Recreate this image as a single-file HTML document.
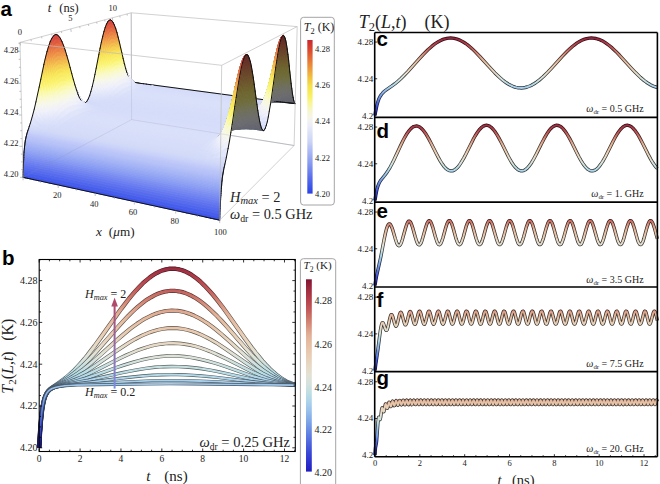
<!DOCTYPE html>
<html><head><meta charset="utf-8"><style>
html,body{margin:0;padding:0;background:#fff;width:660px;height:484px;overflow:hidden}
svg{display:block}
.srf path{fill:currentColor;stroke:currentColor;stroke-width:.9;stroke-linejoin:round}
.srf path.bl{fill:none;stroke:#111;stroke-width:1.0;stroke-linecap:round}
</style></head><body>
<svg width="660" height="484" viewBox="0 0 660 484" font-family="Liberation Serif">
<rect width="660" height="484" fill="#fff"/>
<path d="M131.2,12.8L131.6,119.6M131.6,119.6L294.1,145.5M23.1,177.3L131.6,119.6" stroke="#b8b8b8" stroke-width="0.8" fill="none"/>
<g class="srf">
<path color="#62646f" d="M130.3 80.9 130.6 81.0 131.8 82.0 131.4 81.9Z"/>
<path color="#62646f" d="M130.6 81.0 130.9 81.1 132.1 82.0 131.8 82.0Z"/>
<path color="#62646f" d="M130.9 81.1 131.3 81.3 132.4 82.1 132.1 82.0Z"/>
<path color="#61646f" d="M131.3 81.3 131.6 81.4 132.8 82.1 132.4 82.1Z"/>
<path color="#61646f" d="M131.6 81.4 132.0 81.6 133.2 82.2 132.8 82.1Z"/>
<path color="#61646f" d="M132.0 81.6 132.4 81.7 133.6 82.3 133.2 82.2Z"/>
<path color="#61646f" d="M132.4 81.7 132.9 81.9 134.0 82.4 133.6 82.3Z"/>
<path color="#61646f" d="M132.9 81.9 133.4 82.0 134.5 82.4 134.0 82.4Z"/>
<path color="#61646f" d="M133.4 82.0 133.9 82.2 135.1 82.5 134.5 82.4Z"/>
<path color="#61646f" d="M133.9 82.2 134.5 82.3 135.6 82.6 135.1 82.5Z"/>
<path color="#d6ddf9" d="M134.5 82.3 135.1 82.5 136.3 82.7 135.6 82.6Z"/>
<path color="#64666f" d="M129.1 78.9 129.4 79.1 130.6 81.0 130.3 80.9Z"/>
<path color="#63666f" d="M129.4 79.1 129.8 79.4 130.9 81.1 130.6 81.0Z"/>
<path color="#63666f" d="M129.8 79.4 130.1 79.7 131.3 81.3 130.9 81.1Z"/>
<path color="#d6ddf9" d="M135.1 82.5 135.9 82.7 137.0 82.8 136.3 82.7Z"/>
<path color="#63656f" d="M130.1 79.7 130.5 79.9 131.6 81.4 131.3 81.3Z"/>
<path color="#63656f" d="M130.5 79.9 130.9 80.2 132.0 81.6 131.6 81.4Z"/>
<path color="#d6ddf9" d="M135.9 82.7 136.7 82.9 137.9 82.9 137.0 82.8Z"/>
<path color="#63656f" d="M130.9 80.2 131.3 80.5 132.4 81.7 132.0 81.6Z"/>
<path color="#63656f" d="M131.3 80.5 131.7 80.8 132.9 81.9 132.4 81.7Z"/>
<path color="#d6ddf9" d="M136.7 82.9 137.7 83.1 138.8 83.1 137.9 82.9Z"/>
<path color="#62656f" d="M131.7 80.8 132.2 81.1 133.4 82.0 132.9 81.9Z"/>
<path color="#62656f" d="M132.2 81.1 132.8 81.3 133.9 82.2 133.4 82.0Z"/>
<path color="#62656f" d="M132.8 81.3 133.3 81.6 134.5 82.3 133.9 82.2Z"/>
<path color="#d5ddf9" d="M137.7 83.1 138.9 83.4 140.0 83.3 138.8 83.1Z"/>
<path color="#62656f" d="M133.3 81.6 134.0 81.9 135.1 82.5 134.5 82.3Z"/>
<path color="#62646f" d="M134.0 81.9 134.7 82.3 135.9 82.7 135.1 82.5Z"/>
<path color="#d5ddf9" d="M138.9 83.4 140.3 83.7 141.4 83.5 140.0 83.3Z"/>
<path color="#67686f" d="M127.9 76.1 128.3 76.5 129.4 79.1 129.1 78.9Z"/>
<path color="#66686f" d="M128.3 76.5 128.6 76.9 129.8 79.4 129.4 79.1Z"/>
<path color="#66686f" d="M128.6 76.9 128.9 77.4 130.1 79.7 129.8 79.4Z"/>
<path color="#62646f" d="M134.7 82.3 135.6 82.6 136.7 82.9 135.9 82.7Z"/>
<path color="#66676f" d="M128.9 77.4 129.3 77.8 130.5 79.9 130.1 79.7Z"/>
<path color="#65676f" d="M129.3 77.8 129.7 78.3 130.9 80.2 130.5 79.9Z"/>
<path color="#65676f" d="M129.7 78.3 130.1 78.7 131.3 80.5 130.9 80.2Z"/>
<path color="#d7def9" d="M135.6 82.6 136.5 82.9 137.7 83.1 136.7 82.9Z"/>
<path color="#65676f" d="M130.1 78.7 130.6 79.1 131.7 80.8 131.3 80.5Z"/>
<path color="#d5ddf9" d="M140.3 83.7 142.2 84.0 143.4 83.7 141.4 83.5Z"/>
<path color="#64666f" d="M130.6 79.1 131.1 79.6 132.2 81.1 131.7 80.8Z"/>
<path color="#64666f" d="M131.1 79.6 131.6 80.1 132.8 81.3 132.2 81.1Z"/>
<path color="#d7def9" d="M136.5 82.9 137.7 83.3 138.9 83.4 137.7 83.1Z"/>
<path color="#64666f" d="M131.6 80.1 132.2 80.5 133.3 81.6 132.8 81.3Z"/>
<path color="#63666f" d="M132.2 80.5 132.8 81.0 134.0 81.9 133.3 81.6Z"/>
<path color="#d6ddf9" d="M137.7 83.3 139.2 83.7 140.3 83.7 138.9 83.4Z"/>
<path color="#63656f" d="M132.8 81.0 133.6 81.5 134.7 82.3 134.0 81.9Z"/>
<path color="#d5dcf9" d="M142.2 84.0 145.1 84.5 146.3 84.1 143.4 83.7Z"/>
<path color="#63656f" d="M133.6 81.5 134.4 82.0 135.6 82.6 134.7 82.3Z"/>
<path color="#6b6b6f" d="M126.8 72.5 127.1 73.2 128.3 76.5 127.9 76.1Z"/>
<path color="#6a6b6f" d="M127.1 73.2 127.4 73.8 128.6 76.9 128.3 76.5Z"/>
<path color="#d6ddf9" d="M139.2 83.7 141.1 84.2 142.2 84.0 140.3 83.7Z"/>
<path color="#62656f" d="M134.4 82.0 135.4 82.5 136.5 82.9 135.6 82.6Z"/>
<path color="#6a6a6f" d="M127.4 73.8 127.7 74.4 128.9 77.4 128.6 76.9Z"/>
<path color="#696a6f" d="M127.7 74.4 128.1 75.1 129.3 77.8 128.9 77.4Z"/>
<path color="#69696f" d="M128.1 75.1 128.5 75.7 129.7 78.3 129.3 77.8Z"/>
<path color="#68696f" d="M128.5 75.7 128.9 76.4 130.1 78.7 129.7 78.3Z"/>
<path color="#67696f" d="M128.9 76.4 129.4 77.0 130.6 79.1 130.1 78.7Z"/>
<path color="#d9dff9" d="M135.4 82.5 136.6 83.1 137.7 83.3 136.5 82.9Z"/>
<path color="#67686f" d="M129.4 77.0 129.9 77.7 131.1 79.6 130.6 79.1Z"/>
<path color="#66686f" d="M129.9 77.7 130.4 78.4 131.6 80.1 131.1 79.6Z"/>
<path color="#66676f" d="M130.4 78.4 131.0 79.0 132.2 80.5 131.6 80.1Z"/>
<path color="#d8dff9" d="M136.6 83.1 138.0 83.6 139.2 83.7 137.7 83.3Z"/>
<path color="#65676f" d="M131.0 79.0 131.7 79.7 132.8 81.0 132.2 80.5Z"/>
<path color="#d6ddf9" d="M141.1 84.2 144.0 84.8 145.1 84.5 142.2 84.0Z"/>
<path color="#d5dcf9" d="M144.9 84.6 148.6 85.2 150.0 84.6 146.3 84.1Z"/>
<path color="#65676f" d="M131.7 79.7 132.4 80.4 133.6 81.5 132.8 81.0Z"/>
<path color="#64666f" d="M132.4 80.4 133.3 81.1 134.4 82.0 133.6 81.5Z"/>
<path color="#d7def9" d="M138.0 83.6 140.0 84.3 141.1 84.2 139.2 83.7Z"/>
<path color="#64666f" d="M133.3 81.1 134.2 81.9 135.4 82.5 134.4 82.0Z"/>
<path color="#dbe1f9" d="M134.2 81.9 135.4 82.6 136.6 83.1 135.4 82.5Z"/>
<path color="#6d6d6c" d="M125.6 68.3 125.9 69.2 127.1 73.2 126.8 72.5Z"/>
<path color="#6d6d6c" d="M125.9 69.2 126.2 70.1 127.4 73.8 127.1 73.2Z"/>
<path color="#6c6d6d" d="M126.2 70.1 126.6 70.9 127.7 74.4 127.4 73.8Z"/>
<path color="#6c6c6d" d="M126.6 70.9 126.9 71.8 128.1 75.1 127.7 74.4Z"/>
<path color="#6c6c6e" d="M126.9 71.8 127.3 72.7 128.5 75.7 128.1 75.1Z"/>
<path color="#6b6b6f" d="M127.3 72.7 127.7 73.6 128.9 76.4 128.5 75.7Z"/>
<path color="#6b6b6f" d="M127.7 73.6 128.2 74.5 129.4 77.0 128.9 76.4Z"/>
<path color="#6a6b6f" d="M128.2 74.5 128.7 75.4 129.9 77.7 129.4 77.0Z"/>
<path color="#d6ddf9" d="M140.0 84.3 142.9 85.1 144.0 84.8 141.1 84.2Z"/>
<path color="#dae0f9" d="M135.4 82.6 136.9 83.4 138.0 83.6 136.6 83.1Z"/>
<path color="#696a6f" d="M128.7 75.4 129.2 76.3 130.4 78.4 129.9 77.7Z"/>
<path color="#d5dcf9" d="M148.6 85.2 152.4 85.7 153.8 85.1 150.0 84.6Z"/>
<path color="#68696f" d="M129.2 76.3 129.8 77.2 131.0 79.0 130.4 78.4Z"/>
<path color="#67696f" d="M129.8 77.2 130.5 78.2 131.7 79.7 131.0 79.0Z"/>
<path color="#d5ddf9" d="M143.4 85.0 147.2 85.7 148.6 85.2 144.9 84.6Z"/>
<path color="#67686f" d="M130.5 78.2 131.2 79.1 132.4 80.4 131.7 79.7Z"/>
<path color="#d9dff9" d="M136.9 83.4 138.8 84.3 140.0 84.3 138.0 83.6Z"/>
<path color="#66686f" d="M131.2 79.1 132.1 80.1 133.3 81.1 132.4 80.4Z"/>
<path color="#e0e5fa" d="M132.1 80.1 133.1 81.0 134.2 81.9 133.3 81.1Z"/>
<path color="#dee3fa" d="M133.1 81.0 134.2 82.0 135.4 82.6 134.2 81.9Z"/>
<path color="#d7def9" d="M138.8 84.3 141.7 85.3 142.9 85.1 140.0 84.3Z"/>
<path color="#dce2f9" d="M134.2 82.0 135.7 83.1 136.9 83.4 135.4 82.6Z"/>
<path color="#d5dcf9" d="M147.2 85.7 151.0 86.3 152.4 85.7 148.6 85.2Z"/>
<path color="#6e6e6b" d="M125.7 68.1 126.1 69.3 127.3 72.7 126.9 71.8Z"/>
<path color="#6d6d6c" d="M126.1 69.3 126.6 70.5 127.7 73.6 127.3 72.7Z"/>
<path color="#6e6e69" d="M125.3 67.0 125.7 68.1 126.9 71.8 126.6 70.9Z"/>
<path color="#6d6d6c" d="M126.6 70.5 127.0 71.6 128.2 74.5 127.7 73.6Z"/>
<path color="#6e6e67" d="M125.0 65.8 125.3 67.0 126.6 70.9 126.2 70.1Z"/>
<path color="#6e6e64" d="M124.7 64.7 125.0 65.8 126.2 70.1 125.9 69.2Z"/>
<path color="#6c6c6d" d="M127.0 71.6 127.5 72.8 128.7 75.4 128.2 74.5Z"/>
<path color="#6e6e62" d="M124.3 63.5 124.7 64.7 125.9 69.2 125.6 68.3Z"/>
<path color="#6b6c6e" d="M127.5 72.8 128.1 74.0 129.2 76.3 128.7 75.4Z"/>
<path color="#6b6b6f" d="M128.1 74.0 128.6 75.2 129.8 77.2 129.2 76.3Z"/>
<path color="#6a6b6f" d="M128.6 75.2 129.3 76.4 130.5 78.2 129.8 77.2Z"/>
<path color="#dae1f9" d="M135.7 83.1 137.7 84.2 138.8 84.3 136.9 83.4Z"/>
<path color="#eaedfa" d="M129.3 76.4 130.1 77.6 131.2 79.1 130.5 78.2Z"/>
<path color="#d6ddf9" d="M142.0 85.2 145.8 86.1 147.2 85.7 143.4 85.0Z"/>
<path color="#e8eafa" d="M130.1 77.6 130.9 78.8 132.1 80.1 131.2 79.1Z"/>
<path color="#e5e8fa" d="M130.9 78.8 131.9 80.0 133.1 81.0 132.1 80.1Z"/>
<path color="#e2e6fa" d="M131.9 80.0 133.1 81.3 134.2 82.0 133.1 81.0Z"/>
<path color="#d9dff9" d="M137.7 84.2 140.6 85.4 141.7 85.3 138.8 84.3Z"/>
<path color="#dfe4fa" d="M133.1 81.3 134.5 82.6 135.7 83.1 134.2 82.0Z"/>
<path class="bl" d="M131.4 81.9 131.8 82.0"/>
<path color="#d5ddf9" d="M145.8 86.1 149.6 86.9 151.0 86.3 147.2 85.7Z"/>
<path class="bl" d="M131.8 82.0 132.1 82.0"/>
<path color="#dce2fa" d="M134.5 82.6 136.5 84.0 137.7 84.2 135.7 83.1Z"/>
<path class="bl" d="M132.1 82.0 132.4 82.1"/>
<path color="#f7f7ed" d="M125.8 68.5 126.3 70.0 127.5 72.8 127.0 71.6Z"/>
<path color="#f5f6f1" d="M126.3 70.0 126.9 71.5 128.1 74.0 127.5 72.8Z"/>
<path color="#f7f7e6" d="M125.3 67.1 125.8 68.5 127.0 71.6 126.6 70.5Z"/>
<path color="#f4f4f3" d="M126.9 71.5 127.5 72.9 128.6 75.2 128.1 74.0Z"/>
<path color="#f8f8df" d="M124.9 65.6 125.3 67.1 126.6 70.5 126.1 69.3Z"/>
<path color="#f2f2f6" d="M127.5 72.9 128.1 74.4 129.3 76.4 128.6 75.2Z"/>
<path color="#f8f8d8" d="M124.5 64.2 124.9 65.6 126.1 69.3 125.7 68.1Z"/>
<path class="bl" d="M132.4 82.1 132.8 82.1"/>
<path color="#f0f1f9" d="M128.1 74.4 128.9 75.9 130.1 77.6 129.3 76.4Z"/>
<path color="#f9f9d0" d="M124.1 62.7 124.5 64.2 125.7 68.1 125.3 67.0Z"/>
<path color="#d7def9" d="M140.6 85.4 144.4 86.6 145.8 86.1 142.0 85.2Z"/>
<path color="#f9f9c6" d="M123.8 61.3 124.1 62.7 125.3 67.0 125.0 65.8Z"/>
<path color="#edeffb" d="M128.9 75.9 129.7 77.4 130.9 78.8 130.1 77.6Z"/>
<path color="#faf9bb" d="M123.4 59.8 123.8 61.3 125.0 65.8 124.7 64.7Z"/>
<path class="bl" d="M132.8 82.1 133.2 82.2"/>
<path color="#6f6f52" d="M123.1 58.4 123.4 59.8 124.7 64.7 124.3 63.5Z"/>
<path color="#eaecfa" d="M129.7 77.4 130.7 79.0 131.9 80.0 130.9 78.8Z"/>
<path class="bl" d="M133.2 82.2 133.6 82.3M130.3 80.9 131.4 81.9M133.6 82.3 134.0 82.4"/>
<path color="#e6e9fa" d="M130.7 79.0 131.9 80.5 133.1 81.3 131.9 80.0Z"/>
<path color="#dae0f9" d="M136.5 84.0 139.4 85.5 140.6 85.4 137.7 84.2Z"/>
<path class="bl" d="M134.0 82.4 134.5 82.4"/>
<path color="#e2e7fa" d="M131.9 80.5 133.4 82.1 134.5 82.6 133.1 81.3Z"/>
<path class="bl" d="M134.5 82.4 135.1 82.5M135.1 82.5 135.6 82.6"/>
<path color="#dfe4fa" d="M133.4 82.1 135.3 83.8 136.5 84.0 134.5 82.6Z"/>
<path class="bl" d="M135.6 82.6 136.3 82.7"/>
<path color="#d6ddf9" d="M144.4 86.6 148.2 87.4 149.6 86.9 145.8 86.1Z"/>
<path class="bl" d="M136.3 82.7 137.0 82.8"/>
<path color="#f6f6f0" d="M126.2 70.6 126.9 72.4 128.1 74.4 127.5 72.9Z"/>
<path color="#f7f7eb" d="M125.6 68.8 126.2 70.6 127.5 72.9 126.9 71.5Z"/>
<path color="#f3f4f4" d="M126.9 72.4 127.7 74.2 128.9 75.9 128.1 74.4Z"/>
<path color="#f8f8e2" d="M125.1 67.0 125.6 68.8 126.9 71.5 126.3 70.0Z"/>
<path color="#f8f8d9" d="M124.6 65.3 125.1 67.0 126.3 70.0 125.8 68.5Z"/>
<path color="#f1f2f7" d="M127.7 74.2 128.5 76.0 129.7 77.4 128.9 75.9Z"/>
<path color="#d8dff9" d="M139.1 85.5 142.9 86.9 144.4 86.6 140.6 85.4Z"/>
<path color="#f9f9d0" d="M124.1 63.5 124.6 65.3 125.8 68.5 125.3 67.1Z"/>
<path class="bl" d="M137.0 82.8 137.9 82.9"/>
<path color="#eff0fa" d="M128.5 76.0 129.5 77.8 130.7 79.0 129.7 77.4Z"/>
<path color="#f9f9c3" d="M123.7 61.8 124.1 63.5 125.3 67.1 124.9 65.6Z"/>
<path color="#dbe1f9" d="M135.3 83.8 138.3 85.6 139.4 85.5 136.5 84.0Z"/>
<path color="#faf9b5" d="M123.3 60.0 123.7 61.8 124.9 65.6 124.5 64.2Z"/>
<path class="bl" d="M129.1 78.9 130.3 80.9"/>
<path color="#eaecfa" d="M129.5 77.8 130.7 79.7 131.9 80.5 130.7 79.0Z"/>
<path color="#faf9a7" d="M122.9 58.3 123.3 60.0 124.5 64.2 124.1 62.7Z"/>
<path color="#fbf898" d="M122.6 56.5 122.9 58.3 124.1 62.7 123.8 61.3Z"/>
<path class="bl" d="M137.9 82.9 138.8 83.1"/>
<path color="#fbf689" d="M122.2 54.8 122.6 56.5 123.8 61.3 123.4 59.8Z"/>
<path color="#e6e9fa" d="M130.7 79.7 132.2 81.6 133.4 82.1 131.9 80.5Z"/>
<path color="#fbf47b" d="M121.9 53.0 122.2 54.8 123.4 59.8 123.1 58.4Z"/>
<path class="bl" d="M138.8 83.1 140.0 83.3"/>
<path color="#e1e6fa" d="M132.2 81.6 134.2 83.5 135.3 83.8 133.4 82.1Z"/>
<path color="#d6def9" d="M142.9 86.9 146.7 87.9 148.2 87.4 144.4 86.6Z"/>
<path class="bl" d="M140.0 83.3 141.4 83.5"/>
<path color="#dde3fa" d="M134.2 83.5 137.1 85.6 138.3 85.6 135.3 83.8Z"/>
<path color="#f7f7ef" d="M125.7 70.3 126.5 72.4 127.7 74.2 126.9 72.4Z"/>
<path color="#f4f4f3" d="M126.5 72.4 127.3 74.5 128.5 76.0 127.7 74.2Z"/>
<path color="#f8f8e4" d="M125.0 68.2 125.7 70.3 126.9 72.4 126.2 70.6Z"/>
<path color="#f1f2f7" d="M127.3 74.5 128.3 76.6 129.5 77.8 128.5 76.0Z"/>
<path color="#f8f8da" d="M124.4 66.1 125.0 68.2 126.2 70.6 125.6 68.8Z"/>
<path color="#d9e0f9" d="M137.7 85.6 141.5 87.3 142.9 86.9 139.1 85.5Z"/>
<path color="#f9f9cf" d="M123.9 64.0 124.4 66.1 125.6 68.8 125.1 67.0Z"/>
<path color="#eff0fa" d="M128.3 76.6 129.5 78.8 130.7 79.7 129.5 77.8Z"/>
<path color="#f9f9bf" d="M123.4 62.0 123.9 64.0 125.1 67.0 124.6 65.3Z"/>
<path class="bl" d="M141.4 83.5 143.4 83.7"/>
<path color="#faf9ae" d="M122.9 59.9 123.4 62.0 124.6 65.3 124.1 63.5Z"/>
<path color="#e9ecfa" d="M129.5 78.8 131.0 81.0 132.2 81.6 130.7 79.7Z"/>
<path class="bl" d="M127.9 76.1 129.1 78.9"/>
<path color="#fbf89d" d="M122.5 57.8 122.9 59.9 124.1 63.5 123.7 61.8Z"/>
<path color="#fbf68b" d="M122.1 55.8 122.5 57.8 123.7 61.8 123.3 60.0Z"/>
<path color="#fbf47a" d="M121.7 53.7 122.1 55.8 123.3 60.0 122.9 58.3Z"/>
<path color="#e4e8fa" d="M131.0 81.0 133.0 83.3 134.2 83.5 132.2 81.6Z"/>
<path color="#faf16e" d="M121.3 51.7 121.7 53.7 122.9 58.3 122.6 56.5Z"/>
<path color="#faee68" d="M121.0 49.6 121.3 51.7 122.6 56.5 122.2 54.8Z"/>
<path color="#f9ea62" d="M120.6 47.6 121.0 49.6 122.2 54.8 121.9 53.0Z"/>
<path class="bl" d="M143.4 83.7 146.3 84.1"/>
<path color="#dee4fa" d="M133.0 83.3 135.9 85.7 137.1 85.6 134.2 83.5Z"/>
<path color="#d7def9" d="M141.5 87.3 145.3 88.4 146.7 87.9 142.9 86.9Z"/>
<path color="#f7f7ee" d="M125.2 70.6 126.1 73.1 127.3 74.5 126.5 72.4Z"/>
<path color="#f4f4f3" d="M126.1 73.1 127.1 75.5 128.3 76.6 127.3 74.5Z"/>
<path color="#f8f8e1" d="M124.5 68.2 125.2 70.6 126.5 72.4 125.7 70.3Z"/>
<path color="#f1f2f7" d="M127.1 75.5 128.3 78.0 129.5 78.8 128.3 76.6Z"/>
<path color="#f8f8d5" d="M123.8 65.9 124.5 68.2 125.7 70.3 125.0 68.2Z"/>
<path color="#dae0f9" d="M136.2 85.7 140.0 87.6 141.5 87.3 137.7 85.6Z"/>
<path color="#f9f9c5" d="M123.2 63.5 123.8 65.9 125.0 68.2 124.4 66.1Z"/>
<path color="#edeefb" d="M128.3 78.0 129.8 80.5 131.0 81.0 129.5 78.8Z"/>
<path color="#faf9b2" d="M122.7 61.1 123.2 63.5 124.4 66.1 123.9 64.0Z"/>
<path color="#fbf99e" d="M122.1 58.7 122.7 61.1 123.9 64.0 123.4 62.0Z"/>
<path color="#e7eafa" d="M129.8 80.5 131.8 83.0 133.0 83.3 131.0 81.0Z"/>
<path color="#fbf68a" d="M121.7 56.4 122.1 58.7 123.4 62.0 122.9 59.9Z"/>
<path class="bl" d="M126.8 72.5 127.9 76.1"/>
<path color="#fbf475" d="M121.2 54.0 121.7 56.4 122.9 59.9 122.5 57.8Z"/>
<path class="bl" d="M146.3 84.1 150.0 84.6"/>
<path color="#faf06c" d="M120.8 51.6 121.2 54.0 122.5 57.8 122.1 55.8Z"/>
<path color="#f9ec64" d="M120.4 49.3 120.8 51.6 122.1 55.8 121.7 53.7Z"/>
<path color="#e0e5fa" d="M131.8 83.0 134.7 85.7 135.9 85.7 133.0 83.3Z"/>
<path color="#f8e75d" d="M120.1 46.9 120.4 49.3 121.7 53.7 121.3 51.7Z"/>
<path color="#f7e058" d="M119.7 44.6 120.1 46.9 121.3 51.7 121.0 49.6Z"/>
<path color="#d8def9" d="M140.0 87.6 143.9 88.9 145.3 88.4 141.5 87.3Z"/>
<path color="#f6d655" d="M119.4 42.2 119.7 44.6 121.0 49.6 120.6 47.6Z"/>
<path color="#f7f7ef" d="M124.9 71.7 125.9 74.4 127.1 75.5 126.1 73.1Z"/>
<path color="#f3f3f4" d="M125.9 74.4 127.1 77.2 128.3 78.0 127.1 75.5Z"/>
<path color="#f8f8e2" d="M124.0 69.0 124.9 71.7 126.1 73.1 125.2 70.6Z"/>
<path color="#f8f8d4" d="M123.3 66.3 124.0 69.0 125.2 70.6 124.5 68.2Z"/>
<path color="#eff0f9" d="M127.1 77.2 128.6 80.0 129.8 80.5 128.3 78.0Z"/>
<path color="#f9f9c1" d="M122.6 63.6 123.3 66.3 124.5 68.2 123.8 65.9Z"/>
<path color="#dbe1f9" d="M134.7 85.7 138.5 88.0 140.0 87.6 136.2 85.7Z"/>
<path color="#faf9ab" d="M122.0 61.0 122.6 63.6 123.8 65.9 123.2 63.5Z"/>
<path color="#e9ecfa" d="M128.6 80.0 130.6 82.8 131.8 83.0 129.8 80.5Z"/>
<path color="#fbf794" d="M121.4 58.3 122.0 61.0 123.2 63.5 122.7 61.1Z"/>
<path class="bl" d="M150.0 84.6 153.8 85.1"/>
<path color="#fbf57d" d="M120.9 55.7 121.4 58.3 122.7 61.1 122.1 58.7Z"/>
<path color="#faf16d" d="M120.4 53.0 120.9 55.7 122.1 58.7 121.7 56.4Z"/>
<path color="#e2e6fa" d="M130.6 82.8 133.6 85.8 134.7 85.7 131.8 83.0Z"/>
<path color="#f9ec65" d="M120.0 50.3 120.4 53.0 121.7 56.4 121.2 54.0Z"/>
<path class="bl" d="M125.6 68.3 126.8 72.5"/>
<path color="#f8e85e" d="M119.6 47.7 120.0 50.3 121.2 54.0 120.8 51.6Z"/>
<path color="#f7df58" d="M119.2 45.0 119.6 47.7 120.8 51.6 120.4 49.3Z"/>
<path color="#d8dff9" d="M138.5 88.0 142.4 89.5 143.9 88.9 140.0 87.6Z"/>
<path color="#f6d354" d="M118.8 42.4 119.2 45.0 120.4 49.3 120.1 46.9Z"/>
<path color="#f5f5f1" d="M124.7 73.5 125.9 76.5 127.1 77.2 125.9 74.4Z"/>
<path color="#f7f7e7" d="M123.7 70.5 124.7 73.5 125.9 74.4 124.9 71.7Z"/>
<path color="#f1f2f7" d="M125.9 76.5 127.4 79.6 128.6 80.0 127.1 77.2Z"/>
<path color="#f8f8d7" d="M122.8 67.5 123.7 70.5 124.9 71.7 124.0 69.0Z"/>
<path color="#f5c750" d="M118.5 39.8 118.8 42.4 120.1 46.9 119.7 44.6Z"/>
<path color="#f9f9c4" d="M122.0 64.6 122.8 67.5 124.0 69.0 123.3 66.3Z"/>
<path color="#ecedfa" d="M127.4 79.6 129.4 82.7 130.6 82.8 128.6 80.0Z"/>
<path color="#faf9ab" d="M121.4 61.6 122.0 64.6 123.3 66.3 122.6 63.6Z"/>
<path color="#f3ba4e" d="M118.1 37.1 118.5 39.8 119.7 44.6 119.4 42.2Z"/>
<path color="#dce2fa" d="M133.2 85.9 137.1 88.4 138.5 88.0 134.7 85.7Z"/>
<path color="#fbf792" d="M120.7 58.7 121.4 61.6 122.6 63.6 122.0 61.0Z"/>
<path color="#fbf479" d="M120.2 55.8 120.7 58.7 122.0 61.0 121.4 58.3Z"/>
<path color="#e4e8fa" d="M129.4 82.7 132.4 85.9 133.6 85.8 130.6 82.8Z"/>
<path color="#faf06b" d="M119.7 52.9 120.2 55.8 121.4 58.3 120.9 55.7Z"/>
<path color="#f9ea62" d="M119.2 49.9 119.7 52.9 120.9 55.7 120.4 53.0Z"/>
<path color="#f8e55a" d="M118.7 47.0 119.2 49.9 120.4 53.0 120.0 50.3Z"/>
<path color="#f6d855" d="M118.3 44.1 118.7 47.0 120.0 50.3 119.6 47.7Z"/>
<path color="#f7f7ef" d="M123.5 72.7 124.7 76.0 125.9 76.5 124.7 73.5Z"/>
<path color="#f2f3f5" d="M124.7 76.0 126.2 79.3 127.4 79.6 125.9 76.5Z"/>
<path color="#f8f8de" d="M122.4 69.5 123.5 72.7 124.7 73.5 123.7 70.5Z"/>
<path class="bl" d="M124.3 63.5 125.6 68.3"/>
<path color="#d9dff9" d="M137.1 88.4 140.9 90.0 142.4 89.5 138.5 88.0Z"/>
<path color="#f9f9cd" d="M121.6 66.3 122.4 69.5 123.7 70.5 122.8 67.5Z"/>
<path color="#f5cb51" d="M117.9 41.2 118.3 44.1 119.6 47.7 119.2 45.0Z"/>
<path color="#eeeffb" d="M126.2 79.3 128.2 82.6 129.4 82.7 127.4 79.6Z"/>
<path color="#faf9b2" d="M120.8 63.1 121.6 66.3 122.8 67.5 122.0 64.6Z"/>
<path color="#f3bb4e" d="M117.5 38.3 117.9 41.2 119.2 45.0 118.8 42.4Z"/>
<path color="#fbf897" d="M120.1 59.9 120.8 63.1 122.0 64.6 121.4 61.6Z"/>
<path color="#f2ac4c" d="M117.2 35.3 117.5 38.3 118.8 42.4 118.5 39.8Z"/>
<path color="#e5e9fa" d="M128.2 82.6 131.2 86.1 132.4 85.9 129.4 82.7Z"/>
<path color="#fbf47b" d="M119.5 56.8 120.1 59.9 121.4 61.6 120.7 58.7Z"/>
<path color="#dde3fa" d="M131.7 86.0 135.6 88.8 137.1 88.4 133.2 85.9Z"/>
<path color="#ef9d4a" d="M116.9 32.4 117.2 35.3 118.5 39.8 118.1 37.1Z"/>
<path color="#faf06b" d="M118.9 53.6 119.5 56.8 120.7 58.7 120.2 55.8Z"/>
<path color="#f9ea61" d="M118.4 50.4 118.9 53.6 120.2 55.8 119.7 52.9Z"/>
<path color="#f8e259" d="M117.9 47.3 118.4 50.4 119.7 52.9 119.2 49.9Z"/>
<path color="#f7f7e9" d="M122.2 72.2 123.4 75.6 124.7 76.0 123.5 72.7Z"/>
<path color="#f4f4f3" d="M123.4 75.6 125.0 79.1 126.2 79.3 124.7 76.0Z"/>
<path color="#f6d454" d="M117.5 44.1 117.9 47.3 119.2 49.9 118.7 47.0Z"/>
<path color="#f8f8d7" d="M121.2 68.7 122.2 72.2 123.5 72.7 122.4 69.5Z"/>
<path color="#eff0fa" d="M125.0 79.1 127.0 82.7 128.2 82.6 126.2 79.3Z"/>
<path color="#f9f9c0" d="M120.3 65.3 121.2 68.7 122.4 69.5 121.6 66.3Z"/>
<path color="#f5c650" d="M117.1 40.9 117.5 44.1 118.7 47.0 118.3 44.1Z"/>
<path color="#d9e0f9" d="M135.6 88.8 139.4 90.5 140.9 90.0 137.1 88.4Z"/>
<path color="#fbf9a3" d="M119.5 61.9 120.3 65.3 121.6 66.3 120.8 63.1Z"/>
<path color="#f3b54e" d="M116.7 37.8 117.1 40.9 118.3 44.1 117.9 41.2Z"/>
<path color="#e6eafa" d="M127.0 82.7 129.9 86.4 131.2 86.1 128.2 82.6Z"/>
<path color="#fbf685" d="M118.9 58.6 119.5 61.9 120.8 63.1 120.1 59.9Z"/>
<path color="#f1a44b" d="M116.3 34.6 116.7 37.8 117.9 41.2 117.5 38.3Z"/>
<path class="bl" d="M123.1 58.4 124.3 63.5"/>
<path color="#faf16e" d="M118.2 55.2 118.9 58.6 120.1 59.9 119.5 56.8Z"/>
<path color="#dee4fa" d="M130.2 86.3 134.1 89.3 135.6 88.8 131.7 86.0Z"/>
<path color="#ee9349" d="M115.9 31.5 116.3 34.6 117.5 38.3 117.2 35.3Z"/>
<path color="#f9eb64" d="M117.7 51.8 118.2 55.2 119.5 56.8 118.9 53.6Z"/>
<path color="#ea8346" d="M115.6 28.3 115.9 31.5 117.2 35.3 116.9 32.4Z"/>
<path color="#f8e55a" d="M117.1 48.4 117.7 51.8 118.9 53.6 118.4 50.4Z"/>
<path color="#f5f5f2" d="M122.2 75.4 123.7 79.1 125.0 79.1 123.4 75.6Z"/>
<path color="#f8f8e4" d="M121.0 71.8 122.2 75.4 123.4 75.6 122.2 72.2Z"/>
<path color="#f6d655" d="M116.7 45.1 117.1 48.4 118.4 50.4 117.9 47.3Z"/>
<path color="#f0f1f9" d="M123.7 79.1 125.7 82.8 127.0 82.7 125.0 79.1Z"/>
<path color="#f9f9d1" d="M120.0 68.2 121.0 71.8 122.2 72.2 121.2 68.7Z"/>
<path color="#faf9b5" d="M119.1 64.7 120.0 68.2 121.2 68.7 120.3 65.3Z"/>
<path color="#f5c650" d="M116.2 41.7 116.7 45.1 117.9 47.3 117.5 44.1Z"/>
<path color="#fbf896" d="M118.3 61.1 119.1 64.7 120.3 65.3 119.5 61.9Z"/>
<path color="#e7eafa" d="M125.7 82.8 128.7 86.7 129.9 86.4 127.0 82.7Z"/>
<path color="#f3b44d" d="M115.8 38.3 116.2 41.7 117.5 44.1 117.1 40.9Z"/>
<path color="#dae0f9" d="M134.1 89.3 138.0 91.1 139.4 90.5 135.6 88.8Z"/>
<path color="#fbf477" d="M117.6 57.6 118.3 61.1 119.5 61.9 118.9 58.6Z"/>
<path color="#f0a24b" d="M115.4 35.0 115.8 38.3 117.1 40.9 116.7 37.8Z"/>
<path color="#faee68" d="M117.0 54.0 117.6 57.6 118.9 58.6 118.2 55.2Z"/>
<path color="#ed9048" d="M115.0 31.6 115.4 35.0 116.7 37.8 116.3 34.6Z"/>
<path color="#dfe4fa" d="M128.7 86.7 132.5 89.8 134.1 89.3 130.2 86.3Z"/>
<path color="#f8e85e" d="M116.4 50.5 117.0 54.0 118.2 55.2 117.7 51.8Z"/>
<path color="#e97e45" d="M114.6 28.3 115.0 31.6 116.3 34.6 115.9 31.5Z"/>
<path color="#f5f6f1" d="M121.0 75.5 122.5 79.2 123.7 79.1 122.2 75.4Z"/>
<path color="#f8f8e1" d="M119.7 71.8 121.0 75.5 122.2 75.4 121.0 71.8Z"/>
<path color="#f7db56" d="M115.9 47.0 116.4 50.5 117.7 51.8 117.1 48.4Z"/>
<path color="#f0f1f8" d="M122.5 79.2 124.5 83.1 125.7 82.8 123.7 79.1Z"/>
<path class="bl" d="M121.9 53.0 123.1 58.4"/>
<path color="#f9f9cc" d="M118.7 68.1 119.7 71.8 121.0 71.8 120.0 68.2Z"/>
<path color="#e56d43" d="M114.3 24.9 114.6 28.3 115.9 31.5 115.6 28.3Z"/>
<path color="#f5cb51" d="M115.4 43.5 115.9 47.0 117.1 48.4 116.7 45.1Z"/>
<path color="#faf9ad" d="M117.8 64.4 118.7 68.1 120.0 68.2 119.1 64.7Z"/>
<path color="#e8ebfa" d="M124.5 83.1 127.5 87.0 128.7 86.7 125.7 82.8Z"/>
<path color="#fbf78d" d="M117.0 60.7 117.8 64.4 119.1 64.7 118.3 61.1Z"/>
<path color="#f3b84e" d="M114.9 39.9 115.4 43.5 116.7 45.1 116.2 41.7Z"/>
<path color="#d5dcf9" d="M152.4 85.7 267.1 101.0 268.2 100.3 153.8 85.1Z"/>
<path color="#faf26f" d="M116.3 57.0 117.0 60.7 118.3 61.1 117.6 57.6Z"/>
<path color="#f1a64b" d="M114.5 36.4 114.9 39.9 116.2 41.7 115.8 38.3Z"/>
<path color="#dae0f9" d="M132.5 89.8 136.4 91.7 138.0 91.1 134.1 89.3Z"/>
<path color="#f9ec64" d="M115.7 53.4 116.3 57.0 117.6 57.6 117.0 54.0Z"/>
<path color="#ee9349" d="M114.1 32.9 114.5 36.4 115.8 38.3 115.4 35.0Z"/>
<path color="#f8e459" d="M115.1 49.8 115.7 53.4 117.0 54.0 116.4 50.5Z"/>
<path color="#f6f6f0" d="M119.7 75.7 121.2 79.6 122.5 79.2 121.0 75.5Z"/>
<path color="#ea8046" d="M113.7 29.4 114.1 32.9 115.4 35.0 115.0 31.6Z"/>
<path color="#f8f8de" d="M118.5 72.0 119.7 75.7 121.0 75.5 119.7 71.8Z"/>
<path color="#f1f1f7" d="M121.2 79.6 123.3 83.5 124.5 83.1 122.5 79.2Z"/>
<path color="#dfe5fa" d="M127.1 87.2 131.0 90.4 132.5 89.8 128.7 86.7Z"/>
<path color="#f9f9c8" d="M117.4 68.2 118.5 72.0 119.7 71.8 118.7 68.1Z"/>
<path color="#f6d454" d="M114.6 46.1 115.1 49.8 116.4 50.5 115.9 47.0Z"/>
<path color="#e56d43" d="M113.4 25.8 113.7 29.4 115.0 31.6 114.6 28.3Z"/>
<path color="#faf9a8" d="M116.6 64.5 117.4 68.2 118.7 68.1 117.8 64.4Z"/>
<path color="#e9ebfa" d="M123.3 83.5 126.3 87.5 127.5 87.0 124.5 83.1Z"/>
<path color="#f4c24f" d="M114.1 42.5 114.6 46.1 115.9 47.0 115.4 43.5Z"/>
<path color="#df5b40" d="M113.0 22.3 113.4 25.8 114.6 28.3 114.3 24.9Z"/>
<path color="#fbf687" d="M115.8 60.7 116.6 64.5 117.8 64.4 117.0 60.7Z"/>
<path color="#f2af4d" d="M113.7 38.8 114.1 42.5 115.4 43.5 114.9 39.9Z"/>
<path color="#faf16d" d="M115.1 57.0 115.8 60.7 117.0 60.7 116.3 57.0Z"/>
<path class="bl" d="M120.6 47.6 121.9 53.0"/>
<path color="#d5dcf9" d="M151.0 86.3 266.1 101.7 267.1 101.0 152.4 85.7Z"/>
<path color="#ef9b4a" d="M113.2 35.2 113.7 38.8 114.9 39.9 114.5 36.4Z"/>
<path color="#f9ea62" d="M114.4 53.3 115.1 57.0 116.3 57.0 115.7 53.4Z"/>
<path color="#dae1f9" d="M131.0 90.4 134.9 92.4 136.4 91.7 132.5 89.8Z"/>
<path color="#f6f6f0" d="M118.4 76.3 120.0 80.1 121.2 79.6 119.7 75.7Z"/>
<path color="#ec8747" d="M112.8 31.5 113.2 35.2 114.5 36.4 114.1 32.9Z"/>
<path color="#f7e058" d="M113.9 49.6 114.4 53.3 115.7 53.4 115.1 49.8Z"/>
<path color="#f8f8de" d="M117.2 72.5 118.4 76.3 119.7 75.7 118.5 72.0Z"/>
<path color="#f1f2f7" d="M120.0 80.1 122.0 84.0 123.3 83.5 121.2 79.6Z"/>
<path color="#f9f9c7" d="M116.2 68.7 117.2 72.5 118.5 72.0 117.4 68.2Z"/>
<path color="#e77444" d="M112.4 27.9 112.8 31.5 114.1 32.9 113.7 29.4Z"/>
<path color="#f6cf52" d="M113.3 45.9 113.9 49.6 115.1 49.8 114.6 46.1Z"/>
<path color="#faf9a6" d="M115.3 64.9 116.2 68.7 117.4 68.2 116.6 64.5Z"/>
<path color="#e9ebfa" d="M122.0 84.0 125.0 88.1 126.3 87.5 123.3 83.5Z"/>
<path color="#e0e5fa" d="M125.6 87.8 129.5 91.1 131.0 90.4 127.1 87.2Z"/>
<path color="#e16141" d="M112.1 24.3 112.4 27.9 113.7 29.4 113.4 25.8Z"/>
<path color="#fbf685" d="M114.5 61.2 115.3 64.9 116.6 64.5 115.8 60.7Z"/>
<path color="#f4bd4f" d="M112.8 42.2 113.3 45.9 114.6 46.1 114.1 42.5Z"/>
<path color="#db4f3e" d="M111.7 20.6 112.1 24.3 113.4 25.8 113.0 22.3Z"/>
<path color="#faf06c" d="M113.8 57.4 114.5 61.2 115.8 60.7 115.1 57.0Z"/>
<path color="#f1a94c" d="M112.4 38.5 112.8 42.2 114.1 42.5 113.7 38.8Z"/>
<path color="#f9ea61" d="M113.2 53.7 113.8 57.4 115.1 57.0 114.4 53.3Z"/>
<path color="#ee9549" d="M112.0 34.7 112.4 38.5 113.7 38.8 113.2 35.2Z"/>
<path color="#f6f6f0" d="M117.2 77.0 118.7 80.8 120.0 80.1 118.4 76.3Z"/>
<path color="#f8f8de" d="M115.9 73.2 117.2 77.0 118.4 76.3 117.2 72.5Z"/>
<path color="#f1f1f7" d="M118.7 80.8 120.8 84.7 122.0 84.0 120.0 80.1Z"/>
<path color="#f7df58" d="M112.6 50.0 113.2 53.7 114.4 53.3 113.9 49.6Z"/>
<path color="#ea8146" d="M111.5 31.0 112.0 34.7 113.2 35.2 112.8 31.5Z"/>
<path color="#f9f9c8" d="M114.9 69.5 115.9 73.2 117.2 72.5 116.2 68.7Z"/>
<path color="#d5ddf9" d="M149.6 86.9 265.0 102.3 266.1 101.7 151.0 86.3Z"/>
<path color="#dae1f9" d="M129.5 91.1 133.4 93.1 134.9 92.4 131.0 90.4Z"/>
<path color="#faf9a8" d="M114.0 65.8 114.9 69.5 116.2 68.7 115.3 64.9Z"/>
<path color="#f6ce52" d="M112.1 46.3 112.6 50.0 113.9 49.6 113.3 45.9Z"/>
<path class="bl" d="M119.4 42.2 120.6 47.6"/>
<path color="#e9ebfa" d="M120.8 84.7 123.8 88.7 125.0 88.1 122.0 84.0Z"/>
<path color="#e56d43" d="M111.2 27.3 111.5 31.0 112.8 31.5 112.4 27.9Z"/>
<path color="#fbf687" d="M113.2 62.1 114.0 65.8 115.3 64.9 114.5 61.2Z"/>
<path color="#f3bb4e" d="M111.6 42.6 112.1 46.3 113.3 45.9 112.8 42.2Z"/>
<path color="#df593f" d="M110.8 23.6 111.2 27.3 112.4 27.9 112.1 24.3Z"/>
<path color="#e0e5fa" d="M124.0 88.6 127.9 91.8 129.5 91.1 125.6 87.8Z"/>
<path color="#faf16d" d="M112.5 58.4 113.2 62.1 114.5 61.2 113.8 57.4Z"/>
<path color="#f1a64b" d="M111.1 38.8 111.6 42.6 112.8 42.2 112.4 38.5Z"/>
<path color="#d7493f" d="M110.5 19.9 110.8 23.6 112.1 24.3 111.7 20.6Z"/>
<path color="#f9ea62" d="M111.9 54.7 112.5 58.4 113.8 57.4 113.2 53.7Z"/>
<path color="#f5f6f1" d="M115.9 78.0 117.5 81.7 118.7 80.8 117.2 77.0Z"/>
<path color="#ed9249" d="M110.7 35.1 111.1 38.8 112.4 38.5 112.0 34.7Z"/>
<path color="#f8f8e0" d="M114.7 74.3 115.9 78.0 117.2 77.0 115.9 73.2Z"/>
<path color="#f0f1f8" d="M117.5 81.7 119.5 85.5 120.8 84.7 118.7 80.8Z"/>
<path color="#f7e058" d="M111.3 51.0 111.9 54.7 113.2 53.7 112.6 50.0Z"/>
<path color="#f9f9cc" d="M113.6 70.7 114.7 74.3 115.9 73.2 114.9 69.5Z"/>
<path color="#e97e45" d="M110.3 31.4 110.7 35.1 112.0 34.7 111.5 31.0Z"/>
<path color="#faf9ad" d="M112.7 67.1 113.6 70.7 114.9 69.5 114.0 65.8Z"/>
<path color="#f6cf52" d="M110.8 47.3 111.3 51.0 112.6 50.0 112.1 46.3Z"/>
<path color="#e8ebfa" d="M119.5 85.5 122.5 89.4 123.8 88.7 120.8 84.7Z"/>
<path color="#fbf68c" d="M112.0 63.4 112.7 67.1 114.0 65.8 113.2 62.1Z"/>
<path color="#e56a42" d="M109.9 27.7 110.3 31.4 111.5 31.0 111.2 27.3Z"/>
<path color="#dae1f9" d="M127.9 91.8 131.9 93.8 133.4 93.1 129.5 91.1Z"/>
<path color="#f4bc4f" d="M110.3 43.7 110.8 47.3 112.1 46.3 111.6 42.6Z"/>
<path color="#d6ddf9" d="M148.2 87.4 264.0 102.9 265.0 102.3 149.6 86.9Z"/>
<path color="#faf26f" d="M111.3 59.8 112.0 63.4 113.2 62.1 112.5 58.4Z"/>
<path color="#de573f" d="M109.5 24.0 109.9 27.7 111.2 27.3 110.8 23.6Z"/>
<path color="#f1a84c" d="M109.8 40.0 110.3 43.7 111.6 42.6 111.1 38.8Z"/>
<path color="#f9eb64" d="M110.6 56.2 111.3 59.8 112.5 58.4 111.9 54.7Z"/>
<path color="#d64740" d="M109.2 20.2 109.5 24.0 110.8 23.6 110.5 19.9Z"/>
<path color="#dfe5fa" d="M122.4 89.5 126.4 92.7 127.9 91.8 124.0 88.6Z"/>
<path color="#f5f5f2" d="M114.6 79.2 116.2 82.8 117.5 81.7 115.9 78.0Z"/>
<path class="bl" d="M118.1 37.1 119.4 42.2"/>
<path color="#f8f8e4" d="M113.4 75.7 114.6 79.2 115.9 78.0 114.7 74.3Z"/>
<path color="#ee9449" d="M109.4 36.3 109.8 40.0 111.1 38.8 110.7 35.1Z"/>
<path color="#f8e459" d="M110.0 52.6 110.6 56.2 111.9 54.7 111.3 51.0Z"/>
<path color="#f0f1f9" d="M116.2 82.8 118.2 86.4 119.5 85.5 117.5 81.7Z"/>
<path color="#f9f9d1" d="M112.4 72.2 113.4 75.7 114.7 74.3 113.6 70.7Z"/>
<path color="#faf9b4" d="M111.5 68.7 112.4 72.2 113.6 70.7 112.7 67.1Z"/>
<path color="#ea8046" d="M109.0 32.6 109.4 36.3 110.7 35.1 110.3 31.4Z"/>
<path color="#f6d354" d="M109.5 49.0 110.0 52.6 111.3 51.0 110.8 47.3Z"/>
<path color="#fbf896" d="M110.7 65.2 111.5 68.7 112.7 67.1 112.0 63.4Z"/>
<path color="#e8eafa" d="M118.2 86.4 121.3 90.2 122.5 89.4 119.5 85.5Z"/>
<path color="#e56c43" d="M108.6 28.9 109.0 32.6 110.3 31.4 109.9 27.7Z"/>
<path color="#f4c24f" d="M109.0 45.5 109.5 49.0 110.8 47.3 110.3 43.7Z"/>
<path color="#fbf476" d="M110.0 61.7 110.7 65.2 112.0 63.4 111.3 59.8Z"/>
<path color="#df593f" d="M108.2 25.3 108.6 28.9 109.9 27.7 109.5 24.0Z"/>
<path color="#f2ae4d" d="M108.5 41.9 109.0 45.5 110.3 43.7 109.8 40.0Z"/>
<path color="#faee68" d="M109.3 58.3 110.0 61.7 111.3 59.8 110.6 56.2Z"/>
<path color="#dae1f9" d="M126.4 92.7 130.3 94.6 131.9 93.8 127.9 91.8Z"/>
<path color="#f7f7e9" d="M112.1 77.3 113.4 80.6 114.6 79.2 113.4 75.7Z"/>
<path color="#d7483f" d="M107.9 21.6 108.2 25.3 109.5 24.0 109.2 20.2Z"/>
<path color="#f4f4f3" d="M113.4 80.6 114.9 84.0 116.2 82.8 114.6 79.2Z"/>
<path color="#f8e75d" d="M108.7 54.8 109.3 58.3 110.6 56.2 110.0 52.6Z"/>
<path color="#ef9b4a" d="M108.1 38.3 108.5 41.9 109.8 40.0 109.4 36.3Z"/>
<path color="#d6ddf9" d="M146.7 87.9 262.9 103.5 264.0 102.9 148.2 87.4Z"/>
<path color="#f8f8d7" d="M111.1 74.0 112.1 77.3 113.4 75.7 112.4 72.2Z"/>
<path color="#eff0fa" d="M114.9 84.0 117.0 87.5 118.2 86.4 116.2 82.8Z"/>
<path color="#f9f9bf" d="M110.2 70.7 111.1 74.0 112.4 72.2 111.5 68.7Z"/>
<path color="#f7da56" d="M108.2 51.4 108.7 54.8 110.0 52.6 109.5 49.0Z"/>
<path color="#eb8747" d="M107.7 34.7 108.1 38.3 109.4 36.3 109.0 32.6Z"/>
<path color="#dfe4fa" d="M120.9 90.5 124.8 93.6 126.4 92.7 122.4 89.5Z"/>
<path color="#fbf9a2" d="M109.4 67.4 110.2 70.7 111.5 68.7 110.7 65.2Z"/>
<path color="#e7eafa" d="M117.0 87.5 120.0 91.1 121.3 90.2 118.2 86.4Z"/>
<path color="#f5cb51" d="M107.7 47.9 108.2 51.4 109.5 49.0 109.0 45.5Z"/>
<path color="#fbf684" d="M108.7 64.1 109.4 67.4 110.7 65.2 110.0 61.7Z"/>
<path color="#e77444" d="M107.3 31.1 107.7 34.7 109.0 32.6 108.6 28.9Z"/>
<path class="bl" d="M116.9 32.4 118.1 37.1"/>
<path color="#faf16d" d="M108.0 60.8 108.7 64.1 110.0 61.7 109.3 58.3Z"/>
<path color="#f3b84e" d="M107.2 44.5 107.7 47.9 109.0 45.5 108.5 41.9Z"/>
<path color="#e16041" d="M106.9 27.5 107.3 31.1 108.6 28.9 108.2 25.3Z"/>
<path color="#f9eb63" d="M107.5 57.5 108.0 60.8 109.3 58.3 108.7 54.8Z"/>
<path color="#f1a54b" d="M106.8 41.0 107.2 44.5 108.5 41.9 108.1 38.3Z"/>
<path color="#f7f7ef" d="M110.8 79.1 112.1 82.2 113.4 80.6 112.1 77.3Z"/>
<path color="#db4e3e" d="M106.6 23.9 106.9 27.5 108.2 25.3 107.9 21.6Z"/>
<path color="#f3f3f5" d="M112.1 82.2 113.6 85.4 114.9 84.0 113.4 80.6Z"/>
<path color="#f8f8de" d="M109.8 76.0 110.8 79.1 112.1 77.3 111.1 74.0Z"/>
<path color="#f9f9cc" d="M108.9 72.9 109.8 76.0 111.1 74.0 110.2 70.7Z"/>
<path color="#f8e459" d="M106.9 54.3 107.5 57.5 108.7 54.8 108.2 51.4Z"/>
<path color="#eeeffb" d="M113.6 85.4 115.7 88.7 117.0 87.5 114.9 84.0Z"/>
<path color="#ed9249" d="M106.4 37.6 106.8 41.0 108.1 38.3 107.7 34.7Z"/>
<path color="#faf9b1" d="M108.1 69.9 108.9 72.9 110.2 70.7 109.4 67.4Z"/>
<path color="#dae0f9" d="M124.8 93.6 128.8 95.5 130.3 94.6 126.4 92.7Z"/>
<path color="#f6d554" d="M106.4 51.0 106.9 54.3 108.2 51.4 107.7 47.9Z"/>
<path color="#fbf896" d="M107.4 66.8 108.1 69.9 109.4 67.4 108.7 64.1Z"/>
<path color="#ea7f46" d="M106.0 34.2 106.4 37.6 107.7 34.7 107.3 31.1Z"/>
<path color="#e5e9fa" d="M115.7 88.7 118.7 92.1 120.0 91.1 117.0 87.5Z"/>
<path color="#fbf47a" d="M106.7 63.7 107.4 66.8 108.7 64.1 108.0 60.8Z"/>
<path color="#f5c550" d="M106.0 47.8 106.4 51.0 107.7 47.9 107.2 44.5Z"/>
<path color="#d7def9" d="M145.3 88.4 261.8 104.1 262.9 103.5 146.7 87.9Z"/>
<path color="#e56c43" d="M105.6 30.7 106.0 34.2 107.3 31.1 106.9 27.5Z"/>
<path color="#dee4fa" d="M119.3 91.7 123.2 94.5 124.8 93.6 120.9 90.5Z"/>
<path color="#faef6b" d="M106.2 60.7 106.7 63.7 108.0 60.8 107.5 57.5Z"/>
<path color="#f3b34d" d="M105.5 44.5 106.0 47.8 107.2 44.5 106.8 41.0Z"/>
<path color="#df5a3f" d="M105.3 27.3 105.6 30.7 106.9 27.5 106.6 23.9Z"/>
<path color="#f5f5f1" d="M109.5 81.1 110.8 84.0 112.1 82.2 110.8 79.1Z"/>
<path color="#f7f7e6" d="M108.5 78.3 109.5 81.1 110.8 79.1 109.8 76.0Z"/>
<path color="#f9ea61" d="M105.6 57.7 106.2 60.7 107.5 57.5 106.9 54.3Z"/>
<path color="#f1f2f7" d="M110.8 84.0 112.3 86.9 113.6 85.4 112.1 82.2Z"/>
<path color="#f8f8d7" d="M107.6 75.5 108.5 78.3 109.8 76.0 108.9 72.9Z"/>
<path color="#f0a14b" d="M105.1 41.2 105.5 44.5 106.8 41.0 106.4 37.6Z"/>
<path color="#f9f9c3" d="M106.8 72.6 107.6 75.5 108.9 72.9 108.1 69.9Z"/>
<path color="#f7e259" d="M105.1 54.6 105.6 57.7 106.9 54.3 106.4 51.0Z"/>
<path color="#ecedfa" d="M112.3 86.9 114.4 89.9 115.7 88.7 113.6 85.4Z"/>
<path color="#faf9aa" d="M106.1 69.8 106.8 72.6 108.1 69.9 107.4 66.8Z"/>
<path color="#ed8f48" d="M104.7 38.0 105.1 41.2 106.4 37.6 106.0 34.2Z"/>
<path class="bl" d="M115.6 28.3 116.9 32.4"/>
<path color="#f6d354" d="M104.7 51.6 105.1 54.6 106.4 51.0 106.0 47.8Z"/>
<path color="#fbf791" d="M105.5 67.0 106.1 69.8 107.4 66.8 106.7 63.7Z"/>
<path color="#e97d45" d="M104.4 34.7 104.7 38.0 106.0 34.2 105.6 30.7Z"/>
<path color="#fbf477" d="M104.9 64.3 105.5 67.0 106.7 63.7 106.2 60.7Z"/>
<path color="#f5c550" d="M104.2 48.6 104.7 51.6 106.0 47.8 105.5 44.5Z"/>
<path color="#e4e8fa" d="M114.4 89.9 117.4 93.1 118.7 92.1 115.7 88.7Z"/>
<path color="#dae0f9" d="M123.2 94.5 127.2 96.3 128.8 95.5 124.8 93.6Z"/>
<path color="#e56b42" d="M104.0 31.5 104.4 34.7 105.6 30.7 105.3 27.3Z"/>
<path color="#faef6a" d="M104.3 61.5 104.9 64.3 106.2 60.7 105.6 57.7Z"/>
<path color="#f3b44d" d="M103.8 45.5 104.2 48.6 105.5 44.5 105.1 41.2Z"/>
<path color="#f7f7ef" d="M107.2 80.7 108.2 83.3 109.5 81.1 108.5 78.3Z"/>
<path color="#f3f4f4" d="M108.2 83.3 109.5 85.9 110.8 84.0 109.5 81.1Z"/>
<path color="#f8f8e1" d="M106.3 78.2 107.2 80.7 108.5 78.3 107.6 75.5Z"/>
<path color="#f9ea61" d="M103.8 58.7 104.3 61.5 105.6 57.7 105.1 54.6Z"/>
<path color="#f8f8d3" d="M105.5 75.7 106.3 78.2 107.6 75.5 106.8 72.6Z"/>
<path color="#f0f0f9" d="M109.5 85.9 111.0 88.5 112.3 86.9 110.8 84.0Z"/>
<path color="#f0a34b" d="M103.4 42.5 103.8 45.5 105.1 41.2 104.7 38.0Z"/>
<path color="#f9f9c0" d="M104.8 73.1 105.5 75.7 106.8 72.6 106.1 69.8Z"/>
<path color="#dde3fa" d="M117.6 92.9 121.6 95.5 123.2 94.5 119.3 91.7Z"/>
<path color="#f8e459" d="M103.4 55.9 103.8 58.7 105.1 54.6 104.7 51.6Z"/>
<path color="#d7def9" d="M143.9 88.9 260.7 104.6 261.8 104.1 145.3 88.4Z"/>
<path color="#faf9aa" d="M104.2 70.6 104.8 73.1 106.1 69.8 105.5 67.0Z"/>
<path color="#e9ecfa" d="M111.0 88.5 113.1 91.3 114.4 89.9 112.3 86.9Z"/>
<path color="#ed9249" d="M103.1 39.5 103.4 42.5 104.7 38.0 104.4 34.7Z"/>
<path color="#f6d755" d="M102.9 53.2 103.4 55.9 104.7 51.6 104.2 48.6Z"/>
<path color="#fbf793" d="M103.6 68.1 104.2 70.6 105.5 67.0 104.9 64.3Z"/>
<path color="#fbf47c" d="M103.0 65.6 103.6 68.1 104.9 64.3 104.3 61.5Z"/>
<path color="#ea8146" d="M102.7 36.5 103.1 39.5 104.4 34.7 104.0 31.5Z"/>
<path class="bl" d="M153.8 85.1 268.2 100.3"/>
<path color="#f5ca51" d="M102.5 50.4 102.9 53.2 104.2 48.6 103.8 45.5Z"/>
<path color="#faf16d" d="M102.5 63.1 103.0 65.6 104.3 61.5 103.8 58.7Z"/>
<path color="#e2e7fa" d="M113.1 91.3 116.1 94.1 117.4 93.1 114.4 89.9Z"/>
<path color="#f3ba4e" d="M102.1 47.6 102.5 50.4 103.8 45.5 103.4 42.5Z"/>
<path color="#f7f7ed" d="M105.0 81.1 105.9 83.3 107.2 80.7 106.3 78.2Z"/>
<path color="#f4f4f3" d="M105.9 83.3 106.9 85.6 108.2 83.3 107.2 80.7Z"/>
<path color="#f8f8e0" d="M104.2 78.8 105.0 81.1 106.3 78.2 105.5 75.7Z"/>
<path color="#f9ec65" d="M102.1 60.6 102.5 63.1 103.8 58.7 103.4 55.9Z"/>
<path color="#f1f2f7" d="M106.9 85.6 108.2 87.9 109.5 85.9 108.2 83.3Z"/>
<path color="#f8f8d4" d="M103.5 76.6 104.2 78.8 105.5 75.7 104.8 73.1Z"/>
<path color="#f2ab4c" d="M101.8 44.9 102.1 47.6 103.4 42.5 103.1 39.5Z"/>
<path color="#f9f9c4" d="M102.8 74.4 103.5 76.6 104.8 73.1 104.2 70.6Z"/>
<path color="#edeefb" d="M108.2 87.9 109.7 90.2 111.0 88.5 109.5 85.9Z"/>
<path color="#f8e75d" d="M101.6 58.2 102.1 60.6 103.4 55.9 102.9 53.2Z"/>
<path class="bl" d="M114.3 24.9 115.6 28.3"/>
<path color="#faf9b0" d="M102.3 72.2 102.8 74.4 104.2 70.6 103.6 68.1Z"/>
<path color="#ef9b4a" d="M101.4 42.1 101.8 44.9 103.1 39.5 102.7 36.5Z"/>
<path color="#f7de57" d="M101.2 55.7 101.6 58.2 102.9 53.2 102.5 50.4Z"/>
<path color="#fbf89c" d="M101.7 70.0 102.3 72.2 103.6 68.1 103.0 65.6Z"/>
<path color="#d9e0f9" d="M121.6 95.5 125.6 97.2 127.2 96.3 123.2 94.5Z"/>
<path color="#e7eafa" d="M109.7 90.2 111.8 92.6 113.1 91.3 111.0 88.5Z"/>
<path color="#fbf688" d="M101.2 67.8 101.7 70.0 103.0 65.6 102.5 63.1Z"/>
<path color="#f6d253" d="M100.9 53.2 101.2 55.7 102.5 50.4 102.1 47.6Z"/>
<path color="#fbf373" d="M100.8 65.6 101.2 67.8 102.5 63.1 102.1 60.6Z"/>
<path color="#dce2f9" d="M116.0 94.2 120.0 96.6 121.6 95.5 117.6 92.9Z"/>
<path color="#f5c650" d="M100.5 50.7 100.9 53.2 102.1 47.6 101.8 44.9Z"/>
<path color="#faef6b" d="M100.3 63.4 100.8 65.6 102.1 60.6 101.6 58.2Z"/>
<path color="#f7f7ee" d="M102.9 82.1 103.7 84.0 105.0 81.1 104.2 78.8Z"/>
<path color="#f4f5f2" d="M103.7 84.0 104.6 85.9 105.9 83.3 105.0 81.1Z"/>
<path color="#f8f8e3" d="M102.2 80.2 102.9 82.1 104.2 78.8 103.5 76.6Z"/>
<path color="#f2f2f6" d="M104.6 85.9 105.6 87.9 106.9 85.6 105.9 83.3Z"/>
<path color="#f8f8d9" d="M101.5 78.3 102.2 80.2 103.5 76.6 102.8 74.4Z"/>
<path color="#f3b84e" d="M100.1 48.2 100.5 50.7 101.8 44.9 101.4 42.1Z"/>
<path color="#f9eb64" d="M99.9 61.2 100.3 63.4 101.6 58.2 101.2 55.7Z"/>
<path color="#f9f9ce" d="M101.0 76.4 101.5 78.3 102.8 74.4 102.3 72.2Z"/>
<path color="#eff0fa" d="M105.6 87.9 106.9 89.9 108.2 87.9 106.9 85.6Z"/>
<path color="#e0e5fa" d="M111.8 92.6 114.8 95.2 116.1 94.1 113.1 91.3Z"/>
<path color="#d8def9" d="M142.4 89.5 259.6 105.2 260.7 104.6 143.9 88.9Z"/>
<path color="#f9f9bd" d="M100.4 74.5 101.0 76.4 102.3 72.2 101.7 70.0Z"/>
<path color="#f8e75d" d="M99.6 59.1 99.9 61.2 101.2 55.7 100.9 53.2Z"/>
<path color="#faf9ac" d="M99.9 72.6 100.4 74.5 101.7 70.0 101.2 67.8Z"/>
<path color="#eaecfa" d="M106.9 89.9 108.4 91.9 109.7 90.2 108.2 87.9Z"/>
<path color="#fbf89a" d="M99.5 70.7 99.9 72.6 101.2 67.8 100.8 65.6Z"/>
<path color="#f7df58" d="M99.2 56.9 99.6 59.1 100.9 53.2 100.5 50.7Z"/>
<path color="#fbf689" d="M99.0 68.9 99.5 70.7 100.8 65.6 100.3 63.4Z"/>
<path color="#f6d554" d="M98.8 54.7 99.2 56.9 100.5 50.7 100.1 48.2Z"/>
<path color="#fbf477" d="M98.6 67.0 99.0 68.9 100.3 63.4 99.9 61.2Z"/>
<path color="#e4e8fa" d="M108.4 91.9 110.5 94.0 111.8 92.6 109.7 90.2Z"/>
<path color="#faf16d" d="M98.3 65.1 98.6 67.0 99.9 61.2 99.6 59.1Z"/>
<path color="#f6f6f0" d="M100.8 83.7 101.6 85.3 102.9 82.1 102.2 80.2Z"/>
<path color="#f7f7ea" d="M100.2 82.1 100.8 83.7 102.2 80.2 101.5 78.3Z"/>
<path color="#f3f4f4" d="M101.6 85.3 102.3 86.9 103.7 84.0 102.9 82.1Z"/>
<path color="#f8f8e1" d="M99.6 80.6 100.2 82.1 101.5 78.3 101.0 76.4Z"/>
<path color="#f1f2f7" d="M102.3 86.9 103.2 88.6 104.6 85.9 103.7 84.0Z"/>
<path color="#f8f8d8" d="M99.1 79.0 99.6 80.6 101.0 76.4 100.4 74.5Z"/>
<path color="#f9ed67" d="M97.9 63.2 98.3 65.1 99.6 59.1 99.2 56.9Z"/>
<path color="#f9f9cf" d="M98.6 77.4 99.1 79.0 100.4 74.5 99.9 72.6Z"/>
<path color="#eff0fa" d="M103.2 88.6 104.3 90.2 105.6 87.9 104.6 85.9Z"/>
<path class="bl" d="M113.0 22.3 114.3 24.9"/>
<path color="#f9f9c1" d="M98.2 75.8 98.6 77.4 99.9 72.6 99.5 70.7Z"/>
<path color="#f9e961" d="M97.5 61.4 97.9 63.2 99.2 56.9 98.8 54.7Z"/>
<path color="#d9dff9" d="M120.0 96.6 124.0 98.1 125.6 97.2 121.6 95.5Z"/>
<path color="#faf9b3" d="M97.7 74.3 98.2 75.8 99.5 70.7 99.0 68.9Z"/>
<path color="#ebedfa" d="M104.3 90.2 105.5 91.9 106.9 89.9 105.6 87.9Z"/>
<path color="#faf9a4" d="M97.3 72.7 97.7 74.3 99.0 68.9 98.6 67.0Z"/>
<path color="#fbf895" d="M96.9 71.2 97.3 72.7 98.6 67.0 98.3 65.1Z"/>
<path color="#dfe4fa" d="M110.5 94.0 113.5 96.3 114.8 95.2 111.8 92.6Z"/>
<path color="#fbf687" d="M96.6 69.6 96.9 71.2 98.3 65.1 97.9 63.2Z"/>
<path color="#e6e9fa" d="M105.5 91.9 107.1 93.6 108.4 91.9 106.9 89.9Z"/>
<path color="#dbe1f9" d="M114.4 95.6 118.4 97.7 120.0 96.6 116.0 94.2Z"/>
<path color="#fbf478" d="M96.2 68.1 96.6 69.6 97.9 63.2 97.5 61.4Z"/>
<path color="#f6f6f0" d="M98.3 84.6 98.9 85.9 100.2 82.1 99.6 80.6Z"/>
<path color="#f7f7ec" d="M97.8 83.4 98.3 84.6 99.6 80.6 99.1 79.0Z"/>
<path color="#f4f4f3" d="M98.9 85.9 99.5 87.2 100.8 83.7 100.2 82.1Z"/>
<path color="#f7f7e5" d="M97.3 82.1 97.8 83.4 99.1 79.0 98.6 77.4Z"/>
<path color="#f8f8de" d="M96.8 80.8 97.3 82.1 98.6 77.4 98.2 75.8Z"/>
<path color="#f2f2f6" d="M99.5 87.2 100.2 88.5 101.6 85.3 100.8 83.7Z"/>
<path color="#f8f8d6" d="M96.4 79.6 96.8 80.8 98.2 75.8 97.7 74.3Z"/>
<path color="#f0f1f9" d="M100.2 88.5 101.0 89.8 102.3 86.9 101.6 85.3Z"/>
<path color="#f9f9cf" d="M96.0 78.3 96.4 79.6 97.7 74.3 97.3 72.7Z"/>
<path color="#f9f9c4" d="M95.6 77.1 96.0 78.3 97.3 72.7 96.9 71.2Z"/>
<path color="#eeeffb" d="M101.0 89.8 101.9 91.2 103.2 88.6 102.3 86.9Z"/>
<path color="#e1e6fa" d="M107.1 93.6 109.1 95.5 110.5 94.0 108.4 91.9Z"/>
<path color="#faf9b8" d="M95.3 75.8 95.6 77.1 96.9 71.2 96.6 69.6Z"/>
<path color="#faf9ac" d="M94.9 74.6 95.3 75.8 96.6 69.6 96.2 68.1Z"/>
<path color="#d8dff9" d="M140.9 90.0 258.5 105.8 259.6 105.2 142.4 89.5Z"/>
<path color="#eaecfa" d="M101.9 91.2 102.9 92.5 104.3 90.2 103.2 88.6Z"/>
<path color="#e6e9fa" d="M102.9 92.5 104.2 93.9 105.5 91.9 104.3 90.2Z"/>
<path color="#f7f7ee" d="M95.1 84.6 95.5 85.6 96.8 80.8 96.4 79.6Z"/>
<path color="#f6f6f1" d="M95.5 85.6 96.0 86.6 97.3 82.1 96.8 80.8Z"/>
<path color="#f7f7e9" d="M94.7 83.6 95.1 84.6 96.4 79.6 96.0 78.3Z"/>
<path color="#f4f4f3" d="M96.0 86.6 96.5 87.5 97.8 83.4 97.3 82.1Z"/>
<path color="#f8f8e3" d="M94.3 82.7 94.7 83.6 96.0 78.3 95.6 77.1Z"/>
<path color="#f3f3f5" d="M96.5 87.5 97.0 88.5 98.3 84.6 97.8 83.4Z"/>
<path color="#f8f8dd" d="M94.0 81.7 94.3 82.7 95.6 77.1 95.3 75.8Z"/>
<path color="#f1f2f7" d="M97.0 88.5 97.6 89.5 98.9 85.9 98.3 84.6Z"/>
<path color="#f8f8d7" d="M93.6 80.7 94.0 81.7 95.3 75.8 94.9 74.6Z"/>
<path color="#f0f0f9" d="M97.6 89.5 98.2 90.6 99.5 87.2 98.9 85.9Z"/>
<path color="#eeeffb" d="M98.2 90.6 98.9 91.6 100.2 88.5 99.5 87.2Z"/>
<path color="#e2e7fa" d="M104.2 93.9 105.8 95.3 107.1 93.6 105.5 91.9Z"/>
<path color="#dde3fa" d="M109.1 95.5 112.2 97.4 113.5 96.3 110.5 94.0Z"/>
<path color="#ebedfa" d="M98.9 91.6 99.7 92.6 101.0 89.8 100.2 88.5Z"/>
<path class="bl" d="M111.7 20.6 113.0 22.3"/>
<path color="#d8dff9" d="M118.4 97.7 122.4 99.1 124.0 98.1 120.0 96.6Z"/>
<path color="#e8ebfa" d="M99.7 92.6 100.6 93.7 101.9 91.2 101.0 89.8Z"/>
<path color="#f6f6f0" d="M92.3 86.4 92.6 87.1 94.0 81.7 93.6 80.7Z"/>
<path color="#f5f5f2" d="M92.6 87.1 93.0 87.8 94.3 82.7 94.0 81.7Z"/>
<path color="#f3f4f4" d="M93.0 87.8 93.4 88.5 94.7 83.6 94.3 82.7Z"/>
<path color="#f2f3f5" d="M93.4 88.5 93.7 89.2 95.1 84.6 94.7 83.6Z"/>
<path color="#f1f2f7" d="M93.7 89.2 94.2 90.0 95.5 85.6 95.1 84.6Z"/>
<path color="#f0f1f8" d="M94.2 90.0 94.6 90.7 96.0 86.6 95.5 85.6Z"/>
<path color="#e5e9fa" d="M100.6 93.7 101.6 94.7 102.9 92.5 101.9 91.2Z"/>
<path color="#eff0fa" d="M94.6 90.7 95.1 91.4 96.5 87.5 96.0 86.6Z"/>
<path color="#dfe4fa" d="M105.8 95.3 107.8 96.8 109.1 95.5 107.1 93.6Z"/>
<path color="#dae0f9" d="M112.8 97.0 116.7 98.8 118.4 97.7 114.4 95.6Z"/>
<path color="#d5dcf9" d="M267.1 101.0 271.6 101.6 272.6 100.9 268.2 100.3Z"/>
<path color="#edeffb" d="M95.1 91.4 95.6 92.1 97.0 88.5 96.5 87.5Z"/>
<path color="#ebedfa" d="M95.6 92.1 96.2 92.9 97.6 89.5 97.0 88.5Z"/>
<path color="#e2e6fa" d="M101.6 94.7 102.9 95.8 104.2 93.9 102.9 92.5Z"/>
<path color="#e9ecfa" d="M96.2 92.9 96.8 93.6 98.2 90.6 97.6 89.5Z"/>
<path color="#eff0fa" d="M90.9 91.4 91.3 91.9 92.6 87.1 92.3 86.4Z"/>
<path color="#eeeffb" d="M91.3 91.9 91.6 92.4 93.0 87.8 92.6 87.1Z"/>
<path color="#e7eafa" d="M96.8 93.6 97.5 94.4 98.9 91.6 98.2 90.6Z"/>
<path color="#edeefb" d="M91.6 92.4 92.0 92.9 93.4 88.5 93.0 87.8Z"/>
<path color="#ebedfa" d="M92.0 92.9 92.4 93.4 93.7 89.2 93.4 88.5Z"/>
<path color="#e5e8fa" d="M97.5 94.4 98.3 95.2 99.7 92.6 98.9 91.6Z"/>
<path color="#eaecfa" d="M92.4 93.4 92.8 93.9 94.2 90.0 93.7 89.2Z"/>
<path color="#dfe4fa" d="M102.9 95.8 104.4 97.0 105.8 95.3 104.2 93.9Z"/>
<path color="#e8ebfa" d="M92.8 93.9 93.3 94.4 94.6 90.7 94.2 90.0Z"/>
<path color="#e7eafa" d="M93.3 94.4 93.8 94.9 95.1 91.4 94.6 90.7Z"/>
<path color="#e3e7fa" d="M98.3 95.2 99.2 96.0 100.6 93.7 99.7 92.6Z"/>
<path color="#dbe1f9" d="M107.8 96.8 110.9 98.5 112.2 97.4 109.1 95.5Z"/>
<path color="#d8dff9" d="M139.4 90.5 257.4 106.4 258.5 105.8 140.9 90.0Z"/>
<path color="#e5e9fa" d="M93.8 94.9 94.3 95.4 95.6 92.1 95.1 91.4Z"/>
<path color="#e5e9fa" d="M89.6 95.7 89.9 96.0 91.3 91.9 90.9 91.4Z"/>
<path color="#d5dcf9" d="M271.6 101.6 276.1 102.0 277.1 101.5 272.6 100.9Z"/>
<path color="#e4e8fa" d="M94.3 95.4 94.9 95.9 96.2 92.9 95.6 92.1Z"/>
<path color="#e0e5fa" d="M99.2 96.0 100.3 96.8 101.6 94.7 100.6 93.7Z"/>
<path color="#e4e8fa" d="M89.9 96.0 90.3 96.3 91.6 92.4 91.3 91.9Z"/>
<path color="#e3e7fa" d="M90.3 96.3 90.6 96.6 92.0 92.9 91.6 92.4Z"/>
<path color="#e2e7fa" d="M94.9 95.9 95.5 96.4 96.8 93.6 96.2 92.9Z"/>
<path color="#dce2fa" d="M104.4 97.0 106.5 98.2 107.8 96.8 105.8 95.3Z"/>
<path class="bl" d="M110.5 19.9 111.7 20.6"/>
<path color="#e2e7fa" d="M90.6 96.6 91.0 96.9 92.4 93.4 92.0 92.9Z"/>
<path color="#e1e6fa" d="M95.5 96.4 96.2 97.0 97.5 94.4 96.8 93.6Z"/>
<path color="#dee4fa" d="M100.3 96.8 101.5 97.6 102.9 95.8 101.6 94.7Z"/>
<path color="#e1e6fa" d="M91.0 96.9 91.5 97.2 92.8 93.9 92.4 93.4Z"/>
<path color="#d8def9" d="M116.7 98.8 120.8 100.0 122.4 99.1 118.4 97.7Z"/>
<path color="#e0e5fa" d="M91.5 97.2 91.9 97.5 93.3 94.4 92.8 93.9Z"/>
<path color="#dfe4fa" d="M96.2 97.0 97.0 97.5 98.3 95.2 97.5 94.4Z"/>
<path color="#dfe5fa" d="M91.9 97.5 92.4 97.8 93.8 94.9 93.3 94.4Z"/>
<path color="#d9dff9" d="M111.1 98.3 115.1 99.9 116.7 98.8 112.8 97.0Z"/>
<path color="#d5ddf9" d="M276.3 101.9 279.7 102.2 280.5 101.9 277.1 101.5Z"/>
<path color="#dde2fa" d="M88.2 99.0 88.5 99.2 89.9 96.0 89.6 95.7Z"/>
<path color="#dee4fa" d="M92.4 97.8 92.9 98.1 94.3 95.4 93.8 94.9Z"/>
<path color="#dce2fa" d="M101.5 97.6 103.1 98.5 104.4 97.0 102.9 95.8Z"/>
<path color="#dee3fa" d="M97.0 97.5 97.9 98.1 99.2 96.0 98.3 95.2Z"/>
<path color="#dce2fa" d="M88.5 99.2 88.9 99.3 90.3 96.3 89.9 96.0Z"/>
<path color="#dee3fa" d="M92.9 98.1 93.5 98.5 94.9 95.9 94.3 95.4Z"/>
<path color="#d5ddf9" d="M266.1 101.7 270.6 102.1 271.6 101.6 267.1 101.0Z"/>
<path color="#dce2f9" d="M88.9 99.3 89.3 99.5 90.6 96.6 90.3 96.3Z"/>
<path color="#dae0f9" d="M106.5 98.2 109.6 99.6 110.9 98.5 107.8 96.8Z"/>
<path color="#dce2fa" d="M97.9 98.1 98.9 98.7 100.3 96.8 99.2 96.0Z"/>
<path color="#dbe1f9" d="M89.3 99.5 89.7 99.7 91.0 96.9 90.6 96.6Z"/>
<path color="#dde3fa" d="M93.5 98.5 94.1 98.8 95.5 96.4 94.9 95.9Z"/>
<path color="#dbe1f9" d="M89.7 99.7 90.1 99.8 91.5 97.2 91.0 96.9Z"/>
<path color="#d5ddf9" d="M279.7 102.2 282.1 102.4 282.9 102.2 280.5 101.9Z"/>
<path color="#dce2f9" d="M94.1 98.8 94.8 99.2 96.2 97.0 95.5 96.4Z"/>
<path color="#dae1f9" d="M103.1 98.5 105.1 99.5 106.5 98.2 104.4 97.0Z"/>
<path color="#dbe1f9" d="M90.1 99.8 90.5 100.0 91.9 97.5 91.5 97.2Z"/>
<path color="#dbe1f9" d="M98.9 98.7 100.2 99.3 101.5 97.6 100.3 96.8Z"/>
<path color="#dae0f9" d="M90.5 100.0 91.0 100.2 92.4 97.8 91.9 97.5Z"/>
<path color="#dbe1f9" d="M94.8 99.2 95.6 99.5 97.0 97.5 96.2 97.0Z"/>
<path color="#d9dff9" d="M138.0 91.1 256.3 107.1 257.4 106.4 139.4 90.5Z"/>
<path color="#d8def9" d="M86.8 101.4 87.2 101.5 88.5 99.2 88.2 99.0Z"/>
<path class="bl" d="M109.2 20.2 110.5 19.9"/>
<path color="#d6ddf9" d="M282.1 102.4 283.9 102.4 284.6 102.4 282.9 102.2Z"/>
<path color="#dae0f9" d="M91.0 100.2 91.5 100.4 92.9 98.1 92.4 97.8Z"/>
<path color="#d7def9" d="M87.2 101.5 87.5 101.6 88.9 99.3 88.5 99.2Z"/>
<path color="#dae1f9" d="M95.6 99.5 96.5 99.9 97.9 98.1 97.0 97.5Z"/>
<path color="#d9e0f9" d="M91.5 100.4 92.1 100.6 93.5 98.5 92.9 98.1Z"/>
<path color="#d7def9" d="M87.5 101.6 87.9 101.6 89.3 99.5 88.9 99.3Z"/>
<path color="#dae0f9" d="M100.2 99.3 101.7 100.0 103.1 98.5 101.5 97.6Z"/>
<path color="#d6ddf9" d="M270.6 102.1 275.0 102.3 276.1 102.0 271.6 101.6Z"/>
<path color="#d7def9" d="M115.1 99.9 119.1 101.0 120.8 100.0 116.7 98.8Z"/>
<path color="#61646f" d="M283.9 102.4 285.3 102.5 286.0 102.6 284.6 102.4Z"/>
<path color="#d7def9" d="M87.9 101.6 88.3 101.7 89.7 99.7 89.3 99.5Z"/>
<path color="#d9e0f9" d="M92.1 100.6 92.7 100.8 94.1 98.8 93.5 98.5Z"/>
<path color="#dae0f9" d="M96.5 99.9 97.5 100.3 98.9 98.7 97.9 98.1Z"/>
<path color="#d6ddf9" d="M275.5 102.2 278.9 102.3 279.7 102.2 276.3 101.9Z"/>
<path color="#d8dff9" d="M109.4 99.7 113.4 101.0 115.1 99.9 111.1 98.3Z"/>
<path color="#d7def9" d="M88.3 101.7 88.7 101.8 90.1 99.8 89.7 99.7Z"/>
<path color="#d9dff9" d="M105.1 99.5 108.2 100.6 109.6 99.6 106.5 98.2Z"/>
<path color="#61646f" d="M285.3 102.5 286.5 102.5 287.2 102.7 286.0 102.6Z"/>
<path color="#d9dff9" d="M92.7 100.8 93.4 101.0 94.8 99.2 94.1 98.8Z"/>
<path color="#d7def9" d="M88.7 101.8 89.1 101.9 90.5 100.0 90.1 99.8Z"/>
<path color="#61646f" d="M286.5 102.5 287.5 102.4 288.3 102.8 287.2 102.7Z"/>
<path color="#d9dff9" d="M101.7 100.0 103.8 100.7 105.1 99.5 103.1 98.5Z"/>
<path color="#d7def9" d="M89.1 101.9 89.6 102.0 91.0 100.2 90.5 100.0Z"/>
<path color="#d9dff9" d="M97.5 100.3 98.8 100.8 100.2 99.3 98.9 98.7Z"/>
<path color="#d8dff9" d="M93.4 101.0 94.2 101.2 95.6 99.5 94.8 99.2Z"/>
<path color="#d5dcf9" d="M85.4 102.8 85.7 102.8 87.2 101.5 86.8 101.4Z"/>
<path color="#61646f" d="M287.5 102.4 288.4 102.4 289.2 102.9 288.3 102.8Z"/>
<path color="#d7def9" d="M89.6 102.0 90.1 102.1 91.5 100.4 91.0 100.2Z"/>
<path color="#d6ddf9" d="M265.0 102.3 269.5 102.6 270.6 102.1 266.1 101.7Z"/>
<path color="#61646f" d="M278.9 102.3 281.3 102.2 282.1 102.4 279.7 102.2Z"/>
<path color="#d5dcf9" d="M85.7 102.8 86.1 102.9 87.5 101.6 87.2 101.5Z"/>
<path color="#61646f" d="M288.4 102.4 289.2 102.4 289.9 103.0 289.2 102.9Z"/>
<path color="#d8dff9" d="M94.2 101.2 95.1 101.5 96.5 99.9 95.6 99.5Z"/>
<path class="bl" d="M107.9 21.6 109.2 20.2"/>
<path color="#d6ddf9" d="M90.1 102.1 90.7 102.2 92.1 100.6 91.5 100.4Z"/>
<path color="#d5dcf9" d="M86.1 102.9 86.5 102.9 87.9 101.6 87.5 101.6Z"/>
<path color="#61646f" d="M289.2 102.4 289.9 102.4 290.7 103.1 289.9 103.0Z"/>
<path color="#d8dff9" d="M98.8 100.8 100.3 101.3 101.7 100.0 100.2 99.3Z"/>
<path color="#d5dcf9" d="M86.5 102.9 86.9 102.9 88.3 101.7 87.9 101.6Z"/>
<path color="#d6ddf9" d="M90.7 102.2 91.3 102.3 92.7 100.8 92.1 100.6Z"/>
<path color="#61646f" d="M289.9 102.4 290.6 102.4 291.3 103.2 290.7 103.1Z"/>
<path color="#d7def9" d="M95.1 101.5 96.2 101.7 97.5 100.3 96.5 99.9Z"/>
<path color="#62646f" d="M281.3 102.2 283.1 102.1 283.9 102.4 282.1 102.4Z"/>
<path color="#d5dcf9" d="M86.9 102.9 87.3 103.0 88.7 101.8 88.3 101.7Z"/>
<path color="#61646f" d="M290.6 102.4 291.2 102.4 291.9 103.2 291.3 103.2Z"/>
<path color="#d9e0f9" d="M136.4 91.7 255.1 107.8 256.3 107.1 138.0 91.1Z"/>
<path color="#62646f" d="M291.2 102.4 291.8 102.4 292.5 103.3 291.9 103.2Z"/>
<path color="#d7def9" d="M103.8 100.7 106.9 101.6 108.2 100.6 105.1 99.5Z"/>
<path color="#d6ddf9" d="M91.3 102.3 92.0 102.4 93.4 101.0 92.7 100.8Z"/>
<path color="#d5dcf9" d="M87.3 103.0 87.7 103.0 89.1 101.9 88.7 101.8Z"/>
<path color="#62646f" d="M291.8 102.4 292.3 102.4 293.0 103.4 292.5 103.3Z"/>
<path color="#d6ddf9" d="M113.4 101.0 117.5 101.9 119.1 101.0 115.1 99.9Z"/>
<path color="#62646f" d="M292.3 102.4 292.8 102.4 293.5 103.4 293.0 103.4Z"/>
<path color="#62646f" d="M283.1 102.1 284.5 101.9 285.3 102.5 283.9 102.4Z"/>
<path color="#d5dcf9" d="M87.7 103.0 88.2 103.1 89.6 102.0 89.1 101.9Z"/>
<path color="#d7def9" d="M96.2 101.7 97.4 102.0 98.8 100.8 97.5 100.3Z"/>
<path color="#d7def9" d="M100.3 101.3 102.4 101.8 103.8 100.7 101.7 100.0Z"/>
<path color="#62646f" d="M292.8 102.4 293.2 102.4 293.9 103.5 293.5 103.4Z"/>
<path color="#d6ddf9" d="M92.0 102.4 92.8 102.6 94.2 101.2 93.4 101.0Z"/>
<path color="#d7def9" d="M274.6 102.4 278.2 102.2 278.9 102.3 275.5 102.2Z"/>
<path color="#d7def9" d="M107.7 101.0 111.8 102.0 113.4 101.0 109.4 99.7Z"/>
<path color="#62646f" d="M293.2 102.4 293.6 102.4 294.4 103.5 293.9 103.5Z"/>
<path color="#d7def9" d="M269.5 102.6 274.0 102.5 275.0 102.3 270.6 102.1Z"/>
<path color="#d5dcf9" d="M88.2 103.1 88.7 103.1 90.1 102.1 89.6 102.0Z"/>
<path color="#62646f" d="M293.6 102.4 294.1 102.5 294.8 103.6 294.4 103.5Z"/>
<path color="#d4dcf8" d="M84.0 103.1 84.3 103.2 85.7 102.8 85.4 102.8Z"/>
<path color="#62656f" d="M284.5 101.9 285.7 101.7 286.5 102.5 285.3 102.5Z"/>
<path color="#62646f" d="M294.1 102.5 294.4 102.5 295.2 103.6 294.8 103.6Z"/>
<path color="#d6ddf9" d="M92.8 102.6 93.7 102.7 95.1 101.5 94.2 101.2Z"/>
<path color="#d4dcf8" d="M84.3 103.2 84.7 103.2 86.1 102.9 85.7 102.8Z"/>
<path class="bl" d="M106.6 23.9 107.9 21.6"/>
<path color="#d5dcf9" d="M88.7 103.1 89.3 103.2 90.7 102.2 90.1 102.1Z"/>
<path color="#62656f" d="M285.7 101.7 286.8 101.5 287.5 102.4 286.5 102.5Z"/>
<path color="#d6def9" d="M97.4 102.0 99.0 102.4 100.3 101.3 98.8 100.8Z"/>
<path color="#d4dcf8" d="M84.7 103.2 85.0 103.3 86.5 102.9 86.1 102.9Z"/>
<path color="#d5dcf9" d="M89.3 103.2 89.9 103.3 91.3 102.3 90.7 102.2Z"/>
<path color="#d4dcf8" d="M85.0 103.3 85.4 103.3 86.9 102.9 86.5 102.9Z"/>
<path color="#62656f" d="M286.8 101.5 287.7 101.2 288.4 102.4 287.5 102.4Z"/>
<path color="#d6ddf9" d="M93.7 102.7 94.8 102.9 96.2 101.7 95.1 101.5Z"/>
<path color="#62656f" d="M278.2 102.2 280.5 101.8 281.3 102.2 278.9 102.3Z"/>
<path color="#d4dcf8" d="M85.4 103.3 85.8 103.4 87.3 103.0 86.9 102.9Z"/>
<path color="#d5dcf9" d="M89.9 103.3 90.6 103.4 92.0 102.4 91.3 102.3Z"/>
<path color="#63656f" d="M287.7 101.2 288.5 101.1 289.2 102.4 288.4 102.4Z"/>
<path color="#d6def9" d="M102.4 101.8 105.5 102.5 106.9 101.6 103.8 100.7Z"/>
<path color="#d6ddf9" d="M264.0 102.9 268.5 103.0 269.5 102.6 265.0 102.3Z"/>
<path color="#d4dcf8" d="M85.8 103.4 86.3 103.5 87.7 103.0 87.3 103.0Z"/>
<path color="#63656f" d="M288.5 101.1 289.2 100.9 289.9 102.4 289.2 102.4Z"/>
<path color="#d6ddf9" d="M94.8 102.9 96.0 103.1 97.4 102.0 96.2 101.7Z"/>
<path color="#d6ddf9" d="M99.0 102.4 101.0 102.8 102.4 101.8 100.3 101.3Z"/>
<path color="#d5dcf9" d="M90.6 103.4 91.4 103.5 92.8 102.6 92.0 102.4Z"/>
<path color="#d4dcf8" d="M86.3 103.5 86.8 103.5 88.2 103.1 87.7 103.0Z"/>
<path color="#63656f" d="M280.5 101.8 282.3 101.3 283.1 102.1 281.3 102.2Z"/>
<path color="#63656f" d="M289.2 100.9 289.9 100.7 290.6 102.4 289.9 102.4Z"/>
<path color="#63666f" d="M289.9 100.7 290.5 100.6 291.2 102.4 290.6 102.4Z"/>
<path color="#d4dcf8" d="M86.8 103.5 87.3 103.6 88.7 103.1 88.2 103.1Z"/>
<path color="#d9e0f9" d="M134.9 92.4 254.0 108.6 255.1 107.8 136.4 91.7Z"/>
<path class="bl" d="M105.3 27.3 106.6 23.9"/>
<path color="#d6ddf9" d="M111.8 102.0 115.8 102.8 117.5 101.9 113.4 101.0Z"/>
<path color="#63666f" d="M290.5 100.6 291.0 100.5 291.8 102.4 291.2 102.4Z"/>
<path color="#d5dcf9" d="M91.4 103.5 92.3 103.6 93.7 102.7 92.8 102.6Z"/>
<path color="#62656f" d="M273.8 102.5 277.4 101.9 278.2 102.2 274.6 102.4Z"/>
<path color="#d6ddf9" d="M106.0 102.2 110.1 103.0 111.8 102.0 107.7 101.0Z"/>
<path color="#63656f" d="M282.3 101.3 283.8 100.9 284.5 101.9 283.1 102.1Z"/>
<path color="#61646f" d="M82.5 102.4 82.9 102.5 84.3 103.2 84.0 103.1Z"/>
<path color="#d4dcf8" d="M87.3 103.6 87.9 103.7 89.3 103.2 88.7 103.1Z"/>
<path color="#63666f" d="M291.0 100.5 291.6 100.4 292.3 102.4 291.8 102.4Z"/>
<path color="#d5ddf9" d="M96.0 103.1 97.6 103.3 99.0 102.4 97.4 102.0Z"/>
<path color="#63666f" d="M291.6 100.4 292.1 100.4 292.8 102.4 292.3 102.4Z"/>
<path color="#61646f" d="M82.9 102.5 83.2 102.6 84.7 103.2 84.3 103.2Z"/>
<path color="#64666f" d="M292.1 100.4 292.5 100.4 293.2 102.4 292.8 102.4Z"/>
<path color="#d5dcf8" d="M87.9 103.7 88.5 103.8 89.9 103.3 89.3 103.2Z"/>
<path color="#61646f" d="M83.2 102.6 83.6 102.8 85.0 103.3 84.7 103.2Z"/>
<path color="#d5dcf9" d="M92.3 103.6 93.4 103.7 94.8 102.9 93.7 102.7Z"/>
<path color="#64666f" d="M292.5 100.4 292.9 100.4 293.6 102.4 293.2 102.4Z"/>
<path color="#63666f" d="M283.8 100.9 285.0 100.4 285.7 101.7 284.5 101.9Z"/>
<path color="#d8dff9" d="M268.5 103.0 273.0 102.5 274.0 102.5 269.5 102.6Z"/>
<path color="#64666f" d="M292.9 100.4 293.4 100.4 294.1 102.5 293.6 102.4Z"/>
<path color="#61646f" d="M83.6 102.8 84.0 102.9 85.4 103.3 85.0 103.3Z"/>
<path color="#64666f" d="M293.4 100.4 293.7 100.4 294.4 102.5 294.1 102.5Z"/>
<path color="#d5dcf8" d="M88.5 103.8 89.2 103.9 90.6 103.4 89.9 103.3Z"/>
<path color="#d6ddf9" d="M101.0 102.8 104.2 103.4 105.5 102.5 102.4 101.8Z"/>
<path color="#61646f" d="M84.0 102.9 84.4 103.0 85.8 103.4 85.4 103.3Z"/>
<path color="#64666f" d="M285.0 100.4 286.0 99.9 286.8 101.5 285.7 101.7Z"/>
<path color="#63656f" d="M277.4 101.9 279.7 101.2 280.5 101.8 278.2 102.2Z"/>
<path class="bl" d="M104.0 31.5 105.3 27.3"/>
<path color="#d5dcf9" d="M93.4 103.7 94.6 103.9 96.0 103.1 94.8 102.9Z"/>
<path color="#61646f" d="M84.4 103.0 84.8 103.1 86.3 103.5 85.8 103.4Z"/>
<path color="#d5ddf9" d="M97.6 103.3 99.7 103.7 101.0 102.8 99.0 102.4Z"/>
<path color="#d5dcf8" d="M89.2 103.9 90.0 104.0 91.4 103.5 90.6 103.4Z"/>
<path color="#64666f" d="M286.0 99.9 286.9 99.5 287.7 101.2 286.8 101.5Z"/>
<path color="#d6ddf9" d="M84.8 103.1 85.3 103.3 86.8 103.5 86.3 103.5Z"/>
<path color="#65676f" d="M286.9 99.5 287.8 99.0 288.5 101.1 287.7 101.2Z"/>
<path color="#d6ddf9" d="M85.3 103.3 85.9 103.4 87.3 103.6 86.8 103.5Z"/>
<path color="#d5dcf8" d="M90.0 104.0 90.9 104.1 92.3 103.6 91.4 103.5Z"/>
<path color="#d7def9" d="M262.9 103.5 267.4 103.3 268.5 103.0 264.0 102.9Z"/>
<path color="#64666f" d="M279.7 101.2 281.5 100.3 282.3 101.3 280.5 101.8Z"/>
<path color="#d5dcf9" d="M94.6 103.9 96.2 104.1 97.6 103.3 96.0 103.1Z"/>
<path color="#65676f" d="M287.8 99.0 288.5 98.7 289.2 100.9 288.5 101.1Z"/>
<path color="#d6ddf9" d="M85.9 103.4 86.4 103.6 87.9 103.7 87.3 103.6Z"/>
<path color="#d5ddf9" d="M110.1 103.0 114.1 103.8 115.8 102.8 111.8 102.0Z"/>
<path color="#66676f" d="M288.5 98.7 289.2 98.3 289.9 100.7 289.2 100.9Z"/>
<path color="#d9e0f9" d="M133.4 93.1 252.8 109.4 254.0 108.6 134.9 92.4Z"/>
<path color="#d5dcf8" d="M90.9 104.1 92.0 104.3 93.4 103.7 92.3 103.6Z"/>
<path color="#d5ddf9" d="M104.3 103.3 108.4 104.0 110.1 103.0 106.0 102.2Z"/>
<path class="bl" d="M102.7 36.5 104.0 31.5"/>
<path color="#63656f" d="M273.0 102.5 276.6 101.5 277.4 101.9 273.8 102.5Z"/>
<path color="#63656f" d="M81.0 100.6 81.4 100.9 82.9 102.5 82.5 102.4Z"/>
<path color="#d5ddf9" d="M86.4 103.6 87.1 103.7 88.5 103.8 87.9 103.7Z"/>
<path color="#63656f" d="M81.4 100.9 81.7 101.1 83.2 102.6 82.9 102.5Z"/>
<path color="#66686f" d="M289.2 98.3 289.8 98.0 290.5 100.6 289.9 100.7Z"/>
<path color="#64676f" d="M281.5 100.3 283.0 99.5 283.8 100.9 282.3 101.3Z"/>
<path color="#d5dcf9" d="M99.7 103.7 102.8 104.2 104.2 103.4 101.0 102.8Z"/>
<path color="#63656f" d="M81.7 101.1 82.1 101.4 83.6 102.8 83.2 102.6Z"/>
<path color="#66686f" d="M289.8 98.0 290.4 97.8 291.0 100.5 290.5 100.6Z"/>
<path color="#d5ddf9" d="M87.1 103.7 87.8 103.9 89.2 103.9 88.5 103.8Z"/>
<path color="#62656f" d="M82.1 101.4 82.5 101.6 84.0 102.9 83.6 102.8Z"/>
<path color="#66686f" d="M290.4 97.8 290.9 97.6 291.6 100.4 291.0 100.5Z"/>
<path color="#d5dcf8" d="M92.0 104.3 93.2 104.5 94.6 103.9 93.4 103.7Z"/>
<path color="#d5dcf9" d="M96.2 104.1 98.3 104.4 99.7 103.7 97.6 103.3Z"/>
<path color="#62656f" d="M82.5 101.6 82.9 101.9 84.4 103.0 84.0 102.9Z"/>
<path color="#67686f" d="M290.9 97.6 291.4 97.5 292.1 100.4 291.6 100.4Z"/>
<path color="#65676f" d="M283.0 99.5 284.2 98.7 285.0 100.4 283.8 100.9Z"/>
<path color="#d5ddf9" d="M87.8 103.9 88.6 104.1 90.0 104.0 89.2 103.9Z"/>
<path color="#67686f" d="M291.4 97.5 291.8 97.4 292.5 100.4 292.1 100.4Z"/>
<path color="#62656f" d="M82.9 101.9 83.4 102.1 84.8 103.1 84.4 103.0Z"/>
<path class="bl" d="M101.4 42.1 102.7 36.5"/>
<path color="#62656f" d="M267.4 103.3 272.0 102.4 273.0 102.5 268.5 103.0Z"/>
<path color="#67686f" d="M291.8 97.4 292.3 97.3 292.9 100.4 292.5 100.4Z"/>
<path color="#64666f" d="M276.6 101.5 279.0 100.3 279.7 101.2 277.4 101.9Z"/>
<path color="#67686f" d="M292.3 97.3 292.7 97.3 293.4 100.4 292.9 100.4Z"/>
<path color="#62656f" d="M83.4 102.1 83.9 102.4 85.3 103.3 84.8 103.1Z"/>
<path color="#66686f" d="M284.2 98.7 285.3 97.9 286.0 99.9 285.0 100.4Z"/>
<path color="#d5ddf9" d="M88.6 104.1 89.5 104.3 90.9 104.1 90.0 104.0Z"/>
<path color="#67686f" d="M292.7 97.3 293.1 97.4 293.7 100.4 293.4 100.4Z"/>
<path color="#d5dcf8" d="M93.2 104.5 94.8 104.7 96.2 104.1 94.6 103.9Z"/>
<path color="#62656f" d="M83.9 102.4 84.4 102.7 85.9 103.4 85.3 103.3Z"/>
<path color="#67686f" d="M285.3 97.9 286.2 97.1 286.9 99.5 286.0 99.9Z"/>
<path color="#62646f" d="M84.4 102.7 85.0 102.9 86.4 103.6 85.9 103.4Z"/>
<path color="#d5ddf9" d="M89.5 104.3 90.5 104.5 92.0 104.3 90.9 104.1Z"/>
<path class="bl" d="M100.1 48.2 101.4 42.1"/>
<path color="#65676f" d="M279.0 100.3 280.8 99.1 281.5 100.3 279.7 101.2Z"/>
<path color="#62646f" d="M85.0 102.9 85.6 103.2 87.1 103.7 86.4 103.6Z"/>
<path color="#d5dcf9" d="M98.3 104.4 101.4 104.9 102.8 104.2 99.7 103.7Z"/>
<path color="#d5dcf9" d="M108.4 104.0 112.4 104.7 114.1 103.8 110.1 103.0Z"/>
<path color="#68696f" d="M286.2 97.1 287.0 96.4 287.8 99.0 286.9 99.5Z"/>
<path color="#d8dff9" d="M261.8 104.1 266.3 103.7 267.4 103.3 262.9 103.5Z"/>
<path color="#d5dcf9" d="M102.6 104.3 106.7 104.9 108.4 104.0 104.3 103.3Z"/>
<path color="#64666f" d="M272.2 102.5 275.8 101.0 276.6 101.5 273.0 102.5Z"/>
<path color="#d9e0f9" d="M131.9 93.8 251.6 110.3 252.8 109.4 133.4 93.1Z"/>
<path color="#d7def9" d="M85.6 103.2 86.3 103.5 87.8 103.9 87.1 103.7Z"/>
<path color="#d5dcf8" d="M94.8 104.7 96.9 105.0 98.3 104.4 96.2 104.1Z"/>
<path color="#d5dcf9" d="M90.5 104.5 91.8 104.8 93.2 104.5 92.0 104.3Z"/>
<path color="#65676f" d="M79.5 97.9 79.9 98.3 81.4 100.9 81.0 100.6Z"/>
<path color="#68696f" d="M287.0 96.4 287.8 95.8 288.5 98.7 287.8 99.0Z"/>
<path color="#65676f" d="M79.9 98.3 80.2 98.7 81.7 101.1 81.4 100.9Z"/>
<path class="bl" d="M98.8 54.7 100.1 48.2"/>
<path color="#65676f" d="M80.2 98.7 80.6 99.2 82.1 101.4 81.7 101.1Z"/>
<path color="#67686f" d="M280.8 99.1 282.3 97.8 283.0 99.5 281.5 100.3Z"/>
<path color="#696a6f" d="M287.8 95.8 288.5 95.2 289.2 98.3 288.5 98.7Z"/>
<path color="#d7def9" d="M86.3 103.5 87.1 103.8 88.6 104.1 87.8 103.9Z"/>
<path color="#65676f" d="M80.6 99.2 81.0 99.6 82.5 101.6 82.1 101.4Z"/>
<path color="#64666f" d="M81.0 99.6 81.4 100.0 82.9 101.9 82.5 101.6Z"/>
<path color="#696a6f" d="M288.5 95.2 289.1 94.7 289.8 98.0 289.2 98.3Z"/>
<path color="#d7def9" d="M87.1 103.8 88.0 104.1 89.5 104.3 88.6 104.1Z"/>
<path color="#d5dcf9" d="M91.8 104.8 93.4 105.1 94.8 104.7 93.2 104.5Z"/>
<path color="#64666f" d="M81.4 100.0 81.9 100.4 83.4 102.1 82.9 101.9Z"/>
<path class="bl" d="M97.5 61.4 98.8 54.7"/>
<path color="#6a6a6f" d="M289.1 94.7 289.7 94.3 290.4 97.8 289.8 98.0Z"/>
<path color="#68696f" d="M282.3 97.8 283.5 96.6 284.2 98.7 283.0 99.5Z"/>
<path color="#64666f" d="M81.9 100.4 82.4 100.9 83.9 102.4 83.4 102.1Z"/>
<path color="#65676f" d="M275.8 101.0 278.2 99.3 279.0 100.3 276.6 101.5Z"/>
<path color="#6a6b6f" d="M289.7 94.3 290.2 94.0 290.9 97.6 290.4 97.8Z"/>
<path color="#63666f" d="M82.4 100.9 82.9 101.3 84.4 102.7 83.9 102.4Z"/>
<path color="#6b6b6f" d="M290.2 94.0 290.7 93.7 291.4 97.5 290.9 97.6Z"/>
<path color="#d7def9" d="M88.0 104.1 89.1 104.5 90.5 104.5 89.5 104.3Z"/>
<path color="#63656f" d="M266.3 103.7 270.9 102.3 272.0 102.4 267.4 103.3Z"/>
<path class="bl" d="M96.2 68.1 97.5 61.4"/>
<path color="#d5dcf8" d="M96.9 105.0 100.0 105.5 101.4 104.9 98.3 104.4Z"/>
<path color="#63666f" d="M82.9 101.3 83.5 101.7 85.0 102.9 84.4 102.7Z"/>
<path color="#6b6b6f" d="M290.7 93.7 291.2 93.6 291.8 97.4 291.4 97.5Z"/>
<path color="#696a6f" d="M283.5 96.6 284.6 95.4 285.3 97.9 284.2 98.7Z"/>
<path color="#6b6b6f" d="M291.2 93.6 291.6 93.5 292.3 97.3 291.8 97.4Z"/>
<path color="#63656f" d="M83.5 101.7 84.2 102.2 85.6 103.2 85.0 102.9Z"/>
<path color="#6b6b6f" d="M291.6 93.5 292.0 93.4 292.7 97.3 292.3 97.3Z"/>
<path color="#d5dcf9" d="M93.4 105.1 95.5 105.5 96.9 105.0 94.8 104.7Z"/>
<path color="#6b6b6f" d="M292.0 93.4 292.4 93.5 293.1 97.4 292.7 97.3Z"/>
<path color="#d5dcf9" d="M106.7 104.9 110.7 105.5 112.4 104.7 108.4 104.0Z"/>
<path color="#d6ddf9" d="M89.1 104.5 90.4 104.9 91.8 104.8 90.5 104.5Z"/>
<path class="bl" d="M94.9 74.6 96.2 68.1"/>
<path color="#d5dcf9" d="M100.9 105.1 104.9 105.7 106.7 104.9 102.6 104.3Z"/>
<path color="#67686f" d="M278.2 99.3 280.0 97.6 280.8 99.1 279.0 100.3Z"/>
<path color="#6a6b6f" d="M284.6 95.4 285.5 94.3 286.2 97.1 285.3 97.9Z"/>
<path color="#63656f" d="M84.2 102.2 84.9 102.7 86.3 103.5 85.6 103.2Z"/>
<path color="#64676f" d="M271.4 102.4 275.0 100.4 275.8 101.0 272.2 102.5Z"/>
<path class="bl" d="M268.2 100.3 272.6 100.9"/>
<path color="#d9dff9" d="M260.7 104.6 265.3 104.0 266.3 103.7 261.8 104.1Z"/>
<path color="#d9e0f9" d="M130.3 94.6 250.4 111.2 251.6 110.3 131.9 93.8Z"/>
<path color="#63656f" d="M84.9 102.7 85.7 103.2 87.1 103.8 86.3 103.5Z"/>
<path class="bl" d="M93.6 80.7 94.9 74.6"/>
<path color="#6b6b6f" d="M285.5 94.3 286.3 93.3 287.0 96.4 286.2 97.1Z"/>
<path color="#696a6f" d="M78.0 94.3 78.4 94.9 79.9 98.3 79.5 97.9Z"/>
<path color="#d6ddf9" d="M90.4 104.9 91.9 105.3 93.4 105.1 91.8 104.8Z"/>
<path color="#696a6f" d="M78.4 94.9 78.7 95.6 80.2 98.7 79.9 98.3Z"/>
<path color="#d9e0f9" d="M85.7 103.2 86.6 103.6 88.0 104.1 87.1 103.8Z"/>
<path color="#68696f" d="M78.7 95.6 79.1 96.2 80.6 99.2 80.2 98.7Z"/>
<path color="#696a6f" d="M280.0 97.6 281.5 95.9 282.3 97.8 280.8 99.1Z"/>
<path color="#6b6c6e" d="M286.3 93.3 287.1 92.3 287.8 95.8 287.0 96.4Z"/>
<path color="#68696f" d="M79.1 96.2 79.5 96.8 81.0 99.6 80.6 99.2Z"/>
<path class="bl" d="M92.3 86.4 93.6 80.7"/>
<path color="#67696f" d="M79.5 96.8 79.9 97.5 81.4 100.0 81.0 99.6Z"/>
<path color="#d5dcf9" d="M95.5 105.5 98.6 106.0 100.0 105.5 96.9 105.0Z"/>
<path color="#67686f" d="M79.9 97.5 80.4 98.1 81.9 100.4 81.4 100.0Z"/>
<path color="#d9dff9" d="M86.6 103.6 87.6 104.2 89.1 104.5 88.0 104.1Z"/>
<path color="#6c6c6e" d="M287.1 92.3 287.8 91.5 288.5 95.2 287.8 95.8Z"/>
<path class="bl" d="M272.6 100.9 277.1 101.5"/>
<path color="#66686f" d="M80.4 98.1 80.9 98.8 82.4 100.9 81.9 100.4Z"/>
<path color="#67686f" d="M275.0 100.4 277.4 98.2 278.2 99.3 275.8 101.0Z"/>
<path color="#66676f" d="M80.9 98.8 81.4 99.4 82.9 101.3 82.4 100.9Z"/>
<path color="#6b6b6f" d="M281.5 95.9 282.8 94.2 283.5 96.6 282.3 97.8Z"/>
<path color="#6c6c6d" d="M287.8 91.5 288.4 90.8 289.1 94.7 288.5 95.2Z"/>
<path color="#d6ddf9" d="M91.9 105.3 94.0 105.8 95.5 105.5 93.4 105.1Z"/>
<path class="bl" d="M90.9 91.4 92.3 86.4"/>
<path color="#65676f" d="M81.4 99.4 82.0 100.1 83.5 101.7 82.9 101.3Z"/>
<path color="#d8dff9" d="M87.6 104.2 88.9 104.7 90.4 104.9 89.1 104.5Z"/>
<path color="#6d6d6d" d="M288.4 90.8 289.0 90.2 289.7 94.3 289.1 94.7Z"/>
<path color="#65676f" d="M82.0 100.1 82.7 100.8 84.2 102.2 83.5 101.7Z"/>
<path color="#64666f" d="M265.3 104.0 269.9 102.1 270.9 102.3 266.3 103.7Z"/>
<path color="#d5dcf9" d="M104.9 105.7 109.0 106.3 110.7 105.5 106.7 104.9Z"/>
<path color="#6d6d6c" d="M289.0 90.2 289.5 89.7 290.2 94.0 289.7 94.3Z"/>
<path color="#64666f" d="M82.7 100.8 83.4 101.4 84.9 102.7 84.2 102.2Z"/>
<path color="#d5dcf9" d="M99.1 105.8 103.2 106.5 104.9 105.7 100.9 105.1Z"/>
<path color="#6b6c6e" d="M282.8 94.2 283.8 92.6 284.6 95.4 283.5 96.6Z"/>
<path color="#65676f" d="M270.5 102.2 274.1 99.7 275.0 100.4 271.4 102.4Z"/>
<path color="#6d6d6c" d="M289.5 89.7 290.0 89.3 290.7 93.7 290.2 94.0Z"/>
<path class="bl" d="M277.1 101.5 280.5 101.9"/>
<path color="#696a6f" d="M277.4 98.2 279.2 95.9 280.0 97.6 278.2 99.3Z"/>
<path color="#64666f" d="M83.4 101.4 84.2 102.1 85.7 103.2 84.9 102.7Z"/>
<path class="bl" d="M89.6 95.7 90.9 91.4"/>
<path color="#d7def9" d="M88.9 104.7 90.5 105.3 91.9 105.3 90.4 104.9Z"/>
<path color="#6d6d6c" d="M290.0 89.3 290.5 89.0 291.2 93.6 290.7 93.7Z"/>
<path color="#d9e0f9" d="M128.8 95.5 249.2 112.2 250.4 111.2 130.3 94.6Z"/>
<path color="#6d6d6b" d="M290.5 89.0 290.9 88.9 291.6 93.5 291.2 93.6Z"/>
<path color="#6c6c6d" d="M283.8 92.6 284.8 91.1 285.5 94.3 284.6 95.4Z"/>
<path color="#d9e0f9" d="M259.6 105.2 264.2 104.3 265.3 104.0 260.7 104.6Z"/>
<path color="#dce2f9" d="M84.2 102.1 85.1 102.9 86.6 103.6 85.7 103.2Z"/>
<path color="#6d6d6b" d="M290.9 88.9 291.4 88.8 292.0 93.4 291.6 93.5Z"/>
<path color="#d5ddf9" d="M94.0 105.8 97.2 106.5 98.6 106.0 95.5 105.5Z"/>
<path color="#6d6d6b" d="M291.4 88.8 291.8 88.8 292.4 93.5 292.0 93.4Z"/>
<path class="bl" d="M280.5 101.9 282.9 102.2"/>
<path color="#dbe1f9" d="M85.1 102.9 86.2 103.6 87.6 104.2 86.6 103.6Z"/>
<path color="#6d6d6c" d="M284.8 91.1 285.6 89.7 286.3 93.3 285.5 94.3Z"/>
<path color="#6c6c6d" d="M76.5 89.9 76.8 90.8 78.4 94.9 78.0 94.3Z"/>
<path color="#6b6b6f" d="M279.2 95.9 280.8 93.7 281.5 95.9 280.0 97.6Z"/>
<path color="#6c6c6d" d="M76.8 90.8 77.2 91.7 78.7 95.6 78.4 94.9Z"/>
<path color="#d7def9" d="M90.5 105.3 92.6 106.0 94.0 105.8 91.9 105.3Z"/>
<path color="#6c6c6e" d="M77.2 91.7 77.6 92.6 79.1 96.2 78.7 95.6Z"/>
<path class="bl" d="M88.2 99.0 89.6 95.7"/>
<path color="#6b6b6f" d="M77.6 92.6 78.0 93.5 79.5 96.8 79.1 96.2Z"/>
<path color="#6b6b6f" d="M78.0 93.5 78.4 94.4 79.9 97.5 79.5 96.8Z"/>
<path color="#6a6b6f" d="M78.4 94.4 78.9 95.3 80.4 98.1 79.9 97.5Z"/>
<path color="#68696f" d="M274.1 99.7 276.6 97.0 277.4 98.2 275.0 100.4Z"/>
<path color="#696a6f" d="M78.9 95.3 79.4 96.2 80.9 98.8 80.4 98.1Z"/>
<path class="bl" d="M282.9 102.2 284.6 102.4"/>
<path color="#dae0f9" d="M86.2 103.6 87.4 104.4 88.9 104.7 87.6 104.2Z"/>
<path color="#6e6e6b" d="M285.6 89.7 286.4 88.4 287.1 92.3 286.3 93.3Z"/>
<path color="#696a6f" d="M79.4 96.2 79.9 97.1 81.4 99.4 80.9 98.8Z"/>
<path color="#68696f" d="M79.9 97.1 80.5 98.0 82.0 100.1 81.4 99.4Z"/>
<path class="bl" d="M284.6 102.4 286.0 102.6"/>
<path color="#67696f" d="M80.5 98.0 81.2 98.9 82.7 100.8 82.0 100.1Z"/>
<path color="#6c6c6d" d="M280.8 93.7 282.0 91.6 282.8 94.2 281.5 95.9Z"/>
<path color="#6e6e6a" d="M286.4 88.4 287.1 87.3 287.8 91.5 287.1 92.3Z"/>
<path color="#d5dcf9" d="M103.2 106.5 107.3 107.1 109.0 106.3 104.9 105.7Z"/>
<path color="#e4e8fa" d="M81.2 98.9 81.9 99.9 83.4 101.4 82.7 100.8Z"/>
<path color="#d5dcf9" d="M97.3 106.4 101.4 107.2 103.2 106.5 99.1 105.8Z"/>
<path color="#d9e0f9" d="M87.4 104.4 89.0 105.2 90.5 105.3 88.9 104.7Z"/>
<path color="#67686f" d="M269.7 102.1 273.3 99.0 274.1 99.7 270.5 102.2Z"/>
<path class="bl" d="M286.0 102.6 287.2 102.7"/>
<path color="#64666f" d="M264.2 104.3 268.8 102.0 269.9 102.1 265.3 104.0Z"/>
<path color="#6e6e68" d="M287.1 87.3 287.7 86.3 288.4 90.8 287.8 91.5Z"/>
<path color="#e2e7fa" d="M81.9 99.9 82.7 100.8 84.2 102.1 83.4 101.4Z"/>
<path class="bl" d="M86.8 101.4 88.2 99.0"/>
<path color="#d6ddf9" d="M92.6 106.0 95.8 106.9 97.2 106.5 94.0 105.8Z"/>
<path class="bl" d="M287.2 102.7 288.3 102.8"/>
<path color="#6b6b6f" d="M276.6 97.0 278.5 94.2 279.2 95.9 277.4 98.2Z"/>
<path color="#e0e5fa" d="M82.7 100.8 83.6 101.8 85.1 102.9 84.2 102.1Z"/>
<path color="#6e6e66" d="M287.7 86.3 288.3 85.5 289.0 90.2 288.4 90.8Z"/>
<path color="#6d6d6c" d="M282.0 91.6 283.1 89.5 283.8 92.6 282.8 94.2Z"/>
<path color="#d9dff9" d="M127.2 96.3 248.0 113.2 249.2 112.2 128.8 95.5Z"/>
<path class="bl" d="M288.3 102.8 289.2 102.9"/>
<path color="#6e6e64" d="M288.3 85.5 288.9 84.8 289.5 89.7 289.0 90.2Z"/>
<path class="bl" d="M289.2 102.9 289.9 103.0"/>
<path color="#d8dff9" d="M89.0 105.2 91.2 106.1 92.6 106.0 90.5 105.3Z"/>
<path color="#dee4fa" d="M83.6 101.8 84.7 102.8 86.2 103.6 85.1 102.9Z"/>
<path color="#dae0f9" d="M258.5 105.8 263.1 104.7 264.2 104.3 259.6 105.2Z"/>
<path color="#6e6e63" d="M288.9 84.8 289.4 84.3 290.0 89.3 289.5 89.7Z"/>
<path class="bl" d="M289.9 103.0 290.7 103.1"/>
<path color="#6e6e6a" d="M283.1 89.5 284.1 87.6 284.8 91.1 283.8 92.6Z"/>
<path class="bl" d="M290.7 103.1 291.3 103.2"/>
<path color="#6e6e62" d="M289.4 84.3 289.9 83.9 290.5 89.0 290.0 89.3Z"/>
<path color="#dde3fa" d="M84.7 102.8 86.0 103.8 87.4 104.4 86.2 103.6Z"/>
<path class="bl" d="M291.3 103.2 291.9 103.2"/>
<path color="#6e6e62" d="M289.9 83.9 290.3 83.7 290.9 88.9 290.5 89.0Z"/>
<path color="#6c6c6d" d="M278.5 94.2 280.0 91.5 280.8 93.7 279.2 95.9Z"/>
<path class="bl" d="M291.9 103.2 292.5 103.3"/>
<path color="#6e6e61" d="M290.3 83.7 290.7 83.6 291.4 88.8 290.9 88.9Z"/>
<path color="#6a6a6f" d="M273.3 99.0 275.8 95.8 276.6 97.0 274.1 99.7Z"/>
<path class="bl" d="M85.4 102.8 86.8 101.4M292.5 103.3 293.0 103.4"/>
<path color="#6e6e61" d="M290.7 83.6 291.1 83.6 291.8 88.8 291.4 88.8Z"/>
<path color="#6e6e6a" d="M75.6 87.2 76.0 88.4 77.6 92.6 77.2 91.7Z"/>
<path color="#6d6d6b" d="M76.0 88.4 76.4 89.6 78.0 93.5 77.6 92.6Z"/>
<path color="#6e6e68" d="M75.3 86.1 75.6 87.2 77.2 91.7 76.8 90.8Z"/>
<path color="#6d6d6c" d="M76.4 89.6 76.9 90.8 78.4 94.4 78.0 93.5Z"/>
<path color="#6e6e66" d="M74.9 84.9 75.3 86.1 76.8 90.8 76.5 89.9Z"/>
<path color="#6c6d6d" d="M76.9 90.8 77.3 92.0 78.9 95.3 78.4 94.4Z"/>
<path color="#6e6e66" d="M284.1 87.6 284.9 85.8 285.6 89.7 284.8 91.1Z"/>
<path class="bl" d="M293.0 103.4 293.5 103.4"/>
<path color="#f2f2f6" d="M77.3 92.0 77.9 93.2 79.4 96.2 78.9 95.3Z"/>
<path color="#f1f1f8" d="M77.9 93.2 78.4 94.4 79.9 97.1 79.4 96.2Z"/>
<path class="bl" d="M293.5 103.4 293.9 103.5"/>
<path color="#dbe1f9" d="M86.0 103.8 87.6 104.9 89.0 105.2 87.4 104.4Z"/>
<path color="#eff0fa" d="M78.4 94.4 79.0 95.6 80.5 98.0 79.9 97.1Z"/>
<path class="bl" d="M293.9 103.5 294.4 103.5"/>
<path color="#d5dcf9" d="M101.4 107.2 105.5 107.9 107.3 107.1 103.2 106.5Z"/>
<path color="#edeffb" d="M79.0 95.6 79.7 96.8 81.2 98.9 80.5 98.0Z"/>
<path class="bl" d="M294.4 103.5 294.8 103.6"/>
<path color="#d7def9" d="M91.2 106.1 94.3 107.2 95.8 106.9 92.6 106.0Z"/>
<path color="#d6ddf9" d="M95.5 106.9 99.6 107.8 101.4 107.2 97.3 106.4Z"/>
<path class="bl" d="M294.8 103.6 295.2 103.6"/>
<path color="#ebedfa" d="M79.7 96.8 80.4 98.0 81.9 99.9 81.2 98.9Z"/>
<path color="#68696f" d="M268.9 102.0 272.5 98.4 273.3 99.0 269.7 102.1Z"/>
<path color="#6e6e63" d="M284.9 85.8 285.7 84.2 286.4 88.4 285.6 89.7Z"/>
<path color="#6e6e6b" d="M280.0 91.5 281.3 88.8 282.0 91.6 280.8 93.7Z"/>
<path color="#e8ebfa" d="M80.4 98.0 81.2 99.3 82.7 100.8 81.9 99.9Z"/>
<path color="#e6e9fa" d="M81.2 99.3 82.1 100.6 83.6 101.8 82.7 100.8Z"/>
<path color="#dae0f9" d="M87.6 104.9 89.7 106.1 91.2 106.1 89.0 105.2Z"/>
<path color="#65676f" d="M263.1 104.7 267.8 101.9 268.8 102.0 264.2 104.3Z"/>
<path color="#6e6e60" d="M285.7 84.2 286.4 82.7 287.1 87.3 286.4 88.4Z"/>
<path color="#d8dff9" d="M125.6 97.2 246.8 114.3 248.0 113.2 127.2 96.3Z"/>
<path color="#6c6c6d" d="M275.8 95.8 277.7 92.5 278.5 94.2 276.6 97.0Z"/>
<path color="#e3e7fa" d="M82.1 100.6 83.2 101.8 84.7 102.8 83.6 101.8Z"/>
<path color="#6f6f5d" d="M286.4 82.7 287.1 81.5 287.7 86.3 287.1 87.3Z"/>
<path color="#6e6e66" d="M281.3 88.8 282.4 86.3 283.1 89.5 282.0 91.6Z"/>
<path class="bl" d="M84.0 103.1 85.4 102.8"/>
<path color="#e0e5fa" d="M83.2 101.8 84.5 103.2 86.0 103.8 84.7 102.8Z"/>
<path color="#dbe1f9" d="M257.4 106.4 262.0 105.1 263.1 104.7 258.5 105.8Z"/>
<path class="bl" d="M294.4 102.5 295.2 103.6"/>
<path color="#6f6f59" d="M287.1 81.5 287.7 80.4 288.3 85.5 287.7 86.3Z"/>
<path color="#dee3fa" d="M84.5 103.2 86.1 104.5 87.6 104.9 86.0 103.8Z"/>
<path color="#6b6b6f" d="M272.5 98.4 275.0 94.6 275.8 95.8 273.3 99.0Z"/>
<path color="#6f6f57" d="M287.7 80.4 288.2 79.5 288.9 84.8 288.3 85.5Z"/>
<path color="#d8dff9" d="M89.7 106.1 92.9 107.4 94.3 107.2 91.2 106.1Z"/>
<path color="#6e6e62" d="M282.4 86.3 283.4 83.9 284.1 87.6 283.1 89.5Z"/>
<path color="#6e6e6b" d="M277.7 92.5 279.2 89.2 280.0 91.5 278.5 94.2Z"/>
<path color="#6f6f54" d="M288.2 79.5 288.7 78.9 289.4 84.3 288.9 84.8Z"/>
<path color="#d5ddf9" d="M99.6 107.8 103.8 108.6 105.5 107.9 101.4 107.2Z"/>
<path color="#f7f7ee" d="M75.8 88.3 76.3 89.9 77.9 93.2 77.3 92.0Z"/>
<path color="#f5f6f1" d="M76.3 89.9 76.9 91.4 78.4 94.4 77.9 93.2Z"/>
<path color="#f7f7e7" d="M75.3 86.8 75.8 88.3 77.3 92.0 76.9 90.8Z"/>
<path color="#696a6f" d="M268.0 101.9 271.7 97.8 272.5 98.4 268.9 102.0Z"/>
<path color="#f4f4f3" d="M76.9 91.4 77.5 92.9 79.0 95.6 78.4 94.4Z"/>
<path color="#d6ddf9" d="M93.7 107.3 97.9 108.4 99.6 107.8 95.5 106.9Z"/>
<path color="#f8f8e1" d="M74.9 85.3 75.3 86.8 76.9 90.8 76.4 89.6Z"/>
<path color="#f2f3f6" d="M77.5 92.9 78.1 94.4 79.7 96.8 79.0 95.6Z"/>
<path color="#6f6f52" d="M288.7 78.9 289.2 78.4 289.9 83.9 289.4 84.3Z"/>
<path color="#f8f8da" d="M74.5 83.8 74.9 85.3 76.4 89.6 76.0 88.4Z"/>
<path color="#f8f8d4" d="M74.1 82.3 74.5 83.8 76.0 88.4 75.6 87.2Z"/>
<path color="#f0f1f8" d="M78.1 94.4 78.9 96.0 80.4 98.0 79.7 96.8Z"/>
<path color="#f9f9cc" d="M73.7 80.8 74.1 82.3 75.6 87.2 75.3 86.1Z"/>
<path color="#dce2f9" d="M86.1 104.5 88.2 106.0 89.7 106.1 87.6 104.9Z"/>
<path color="#6f6f51" d="M289.2 78.4 289.7 78.1 290.3 83.7 289.9 83.9Z"/>
<path color="#efeffb" d="M78.9 96.0 79.7 97.6 81.2 99.3 80.4 98.0Z"/>
<path color="#f9f9c2" d="M73.3 79.3 73.7 80.8 75.3 86.1 74.9 84.9Z"/>
<path color="#6f6f5d" d="M283.4 83.9 284.2 81.7 284.9 85.8 284.1 87.6Z"/>
<path color="#6f6f50" d="M289.7 78.1 290.1 77.9 290.7 83.6 290.3 83.7Z"/>
<path color="#ebedfa" d="M79.7 97.6 80.6 99.1 82.1 100.6 81.2 99.3Z"/>
<path color="#6f6f50" d="M290.1 77.9 290.5 77.9 291.1 83.6 290.7 83.6Z"/>
<path color="#6e6e65" d="M279.2 89.2 280.5 86.1 281.3 88.8 280.0 91.5Z"/>
<path color="#e8ebfa" d="M80.6 99.1 81.7 100.7 83.2 101.8 82.1 100.6Z"/>
<path color="#d8dff9" d="M124.0 98.1 245.6 115.4 246.8 114.3 125.6 97.2Z"/>
<path class="bl" d="M82.5 102.4 84.0 103.1"/>
<path color="#6f6f57" d="M284.2 81.7 285.0 79.7 285.7 84.2 284.9 85.8Z"/>
<path color="#6d6d6c" d="M275.0 94.6 276.9 90.8 277.7 92.5 275.8 95.8Z"/>
<path color="#66676f" d="M262.0 105.1 266.7 101.9 267.8 101.9 263.1 104.7Z"/>
<path color="#e4e8fa" d="M81.7 100.7 83.0 102.4 84.5 103.2 83.2 101.8Z"/>
<path color="#d9e0f9" d="M88.2 106.0 91.4 107.6 92.9 107.4 89.7 106.1Z"/>
<path color="#6f6f51" d="M285.0 79.7 285.8 77.9 286.4 82.7 285.7 84.2Z"/>
<path color="#e1e6fa" d="M83.0 102.4 84.6 104.1 86.1 104.5 84.5 103.2Z"/>
<path color="#dbe1f9" d="M256.3 107.1 260.9 105.6 262.0 105.1 257.4 106.4Z"/>
<path class="bl" d="M293.7 100.4 294.4 102.5"/>
<path color="#6e6e5f" d="M280.5 86.1 281.7 83.0 282.4 86.3 281.3 88.8Z"/>
<path color="#6c6c6d" d="M271.7 97.8 274.2 93.5 275.0 94.6 272.5 98.4Z"/>
<path color="#6f6f4c" d="M285.8 77.9 286.4 76.4 287.1 81.5 286.4 82.7Z"/>
<path color="#d6ddf9" d="M97.9 108.4 102.0 109.3 103.8 108.6 99.6 107.8Z"/>
<path color="#6e6e66" d="M276.9 90.8 278.5 87.0 279.2 89.2 277.7 92.5Z"/>
<path color="#6a6a6f" d="M267.2 101.9 270.8 97.3 271.7 97.8 268.0 101.9Z"/>
<path color="#dee3fa" d="M84.6 104.1 86.8 105.8 88.2 106.0 86.1 104.5Z"/>
<path color="#d7def9" d="M91.9 107.6 96.0 109.0 97.9 108.4 93.7 107.3Z"/>
<path color="#6f6e47" d="M286.4 76.4 287.0 75.1 287.7 80.4 287.1 81.5Z"/>
<path color="#6f6f57" d="M281.7 83.0 282.6 80.2 283.4 83.9 282.4 86.3Z"/>
<path color="#f6f6f0" d="M75.9 90.0 76.6 91.9 78.1 94.4 77.5 92.9Z"/>
<path color="#f7f7e9" d="M75.3 88.2 75.9 90.0 77.5 92.9 76.9 91.4Z"/>
<path color="#f4f4f3" d="M76.6 91.9 77.3 93.8 78.9 96.0 78.1 94.4Z"/>
<path color="#f8f8e1" d="M74.7 86.3 75.3 88.2 76.9 91.4 76.3 89.9Z"/>
<path color="#f2f3f6" d="M77.3 93.8 78.2 95.7 79.7 97.6 78.9 96.0Z"/>
<path color="#f8f8d9" d="M74.2 84.5 74.7 86.3 76.3 89.9 75.8 88.3Z"/>
<path color="#f0f1f9" d="M78.2 95.7 79.1 97.6 80.6 99.1 79.7 97.6Z"/>
<path color="#f9f9d0" d="M73.7 82.6 74.2 84.5 75.8 88.3 75.3 86.8Z"/>
<path color="#6f6e44" d="M287.0 75.1 287.6 74.0 288.2 79.5 287.7 80.4Z"/>
<path color="#f9f9c4" d="M73.3 80.8 73.7 82.6 75.3 86.8 74.9 85.3Z"/>
<path color="#edeefb" d="M79.1 97.6 80.2 99.5 81.7 100.7 80.6 99.1Z"/>
<path color="#faf9b7" d="M72.9 79.0 73.3 80.8 74.9 85.3 74.5 83.8Z"/>
<path class="bl" d="M81.0 100.6 82.5 102.4"/>
<path color="#d7def9" d="M122.4 99.1 244.4 116.6 245.6 115.4 124.0 98.1Z"/>
<path color="#faf9aa" d="M72.5 77.1 72.9 79.0 74.5 83.8 74.1 82.3Z"/>
<path color="#6f6d41" d="M287.6 74.0 288.1 73.2 288.7 78.9 288.2 79.5Z"/>
<path color="#e9ebfa" d="M80.2 99.5 81.5 101.5 83.0 102.4 81.7 100.7Z"/>
<path color="#fbf89c" d="M72.1 75.3 72.5 77.1 74.1 82.3 73.7 80.8Z"/>
<path color="#6f6f4f" d="M282.6 80.2 283.5 77.6 284.2 81.7 283.4 83.9Z"/>
<path color="#fbf78f" d="M71.7 73.5 72.1 75.3 73.7 80.8 73.3 79.3Z"/>
<path color="#dbe1f9" d="M86.8 105.8 89.9 107.8 91.4 107.6 88.2 106.0Z"/>
<path color="#6f6f5f" d="M278.5 87.0 279.8 83.3 280.5 86.1 279.2 89.2Z"/>
<path color="#6f6d3e" d="M288.1 73.2 288.6 72.6 289.2 78.4 288.7 78.9Z"/>
<path color="#6e6e6a" d="M274.2 93.5 276.1 89.2 276.9 90.8 275.0 94.6Z"/>
<path color="#e4e8fa" d="M81.5 101.5 83.1 103.5 84.6 104.1 83.0 102.4Z"/>
<path color="#66686f" d="M260.9 105.6 265.6 102.1 266.7 101.9 262.0 105.1Z"/>
<path color="#6f6d3d" d="M288.6 72.6 289.0 72.2 289.7 78.1 289.2 78.4Z"/>
<path color="#6f6d3c" d="M289.0 72.2 289.4 72.0 290.1 77.9 289.7 78.1Z"/>
<path color="#6f6d3b" d="M289.4 72.0 289.8 72.0 290.5 77.9 290.1 77.9Z"/>
<path color="#6f6e47" d="M283.5 77.6 284.3 75.2 285.0 79.7 284.2 81.7Z"/>
<path color="#dce2f9" d="M255.1 107.8 259.8 106.2 260.9 105.6 256.3 107.1Z"/>
<path color="#6d6d6c" d="M270.8 97.3 273.4 92.6 274.2 93.5 271.7 97.8Z"/>
<path color="#e0e5fa" d="M83.1 103.5 85.3 105.6 86.8 105.8 84.6 104.1Z"/>
<path color="#d6ddf9" d="M96.0 109.0 100.2 110.0 102.0 109.3 97.9 108.4Z"/>
<path class="bl" d="M293.1 97.4 293.7 100.4"/>
<path color="#6f6f55" d="M279.8 83.3 280.9 79.8 281.7 83.0 280.5 86.1Z"/>
<path color="#6a6b6f" d="M266.3 102.0 270.0 97.0 270.8 97.3 267.2 101.9Z"/>
<path color="#6f6d40" d="M284.3 75.2 285.1 73.1 285.8 77.9 285.0 79.7Z"/>
<path color="#d8dff9" d="M90.1 107.8 94.2 109.5 96.0 109.0 91.9 107.6Z"/>
<path color="#6e6e61" d="M276.1 89.2 277.7 84.9 278.5 87.0 276.9 90.8Z"/>
<path color="#f6f6f1" d="M75.8 91.5 76.6 93.8 78.2 95.7 77.3 93.8Z"/>
<path color="#f7f7ea" d="M75.0 89.3 75.8 91.5 77.3 93.8 76.6 91.9Z"/>
<path color="#f3f3f4" d="M76.6 93.8 77.6 96.0 79.1 97.6 78.2 95.7Z"/>
<path color="#f8f8e0" d="M74.4 87.1 75.0 89.3 76.6 91.9 75.9 90.0Z"/>
<path color="#f8f8d6" d="M73.7 84.9 74.4 87.1 75.9 90.0 75.3 88.2Z"/>
<path color="#f0f1f8" d="M77.6 96.0 78.7 98.3 80.2 99.5 79.1 97.6Z"/>
<path color="#6f6c3a" d="M285.1 73.1 285.7 71.2 286.4 76.4 285.8 77.9Z"/>
<path color="#f9f9cb" d="M73.2 82.7 73.7 84.9 75.3 88.2 74.7 86.3Z"/>
<path color="#dce2fa" d="M85.3 105.6 88.5 107.9 89.9 107.8 86.8 105.8Z"/>
<path color="#edeefb" d="M78.7 98.3 80.0 100.6 81.5 101.5 80.2 99.5Z"/>
<path color="#faf9bb" d="M72.6 80.5 73.2 82.7 74.7 86.3 74.2 84.5Z"/>
<path color="#d7def9" d="M120.8 100.0 243.1 117.8 244.4 116.6 122.4 99.1Z"/>
<path color="#6f6e4a" d="M280.9 79.8 281.9 76.6 282.6 80.2 281.7 83.0Z"/>
<path class="bl" d="M79.5 97.9 81.0 100.6"/>
<path color="#faf9ab" d="M72.2 78.3 72.6 80.5 74.2 84.5 73.7 82.6Z"/>
<path color="#fbf89b" d="M71.7 76.1 72.2 78.3 73.7 82.6 73.3 80.8Z"/>
<path color="#6f6b38" d="M285.7 71.2 286.3 69.7 287.0 75.1 286.4 76.4Z"/>
<path color="#e8ebfa" d="M80.0 100.6 81.6 103.0 83.1 103.5 81.5 101.5Z"/>
<path color="#fbf68b" d="M71.3 73.9 71.7 76.1 73.3 80.8 72.9 79.0Z"/>
<path color="#6e6e66" d="M273.4 92.6 275.3 87.7 276.1 89.2 274.2 93.5Z"/>
<path color="#fbf47a" d="M70.9 71.8 71.3 73.9 72.9 79.0 72.5 77.1Z"/>
<path color="#6f6f56" d="M277.7 84.9 279.0 80.7 279.8 83.3 278.5 87.0Z"/>
<path color="#6f6a36" d="M286.3 69.7 286.9 68.4 287.6 74.0 287.0 75.1Z"/>
<path color="#faf26e" d="M70.5 69.6 70.9 71.8 72.5 77.1 72.1 75.3Z"/>
<path color="#67686f" d="M259.8 106.2 264.5 102.4 265.6 102.1 260.9 105.6Z"/>
<path color="#e3e7fa" d="M81.6 103.0 83.8 105.4 85.3 105.6 83.1 103.5Z"/>
<path color="#6f6d40" d="M281.9 76.6 282.8 73.5 283.5 77.6 282.6 80.2Z"/>
<path color="#faee69" d="M70.1 67.4 70.5 69.6 72.1 75.3 71.7 73.5Z"/>
<path color="#6f6a35" d="M286.9 68.4 287.4 67.4 288.1 73.2 287.6 74.0Z"/>
<path color="#6d6d6c" d="M270.0 97.0 272.5 91.8 273.4 92.6 270.8 97.3Z"/>
<path color="#6b6b6f" d="M265.4 102.1 269.1 96.8 270.0 97.0 266.3 102.0Z"/>
<path color="#dce2f9" d="M254.0 108.6 258.6 106.9 259.8 106.2 255.1 107.8Z"/>
<path color="#d7def9" d="M94.2 109.5 98.4 110.7 100.2 110.0 96.0 109.0Z"/>
<path color="#6f6934" d="M287.4 67.4 287.9 66.7 288.6 72.6 288.1 73.2Z"/>
<path color="#6f6934" d="M287.9 66.7 288.4 66.2 289.0 72.2 288.6 72.6Z"/>
<path color="#d9e0f9" d="M88.2 107.9 92.4 110.0 94.2 109.5 90.1 107.8Z"/>
<path color="#6f6c39" d="M282.8 73.5 283.6 70.8 284.3 75.2 283.5 77.6Z"/>
<path color="#6e6833" d="M288.4 66.2 288.8 66.0 289.4 72.0 289.0 72.2Z"/>
<path color="#6f6e49" d="M279.0 80.7 280.2 76.8 280.9 79.8 279.8 83.3Z"/>
<path color="#dee3fa" d="M83.8 105.4 87.0 108.1 88.5 107.9 85.3 105.6Z"/>
<path color="#6e6833" d="M288.8 66.0 289.2 65.9 289.8 72.0 289.4 72.0Z"/>
<path color="#f6f6f0" d="M75.1 91.9 76.0 94.5 77.6 96.0 76.6 93.8Z"/>
<path color="#f7f7e6" d="M74.2 89.3 75.1 91.9 76.6 93.8 75.8 91.5Z"/>
<path color="#f3f3f4" d="M76.0 94.5 77.1 97.1 78.7 98.3 77.6 96.0Z"/>
<path color="#6f6f5c" d="M275.3 87.7 276.9 83.0 277.7 84.9 276.1 89.2Z"/>
<path color="#f8f8db" d="M73.5 86.7 74.2 89.3 75.8 91.5 75.0 89.3Z"/>
<path class="bl" d="M292.4 93.5 293.1 97.4"/>
<path color="#f0f1f8" d="M77.1 97.1 78.4 99.7 80.0 100.6 78.7 98.3Z"/>
<path color="#f9f9cf" d="M72.8 84.2 73.5 86.7 75.0 89.3 74.4 87.1Z"/>
<path color="#f9f9bd" d="M72.2 81.6 72.8 84.2 74.4 87.1 73.7 84.9Z"/>
<path color="#d7def9" d="M119.1 101.0 241.9 118.9 243.1 117.8 120.8 100.0Z"/>
<path color="#6f6a36" d="M283.6 70.8 284.4 68.3 285.1 73.1 284.3 75.2Z"/>
<path color="#ecedfa" d="M78.4 99.7 80.1 102.4 81.6 103.0 80.0 100.6Z"/>
<path color="#faf9aa" d="M71.6 79.1 72.2 81.6 73.7 84.9 73.2 82.7Z"/>
<path color="#fbf897" d="M71.1 76.6 71.6 79.1 73.2 82.7 72.6 80.5Z"/>
<path class="bl" d="M78.0 94.3 79.5 97.9"/>
<path color="#fbf584" d="M70.6 74.0 71.1 76.6 72.6 80.5 72.2 78.3Z"/>
<path color="#e6e9fa" d="M80.1 102.4 82.3 105.2 83.8 105.4 81.6 103.0Z"/>
<path color="#6f6d3d" d="M280.2 76.8 281.2 73.1 281.9 76.6 280.9 79.8Z"/>
<path color="#6e6e63" d="M272.5 91.8 274.5 86.5 275.3 87.7 273.4 92.6Z"/>
<path color="#6f6934" d="M284.4 68.3 285.1 66.2 285.7 71.2 285.1 73.1Z"/>
<path color="#fbf371" d="M70.1 71.5 70.6 74.0 72.2 78.3 71.7 76.1Z"/>
<path color="#faef6a" d="M69.6 69.0 70.1 71.5 71.7 76.1 71.3 73.9Z"/>
<path color="#6f6f4d" d="M276.9 83.0 278.2 78.4 279.0 80.7 277.7 84.9Z"/>
<path color="#6e6e6b" d="M269.1 96.8 271.7 91.2 272.5 91.8 270.0 97.0Z"/>
<path color="#6b6b6e" d="M264.5 102.4 268.3 96.8 269.1 96.8 265.4 102.1Z"/>
<path color="#67686f" d="M258.6 106.9 263.4 103.0 264.5 102.4 259.8 106.2Z"/>
<path color="#6e6732" d="M285.1 66.2 285.7 64.4 286.3 69.7 285.7 71.2Z"/>
<path color="#f9eb64" d="M69.2 66.5 69.6 69.0 71.3 73.9 70.9 71.8Z"/>
<path color="#d7def9" d="M92.4 110.0 96.6 111.4 98.4 110.7 94.2 109.5Z"/>
<path color="#f8e75d" d="M68.8 63.9 69.2 66.5 70.9 71.8 70.5 69.6Z"/>
<path color="#e0e5fa" d="M82.3 105.2 85.5 108.2 87.0 108.1 83.8 105.4Z"/>
<path color="#dce2fa" d="M252.8 109.4 257.5 107.7 258.6 106.9 254.0 108.6Z"/>
<path color="#6f6b37" d="M281.2 73.1 282.1 69.7 282.8 73.5 281.9 76.6Z"/>
<path color="#6e6530" d="M285.7 64.4 286.2 62.9 286.9 68.4 286.3 69.7Z"/>
<path color="#dae1f9" d="M86.4 108.1 90.5 110.5 92.4 110.0 88.2 107.9Z"/>
<path color="#f7e058" d="M68.5 61.4 68.8 63.9 70.5 69.6 70.1 67.4Z"/>
<path color="#f6f6f0" d="M74.5 93.0 75.6 95.9 77.1 97.1 76.0 94.5Z"/>
<path color="#f7f7e6" d="M73.5 90.1 74.5 93.0 76.0 94.5 75.1 91.9Z"/>
<path color="#f2f3f5" d="M75.6 95.9 76.9 98.9 78.4 99.7 77.1 97.1Z"/>
<path color="#f8f8d9" d="M72.6 87.2 73.5 90.1 75.1 91.9 74.2 89.3Z"/>
<path color="#6e6330" d="M286.2 62.9 286.8 61.8 287.4 67.4 286.9 68.4Z"/>
<path color="#f9f9ca" d="M71.9 84.3 72.6 87.2 74.2 89.3 73.5 86.7Z"/>
<path color="#eff0fa" d="M76.9 98.9 78.6 101.9 80.1 102.4 78.4 99.7Z"/>
<path color="#6f6f55" d="M274.5 86.5 276.1 81.4 276.9 83.0 275.3 87.7Z"/>
<path color="#6f6d3f" d="M278.2 78.4 279.4 74.0 280.2 76.8 279.0 80.7Z"/>
<path color="#faf9b5" d="M71.2 81.4 71.9 84.3 73.5 86.7 72.8 84.2Z"/>
<path color="#6e612f" d="M286.8 61.8 287.3 60.9 287.9 66.7 287.4 67.4Z"/>
<path color="#6f6934" d="M282.1 69.7 282.9 66.6 283.6 70.8 282.8 73.5Z"/>
<path color="#d6ddf9" d="M117.5 101.9 240.6 120.1 241.9 118.9 119.1 101.0Z"/>
<path color="#fbf99f" d="M70.6 78.5 71.2 81.4 72.8 84.2 72.2 81.6Z"/>
<path color="#e8ebfa" d="M78.6 101.9 80.7 105.1 82.3 105.2 80.1 102.4Z"/>
<path color="#6e602f" d="M287.3 60.9 287.7 60.4 288.4 66.2 287.9 66.7Z"/>
<path color="#fbf689" d="M70.0 75.6 70.6 78.5 72.2 81.6 71.6 79.1Z"/>
<path color="#6d602f" d="M287.7 60.4 288.2 60.1 288.8 66.0 288.4 66.2Z"/>
<path class="bl" d="M291.8 88.8 292.4 93.5"/>
<path color="#6d5f2e" d="M288.2 60.1 288.6 60.0 289.2 65.9 288.8 66.0Z"/>
<path color="#6e6e60" d="M271.7 91.2 273.7 85.6 274.5 86.5 272.5 91.8Z"/>
<path color="#fbf373" d="M69.5 72.8 70.0 75.6 71.6 79.1 71.1 76.6Z"/>
<path color="#6e6631" d="M282.9 66.6 283.7 63.8 284.4 68.3 283.6 70.8Z"/>
<path color="#6b6c6e" d="M263.7 102.8 267.4 97.0 268.3 96.8 264.5 102.4Z"/>
<path color="#faef6a" d="M68.9 69.9 69.5 72.8 71.1 76.6 70.6 74.0Z"/>
<path class="bl" d="M76.5 89.9 78.0 94.3"/>
<path color="#6e6e69" d="M268.3 96.8 270.9 90.9 271.7 91.2 269.1 96.8Z"/>
<path color="#6f6b37" d="M279.4 74.0 280.4 69.9 281.2 73.1 280.2 76.8Z"/>
<path color="#e1e6fa" d="M80.7 105.1 84.0 108.4 85.5 108.2 82.3 105.2Z"/>
<path color="#f9eb63" d="M68.5 67.0 68.9 69.9 70.6 74.0 70.1 71.5Z"/>
<path color="#d8dff9" d="M90.5 110.5 94.7 112.0 96.6 111.4 92.4 110.0Z"/>
<path color="#6f6e45" d="M276.1 81.4 277.4 76.4 278.2 78.4 276.9 83.0Z"/>
<path color="#67686f" d="M257.5 107.7 262.3 103.7 263.4 103.0 258.6 106.9Z"/>
<path color="#6e622f" d="M283.7 63.8 284.4 61.4 285.1 66.2 284.4 68.3Z"/>
<path color="#f8e65b" d="M68.0 64.2 68.5 67.0 70.1 71.5 69.6 69.0Z"/>
<path color="#dbe1f9" d="M84.5 108.3 88.7 111.0 90.5 110.5 86.4 108.1Z"/>
<path color="#dce2fa" d="M251.6 110.3 256.3 108.6 257.5 107.7 252.8 109.4Z"/>
<path color="#f4f5f2" d="M74.0 94.9 75.4 98.2 76.9 98.9 75.6 95.9Z"/>
<path color="#f7f7ea" d="M72.9 91.6 74.0 94.9 75.6 95.9 74.5 93.0Z"/>
<path color="#f7dc57" d="M67.6 61.3 68.0 64.2 69.6 69.0 69.2 66.5Z"/>
<path color="#f8f8db" d="M71.9 88.4 72.9 91.6 74.5 93.0 73.5 90.1Z"/>
<path color="#f0f1f8" d="M75.4 98.2 77.0 101.5 78.6 101.9 76.9 98.9Z"/>
<path color="#f9f9cb" d="M71.1 85.2 71.9 88.4 73.5 90.1 72.6 87.2Z"/>
<path color="#6d5f2e" d="M284.4 61.4 285.0 59.3 285.7 64.4 285.1 66.2Z"/>
<path color="#f6d153" d="M67.2 58.5 67.6 61.3 69.2 66.5 68.8 63.9Z"/>
<path color="#6e6833" d="M280.4 69.9 281.4 66.1 282.1 69.7 281.2 73.1Z"/>
<path color="#faf9b3" d="M70.3 82.0 71.1 85.2 72.6 87.2 71.9 84.3Z"/>
<path color="#ebedfa" d="M77.0 101.5 79.2 105.0 80.7 105.1 78.6 101.9Z"/>
<path color="#6f6f4f" d="M273.7 85.6 275.3 80.1 276.1 81.4 274.5 86.5Z"/>
<path color="#f5c550" d="M66.8 55.6 67.2 58.5 68.8 63.9 68.5 61.4Z"/>
<path color="#d6ddf9" d="M115.8 102.8 239.3 121.2 240.6 120.1 117.5 101.9Z"/>
<path color="#fbf89b" d="M69.6 78.8 70.3 82.0 71.9 84.3 71.2 81.4Z"/>
<path color="#6d5b2d" d="M285.0 59.3 285.6 57.7 286.2 62.9 285.7 64.4Z"/>
<path color="#6f6b38" d="M277.4 76.4 278.6 71.7 279.4 74.0 278.2 78.4Z"/>
<path color="#fbf583" d="M69.0 75.6 69.6 78.8 71.2 81.4 70.6 78.5Z"/>
<path color="#6d592d" d="M285.6 57.7 286.1 56.4 286.8 61.8 286.2 62.9Z"/>
<path color="#6f6f5d" d="M270.9 90.9 272.8 85.0 273.7 85.6 271.7 91.2Z"/>
<path color="#6e6430" d="M281.4 66.1 282.2 62.7 282.9 66.6 282.1 69.7Z"/>
<path color="#faf26f" d="M68.4 72.4 69.0 75.6 70.6 78.5 70.0 75.6Z"/>
<path color="#6c6c6e" d="M262.8 103.3 266.5 97.4 267.4 97.0 263.7 102.8Z"/>
<path color="#e3e7fa" d="M79.2 105.0 82.5 108.6 84.0 108.4 80.7 105.1Z"/>
<path color="#6e6e68" d="M267.4 97.0 270.0 90.9 270.9 90.9 268.3 96.8Z"/>
<path color="#6c562d" d="M286.1 56.4 286.6 55.4 287.3 60.9 286.8 61.8Z"/>
<path color="#f9ed66" d="M67.8 69.2 68.4 72.4 70.0 75.6 69.5 72.8Z"/>
<path color="#6c552c" d="M286.6 55.4 287.1 54.8 287.7 60.4 287.3 60.9Z"/>
<path color="#f8e85e" d="M67.3 66.1 67.8 69.2 69.5 72.8 68.9 69.9Z"/>
<path color="#d8dff9" d="M88.7 111.0 92.9 112.7 94.7 112.0 90.5 110.5Z"/>
<path color="#6c542c" d="M287.1 54.8 287.5 54.4 288.2 60.1 287.7 60.4Z"/>
<path color="#6d5e2e" d="M282.2 62.7 282.9 59.6 283.7 63.8 282.9 66.6Z"/>
<path color="#6e6833" d="M278.6 71.7 279.7 67.2 280.4 69.9 279.4 74.0Z"/>
<path color="#6f6d3e" d="M275.3 80.1 276.6 74.8 277.4 76.4 276.1 81.4Z"/>
<path color="#f6f6f0" d="M72.5 94.0 73.8 97.6 75.4 98.2 74.0 94.9Z"/>
<path color="#6c542c" d="M287.5 54.4 287.9 54.4 288.6 60.0 288.2 60.1Z"/>
<path color="#f7df58" d="M66.8 62.9 67.3 66.1 68.9 69.9 68.5 67.0Z"/>
<path color="#f8f8e1" d="M71.3 90.5 72.5 94.0 74.0 94.9 72.9 91.6Z"/>
<path class="bl" d="M291.1 83.6 291.8 88.8"/>
<path color="#f2f3f6" d="M73.8 97.6 75.5 101.2 77.0 101.5 75.4 98.2Z"/>
<path class="bl" d="M74.9 84.9 76.5 89.9"/>
<path color="#67686f" d="M256.3 108.6 261.1 104.6 262.3 103.7 257.5 107.7Z"/>
<path color="#dce2fa" d="M82.6 108.5 86.8 111.5 88.7 111.0 84.5 108.3Z"/>
<path color="#f9f9d1" d="M70.3 87.0 71.3 90.5 72.9 91.6 71.9 88.4Z"/>
<path color="#edeefb" d="M75.5 101.2 77.7 104.9 79.2 105.0 77.0 101.5Z"/>
<path color="#f6d253" d="M66.4 59.7 66.8 62.9 68.5 67.0 68.0 64.2Z"/>
<path color="#dce2f9" d="M250.4 111.2 255.2 109.6 256.3 108.6 251.6 110.3Z"/>
<path color="#faf9b9" d="M69.5 83.5 70.3 87.0 71.9 88.4 71.1 85.2Z"/>
<path color="#6d592d" d="M282.9 59.6 283.6 57.0 284.4 61.4 283.7 63.8Z"/>
<path color="#fbf99e" d="M68.7 80.0 69.5 83.5 71.1 85.2 70.3 82.0Z"/>
<path color="#f5c550" d="M66.0 56.6 66.4 59.7 68.0 64.2 67.6 61.3Z"/>
<path color="#6f6e4a" d="M272.8 85.0 274.4 79.3 275.3 80.1 273.7 85.6Z"/>
<path color="#d5ddf9" d="M114.1 103.8 238.0 122.3 239.3 121.2 115.8 102.8Z"/>
<path color="#fbf583" d="M68.0 76.5 68.7 80.0 70.3 82.0 69.6 78.8Z"/>
<path color="#6e6430" d="M279.7 67.2 280.6 63.1 281.4 66.1 280.4 69.9Z"/>
<path color="#f3b64e" d="M65.6 53.4 66.0 56.6 67.6 61.3 67.2 58.5Z"/>
<path color="#e5e8fa" d="M77.7 104.9 80.9 108.8 82.5 108.6 79.2 105.0Z"/>
<path color="#6c6c6e" d="M261.9 104.0 265.6 98.0 266.5 97.4 262.8 103.3Z"/>
<path color="#6c552c" d="M283.6 57.0 284.3 54.7 285.0 59.3 284.4 61.4Z"/>
<path color="#faf16e" d="M67.4 73.1 68.0 76.5 69.6 78.8 69.0 75.6Z"/>
<path color="#6f6a36" d="M276.6 74.8 277.8 69.7 278.6 71.7 277.4 76.4Z"/>
<path color="#6f6f5a" d="M270.0 90.9 272.0 84.8 272.8 85.0 270.9 90.9Z"/>
<path color="#f1a74c" d="M65.2 50.2 65.6 53.4 67.2 58.5 66.8 55.6Z"/>
<path color="#6e6e67" d="M266.5 97.4 269.1 91.2 270.0 90.9 267.4 97.0Z"/>
<path color="#f9ec65" d="M66.8 69.6 67.4 73.1 69.0 75.6 68.4 72.4Z"/>
<path color="#6c512c" d="M284.3 54.7 284.9 52.9 285.6 57.7 285.0 59.3Z"/>
<path color="#f8e65c" d="M66.2 66.1 66.8 69.6 68.4 72.4 67.8 69.2Z"/>
<path color="#6d5d2e" d="M280.6 63.1 281.4 59.3 282.2 62.7 281.4 66.1Z"/>
<path color="#d9dff9" d="M86.8 111.5 91.0 113.4 92.9 112.7 88.7 111.0Z"/>
<path color="#f7f7eb" d="M70.9 93.4 72.2 97.2 73.8 97.6 72.5 94.0Z"/>
<path color="#f3f4f4" d="M72.2 97.2 73.9 101.1 75.5 101.2 73.8 97.6Z"/>
<path color="#f8f8da" d="M69.7 89.6 70.9 93.4 72.5 94.0 71.3 90.5Z"/>
<path color="#6b4e2b" d="M284.9 52.9 285.4 51.4 286.1 56.4 285.6 57.7Z"/>
<path color="#f7da56" d="M65.7 62.7 66.2 66.1 67.8 69.2 67.3 66.1Z"/>
<path color="#eff0fa" d="M73.9 101.1 76.1 105.0 77.7 104.9 75.5 101.2Z"/>
<path color="#f9f9c5" d="M68.8 85.8 69.7 89.6 71.3 90.5 70.3 87.0Z"/>
<path color="#6f6c39" d="M274.4 79.3 275.8 73.7 276.6 74.8 275.3 80.1Z"/>
<path color="#6b4b2b" d="M285.4 51.4 285.9 50.4 286.6 55.4 286.1 56.4Z"/>
<path color="#dde3fa" d="M80.7 108.9 84.9 112.1 86.8 111.5 82.6 108.5Z"/>
<path color="#6e6631" d="M277.8 69.7 278.9 65.0 279.7 67.2 278.6 71.7Z"/>
<path color="#e5e8fa" d="M255.2 109.6 260.0 105.8 261.1 104.6 256.3 108.6Z"/>
<path color="#faf9a8" d="M67.9 82.1 68.8 85.8 70.3 87.0 69.5 83.5Z"/>
<path color="#f5cc51" d="M65.2 59.2 65.7 62.7 67.3 66.1 66.8 62.9Z"/>
<path color="#6b4a2b" d="M285.9 50.4 286.4 49.7 287.1 54.8 286.6 55.4Z"/>
<path color="#6c572d" d="M281.4 59.3 282.2 56.0 282.9 59.6 282.2 62.7Z"/>
<path color="#dce2f9" d="M249.2 112.2 254.0 110.7 255.2 109.6 250.4 111.2Z"/>
<path color="#fbf68c" d="M67.1 78.4 67.9 82.1 69.5 83.5 68.7 80.0Z"/>
<path color="#e6e9fa" d="M76.1 105.0 79.4 109.1 80.9 108.8 77.7 104.9Z"/>
<path color="#f4bd4f" d="M64.8 55.8 65.2 59.2 66.8 62.9 66.4 59.7Z"/>
<path color="#6a492b" d="M286.4 49.7 286.8 49.3 287.5 54.4 287.1 54.8Z"/>
<path color="#6f6e47" d="M272.0 84.8 273.6 78.9 274.4 79.3 272.8 85.0Z"/>
<path class="bl" d="M73.3 79.3 74.9 84.9"/>
<path color="#6a482b" d="M286.8 49.3 287.2 49.2 287.9 54.4 287.5 54.4Z"/>
<path color="#6c6c6e" d="M260.9 104.8 264.7 98.9 265.6 98.0 261.9 104.0Z"/>
<path color="#fbf370" d="M66.4 74.7 67.1 78.4 68.7 80.0 68.0 76.5Z"/>
<path color="#d5dcf9" d="M112.4 104.7 236.7 123.4 238.0 122.3 114.1 103.8Z"/>
<path color="#f2ad4c" d="M64.3 52.3 64.8 55.8 66.4 59.7 66.0 56.6Z"/>
<path class="bl" d="M290.5 77.9 291.1 83.6"/>
<path color="#6f6f59" d="M269.1 91.2 271.1 85.0 272.0 84.8 270.0 90.9Z"/>
<path color="#6c512c" d="M282.2 56.0 282.9 53.1 283.6 57.0 282.9 59.6Z"/>
<path color="#6e6e67" d="M265.6 98.0 268.2 91.8 269.1 91.2 266.5 97.4Z"/>
<path color="#f9ed66" d="M65.8 70.9 66.4 74.7 68.0 76.5 67.4 73.1Z"/>
<path color="#6d5e2e" d="M278.9 65.0 279.8 60.6 280.6 63.1 279.7 67.2Z"/>
<path color="#ef9c4a" d="M63.9 48.9 64.3 52.3 66.0 56.6 65.6 53.4Z"/>
<path color="#6e6833" d="M275.8 73.7 277.0 68.4 277.8 69.7 276.6 74.8Z"/>
<path color="#f8e75c" d="M65.2 67.2 65.8 70.9 67.4 73.1 66.8 69.6Z"/>
<path color="#f4f5f2" d="M70.7 97.0 72.3 101.1 73.9 101.1 72.2 97.2Z"/>
<path color="#f7f7e6" d="M69.3 93.0 70.7 97.0 72.2 97.2 70.9 93.4Z"/>
<path color="#ec8c48" d="M63.5 45.4 63.9 48.9 65.6 53.4 65.2 50.2Z"/>
<path color="#6b4c2b" d="M282.9 53.1 283.6 50.7 284.3 54.7 283.6 57.0Z"/>
<path color="#f8f8d3" d="M68.2 89.0 69.3 93.0 70.9 93.4 69.7 89.6Z"/>
<path color="#f0f0f9" d="M72.3 101.1 74.6 105.2 76.1 105.0 73.9 101.1Z"/>
<path color="#d9e0f9" d="M84.9 112.1 89.1 114.2 91.0 113.4 86.8 111.5Z"/>
<path color="#f7da56" d="M64.6 63.5 65.2 67.2 66.8 69.6 66.2 66.1Z"/>
<path color="#faf9b9" d="M67.2 85.0 68.2 89.0 69.7 89.6 68.8 85.8Z"/>
<path color="#6c572d" d="M279.8 60.6 280.7 56.6 281.4 59.3 280.6 63.1Z"/>
<path color="#6a472a" d="M283.6 50.7 284.1 48.6 284.9 52.9 284.3 54.7Z"/>
<path color="#f5cb51" d="M64.1 59.8 64.6 63.5 66.2 66.1 65.7 62.7Z"/>
<path color="#fbf89b" d="M66.3 81.1 67.2 85.0 68.8 85.8 67.9 82.1Z"/>
<path color="#6f6b38" d="M273.6 78.9 275.0 73.1 275.8 73.7 274.4 79.3Z"/>
<path color="#dee4fa" d="M78.7 109.3 83.0 112.7 84.9 112.1 80.7 108.9Z"/>
<path color="#e7eafa" d="M74.6 105.2 77.9 109.5 79.4 109.1 76.1 105.0Z"/>
<path color="#e4e8fa" d="M254.0 110.7 258.8 107.1 260.0 105.8 255.2 109.6Z"/>
<path color="#fbf57c" d="M65.5 77.2 66.3 81.1 67.9 82.1 67.1 78.4Z"/>
<path color="#6e622f" d="M277.0 68.4 278.1 63.4 278.9 65.0 277.8 69.7Z"/>
<path color="#f3ba4e" d="M63.6 56.1 64.1 59.8 65.7 62.7 65.2 59.2Z"/>
<path color="#6a442a" d="M284.1 48.6 284.7 47.1 285.4 51.4 284.9 52.9Z"/>
<path color="#6b6c6e" d="M260.0 105.7 263.8 100.0 264.7 98.9 260.9 104.8Z"/>
<path color="#6f6e45" d="M271.1 85.0 272.7 78.9 273.6 78.9 272.0 84.8Z"/>
<path color="#dbe1f9" d="M248.0 113.2 252.8 111.9 254.0 110.7 249.2 112.2Z"/>
<path color="#faef6a" d="M64.8 73.3 65.5 77.2 67.1 78.4 66.4 74.7Z"/>
<path color="#f1a94c" d="M63.1 52.4 63.6 56.1 65.2 59.2 64.8 55.8Z"/>
<path color="#69412a" d="M284.7 47.1 285.2 45.9 285.9 50.4 285.4 51.4Z"/>
<path color="#6c4f2c" d="M280.7 56.6 281.4 53.0 282.2 56.0 281.4 59.3Z"/>
<path color="#6e6e67" d="M264.7 98.9 267.3 92.8 268.2 91.8 265.6 98.0Z"/>
<path color="#6f6f58" d="M268.2 91.8 270.2 85.6 271.1 85.0 269.1 91.2Z"/>
<path color="#d5dcf9" d="M110.7 105.5 235.4 124.4 236.7 123.4 112.4 104.7Z"/>
<path color="#693f29" d="M285.2 45.9 285.7 45.2 286.4 49.7 285.9 50.4Z"/>
<path color="#f9e960" d="M64.1 69.3 64.8 73.3 66.4 74.7 65.8 70.9Z"/>
<path color="#ee9749" d="M62.7 48.7 63.1 52.4 64.8 55.8 64.3 52.3Z"/>
<path color="#f5f5f1" d="M69.1 97.0 70.8 101.2 72.3 101.1 70.7 97.0Z"/>
<path color="#f8f8e2" d="M67.7 92.9 69.1 97.0 70.7 97.0 69.3 93.0Z"/>
<path color="#683e29" d="M285.7 45.2 286.1 44.7 286.8 49.3 286.4 49.7Z"/>
<path color="#f0f1f8" d="M70.8 101.2 73.0 105.5 74.6 105.2 72.3 101.1Z"/>
<path color="#683e29" d="M286.1 44.7 286.5 44.6 287.2 49.2 286.8 49.3Z"/>
<path color="#f9f9cf" d="M66.6 88.7 67.7 92.9 69.3 93.0 68.2 89.0Z"/>
<path color="#6e6732" d="M275.0 73.1 276.2 67.6 277.0 68.4 275.8 73.7Z"/>
<path color="#f7de57" d="M63.5 65.4 64.1 69.3 65.8 70.9 65.2 67.2Z"/>
<path color="#6d5a2d" d="M278.1 63.4 279.0 58.7 279.8 60.6 278.9 65.0Z"/>
<path class="bl" d="M71.7 73.5 73.3 79.3"/>
<path color="#eb8647" d="M62.2 45.0 62.7 48.7 64.3 52.3 63.9 48.9Z"/>
<path color="#6b492b" d="M281.4 53.0 282.2 49.9 282.9 53.1 282.2 56.0Z"/>
<path color="#faf9b0" d="M65.6 84.6 66.6 88.7 68.2 89.0 67.2 85.0Z"/>
<path color="#dae0f9" d="M83.0 112.7 87.2 114.9 89.1 114.2 84.9 112.1Z"/>
<path color="#f6cf52" d="M63.0 61.5 63.5 65.4 65.2 67.2 64.6 63.5Z"/>
<path color="#e77444" d="M61.8 41.3 62.2 45.0 63.9 48.9 63.5 45.4Z"/>
<path color="#e8ebfa" d="M73.0 105.5 76.3 110.0 77.9 109.5 74.6 105.2Z"/>
<path color="#fbf790" d="M64.7 80.5 65.6 84.6 67.2 85.0 66.3 81.1Z"/>
<path class="bl" d="M289.8 72.0 290.5 77.9"/>
<path color="#6f6b37" d="M272.7 78.9 274.1 73.1 275.0 73.1 273.6 78.9Z"/>
<path color="#6a442a" d="M282.2 49.9 282.8 47.3 283.6 50.7 282.9 53.1Z"/>
<path color="#f4bd4f" d="M62.4 57.6 63.0 61.5 64.6 63.5 64.1 59.8Z"/>
<path color="#dfe4fa" d="M76.8 109.9 81.0 113.5 83.0 112.7 78.7 109.3Z"/>
<path color="#6b6b6e" d="M259.1 106.8 262.9 101.3 263.8 100.0 260.0 105.7Z"/>
<path color="#fbf371" d="M63.9 76.5 64.7 80.5 66.3 81.1 65.5 77.2Z"/>
<path color="#6c512c" d="M279.0 58.7 279.9 54.5 280.7 56.6 279.8 60.6Z"/>
<path color="#6f6e44" d="M270.2 85.6 271.9 79.5 272.7 78.9 271.1 85.0Z"/>
<path color="#f2ab4c" d="M61.9 53.7 62.4 57.6 64.1 59.8 63.6 56.1Z"/>
<path color="#e3e7fa" d="M252.8 111.9 257.6 108.7 258.8 107.1 254.0 110.7Z"/>
<path color="#6d5f2e" d="M276.2 67.6 277.2 62.4 278.1 63.4 277.0 68.4Z"/>
<path color="#693f29" d="M282.8 47.3 283.4 45.2 284.1 48.6 283.6 50.7Z"/>
<path color="#f9ec66" d="M63.2 72.4 63.9 76.5 65.5 77.2 64.8 73.3Z"/>
<path color="#6e6e68" d="M263.8 100.0 266.4 94.0 267.3 92.8 264.7 98.9Z"/>
<path color="#6f6f58" d="M267.3 92.8 269.3 86.6 270.2 85.6 268.2 91.8Z"/>
<path color="#dbe1f9" d="M246.8 114.3 251.6 113.2 252.8 111.9 248.0 113.2Z"/>
<path color="#f6f6f0" d="M67.5 97.3 69.2 101.6 70.8 101.2 69.1 97.0Z"/>
<path color="#f8f8df" d="M66.1 93.0 67.5 97.3 69.1 97.0 67.7 92.9Z"/>
<path color="#ee9849" d="M61.5 49.8 61.9 53.7 63.6 56.1 63.1 52.4Z"/>
<path color="#f8e65b" d="M62.5 68.3 63.2 72.4 64.8 73.3 64.1 69.3Z"/>
<path color="#f1f1f8" d="M69.2 101.6 71.4 106.0 73.0 105.5 70.8 101.2Z"/>
<path color="#683c29" d="M283.4 45.2 283.9 43.5 284.7 47.1 284.1 48.6Z"/>
<path color="#d5dcf9" d="M109.0 106.3 234.1 125.4 235.4 124.4 110.7 105.5Z"/>
<path color="#f9f9ca" d="M65.0 88.8 66.1 93.0 67.7 92.9 66.6 88.7Z"/>
<path color="#6b4a2b" d="M279.9 54.5 280.7 50.8 281.4 53.0 280.7 56.6Z"/>
<path color="#eb8647" d="M61.0 45.9 61.5 49.8 63.1 52.4 62.7 48.7Z"/>
<path color="#673928" d="M283.9 43.5 284.5 42.3 285.2 45.9 284.7 47.1Z"/>
<path color="#f6d655" d="M61.9 64.3 62.5 68.3 64.1 69.3 63.5 65.4Z"/>
<path color="#faf9a9" d="M64.0 84.6 65.0 88.8 66.6 88.7 65.6 84.6Z"/>
<path color="#6e6631" d="M274.1 73.1 275.3 67.4 276.2 67.6 275.0 73.1Z"/>
<path color="#e9ebfa" d="M71.4 106.0 74.7 110.6 76.3 110.0 73.0 105.5Z"/>
<path color="#673728" d="M284.5 42.3 284.9 41.4 285.7 45.2 285.2 45.9Z"/>
<path color="#6c562d" d="M277.2 62.4 278.2 57.6 279.0 58.7 278.1 63.4Z"/>
<path color="#e77344" d="M60.6 42.0 61.0 45.9 62.7 48.7 62.2 45.0Z"/>
<path color="#fbf689" d="M63.1 80.4 64.0 84.6 65.6 84.6 64.7 80.5Z"/>
<path color="#f5c550" d="M61.3 60.2 61.9 64.3 63.5 65.4 63.0 61.5Z"/>
<path color="#dae0f9" d="M81.0 113.5 85.3 115.7 87.2 114.9 83.0 112.7Z"/>
<path color="#663628" d="M284.9 41.4 285.4 41.0 286.1 44.7 285.7 45.2Z"/>
<path color="#6a432a" d="M280.7 50.8 281.4 47.5 282.2 49.9 281.4 53.0Z"/>
<path color="#eff0fa" d="M258.1 107.9 261.9 102.8 262.9 101.3 259.1 106.8Z"/>
<path color="#663527" d="M285.4 41.0 285.8 40.9 286.5 44.6 286.1 44.7Z"/>
<path color="#6f6a37" d="M271.9 79.5 273.2 73.6 274.1 73.1 272.7 78.9Z"/>
<path color="#faf16e" d="M62.3 76.3 63.1 80.4 64.7 80.5 63.9 76.5Z"/>
<path color="#e16141" d="M60.2 38.1 60.6 42.0 62.2 45.0 61.8 41.3Z"/>
<path color="#f2b24d" d="M60.8 56.1 61.3 60.2 63.0 61.5 62.4 57.6Z"/>
<path class="bl" d="M70.1 67.4 71.7 73.5"/>
<path color="#e0e5fa" d="M74.8 110.5 79.1 114.3 81.0 113.5 76.8 109.9Z"/>
<path color="#6e6e69" d="M262.9 101.3 265.5 95.6 266.4 94.0 263.8 100.0Z"/>
<path color="#6f6e45" d="M269.3 86.6 271.0 80.6 271.9 79.5 270.2 85.6Z"/>
<path color="#f9eb63" d="M61.6 72.1 62.3 76.3 63.9 76.5 63.2 72.4Z"/>
<path color="#6f6f5a" d="M266.4 94.0 268.4 88.0 269.3 86.6 267.3 92.8Z"/>
<path color="#f6f6f0" d="M65.9 97.9 67.6 102.2 69.2 101.6 67.5 97.3Z"/>
<path color="#683d29" d="M281.4 47.5 282.0 44.8 282.8 47.3 282.2 49.9Z"/>
<path color="#f09f4a" d="M60.3 52.1 60.8 56.1 62.4 57.6 61.9 53.7Z"/>
<path color="#f8f8de" d="M64.5 93.6 65.9 97.9 67.5 97.3 66.1 93.0Z"/>
<path color="#6b4d2b" d="M278.2 57.6 279.1 53.3 279.9 54.5 279.0 58.7Z"/>
<path color="#f1f2f7" d="M67.6 102.2 69.8 106.6 71.4 106.0 69.2 101.6Z"/>
<path color="#6d5d2e" d="M275.3 67.4 276.4 62.2 277.2 62.4 276.2 67.6Z"/>
<path color="#e1e6fa" d="M251.6 113.2 256.4 110.4 257.6 108.7 252.8 111.9Z"/>
<path color="#f9f9c7" d="M63.4 89.3 64.5 93.6 66.1 93.0 65.0 88.8Z"/>
<path color="#f7e158" d="M60.9 67.9 61.6 72.1 63.2 72.4 62.5 68.3Z"/>
<path color="#ec8b48" d="M59.8 48.0 60.3 52.1 61.9 53.7 61.5 49.8Z"/>
<path color="#673928" d="M282.0 44.8 282.6 42.5 283.4 45.2 282.8 47.3Z"/>
<path color="#faf9a7" d="M62.4 85.1 63.4 89.3 65.0 88.8 64.0 84.6Z"/>
<path color="#dae0f9" d="M245.6 115.4 250.4 114.6 251.6 113.2 246.8 114.3Z"/>
<path class="bl" d="M289.2 65.9 289.8 72.0"/>
<path color="#e9ebfa" d="M69.8 106.6 73.2 111.2 74.7 110.6 71.4 106.0Z"/>
<path color="#f6d153" d="M60.3 63.8 60.9 67.9 62.5 68.3 61.9 64.3Z"/>
<path color="#d5dcf9" d="M107.3 107.1 232.8 126.4 234.1 125.4 109.0 106.3Z"/>
<path color="#e87844" d="M59.4 44.0 59.8 48.0 61.5 49.8 61.0 45.9Z"/>
<path color="#fbf685" d="M61.5 80.8 62.4 85.1 64.0 84.6 63.1 80.4Z"/>
<path color="#6e6631" d="M273.2 73.6 274.5 68.0 275.3 67.4 274.1 73.1Z"/>
<path color="#6a452a" d="M279.1 53.3 279.8 49.4 280.7 50.8 279.9 54.5Z"/>
<path color="#663527" d="M282.6 42.5 283.2 40.8 283.9 43.5 283.4 45.2Z"/>
<path color="#f4be4f" d="M59.7 59.6 60.3 63.8 61.9 64.3 61.3 60.2Z"/>
<path color="#eeeffb" d="M257.2 109.2 261.0 104.5 261.9 102.8 258.1 107.9Z"/>
<path color="#faf16d" d="M60.7 76.6 61.5 80.8 63.1 80.4 62.3 76.3Z"/>
<path color="#e36541" d="M58.9 39.9 59.4 44.0 61.0 45.9 60.6 42.0Z"/>
<path color="#6c542c" d="M276.4 62.2 277.4 57.3 278.2 57.6 277.2 62.4Z"/>
<path color="#653227" d="M283.2 40.8 283.7 39.5 284.5 42.3 283.9 43.5Z"/>
<path color="#6f6b37" d="M271.0 80.6 272.3 74.7 273.2 73.6 271.9 79.5Z"/>
<path color="#dae1f9" d="M79.1 114.3 83.4 116.6 85.3 115.7 81.0 113.5Z"/>
<path color="#6e6e6b" d="M261.9 102.8 264.5 97.4 265.5 95.6 262.9 101.3Z"/>
<path color="#f2aa4c" d="M59.2 55.5 59.7 59.6 61.3 60.2 60.8 56.1Z"/>
<path color="#643027" d="M283.7 39.5 284.2 38.6 284.9 41.4 284.5 42.3Z"/>
<path color="#f6f6f0" d="M64.3 98.7 66.0 103.0 67.6 102.2 65.9 97.9Z"/>
<path color="#6f6e47" d="M268.4 88.0 270.0 82.2 271.0 80.6 269.3 86.6Z"/>
<path color="#f9ea61" d="M59.9 72.4 60.7 76.6 62.3 76.3 61.6 72.1Z"/>
<path color="#dd523e" d="M58.5 35.9 58.9 39.9 60.6 42.0 60.2 38.1Z"/>
<path color="#6f6f5d" d="M265.5 95.6 267.5 89.8 268.4 88.0 266.4 94.0Z"/>
<path color="#f8f8de" d="M62.9 94.4 64.3 98.7 65.9 97.9 64.5 93.6Z"/>
<path color="#683f29" d="M279.8 49.4 280.6 46.1 281.4 47.5 280.7 50.8Z"/>
<path color="#f1f2f7" d="M66.0 103.0 68.2 107.4 69.8 106.6 67.6 102.2Z"/>
<path color="#642f26" d="M284.2 38.6 284.6 38.1 285.4 41.0 284.9 41.4Z"/>
<path color="#e0e5fa" d="M72.8 111.4 77.1 115.2 79.1 114.3 74.8 110.5Z"/>
<path color="#f9f9c7" d="M61.7 90.2 62.9 94.4 64.5 93.6 63.4 89.3Z"/>
<path color="#ee9649" d="M58.7 51.3 59.2 55.5 60.8 56.1 60.3 52.1Z"/>
<path color="#642e26" d="M284.6 38.1 285.0 38.0 285.8 40.9 285.4 41.0Z"/>
<path color="#f7df58" d="M59.3 68.2 59.9 72.4 61.6 72.1 60.9 67.9Z"/>
<path color="#6d5d2e" d="M274.5 68.0 275.5 62.7 276.4 62.2 275.3 67.4Z"/>
<path color="#faf9a7" d="M60.7 85.9 61.7 90.2 63.4 89.3 62.4 85.1Z"/>
<path color="#e9ebfa" d="M68.2 107.4 71.6 112.0 73.2 111.2 69.8 106.6Z"/>
<path color="#6b4b2b" d="M277.4 57.3 278.2 52.9 279.1 53.3 278.2 57.6Z"/>
<path color="#673928" d="M280.6 46.1 281.2 43.2 282.0 44.8 281.4 47.5Z"/>
<path color="#ea8346" d="M58.2 47.2 58.7 51.3 60.3 52.1 59.8 48.0Z"/>
<path color="#e0e5fa" d="M250.4 114.6 255.2 112.2 256.4 110.4 251.6 113.2Z"/>
<path color="#f6ce52" d="M58.7 64.0 59.3 68.2 60.9 67.9 60.3 63.8Z"/>
<path color="#fbf686" d="M59.8 81.7 60.7 85.9 62.4 85.1 61.5 80.8Z"/>
<path class="bl" d="M68.5 61.4 70.1 67.4"/>
<path color="#6e6631" d="M272.3 74.7 273.6 69.2 274.5 68.0 273.2 73.6Z"/>
<path color="#e66f43" d="M57.7 43.0 58.2 47.2 59.8 48.0 59.4 44.0Z"/>
<path color="#d9e0f9" d="M244.4 116.6 249.1 116.0 250.4 114.6 245.6 115.4Z"/>
<path color="#eceefa" d="M256.2 110.6 260.0 106.3 261.0 104.5 257.2 109.2Z"/>
<path color="#faf16d" d="M59.0 77.6 59.8 81.7 61.5 80.8 60.7 76.6Z"/>
<path color="#663427" d="M281.2 43.2 281.8 40.9 282.6 42.5 282.0 44.8Z"/>
<path color="#f3bb4e" d="M58.1 59.8 58.7 64.0 60.3 63.8 59.7 59.6Z"/>
<path color="#d5dcf9" d="M105.5 107.9 231.4 127.3 232.8 126.4 107.3 107.1Z"/>
<path color="#69432a" d="M278.2 52.9 279.0 48.9 279.8 49.4 279.1 53.3Z"/>
<path color="#6f6b38" d="M270.0 82.2 271.4 76.5 272.3 74.7 271.0 80.6Z"/>
<path color="#6d6d6b" d="M261.0 104.5 263.6 99.5 264.5 97.4 261.9 102.8Z"/>
<path color="#f6f6f0" d="M62.7 99.8 64.4 104.0 66.0 103.0 64.3 98.7Z"/>
<path color="#e05c40" d="M57.3 38.9 57.7 43.0 59.4 44.0 58.9 39.9Z"/>
<path color="#f8f8e0" d="M61.3 95.6 62.7 99.8 64.3 98.7 62.9 94.4Z"/>
<path color="#f9ea61" d="M58.3 73.4 59.0 77.6 60.7 76.6 59.9 72.4Z"/>
<path color="#6c532c" d="M275.5 62.7 276.5 57.8 277.4 57.3 276.4 62.2Z"/>
<path color="#f1a74c" d="M57.5 55.6 58.1 59.8 59.7 59.6 59.2 55.5Z"/>
<path color="#6f6e4a" d="M267.5 89.8 269.1 84.2 270.0 82.2 268.4 88.0Z"/>
<path color="#6e6e60" d="M264.5 97.4 266.5 92.0 267.5 89.8 265.5 95.6Z"/>
<path color="#f1f1f8" d="M64.4 104.0 66.6 108.4 68.2 107.4 66.0 103.0Z"/>
<path color="#643027" d="M281.8 40.9 282.4 39.0 283.2 40.8 282.6 42.5Z"/>
<path color="#f9f9ca" d="M60.1 91.4 61.3 95.6 62.9 94.4 61.7 90.2Z"/>
<path color="#dae1f9" d="M77.1 115.2 81.4 117.5 83.4 116.6 79.1 114.3Z"/>
<path color="#d84b3f" d="M56.9 34.7 57.3 38.9 58.9 39.9 58.5 35.9Z"/>
<path color="#f7df58" d="M57.6 69.2 58.3 73.4 59.9 72.4 59.3 68.2Z"/>
<path color="#632d26" d="M282.4 39.0 282.9 37.7 283.7 39.5 283.2 40.8Z"/>
<path color="#faf9aa" d="M59.1 87.3 60.1 91.4 61.7 90.2 60.7 85.9Z"/>
<path class="bl" d="M288.6 60.0 289.2 65.9"/>
<path color="#ee9349" d="M57.0 51.5 57.5 55.6 59.2 55.5 58.7 51.3Z"/>
<path color="#e8ebfa" d="M66.6 108.4 70.0 112.9 71.6 112.0 68.2 107.4Z"/>
<path color="#683c29" d="M279.0 48.9 279.7 45.5 280.6 46.1 279.8 49.4Z"/>
<path color="#e0e5fa" d="M70.8 112.4 75.1 116.1 77.1 115.2 72.8 111.4Z"/>
<path color="#622c27" d="M282.9 37.7 283.4 36.8 284.2 38.6 283.7 39.5Z"/>
<path color="#6d5d2e" d="M273.6 69.2 274.6 64.0 275.5 62.7 274.5 68.0Z"/>
<path color="#fbf68a" d="M58.2 83.2 59.1 87.3 60.7 85.9 59.8 81.7Z"/>
<path color="#f6ce52" d="M57.0 65.0 57.6 69.2 59.3 68.2 58.7 64.0Z"/>
<path color="#ea7f46" d="M56.5 47.3 57.0 51.5 58.7 51.3 58.2 47.2Z"/>
<path color="#622b27" d="M283.4 36.8 283.8 36.3 284.6 38.1 284.2 38.6Z"/>
<path color="#6b4a2b" d="M276.5 57.8 277.4 53.4 278.2 52.9 277.4 57.3Z"/>
<path color="#612a27" d="M283.8 36.3 284.2 36.2 285.0 38.0 284.6 38.1Z"/>
<path color="#faf26e" d="M57.4 79.0 58.2 83.2 59.8 81.7 59.0 77.6Z"/>
<path color="#f3bb4e" d="M56.5 60.9 57.0 65.0 58.7 64.0 58.1 59.8Z"/>
<path color="#6e6731" d="M271.4 76.5 272.6 71.1 273.6 69.2 272.3 74.7Z"/>
<path color="#663628" d="M279.7 45.5 280.4 42.6 281.2 43.2 280.6 46.1Z"/>
<path color="#eaecfa" d="M255.3 112.1 259.1 108.3 260.0 106.3 256.2 110.6Z"/>
<path color="#e56b42" d="M56.1 43.1 56.5 47.3 58.2 47.2 57.7 43.0Z"/>
<path color="#dee3fa" d="M249.1 116.0 254.0 114.1 255.2 112.2 250.4 114.6Z"/>
<path color="#f5f5f1" d="M61.1 101.1 62.8 105.3 64.4 104.0 62.7 99.8Z"/>
<path color="#f8f8e3" d="M59.7 97.1 61.1 101.1 62.7 99.8 61.3 95.6Z"/>
<path color="#f9eb63" d="M56.7 74.9 57.4 79.0 59.0 77.6 58.3 73.4Z"/>
<path color="#f4f4f3" d="M260.0 106.3 262.6 101.8 263.6 99.5 261.0 104.5Z"/>
<path color="#6f6c39" d="M269.1 84.2 270.5 78.8 271.4 76.5 270.0 82.2Z"/>
<path color="#f0f1f8" d="M62.8 105.3 65.0 109.5 66.6 108.4 64.4 104.0Z"/>
<path color="#6e6e62" d="M263.6 99.5 265.6 94.5 266.5 92.0 264.5 97.4Z"/>
<path color="#f9f9cf" d="M58.5 93.0 59.7 97.1 61.3 95.6 60.1 91.4Z"/>
<path color="#6f6f4f" d="M266.5 92.0 268.2 86.7 269.1 84.2 267.5 89.8Z"/>
<path color="#f1a74c" d="M55.9 56.7 56.5 60.9 58.1 59.8 57.5 55.6Z"/>
<path color="#de573f" d="M55.6 38.9 56.1 43.1 57.7 43.0 57.3 38.9Z"/>
<path color="#653127" d="M280.4 42.6 281.0 40.2 281.8 40.9 281.2 43.2Z"/>
<path color="#d9dff9" d="M243.1 117.8 247.9 117.4 249.1 116.0 244.4 116.6Z"/>
<path color="#6c542c" d="M274.6 64.0 275.6 59.1 276.5 57.8 275.5 62.7Z"/>
<path color="#69422a" d="M277.4 53.4 278.1 49.4 279.0 48.9 278.2 52.9Z"/>
<path color="#faf9b1" d="M57.5 89.0 58.5 93.0 60.1 91.4 59.1 87.3Z"/>
<path color="#f8e259" d="M56.0 70.8 56.7 74.9 58.3 73.4 57.6 69.2Z"/>
<path color="#d5dcf9" d="M103.8 108.6 230.1 128.1 231.4 127.3 105.5 107.9Z"/>
<path color="#ee9349" d="M55.4 52.5 55.9 56.7 57.5 55.6 57.0 51.5Z"/>
<path color="#d64740" d="M55.2 34.7 55.6 38.9 57.3 38.9 56.9 34.7Z"/>
<path class="bl" d="M66.8 55.6 68.5 61.4"/>
<path color="#e8ebfa" d="M65.0 109.5 68.4 113.9 70.0 112.9 66.6 108.4Z"/>
<path color="#fbf792" d="M56.6 85.1 57.5 89.0 59.1 87.3 58.2 83.2Z"/>
<path color="#dae1f9" d="M75.1 116.1 79.4 118.5 81.4 117.5 77.1 115.2Z"/>
<path color="#632d26" d="M281.0 40.2 281.6 38.4 282.4 39.0 281.8 40.9Z"/>
<path color="#f6d253" d="M55.4 66.8 56.0 70.8 57.6 69.2 57.0 65.0Z"/>
<path color="#6d5f2e" d="M272.6 71.1 273.7 66.0 274.6 64.0 273.6 69.2Z"/>
<path color="#ea7f46" d="M54.9 48.3 55.4 52.5 57.0 51.5 56.5 47.3Z"/>
<path color="#fbf372" d="M55.8 81.1 56.6 85.1 58.2 83.2 57.4 79.0Z"/>
<path color="#622b27" d="M281.6 38.4 282.1 37.0 282.9 37.7 282.4 39.0Z"/>
<path color="#683b28" d="M278.1 49.4 278.9 46.0 279.7 45.5 279.0 48.9Z"/>
<path color="#dfe4fa" d="M68.8 113.6 73.1 117.2 75.1 116.1 70.8 112.4Z"/>
<path color="#f4bf4f" d="M54.8 62.7 55.4 66.8 57.0 65.0 56.5 60.9Z"/>
<path color="#6b4b2b" d="M275.6 59.1 276.5 54.7 277.4 53.4 276.5 57.8Z"/>
<path color="#6e6833" d="M270.5 78.8 271.7 73.6 272.6 71.1 271.4 76.5Z"/>
<path color="#612927" d="M282.1 37.0 282.5 36.1 283.4 36.8 282.9 37.7Z"/>
<path color="#f4f4f3" d="M59.4 102.7 61.2 106.7 62.8 105.3 61.1 101.1Z"/>
<path color="#f9ed66" d="M55.1 77.1 55.8 81.1 57.4 79.0 56.7 74.9Z"/>
<path color="#f7f7e7" d="M58.1 98.9 59.4 102.7 61.1 101.1 59.7 97.1Z"/>
<path color="#e7eafa" d="M254.3 113.6 258.1 110.3 259.1 108.3 255.3 112.1Z"/>
<path color="#e56b42" d="M54.5 44.2 54.9 48.3 56.5 47.3 56.1 43.1Z"/>
<path color="#f8f8d5" d="M56.9 95.0 58.1 98.9 59.7 97.1 58.5 93.0Z"/>
<path color="#f2f2f6" d="M259.1 108.3 261.7 104.3 262.6 101.8 260.0 106.3Z"/>
<path color="#eff0f9" d="M61.2 106.7 63.4 110.7 65.0 109.5 62.8 105.3Z"/>
<path color="#6f6d3d" d="M268.2 86.7 269.6 81.6 270.5 78.8 269.1 84.2Z"/>
<path color="#602827" d="M282.5 36.1 283.0 35.6 283.8 36.3 283.4 36.8Z"/>
<path color="#f2ac4c" d="M54.3 58.6 54.8 62.7 56.5 60.9 55.9 56.7Z"/>
<path color="#f8f8e2" d="M262.6 101.8 264.6 97.3 265.6 94.5 263.6 99.5Z"/>
<path color="#6f6f55" d="M265.6 94.5 267.2 89.6 268.2 86.7 266.5 92.0Z"/>
<path color="#602827" d="M283.0 35.6 283.4 35.4 284.2 36.2 283.8 36.3Z"/>
<path color="#faf9bb" d="M55.9 91.2 56.9 95.0 58.5 93.0 57.5 89.0Z"/>
<path color="#663527" d="M278.9 46.0 279.5 43.0 280.4 42.6 279.7 45.5Z"/>
<path color="#f8e65b" d="M54.4 73.1 55.1 77.1 56.7 74.9 56.0 70.8Z"/>
<path color="#de583f" d="M54.0 40.0 54.5 44.2 56.1 43.1 55.6 38.9Z"/>
<path class="bl" d="M287.9 54.4 288.6 60.0"/>
<path color="#dce2f9" d="M247.9 117.4 252.7 116.0 254.0 114.1 249.1 116.0Z"/>
<path color="#fbf99d" d="M55.0 87.4 55.9 91.2 57.5 89.0 56.6 85.1Z"/>
<path color="#ee9849" d="M53.8 54.5 54.3 58.6 55.9 56.7 55.4 52.5Z"/>
<path color="#6c562d" d="M273.7 66.0 274.7 61.3 275.6 59.1 274.6 64.0Z"/>
<path color="#f6d855" d="M53.8 69.2 54.4 73.1 56.0 70.8 55.4 66.8Z"/>
<path color="#e7eafa" d="M63.4 110.7 66.8 114.9 68.4 113.9 65.0 109.5Z"/>
<path color="#69432a" d="M276.5 54.7 277.2 50.8 278.1 49.4 277.4 53.4Z"/>
<path color="#d74740" d="M53.6 35.8 54.0 40.0 55.6 38.9 55.2 34.7Z"/>
<path color="#643027" d="M279.5 43.0 280.1 40.7 281.0 40.2 280.4 42.6Z"/>
<path color="#fbf57f" d="M54.2 83.6 55.0 87.4 56.6 85.1 55.8 81.1Z"/>
<path color="#eb8446" d="M53.3 50.4 53.8 54.5 55.4 52.5 54.9 48.3Z"/>
<path color="#d8dff9" d="M241.9 118.9 246.7 118.8 247.9 117.4 243.1 117.8Z"/>
<path color="#f5c750" d="M53.2 65.2 53.8 69.2 55.4 66.8 54.8 62.7Z"/>
<path color="#6e622f" d="M271.7 73.6 272.8 68.7 273.7 66.0 272.6 71.1Z"/>
<path color="#faf06b" d="M53.5 79.8 54.2 83.6 55.8 81.1 55.1 77.1Z"/>
<path color="#d5ddf9" d="M102.0 109.3 228.7 129.0 230.1 128.1 103.8 108.6Z"/>
<path color="#632c26" d="M280.1 40.7 280.7 38.8 281.6 38.4 281.0 40.2Z"/>
<path color="#dae1f9" d="M73.1 117.2 77.5 119.5 79.4 118.5 75.1 116.1Z"/>
<path color="#f7f7ed" d="M56.4 100.9 57.8 104.6 59.4 102.7 58.1 98.9Z"/>
<path color="#f3f3f4" d="M57.8 104.6 59.5 108.3 61.2 106.7 59.4 102.7Z"/>
<path color="#f8f8db" d="M55.3 97.3 56.4 100.9 58.1 98.9 56.9 95.0Z"/>
<path color="#e67043" d="M52.8 46.3 53.3 50.4 54.9 48.3 54.5 44.2Z"/>
<path color="#6f6a35" d="M269.6 81.6 270.8 76.6 271.7 73.6 270.5 78.8Z"/>
<path color="#f3b44d" d="M52.7 61.3 53.2 65.2 54.8 62.7 54.3 58.6Z"/>
<path color="#683c29" d="M277.2 50.8 278.0 47.4 278.9 46.0 278.1 49.4Z"/>
<path color="#e4e8fa" d="M253.3 115.1 257.1 112.4 258.1 110.3 254.3 113.6Z"/>
<path color="#f9ea61" d="M52.8 76.1 53.5 79.8 55.1 77.1 54.4 73.1Z"/>
<path color="#efeffb" d="M59.5 108.3 61.8 112.1 63.4 110.7 61.2 106.7Z"/>
<path color="#f9f9c8" d="M54.2 93.7 55.3 97.3 56.9 95.0 55.9 91.2Z"/>
<path color="#6f6e44" d="M267.2 89.6 268.6 84.8 269.6 81.6 268.2 86.7Z"/>
<path color="#6b4d2b" d="M274.7 61.3 275.5 57.0 276.5 54.7 275.6 59.1Z"/>
<path color="#dfe4fa" d="M66.8 114.9 71.1 118.3 73.1 117.2 68.8 113.6Z"/>
<path color="#f0f1f9" d="M258.1 110.3 260.7 106.8 261.7 104.3 259.1 108.3Z"/>
<path color="#f9f9c7" d="M264.6 97.3 266.2 92.8 267.2 89.6 265.6 94.5Z"/>
<path color="#612a27" d="M280.7 38.8 281.2 37.4 282.1 37.0 281.6 38.4Z"/>
<path color="#f7f7ec" d="M261.7 104.3 263.6 100.2 264.6 97.3 262.6 101.8Z"/>
<path color="#faf9ac" d="M53.4 90.2 54.2 93.7 55.9 91.2 55.0 87.4Z"/>
<path color="#e05d40" d="M52.4 42.2 52.8 46.3 54.5 44.2 54.0 40.0Z"/>
<path class="bl" d="M65.2 50.2 66.8 55.6"/>
<path color="#f0a14b" d="M52.1 57.3 52.7 61.3 54.3 58.6 53.8 54.5Z"/>
<path color="#602827" d="M281.2 37.4 281.7 36.5 282.5 36.1 282.1 37.0Z"/>
<path color="#f7e058" d="M52.2 72.3 52.8 76.1 54.4 73.1 53.8 69.2Z"/>
<path color="#fbf78f" d="M52.6 86.6 53.4 90.2 55.0 87.4 54.2 83.6Z"/>
<path color="#602727" d="M281.7 36.5 282.1 36.0 283.0 35.6 282.5 36.1Z"/>
<path color="#663628" d="M278.0 47.4 278.6 44.5 279.5 43.0 278.9 46.0Z"/>
<path color="#e6e9fa" d="M61.8 112.1 65.1 116.1 66.8 114.9 63.4 110.7Z"/>
<path color="#6d5a2d" d="M272.8 68.7 273.7 64.2 274.7 61.3 273.7 66.0Z"/>
<path color="#d94c3f" d="M52.0 38.1 52.4 42.2 54.0 40.0 53.6 35.8Z"/>
<path color="#d24041" d="M282.1 36.0 282.5 35.9 283.4 35.4 283.0 35.6Z"/>
<path color="#f6d153" d="M51.6 68.5 52.2 72.3 53.8 69.2 53.2 65.2Z"/>
<path color="#ed8d48" d="M51.7 53.4 52.1 57.3 53.8 54.5 53.3 50.4Z"/>
<path color="#fbf373" d="M51.8 83.1 52.6 86.6 54.2 83.6 53.5 79.8Z"/>
<path color="#6a452a" d="M275.5 57.0 276.3 53.2 277.2 50.8 276.5 54.7Z"/>
<path color="#6e6530" d="M270.8 76.6 271.8 72.0 272.8 68.7 271.7 73.6Z"/>
<path color="#f6f6f0" d="M54.8 103.2 56.2 106.6 57.8 104.6 56.4 100.9Z"/>
<path color="#f8f8e3" d="M53.6 99.9 54.8 103.2 56.4 100.9 55.3 97.3Z"/>
<path color="#f2f2f6" d="M56.2 106.6 57.9 110.0 59.5 108.3 57.8 104.6Z"/>
<path color="#653127" d="M278.6 44.5 279.2 42.2 280.1 40.7 279.5 43.0Z"/>
<path color="#dbe1f9" d="M246.7 118.8 251.5 117.9 252.7 116.0 247.9 117.4Z"/>
<path color="#f4c04f" d="M51.0 64.8 51.6 68.5 53.2 65.2 52.7 61.3Z"/>
<path color="#faee68" d="M51.2 79.5 51.8 83.1 53.5 79.8 52.8 76.1Z"/>
<path color="#e97a45" d="M51.2 49.4 51.7 53.4 53.3 50.4 52.8 46.3Z"/>
<path color="#f8f8d3" d="M52.6 96.6 53.6 99.9 55.3 97.3 54.2 93.7Z"/>
<path color="#6f6b38" d="M268.6 84.8 269.8 80.2 270.8 76.6 269.6 81.6Z"/>
<path color="#fbf9a1" d="M266.2 92.8 267.6 88.4 268.6 84.8 267.2 89.6Z"/>
<path color="#f9f9bd" d="M51.7 93.3 52.6 96.6 54.2 93.7 53.4 90.2Z"/>
<path color="#eceefb" d="M57.9 110.0 60.1 113.6 61.8 112.1 59.5 108.3Z"/>
<path color="#f8f8d6" d="M263.6 100.2 265.3 96.2 266.2 92.8 264.6 97.3Z"/>
<path color="#f8e85e" d="M50.5 76.0 51.2 79.5 52.8 76.1 52.2 72.3Z"/>
<path color="#f5f5f1" d="M260.7 106.8 262.7 103.3 263.6 100.2 261.7 104.3Z"/>
<path color="#f2ae4c" d="M50.5 61.0 51.0 64.8 52.7 61.3 52.1 57.3Z"/>
<path color="#e46742" d="M50.8 45.5 51.2 49.4 52.8 46.3 52.4 42.2Z"/>
<path color="#632d26" d="M279.2 42.2 279.8 40.3 280.7 38.8 280.1 40.7Z"/>
<path color="#edeefb" d="M257.1 112.4 259.7 109.5 260.7 106.8 258.1 110.3Z"/>
<path color="#6c512c" d="M273.7 64.2 274.6 60.1 275.5 57.0 274.7 61.3Z"/>
<path color="#e2e6fa" d="M252.4 116.6 256.1 114.5 257.1 112.4 253.3 115.1Z"/>
<path color="#fbf9a3" d="M50.9 90.0 51.7 93.3 53.4 90.2 52.6 86.6Z"/>
<path color="#683e29" d="M276.3 53.2 277.0 49.8 278.0 47.4 277.2 50.8Z"/>
<path color="#dae0f9" d="M71.1 118.3 75.5 120.5 77.5 119.5 73.1 117.2Z"/>
<path color="#d7def9" d="M240.6 120.1 245.4 120.2 246.7 118.8 241.9 118.9Z"/>
<path class="bl" d="M287.2 49.2 287.9 54.4"/>
<path color="#f7dd57" d="M50.0 72.5 50.5 76.0 52.2 72.3 51.6 68.5Z"/>
<path color="#d6ddf9" d="M100.2 110.0 227.3 129.7 228.7 129.0 102.0 109.3Z"/>
<path color="#fbf688" d="M50.2 86.7 50.9 90.0 52.6 86.6 51.8 83.1Z"/>
<path color="#ef9b4a" d="M50.0 57.3 50.5 61.0 52.1 57.3 51.7 53.4Z"/>
<path color="#622b27" d="M279.8 40.3 280.3 39.0 281.2 37.4 280.7 38.8Z"/>
<path color="#dd553f" d="M50.3 41.5 50.8 45.5 52.4 42.2 52.0 38.1Z"/>
<path color="#dee3fa" d="M64.8 116.3 69.1 119.6 71.1 118.3 66.8 114.9Z"/>
<path color="#6d5e2e" d="M271.8 72.0 272.8 67.8 273.7 64.2 272.8 68.7Z"/>
<path color="#e4e8fa" d="M60.1 113.6 63.5 117.3 65.1 116.1 61.8 112.1Z"/>
<path color="#fbf370" d="M49.5 83.5 50.2 86.7 51.8 83.1 51.2 79.5Z"/>
<path color="#f6ce52" d="M49.4 69.0 50.0 72.5 51.6 68.5 51.0 64.8Z"/>
<path color="#612927" d="M280.3 39.0 280.8 38.1 281.7 36.5 281.2 37.4Z"/>
<path color="#673828" d="M277.0 49.8 277.7 47.0 278.6 44.5 278.0 47.4Z"/>
<path color="#f7f7ec" d="M52.0 102.7 53.1 105.7 54.8 103.2 53.6 99.9Z"/>
<path color="#ec8947" d="M49.6 53.5 50.0 57.3 51.7 53.4 51.2 49.4Z"/>
<path color="#f4f4f3" d="M53.1 105.7 54.5 108.8 56.2 106.6 54.8 103.2Z"/>
<path color="#f8f8de" d="M51.0 99.7 52.0 102.7 53.6 99.9 52.6 96.6Z"/>
<path color="#6e6833" d="M269.8 80.2 270.8 76.0 271.8 72.0 270.8 76.6Z"/>
<path color="#d44341" d="M280.8 38.1 281.2 37.6 282.1 36.0 281.7 36.5Z"/>
<path color="#f0f1f9" d="M54.5 108.8 56.2 111.9 57.9 110.0 56.2 106.6Z"/>
<path color="#6b492b" d="M274.6 60.1 275.4 56.4 276.3 53.2 275.5 57.0Z"/>
<path color="#f9ed67" d="M48.9 80.2 49.5 83.5 51.2 79.5 50.5 76.0Z"/>
<path color="#f9f9cf" d="M50.1 96.7 51.0 99.7 52.6 96.6 51.7 93.3Z"/>
<path color="#f4be4f" d="M48.9 65.4 49.4 69.0 51.0 64.8 50.5 61.0Z"/>
<path color="#d34241" d="M281.2 37.6 281.7 37.4 282.5 35.9 282.1 36.0Z"/>
<path color="#fbf57c" d="M267.6 88.4 268.8 84.3 269.8 80.2 268.6 84.8Z"/>
<path color="#e87744" d="M49.2 49.7 49.6 53.5 51.2 49.4 50.8 45.5Z"/>
<path color="#faf9b8" d="M49.3 93.7 50.1 96.7 51.7 93.3 50.9 90.0Z"/>
<path color="#faf9b8" d="M265.3 96.2 266.6 92.4 267.6 88.4 266.2 92.8Z"/>
<path color="#f8f8e3" d="M262.7 103.3 264.3 99.9 265.3 96.2 263.6 100.2Z"/>
<path color="#eaecfa" d="M56.2 111.9 58.5 115.2 60.1 113.6 57.9 110.0Z"/>
<path class="bl" d="M63.5 45.4 65.2 50.2"/>
<path color="#f8e85e" d="M48.3 77.0 48.9 80.2 50.5 76.0 50.0 72.5Z"/>
<path color="#653427" d="M277.7 47.0 278.3 44.7 279.2 42.2 278.6 44.5Z"/>
<path color="#fbf9a1" d="M48.6 90.8 49.3 93.7 50.9 90.0 50.2 86.7Z"/>
<path color="#f2f3f5" d="M259.7 109.5 261.7 106.5 262.7 103.3 260.7 106.8Z"/>
<path color="#f2ad4c" d="M48.4 61.9 48.9 65.4 50.5 61.0 50.0 57.3Z"/>
<path color="#6c562d" d="M272.8 67.8 273.6 63.9 274.6 60.1 273.7 64.2Z"/>
<path color="#e36541" d="M48.7 46.0 49.2 49.7 50.8 45.5 50.3 41.5Z"/>
<path color="#e9ebfa" d="M256.1 114.5 258.7 112.1 259.7 109.5 257.1 112.4Z"/>
<path color="#f7de57" d="M47.8 73.7 48.3 77.0 50.0 72.5 49.4 69.0Z"/>
<path color="#fbf689" d="M47.9 87.8 48.6 90.8 50.2 86.7 49.5 83.5Z"/>
<path color="#69432a" d="M275.4 56.4 276.1 53.2 277.0 49.8 276.3 53.2Z"/>
<path color="#dfe4fa" d="M251.4 118.1 255.2 116.5 256.1 114.5 252.4 116.6Z"/>
<path color="#643027" d="M278.3 44.7 278.9 42.9 279.8 40.3 279.2 42.2Z"/>
<path color="#d9e0f9" d="M245.4 120.2 250.3 119.8 251.5 117.9 246.7 118.8Z"/>
<path color="#ef9b4a" d="M48.0 58.4 48.4 61.9 50.0 57.3 49.6 53.5Z"/>
<path color="#fbf371" d="M47.3 84.9 47.9 87.8 49.5 83.5 48.9 80.2Z"/>
<path color="#6e6330" d="M270.8 76.0 271.8 72.0 272.8 67.8 271.8 72.0Z"/>
<path color="#f5f5f1" d="M50.3 105.7 51.5 108.4 53.1 105.7 52.0 102.7Z"/>
<path color="#f7f7e9" d="M49.3 103.0 50.3 105.7 52.0 102.7 51.0 99.7Z"/>
<path color="#f6d053" d="M47.3 70.5 47.8 73.7 49.4 69.0 48.9 65.4Z"/>
<path color="#f2f2f6" d="M51.5 108.4 52.9 111.1 54.5 108.8 53.1 105.7Z"/>
<path color="#f8f8dc" d="M48.4 100.4 49.3 103.0 51.0 99.7 50.1 96.7Z"/>
<path color="#e3e7fa" d="M58.5 115.2 61.9 118.6 63.5 117.3 60.1 113.6Z"/>
<path color="#db4f3e" d="M278.9 42.9 279.4 41.6 280.3 39.0 279.8 40.3Z"/>
<path color="#ec8a47" d="M47.5 54.9 48.0 58.4 49.6 53.5 49.2 49.7Z"/>
<path color="#faee69" d="M268.8 84.3 269.8 80.4 270.8 76.0 269.8 80.2Z"/>
<path color="#f9f9cf" d="M47.7 97.7 48.4 100.4 50.1 96.7 49.3 93.7Z"/>
<path color="#faee69" d="M46.7 81.9 47.3 84.9 48.9 80.2 48.3 77.0Z"/>
<path color="#dae0f9" d="M69.1 119.6 73.4 121.6 75.5 120.5 71.1 118.3Z"/>
<path color="#eeeffb" d="M52.9 111.1 54.6 113.9 56.2 111.9 54.5 108.8Z"/>
<path color="#3f55ea" d="M23.1 177.3 24.3 177.6 24.4 174.9 23.2 174.6Z"/>
<path color="#f4c14f" d="M46.8 67.3 47.3 70.5 48.9 65.4 48.4 61.9Z"/>
<path color="#683d29" d="M276.1 53.2 276.8 50.5 277.7 47.0 277.0 49.8Z"/>
<path color="#fbf897" d="M266.6 92.4 267.8 88.7 268.8 84.3 267.6 88.4Z"/>
<path color="#faf9bb" d="M46.9 95.1 47.7 97.7 49.3 93.7 48.6 90.8Z"/>
<path color="#6c4f2c" d="M273.6 63.9 274.4 60.5 275.4 56.4 274.6 60.1Z"/>
<path color="#d94b3f" d="M279.4 41.6 279.9 40.7 280.8 38.1 280.3 39.0Z"/>
<path color="#dde3fa" d="M62.7 117.9 67.1 120.9 69.1 119.6 64.8 116.3Z"/>
<path color="#f9f9d0" d="M264.3 99.9 265.6 96.5 266.6 92.4 265.3 96.2Z"/>
<path color="#d6ddf9" d="M239.3 121.2 244.1 121.6 245.4 120.2 240.6 120.1Z"/>
<path color="#f9e960" d="M46.2 79.0 46.7 81.9 48.3 77.0 47.8 73.7Z"/>
<path color="#faf9a6" d="M46.3 92.5 46.9 95.1 48.6 90.8 47.9 87.8Z"/>
<path color="#e87945" d="M47.1 51.4 47.5 54.9 49.2 49.7 48.7 46.0Z"/>
<path color="#f7f7ef" d="M261.7 106.5 263.3 103.6 264.3 99.9 262.7 103.3Z"/>
<path color="#d6ddf9" d="M98.4 110.7 225.9 130.5 227.3 129.7 100.2 110.0Z"/>
<path color="#d7493f" d="M279.9 40.7 280.3 40.3 281.2 37.6 280.8 38.1Z"/>
<path color="#f2b14d" d="M46.4 64.0 46.8 67.3 48.4 61.9 48.0 58.4Z"/>
<path color="#e7eafa" d="M54.6 113.9 56.8 116.8 58.5 115.2 56.2 111.9Z"/>
<path color="#fbf791" d="M45.7 89.8 46.3 92.5 47.9 87.8 47.3 84.9Z"/>
<path color="#f8e359" d="M45.7 76.1 46.2 79.0 47.8 73.7 47.3 70.5Z"/>
<path color="#d74740" d="M280.3 40.3 280.7 40.1 281.7 37.4 281.2 37.6Z"/>
<path color="#eff0f9" d="M258.7 112.1 260.7 109.7 261.7 106.5 259.7 109.5Z"/>
<path color="#f5cb51" d="M271.8 72.0 272.6 68.4 273.6 63.9 272.8 67.8Z"/>
<path color="#e56c43" d="M276.8 50.5 277.4 48.3 278.3 44.7 277.7 47.0Z"/>
<path color="#475deb" d="M23.2 174.6 24.4 174.9 24.4 172.3 23.2 172.0Z"/>
<path color="#fbf47b" d="M45.1 87.2 45.7 89.8 47.3 84.9 46.7 81.9Z"/>
<path color="#3f55ea" d="M24.3 177.6 25.7 177.9 25.7 175.1 24.4 174.9Z"/>
<path color="#f0a14b" d="M45.9 60.8 46.4 64.0 48.0 58.4 47.5 54.9Z"/>
<path color="#f5f5f1" d="M47.7 106.5 48.7 108.8 50.3 105.7 49.3 103.0Z"/>
<path color="#f7f7ea" d="M46.8 104.1 47.7 106.5 49.3 103.0 48.4 100.4Z"/>
<path color="#f6d655" d="M45.2 73.1 45.7 76.1 47.3 70.5 46.8 67.3Z"/>
<path color="#f2f3f5" d="M48.7 108.8 49.8 111.2 51.5 108.4 50.3 105.7Z"/>
<path color="#e5e8fa" d="M255.2 116.5 257.7 114.7 258.7 112.1 256.1 114.5Z"/>
<path color="#6b492b" d="M274.4 60.5 275.1 57.5 276.1 53.2 275.4 56.4Z"/>
<path color="#f8f8df" d="M46.0 101.8 46.8 104.1 48.4 100.4 47.7 97.7Z"/>
<path class="bl" d="M286.5 44.6 287.2 49.2"/>
<path color="#f8e85e" d="M269.8 80.4 270.8 76.8 271.8 72.0 270.8 76.0Z"/>
<path color="#faf16d" d="M44.6 84.6 45.1 87.2 46.7 81.9 46.2 79.0Z"/>
<path color="#f8f8d3" d="M45.3 99.6 46.0 101.8 47.7 97.7 46.9 95.1Z"/>
<path color="#eff0f9" d="M49.8 111.2 51.2 113.6 52.9 111.1 51.5 108.4Z"/>
<path color="#e26341" d="M277.4 48.3 277.9 46.6 278.9 42.9 278.3 44.7Z"/>
<path color="#ed9148" d="M45.5 57.5 45.9 60.8 47.5 54.9 47.1 51.4Z"/>
<path color="#dce2fa" d="M250.4 119.6 254.2 118.5 255.2 116.5 251.4 118.1Z"/>
<path color="#f9f9c4" d="M44.6 97.3 45.3 99.6 46.9 95.1 46.3 92.5Z"/>
<path color="#fbf478" d="M267.8 88.7 268.8 85.2 269.8 80.4 268.8 84.3Z"/>
<path color="#f5ca51" d="M44.8 70.2 45.2 73.1 46.8 67.3 46.4 64.0Z"/>
<path color="#f9ec66" d="M44.1 82.0 44.6 84.6 46.2 79.0 45.7 76.1Z"/>
<path color="#4e65ec" d="M23.2 172.0 24.4 172.3 24.5 169.8 23.3 169.6Z"/>
<path color="#e1e5fa" d="M56.8 116.8 60.2 119.9 61.9 118.6 58.5 115.2Z"/>
<path color="#faf9b2" d="M44.0 95.0 44.6 97.3 46.3 92.5 45.7 89.8Z"/>
<path color="#faf9b4" d="M265.6 96.5 266.8 93.3 267.8 88.7 266.6 92.4Z"/>
<path color="#eaecfa" d="M51.2 113.6 52.9 116.0 54.6 113.9 52.9 111.1Z"/>
<path color="#475deb" d="M24.4 174.9 25.7 175.1 25.8 172.5 24.4 172.3Z"/>
<path color="#f3ba4e" d="M272.6 68.4 273.4 65.2 274.4 60.5 273.6 63.9Z"/>
<path color="#f8f8e0" d="M263.3 103.6 264.6 100.8 265.6 96.5 264.3 99.9Z"/>
<path color="#e05b40" d="M277.9 46.6 278.4 45.3 279.4 41.6 278.9 42.9Z"/>
<path color="#fbf9a0" d="M43.5 92.8 44.0 95.0 45.7 89.8 45.1 87.2Z"/>
<path color="#f4bc4f" d="M44.4 67.3 44.8 70.2 46.4 64.0 45.9 60.8Z"/>
<path class="bl" d="M61.8 41.3 63.5 45.4"/>
<path color="#f8e85e" d="M43.6 79.4 44.1 82.0 45.7 76.1 45.2 73.1Z"/>
<path color="#ec8947" d="M275.1 57.5 275.8 54.9 276.8 50.5 276.1 53.2Z"/>
<path color="#3f55ea" d="M25.7 177.9 27.4 178.3 27.4 175.5 25.7 175.1Z"/>
<path color="#fbf78d" d="M43.0 90.5 43.5 92.8 45.1 87.2 44.6 84.6Z"/>
<path color="#f3f4f4" d="M260.7 109.7 262.3 107.3 263.3 103.6 261.7 106.5Z"/>
<path color="#de563f" d="M278.4 45.3 278.9 44.5 279.9 40.7 279.4 41.6Z"/>
<path color="#d8dff9" d="M244.1 121.6 249.0 121.5 250.3 119.8 245.4 120.2Z"/>
<path color="#f7e158" d="M43.2 76.9 43.6 79.4 45.2 73.1 44.8 70.2Z"/>
<path color="#566bed" d="M23.3 169.6 24.5 169.8 24.5 167.5 23.4 167.3Z"/>
<path color="#f2ad4c" d="M43.9 64.4 44.4 67.3 45.9 60.8 45.5 57.5Z"/>
<path color="#e5e8fa" d="M52.9 116.0 55.2 118.6 56.8 116.8 54.6 113.9Z"/>
<path color="#f7f7ee" d="M44.4 106.1 45.1 108.0 46.8 104.1 46.0 101.8Z"/>
<path color="#f4f5f2" d="M45.1 108.0 46.0 110.0 47.7 106.5 46.8 104.1Z"/>
<path color="#f7dc57" d="M270.8 76.8 271.6 73.5 272.6 68.4 271.8 72.0Z"/>
<path color="#f7f7e5" d="M43.6 104.1 44.4 106.1 46.0 101.8 45.3 99.6Z"/>
<path color="#fbf47a" d="M42.5 88.3 43.0 90.5 44.6 84.6 44.1 82.0Z"/>
<path color="#f2f3f6" d="M46.0 110.0 47.0 112.0 48.7 108.8 47.7 106.5Z"/>
<path color="#f8f8db" d="M43.0 102.2 43.6 104.1 45.3 99.6 44.6 97.3Z"/>
<path color="#dd533e" d="M278.9 44.5 279.4 44.0 280.3 40.3 279.9 40.7Z"/>
<path color="#4e65ec" d="M24.4 172.3 25.8 172.5 25.8 170.1 24.5 169.8Z"/>
<path color="#d9e0f9" d="M67.1 120.9 71.4 122.8 73.4 121.6 69.1 119.6Z"/>
<path color="#f0f0f9" d="M47.0 112.0 48.2 114.0 49.8 111.2 48.7 108.8Z"/>
<path color="#ebedfa" d="M257.7 114.7 259.7 112.9 260.7 109.7 258.7 112.1Z"/>
<path color="#f9f9d2" d="M42.4 100.3 43.0 102.2 44.6 97.3 44.0 95.0Z"/>
<path color="#e97d45" d="M275.8 54.9 276.4 52.9 277.4 48.3 276.8 50.5Z"/>
<path color="#f6d655" d="M42.8 74.3 43.2 76.9 44.8 70.2 44.4 67.3Z"/>
<path color="#faf16e" d="M42.0 86.0 42.5 88.3 44.1 82.0 43.6 79.4Z"/>
<path color="#faef69" d="M268.8 85.2 269.8 82.0 270.8 76.8 269.8 80.4Z"/>
<path color="#dce2f9" d="M60.7 119.5 65.0 122.2 67.1 120.9 62.7 117.9Z"/>
<path color="#dc513e" d="M279.4 44.0 279.8 43.9 280.7 40.1 280.3 40.3Z"/>
<path color="#f9f9c4" d="M41.8 98.4 42.4 100.3 44.0 95.0 43.5 92.8Z"/>
<path color="#f2aa4c" d="M273.4 65.2 274.1 62.5 275.1 57.5 274.4 60.5Z"/>
<path color="#ecedfa" d="M48.2 114.0 49.5 116.0 51.2 113.6 49.8 111.2Z"/>
<path color="#475deb" d="M25.7 175.1 27.4 175.5 27.5 172.9 25.8 172.5Z"/>
<path color="#fbf898" d="M266.8 93.3 267.8 90.3 268.8 85.2 267.8 88.7Z"/>
<path color="#faf9b5" d="M41.3 96.5 41.8 98.4 43.5 92.8 43.0 90.5Z"/>
<path color="#5e71ee" d="M23.4 167.3 24.5 167.5 24.6 165.3 23.4 165.1Z"/>
<path color="#f9ed67" d="M41.6 83.8 42.0 86.0 43.6 79.4 43.2 76.9Z"/>
<path color="#f5cb51" d="M42.4 71.7 42.8 74.3 44.4 67.3 43.9 64.4Z"/>
<path color="#faf9a5" d="M40.8 94.6 41.3 96.5 43.0 90.5 42.5 88.3Z"/>
<path color="#e1e6fa" d="M254.2 118.5 256.7 117.2 257.7 114.7 255.2 116.5Z"/>
<path color="#f9f9d0" d="M264.6 100.8 265.8 98.0 266.8 93.3 265.6 96.5Z"/>
<path color="#e77444" d="M276.4 52.9 276.9 51.2 277.9 46.6 277.4 48.3Z"/>
<path color="#566bed" d="M24.5 169.8 25.8 170.1 25.9 167.7 24.5 167.5Z"/>
<path color="#f9ea61" d="M41.2 81.5 41.6 83.8 43.2 76.9 42.8 74.3Z"/>
<path color="#d6ddf9" d="M238.0 122.3 242.9 122.8 244.1 121.6 239.3 121.2Z"/>
<path color="#fbf896" d="M40.4 92.7 40.8 94.6 42.5 88.3 42.0 86.0Z"/>
<path color="#e7eafa" d="M49.5 116.0 51.2 118.1 52.9 116.0 51.2 113.6Z"/>
<path color="#f6ce52" d="M271.6 73.5 272.4 70.6 273.4 65.2 272.6 68.4Z"/>
<path color="#f7f7ef" d="M262.3 107.3 263.6 105.0 264.6 100.8 263.3 103.6Z"/>
<path color="#f5f5f1" d="M42.0 108.7 42.7 110.3 44.4 106.1 43.6 104.1Z"/>
<path color="#f7f7ef" d="M41.3 107.1 42.0 108.7 43.6 104.1 43.0 102.2Z"/>
<path color="#d7def9" d="M96.6 111.4 224.5 131.3 225.9 130.5 98.4 110.7Z"/>
<path color="#f3f3f4" d="M42.7 110.3 43.5 111.9 45.1 108.0 44.4 106.1Z"/>
<path color="#f7f7e7" d="M40.8 105.5 41.3 107.1 43.0 102.2 42.4 100.3Z"/>
<path color="#dfe4fa" d="M55.2 118.6 58.5 121.3 60.2 119.9 56.8 116.8Z"/>
<path color="#fbf686" d="M40.0 90.8 40.4 92.7 42.0 86.0 41.6 83.8Z"/>
<path color="#6577ef" d="M23.4 165.1 24.6 165.3 24.7 163.2 23.5 163.0Z"/>
<path color="#f8f8df" d="M40.2 103.9 40.8 105.5 42.4 100.3 41.8 98.4Z"/>
<path color="#f8e65a" d="M40.8 79.3 41.2 81.5 42.8 74.3 42.4 71.7Z"/>
<path color="#3f55ea" d="M27.4 178.3 30.0 178.8 30.0 176.0 27.4 175.5Z"/>
<path color="#ef9d4a" d="M274.1 62.5 274.8 60.1 275.8 54.9 275.1 57.5Z"/>
<path color="#f1f1f7" d="M43.5 111.9 44.3 113.5 46.0 110.0 45.1 108.0Z"/>
<path color="#dbe1f9" d="M249.4 121.0 253.2 120.4 254.2 118.5 250.4 119.6Z"/>
<path color="#4e65ec" d="M25.8 172.5 27.5 172.9 27.6 170.4 25.8 170.1Z"/>
<path color="#f8f8d7" d="M39.7 102.4 40.2 103.9 41.8 98.4 41.3 96.5Z"/>
<path color="#e56d43" d="M276.9 51.2 277.5 50.0 278.4 45.3 277.9 46.6Z"/>
<path color="#eff0fa" d="M44.3 113.5 45.3 115.1 47.0 112.0 46.0 110.0Z"/>
<path color="#fbf476" d="M39.5 88.9 40.0 90.8 41.6 83.8 41.2 81.5Z"/>
<path color="#f9f9cf" d="M39.2 100.8 39.7 102.4 41.3 96.5 40.8 94.6Z"/>
<path color="#f9e960" d="M269.8 82.0 270.6 79.1 271.6 73.5 270.8 76.8Z"/>
<path color="#f0f1f9" d="M259.7 112.9 261.3 111.0 262.3 107.3 260.7 109.7Z"/>
<path color="#5e71ee" d="M24.5 167.5 25.9 167.7 26.0 165.5 24.6 165.3Z"/>
<path color="#f9f9c3" d="M38.8 99.3 39.2 100.8 40.8 94.6 40.4 92.7Z"/>
<path color="#faf16d" d="M39.2 87.0 39.5 88.9 41.2 81.5 40.8 79.3Z"/>
<path color="#ebedfa" d="M45.3 115.1 46.5 116.8 48.2 114.0 47.0 112.0Z"/>
<path color="#faf9b6" d="M38.3 97.7 38.8 99.3 40.4 92.7 40.0 90.8Z"/>
<path color="#fbf57f" d="M267.8 90.3 268.8 87.5 269.8 82.0 268.8 85.2Z"/>
<path color="#e46842" d="M277.5 50.0 277.9 49.2 278.9 44.5 278.4 45.3Z"/>
<path color="#e2e6fa" d="M51.2 118.1 53.5 120.3 55.2 118.6 52.9 116.0Z"/>
<path color="#6b7ef0" d="M23.5 163.0 24.7 163.2 24.8 161.2 23.6 161.0Z"/>
<path color="#faf9a9" d="M37.9 96.2 38.3 97.7 40.0 90.8 39.5 88.9Z"/>
<path color="#ed9249" d="M274.8 60.1 275.4 58.2 276.4 52.9 275.8 54.9Z"/>
<path color="#f4c14f" d="M272.4 70.6 273.1 68.1 274.1 62.5 273.4 65.2Z"/>
<path color="#faf9ba" d="M265.8 98.0 266.8 95.5 267.8 90.3 266.8 93.3Z"/>
<path color="#566bed" d="M25.8 170.1 27.6 170.4 27.6 168.1 25.9 167.7Z"/>
<path color="#e36541" d="M277.9 49.2 278.4 48.8 279.4 44.0 278.9 44.5Z"/>
<path color="#fbf89c" d="M37.5 94.6 37.9 96.2 39.5 88.9 39.2 87.0Z"/>
<path color="#f5f5f1" d="M38.5 109.4 39.1 110.6 40.8 105.5 40.2 103.9Z"/>
<path color="#f7f7ee" d="M38.0 108.1 38.5 109.4 40.2 103.9 39.7 102.4Z"/>
<path color="#e7eafa" d="M46.5 116.8 47.8 118.5 49.5 116.0 48.2 114.0Z"/>
<path color="#475deb" d="M27.4 175.5 30.0 176.0 30.1 173.4 27.5 172.9Z"/>
<path color="#f4f4f3" d="M39.1 110.6 39.7 111.8 41.3 107.1 40.8 105.5Z"/>
<path color="#f7f7e8" d="M37.6 106.9 38.0 108.1 39.7 102.4 39.2 100.8Z"/>
<path color="#e6e9fa" d="M256.7 117.2 258.7 115.9 259.7 112.9 257.7 114.7Z"/>
<path color="#f2f3f6" d="M39.7 111.8 40.3 113.1 42.0 108.7 41.3 107.1Z"/>
<path color="#f8f8e2" d="M37.1 105.7 37.6 106.9 39.2 100.8 38.8 99.3Z"/>
<path color="#6577ef" d="M24.6 165.3 26.0 165.5 26.1 163.4 24.7 163.2Z"/>
<path color="#f8f8dc" d="M36.7 104.5 37.1 105.7 38.8 99.3 38.3 97.7Z"/>
<path color="#f0f1f8" d="M40.3 113.1 41.0 114.4 42.7 110.3 42.0 108.7Z"/>
<path color="#e26341" d="M278.4 48.8 278.8 48.7 279.8 43.9 279.4 44.0Z"/>
<path color="#7184f0" d="M23.6 161.0 24.8 161.2 24.9 159.4 23.7 159.2Z"/>
<path color="#f8f8e3" d="M263.6 105.0 264.8 102.8 265.8 98.0 264.6 100.8Z"/>
<path color="#f8f8d5" d="M36.3 103.2 36.7 104.5 38.3 97.7 37.9 96.2Z"/>
<path color="#eff0fa" d="M41.0 114.4 41.8 115.6 43.5 111.9 42.7 110.3Z"/>
<path class="bl" d="M285.8 40.9 286.5 44.6"/>
<path color="#f9f9cf" d="M35.9 102.0 36.3 103.2 37.9 96.2 37.5 94.6Z"/>
<path color="#f8e259" d="M270.6 79.1 271.4 76.5 272.4 70.6 271.6 73.5Z"/>
<path color="#ec8947" d="M275.4 58.2 275.9 56.7 276.9 51.2 276.4 52.9Z"/>
<path color="#eceefa" d="M41.8 115.6 42.6 116.9 44.3 113.5 43.5 111.9Z"/>
<path class="bl" d="M60.2 38.1 61.8 41.3"/>
<path color="#e3e7fa" d="M47.8 118.5 49.5 120.3 51.2 118.1 49.5 116.0Z"/>
<path color="#5e71ee" d="M25.9 167.7 27.6 168.1 27.7 165.8 26.0 165.5Z"/>
<path color="#f3f3f5" d="M261.3 111.0 262.6 109.2 263.6 105.0 262.3 107.3Z"/>
<path color="#6b7ef0" d="M24.7 163.2 26.1 163.4 26.1 161.4 24.8 161.2Z"/>
<path color="#778af1" d="M23.7 159.2 24.9 159.4 24.9 157.6 23.8 157.4Z"/>
<path color="#f5f5f2" d="M35.1 110.8 35.5 111.7 37.1 105.7 36.7 104.5Z"/>
<path color="#f6f6f0" d="M34.7 109.9 35.1 110.8 36.7 104.5 36.3 103.2Z"/>
<path color="#f3b54e" d="M273.1 68.1 273.8 66.0 274.8 60.1 274.1 62.5Z"/>
<path color="#f7f7ed" d="M34.3 109.0 34.7 109.9 36.3 103.2 35.9 102.0Z"/>
<path color="#f4f4f3" d="M35.5 111.7 35.9 112.7 37.6 106.9 37.1 105.7Z"/>
<path color="#faf16e" d="M268.8 87.5 269.6 85.0 270.6 79.1 269.8 82.0Z"/>
<path color="#f2f3f5" d="M35.9 112.7 36.4 113.6 38.0 108.1 37.6 106.9Z"/>
<path color="#e9ebfa" d="M42.6 116.9 43.6 118.3 45.3 115.1 44.3 113.5Z"/>
<path color="#d8dff9" d="M65.0 122.2 69.3 124.0 71.4 122.8 67.1 120.9Z"/>
<path color="#f1f2f7" d="M36.4 113.6 36.9 114.5 38.5 109.4 38.0 108.1Z"/>
<path color="#dde3fa" d="M253.2 120.4 255.7 119.6 256.7 117.2 254.2 118.5Z"/>
<path color="#4e65ec" d="M27.5 172.9 30.1 173.4 30.1 170.9 27.6 170.4Z"/>
<path color="#d7def9" d="M242.9 122.8 247.7 123.2 249.0 121.5 244.1 121.6Z"/>
<path color="#dbe1f9" d="M58.6 121.3 62.9 123.7 65.0 122.2 60.7 119.5Z"/>
<path color="#f0f1f9" d="M36.9 114.5 37.4 115.5 39.1 110.6 38.5 109.4Z"/>
<path color="#ea8346" d="M275.9 56.7 276.5 55.6 277.5 50.0 276.9 51.2Z"/>
<path color="#eff0fa" d="M37.4 115.5 38.0 116.4 39.7 111.8 39.1 110.6Z"/>
<path color="#faf9a4" d="M266.8 95.5 267.7 93.1 268.8 87.5 267.8 90.3Z"/>
<path color="#dde3fa" d="M53.5 120.3 56.9 122.7 58.5 121.3 55.2 118.6Z"/>
<path color="#e5e9fa" d="M43.6 118.3 44.8 119.6 46.5 116.8 45.3 115.1Z"/>
<path color="#eceefb" d="M38.0 116.4 38.6 117.4 40.3 113.1 39.7 111.8Z"/>
<path color="#7d90f2" d="M23.8 157.4 24.9 157.6 25.0 155.9 23.8 155.7Z"/>
<path color="#f0f1f8" d="M32.6 115.4 33.0 116.1 34.7 109.9 34.3 109.0Z"/>
<path color="#7284f0" d="M24.8 161.2 26.1 161.4 26.2 159.6 24.9 159.4Z"/>
<path color="#eff0fa" d="M33.0 116.1 33.4 116.7 35.1 110.8 34.7 109.9Z"/>
<path color="#eaecfa" d="M258.7 115.9 260.2 114.5 261.3 111.0 259.7 112.9Z"/>
<path color="#6577ef" d="M26.0 165.5 27.7 165.8 27.8 163.7 26.1 163.4Z"/>
<path color="#f6d755" d="M271.4 76.5 272.1 74.3 273.1 68.1 272.4 70.6Z"/>
<path color="#eaecfa" d="M38.6 117.4 39.3 118.3 41.0 114.4 40.3 113.1Z"/>
<path color="#eeeffb" d="M33.4 116.7 33.8 117.4 35.5 111.7 35.1 110.8Z"/>
<path color="#f8f8d6" d="M264.8 102.8 265.8 100.7 266.8 95.5 265.8 98.0Z"/>
<path color="#e97e45" d="M276.5 55.6 276.9 54.9 277.9 49.2 277.5 50.0Z"/>
<path color="#3f55ea" d="M30.0 178.8 33.4 179.6 33.5 176.8 30.0 176.0Z"/>
<path color="#f2ab4c" d="M273.8 66.0 274.4 64.2 275.4 58.2 274.8 60.1Z"/>
<path color="#eceefb" d="M33.8 117.4 34.2 118.0 35.9 112.7 35.5 111.7Z"/>
<path color="#d9dff9" d="M248.4 122.4 252.2 122.2 253.2 120.4 249.4 121.0Z"/>
<path color="#dfe4fa" d="M49.5 120.3 51.8 122.2 53.5 120.3 51.2 118.1Z"/>
<path color="#ebedfa" d="M34.2 118.0 34.7 118.7 36.4 113.6 35.9 112.7Z"/>
<path color="#e7eafa" d="M39.3 118.3 40.1 119.3 41.8 115.6 41.0 114.4Z"/>
<path color="#8295f2" d="M23.8 155.7 25.0 155.9 25.1 154.3 23.9 154.1Z"/>
<path color="#566ced" d="M27.6 170.4 30.1 170.9 30.2 168.6 27.6 168.1Z"/>
<path color="#e2e7fa" d="M44.8 119.6 46.1 121.0 47.8 118.5 46.5 116.8Z"/>
<path color="#e97b45" d="M276.9 54.9 277.4 54.5 278.4 48.8 277.9 49.2Z"/>
<path color="#e9ebfa" d="M34.7 118.7 35.2 119.4 36.9 114.5 36.4 113.6Z"/>
<path color="#788af1" d="M24.9 159.4 26.2 159.6 26.3 157.8 24.9 157.6Z"/>
<path color="#f9ed66" d="M269.6 85.0 270.3 82.7 271.4 76.5 270.6 79.1Z"/>
<path color="#f5f5f1" d="M262.6 109.2 263.7 107.4 264.8 102.8 263.6 105.0Z"/>
<path color="#e7eafa" d="M35.2 119.4 35.7 120.0 37.4 115.5 36.9 114.5Z"/>
<path color="#e5e9fa" d="M40.1 119.3 40.9 120.3 42.6 116.9 41.8 115.6Z"/>
<path color="#6c7ef0" d="M26.1 163.4 27.8 163.7 27.9 161.7 26.1 161.4Z"/>
<path color="#e87945" d="M277.4 54.5 277.8 54.4 278.8 48.7 278.4 48.8Z"/>
<path color="#879af2" d="M23.9 154.1 25.1 154.3 25.2 152.8 24.0 152.6Z"/>
<path color="#f0a24b" d="M274.4 64.2 274.9 62.9 275.9 56.7 275.4 58.2Z"/>
<path color="#d5ddf9" d="M236.7 123.4 241.6 124.1 242.9 122.8 238.0 122.3Z"/>
<path color="#e5e9fa" d="M35.7 120.0 36.3 120.7 38.0 116.4 37.4 115.5Z"/>
<path color="#fbf790" d="M267.7 93.1 268.5 91.0 269.6 85.0 268.8 87.5Z"/>
<path color="#e2e6fa" d="M30.4 123.1 31.6 124.2 33.9 117.5 32.6 115.4Z"/>
<path color="#e1e6fa" d="M255.7 119.6 257.7 118.7 258.7 115.9 256.7 117.2Z"/>
<path color="#f6ce52" d="M272.1 74.3 272.7 72.3 273.8 66.0 273.1 68.1Z"/>
<path color="#7d90f2" d="M24.9 157.6 26.3 157.8 26.4 156.1 25.0 155.9Z"/>
<path color="#d7def9" d="M94.7 112.0 223.1 132.1 224.5 131.3 96.6 111.4Z"/>
<path color="#e3e7fa" d="M40.9 120.3 41.9 121.3 43.6 118.3 42.6 116.9Z"/>
<path color="#e4e8fa" d="M36.3 120.7 36.9 121.4 38.6 117.4 38.0 116.4Z"/>
<path color="#475eeb" d="M30.0 176.0 33.5 176.8 33.5 174.1 30.1 173.4Z"/>
<path color="#8c9ff3" d="M24.0 152.6 25.2 152.8 25.3 151.3 24.1 151.2Z"/>
<path color="#5e72ee" d="M27.6 168.1 30.2 168.6 30.3 166.3 27.7 165.8Z"/>
<path color="#f9f9c9" d="M265.8 100.7 266.7 98.8 267.7 93.1 266.8 95.5Z"/>
<path color="#eff0fa" d="M260.2 114.5 261.6 113.2 262.6 109.2 261.3 111.0Z"/>
<path color="#dfe4fa" d="M46.1 121.0 47.8 122.4 49.5 120.3 47.8 118.5Z"/>
<path color="#7284f0" d="M26.1 161.4 27.9 161.7 27.9 159.8 26.2 159.6Z"/>
<path color="#ef9c4a" d="M274.9 62.9 275.4 61.9 276.5 55.6 275.9 56.7Z"/>
<path color="#e2e6fa" d="M36.9 121.4 37.6 122.1 39.3 118.3 38.6 117.4Z"/>
<path color="#f9e960" d="M270.3 82.7 271.0 80.7 272.1 74.3 271.4 76.5Z"/>
<path color="#8395f2" d="M25.0 155.9 26.4 156.1 26.5 154.5 25.1 154.3Z"/>
<path color="#91a3f3" d="M24.1 151.2 25.3 151.3 25.5 150.0 24.3 149.8Z"/>
<path color="#dfe4fa" d="M31.6 124.2 33.0 125.3 35.3 119.4 33.9 117.5Z"/>
<path color="#e0e5fa" d="M41.9 121.3 43.1 122.4 44.8 119.6 43.6 118.3Z"/>
<path color="#f7f7eb" d="M263.7 107.4 264.7 105.8 265.8 100.7 264.8 102.8Z"/>
<path color="#f5c650" d="M272.7 72.3 273.3 70.8 274.4 64.2 273.8 66.0Z"/>
<path color="#d8dff9" d="M29.2 126.6 30.4 127.4 31.6 124.2 30.4 123.1Z"/>
<path color="#e0e5fa" d="M37.6 122.1 38.4 122.8 40.1 119.3 39.3 118.3Z"/>
<path color="#ee9849" d="M275.4 61.9 275.9 61.2 276.9 54.9 276.5 55.6Z"/>
<path color="#95a7f3" d="M24.3 149.8 25.5 150.0 25.6 148.7 24.4 148.5Z"/>
<path color="#788af1" d="M26.2 159.6 27.9 159.8 28.0 158.1 26.3 157.8Z"/>
<path color="#6578ef" d="M27.7 165.8 30.3 166.3 30.4 164.2 27.8 163.7Z"/>
<path color="#fbf57d" d="M268.5 91.0 269.3 89.1 270.3 82.7 269.6 85.0Z"/>
<path color="#889af2" d="M25.1 154.3 26.5 154.5 26.6 153.0 25.2 152.8Z"/>
<path color="#dbe1f9" d="M252.2 122.2 254.7 121.8 255.7 119.6 253.2 120.4Z"/>
<path color="#dbe1f9" d="M51.8 122.2 55.2 124.2 56.9 122.7 53.5 120.3Z"/>
<path color="#4f65ec" d="M30.1 173.4 33.5 174.1 33.6 171.6 30.1 170.9Z"/>
<path color="#99aaf4" d="M24.4 148.5 25.6 148.7 25.7 147.4 24.5 147.3Z"/>
<path color="#ee9549" d="M275.9 61.2 276.4 60.8 277.4 54.5 276.9 54.9Z"/>
<path color="#e4e8fa" d="M257.7 118.7 259.2 117.8 260.2 114.5 258.7 115.9Z"/>
<path color="#dee4fa" d="M38.4 122.8 39.2 123.5 40.9 120.3 40.1 119.3Z"/>
<path color="#faf9b8" d="M266.7 98.8 267.5 97.0 268.5 91.0 267.7 93.1Z"/>
<path color="#dee3fa" d="M43.1 122.4 44.4 123.4 46.1 121.0 44.8 119.6Z"/>
<path color="#8c9ff3" d="M25.2 152.8 26.6 153.0 26.7 151.5 25.3 151.3Z"/>
<path color="#f8e55a" d="M271.0 80.7 271.7 79.1 272.7 72.3 272.1 74.3Z"/>
<path color="#f1f1f7" d="M261.6 113.2 262.7 111.9 263.7 107.4 262.6 109.2Z"/>
<path color="#d3dbf8" d="M28.5 128.9 29.7 129.4 30.4 127.4 29.2 126.6Z"/>
<path color="#f4bf4f" d="M273.3 70.8 273.9 69.6 274.9 62.9 274.4 64.2Z"/>
<path color="#9dadf4" d="M24.5 147.3 25.7 147.4 25.8 146.2 24.6 146.1Z"/>
<path color="#ee9449" d="M276.4 60.8 276.8 60.8 277.8 54.4 277.4 54.5Z"/>
<path color="#7e90f2" d="M26.3 157.8 28.0 158.1 28.1 156.4 26.4 156.1Z"/>
<path color="#dce2f9" d="M47.8 122.4 50.1 124.0 51.8 122.2 49.5 120.3Z"/>
<path color="#dce2f9" d="M33.0 125.3 34.7 126.5 37.0 121.5 35.3 119.4Z"/>
<path color="#d9e0f9" d="M56.5 123.1 60.8 125.1 62.9 123.7 58.6 121.3Z"/>
<path color="#6c7ef0" d="M27.8 163.7 30.4 164.2 30.4 162.2 27.9 161.7Z"/>
<path color="#d8def9" d="M62.9 123.7 67.3 125.3 69.3 124.0 65.0 122.2Z"/>
<path color="#a1b0f4" d="M24.6 146.1 25.8 146.2 25.9 145.1 24.8 145.0Z"/>
<path class="bl" d="M58.5 35.9 60.2 38.1"/>
<path color="#d7def9" d="M30.4 127.4 31.8 128.1 33.0 125.3 31.6 124.2Z"/>
<path color="#91a4f3" d="M25.3 151.3 26.7 151.5 26.8 150.1 25.5 150.0Z"/>
<path color="#d0d8f8" d="M27.9 130.5 29.1 131.0 29.7 129.4 28.5 128.9Z"/>
<path color="#f8f8e2" d="M264.7 105.8 265.6 104.3 266.7 98.8 265.8 100.7Z"/>
<path color="#dde3fa" d="M39.2 123.5 40.2 124.3 41.9 121.3 40.9 120.3Z"/>
<path color="#a4b3f5" d="M24.8 145.0 25.9 145.1 26.1 144.0 24.9 143.9Z"/>
<path color="#faf270" d="M269.3 89.1 270.0 87.4 271.0 80.7 270.3 82.7Z"/>
<path color="#8395f2" d="M26.4 156.1 28.1 156.4 28.2 154.7 26.5 154.5Z"/>
<path color="#f3b94e" d="M273.9 69.6 274.4 68.7 275.4 61.9 274.9 62.9Z"/>
<path class="bl" d="M285.0 38.0 285.8 40.9"/>
<path color="#576ced" d="M30.1 170.9 33.6 171.6 33.7 169.3 30.2 168.6Z"/>
<path color="#ccd5f8" d="M27.5 131.9 28.7 132.2 29.1 131.0 27.9 130.5Z"/>
<path color="#a7b6f5" d="M24.9 143.9 26.1 144.0 26.2 142.9 25.0 142.8Z"/>
<path color="#95a7f3" d="M25.5 150.0 26.8 150.1 26.9 148.8 25.6 148.7Z"/>
<path color="#d7def9" d="M247.3 123.6 251.1 123.8 252.2 122.2 248.4 122.4Z"/>
<path color="#f7df58" d="M271.7 79.1 272.3 77.7 273.3 70.8 272.7 72.3Z"/>
<path color="#d6ddf9" d="M241.6 124.1 246.5 124.6 247.7 123.2 242.9 122.8Z"/>
<path color="#abb8f5" d="M25.0 142.8 26.2 142.9 26.4 141.9 25.2 141.8Z"/>
<path color="#c8d1f8" d="M27.1 133.0 28.3 133.3 28.7 132.2 27.5 131.9Z"/>
<path color="#7285f0" d="M27.9 161.7 30.4 162.2 30.5 160.3 27.9 159.8Z"/>
<path color="#faf9a9" d="M267.5 97.0 268.3 95.4 269.3 89.1 268.5 91.0Z"/>
<path color="#aebbf6" d="M25.2 141.8 26.4 141.9 26.5 140.9 25.3 140.8Z"/>
<path color="#dce2f9" d="M44.4 123.4 46.1 124.6 47.8 122.4 46.1 121.0Z"/>
<path color="#e8ebfa" d="M259.2 117.8 260.6 116.9 261.6 113.2 260.2 114.5Z"/>
<path color="#99aaf4" d="M25.6 148.7 26.9 148.8 27.1 147.6 25.7 147.4Z"/>
<path color="#c5cef8" d="M26.8 134.1 28.0 134.4 28.3 133.3 27.1 133.0Z"/>
<path color="#f3b54e" d="M274.4 68.7 274.9 68.1 275.9 61.2 275.4 61.9Z"/>
<path color="#d2daf8" d="M29.7 129.4 31.1 130.0 31.8 128.1 30.4 127.4Z"/>
<path color="#889bf2" d="M26.5 154.5 28.2 154.7 28.3 153.2 26.6 153.0Z"/>
<path color="#dde3fa" d="M254.7 121.8 256.7 121.3 257.7 118.7 255.7 119.6Z"/>
<path color="#b1bdf6" d="M25.3 140.8 26.5 140.9 26.7 140.0 25.5 139.8Z"/>
<path color="#f3f3f4" d="M262.7 111.9 263.7 110.7 264.7 105.8 263.7 107.4Z"/>
<path color="#c2cbf8" d="M26.6 135.1 27.8 135.3 28.0 134.4 26.8 134.1Z"/>
<path color="#dbe1f9" d="M40.2 124.3 41.4 125.1 43.1 122.4 41.9 121.3Z"/>
<path color="#b4bff6" d="M25.5 139.8 26.7 140.0 26.9 139.0 25.7 138.9Z"/>
<path color="#bfc8f8" d="M26.3 136.1 27.5 136.3 27.8 135.3 26.6 135.1Z"/>
<path color="#b6c2f7" d="M25.7 138.9 26.9 139.0 27.1 138.1 25.9 137.9Z"/>
<path color="#bcc6f7" d="M26.1 137.0 27.3 137.2 27.5 136.3 26.3 136.1Z"/>
<path color="#b9c4f7" d="M25.9 137.9 27.1 138.1 27.3 137.2 26.1 137.0Z"/>
<path color="#9dadf4" d="M25.7 147.4 27.1 147.6 27.2 146.4 25.8 146.2Z"/>
<path color="#faf06b" d="M270.0 87.4 270.6 86.0 271.7 79.1 271.0 80.7Z"/>
<path color="#f2b24d" d="M274.9 68.1 275.3 67.8 276.4 60.8 275.9 61.2Z"/>
<path color="#f8f8d9" d="M265.6 104.3 266.5 102.9 267.5 97.0 266.7 98.8Z"/>
<path color="#f7da56" d="M272.3 77.7 272.8 76.7 273.9 69.6 273.3 70.8Z"/>
<path color="#8d9ff3" d="M26.6 153.0 28.3 153.2 28.4 151.8 26.7 151.5Z"/>
<path color="#cfd8f8" d="M29.1 131.0 30.5 131.4 31.1 130.0 29.7 129.4Z"/>
<path color="#d5ddf9" d="M31.8 128.1 33.5 129.0 34.7 126.5 33.0 125.3Z"/>
<path color="#5e72ee" d="M30.2 168.6 33.7 169.3 33.8 167.0 30.3 166.3Z"/>
<path color="#788bf1" d="M27.9 159.8 30.5 160.3 30.6 158.5 28.0 158.1Z"/>
<path color="#a1b0f4" d="M25.8 146.2 27.2 146.4 27.3 145.2 25.9 145.1Z"/>
<path color="#3f55ea" d="M33.4 179.6 38.6 180.7 38.7 177.9 33.5 176.8Z"/>
<path color="#d9e0f9" d="M34.7 126.5 37.3 127.9 39.6 123.8 37.0 121.5Z"/>
<path color="#f2b14d" d="M275.3 67.8 275.7 67.7 276.8 60.8 276.4 60.8Z"/>
<path color="#a4b3f5" d="M25.9 145.1 27.3 145.2 27.5 144.1 26.1 144.0Z"/>
<path color="#cbd4f8" d="M28.7 132.2 30.1 132.6 30.5 131.4 29.1 131.0Z"/>
<path color="#fbf89c" d="M268.3 95.4 268.9 94.1 270.0 87.4 269.3 89.1Z"/>
<path color="#91a4f3" d="M26.7 151.5 28.4 151.8 28.5 150.4 26.8 150.1Z"/>
<path color="#a8b6f5" d="M26.1 144.0 27.5 144.1 27.6 143.1 26.2 142.9Z"/>
<path color="#f6d554" d="M272.8 76.7 273.3 75.9 274.4 68.7 273.9 69.6Z"/>
<path color="#ebedfa" d="M260.6 116.9 261.7 116.0 262.7 111.9 261.6 113.2Z"/>
<path color="#dae0f9" d="M41.4 125.1 42.7 125.9 44.4 123.4 43.1 122.4Z"/>
<path color="#f5f5f2" d="M263.7 110.7 264.6 109.5 265.6 104.3 264.7 105.8Z"/>
<path color="#c8d1f8" d="M28.3 133.3 29.7 133.7 30.1 132.6 28.7 132.2Z"/>
<path color="#f9ed67" d="M270.6 86.0 271.2 84.9 272.3 77.7 271.7 79.1Z"/>
<path color="#d9e0f9" d="M50.1 124.0 53.5 125.7 55.2 124.2 51.8 122.2Z"/>
<path color="#abb8f5" d="M26.2 142.9 27.6 143.1 27.8 142.1 26.4 141.9Z"/>
<path color="#7e90f2" d="M28.0 158.1 30.6 158.5 30.7 156.8 28.1 156.4Z"/>
<path color="#96a7f4" d="M26.8 150.1 28.5 150.4 28.7 149.1 26.9 148.8Z"/>
<path color="#c5cef8" d="M28.0 134.4 29.4 134.7 29.7 133.7 28.3 133.3Z"/>
<path color="#aebbf6" d="M26.4 141.9 27.8 142.1 27.9 141.1 26.5 140.9Z"/>
<path color="#dfe4fa" d="M256.7 121.3 258.2 120.7 259.2 117.8 257.7 118.7Z"/>
<path color="#f9f9d2" d="M266.5 102.9 267.2 101.7 268.3 95.4 267.5 97.0Z"/>
<path color="#b1bdf6" d="M26.5 140.9 27.9 141.1 28.1 140.1 26.7 140.0Z"/>
<path color="#d2daf8" d="M31.1 130.0 32.8 130.6 33.5 129.0 31.8 128.1Z"/>
<path color="#c2cbf8" d="M27.8 135.3 29.1 135.6 29.4 134.7 28.0 134.4Z"/>
<path color="#6578ef" d="M30.3 166.3 33.8 167.0 33.8 164.9 30.4 164.2Z"/>
<path color="#dae0f9" d="M46.1 124.6 48.4 125.8 50.1 124.0 47.8 122.4Z"/>
<path color="#d5dcf9" d="M235.4 124.4 240.3 125.2 241.6 124.1 236.7 123.4Z"/>
<path color="#b4c0f6" d="M26.7 140.0 28.1 140.1 28.3 139.2 26.9 139.0Z"/>
<path color="#bfc8f8" d="M27.5 136.3 28.9 136.5 29.1 135.6 27.8 135.3Z"/>
<path color="#f6d253" d="M273.3 75.9 273.8 75.4 274.9 68.1 274.4 68.7Z"/>
<path color="#b7c2f7" d="M26.9 139.0 28.3 139.2 28.4 138.3 27.1 138.1Z"/>
<path color="#bcc6f7" d="M27.3 137.2 28.7 137.4 28.9 136.5 27.5 136.3Z"/>
<path color="#b9c4f7" d="M27.1 138.1 28.4 138.3 28.7 137.4 27.3 137.2Z"/>
<path color="#d9dff9" d="M251.1 123.8 253.7 123.7 254.7 121.8 252.2 122.2Z"/>
<path color="#d8def9" d="M92.9 112.7 221.7 132.8 223.1 132.1 94.7 112.0Z"/>
<path color="#9aabf4" d="M26.9 148.8 28.7 149.1 28.8 147.8 27.1 147.6Z"/>
<path color="#fbf790" d="M268.9 94.1 269.6 92.9 270.6 86.0 270.0 87.4Z"/>
<path color="#8396f2" d="M28.1 156.4 30.7 156.8 30.8 155.2 28.2 154.7Z"/>
<path color="#475eeb" d="M33.5 176.8 38.7 177.9 38.8 175.2 33.5 174.1Z"/>
<path color="#f9eb64" d="M271.2 84.9 271.8 84.0 272.8 76.7 272.3 77.7Z"/>
<path color="#f6d153" d="M273.8 75.4 274.3 75.2 275.3 67.8 274.9 68.1Z"/>
<path color="#9eaef4" d="M27.1 147.6 28.8 147.8 28.9 146.6 27.2 146.4Z"/>
<path color="#ced7f8" d="M30.5 131.4 32.2 132.0 32.8 130.6 31.1 130.0Z"/>
<path color="#f6f6ef" d="M264.6 109.5 265.4 108.5 266.5 102.9 265.6 104.3Z"/>
<path color="#eeeffb" d="M261.7 116.0 262.7 115.2 263.7 110.7 262.7 111.9Z"/>
<path color="#f6d053" d="M274.3 75.2 274.7 75.1 275.7 67.7 275.3 67.8Z"/>
<path color="#a1b1f4" d="M27.2 146.4 28.9 146.6 29.0 145.5 27.3 145.2Z"/>
<path color="#6c7ff0" d="M30.4 164.2 33.8 164.9 33.9 162.9 30.4 162.2Z"/>
<path color="#889bf2" d="M28.2 154.7 30.8 155.2 30.9 153.6 28.3 153.2Z"/>
<path color="#f9f9c9" d="M267.2 101.7 267.9 100.6 268.9 94.1 268.3 95.4Z"/>
<path color="#d9dff9" d="M42.7 125.9 44.4 126.8 46.1 124.6 44.4 123.4Z"/>
<path color="#cbd3f8" d="M30.1 132.6 31.8 133.1 32.2 132.0 30.5 131.4Z"/>
<path color="#f9ea61" d="M271.8 84.0 272.3 83.3 273.3 75.9 272.8 76.7Z"/>
<path color="#e1e6fa" d="M258.2 120.7 259.5 120.2 260.6 116.9 259.2 117.8Z"/>
<path color="#d4dbf8" d="M33.5 129.0 36.1 130.0 37.3 127.9 34.7 126.5Z"/>
<path color="#a5b3f5" d="M27.3 145.2 29.0 145.5 29.2 144.4 27.5 144.1Z"/>
<path color="#fbf687" d="M269.6 92.9 270.2 92.0 271.2 84.9 270.6 86.0Z"/>
<path color="#a8b6f5" d="M27.5 144.1 29.2 144.4 29.3 143.3 27.6 143.1Z"/>
<path color="#d8dff9" d="M54.3 125.0 58.7 126.7 60.8 125.1 56.5 123.1Z"/>
<path color="#c7d0f8" d="M29.7 133.7 31.4 134.1 31.8 133.1 30.1 132.6Z"/>
<path color="#8da0f3" d="M28.3 153.2 30.9 153.6 31.0 152.2 28.4 151.8Z"/>
<path color="#abb9f5" d="M27.6 143.1 29.3 143.3 29.5 142.3 27.8 142.1Z"/>
<path color="#f9e960" d="M272.3 83.3 272.7 82.9 273.8 75.4 273.3 75.9Z"/>
<path color="#d7def9" d="M60.8 125.1 65.2 126.6 67.3 125.3 62.9 123.7Z"/>
<path color="#c4cdf8" d="M29.4 134.7 31.1 135.0 31.4 134.1 29.7 133.7Z"/>
<path color="#4f65ec" d="M33.5 174.1 38.8 175.2 38.8 172.7 33.6 171.6Z"/>
<path color="#f7f7eb" d="M265.4 108.5 266.2 107.6 267.2 101.7 266.5 102.9Z"/>
<path class="bl" d="M56.9 34.7 58.5 35.9"/>
<path color="#aebbf6" d="M27.8 142.1 29.5 142.3 29.6 141.3 27.9 141.1Z"/>
<path color="#dae0f9" d="M253.7 123.7 255.7 123.5 256.7 121.3 254.7 121.8Z"/>
<path color="#7285f0" d="M30.4 162.2 33.9 162.9 34.0 160.9 30.5 160.3Z"/>
<path color="#f0f0f9" d="M262.7 115.2 263.6 114.4 264.6 109.5 263.7 110.7Z"/>
<path color="#d6ddf9" d="M246.3 124.8 250.1 125.1 251.1 123.8 247.3 123.6Z"/>
<path color="#c2cbf8" d="M29.1 135.6 30.8 135.9 31.1 135.0 29.4 134.7Z"/>
<path color="#f9f9c0" d="M267.9 100.6 268.5 99.7 269.6 92.9 268.9 94.1Z"/>
<path color="#b1bef6" d="M27.9 141.1 29.6 141.3 29.8 140.4 28.1 140.1Z"/>
<path color="#fbf57f" d="M270.2 92.0 270.7 91.3 271.8 84.0 271.2 84.9Z"/>
<path color="#d6ddf9" d="M37.3 127.9 40.8 129.3 43.1 126.1 39.6 123.8Z"/>
<path color="#bfc8f8" d="M28.9 136.5 30.6 136.8 30.8 135.9 29.1 135.6Z"/>
<path color="#b4c0f6" d="M28.1 140.1 29.8 140.4 30.0 139.5 28.3 139.2Z"/>
<path color="#92a4f3" d="M28.4 151.8 31.0 152.2 31.1 150.8 28.5 150.4Z"/>
<path color="#bcc6f7" d="M28.7 137.4 30.4 137.7 30.6 136.8 28.9 136.5Z"/>
<path color="#b7c2f7" d="M28.3 139.2 30.0 139.5 30.2 138.6 28.4 138.3Z"/>
<path color="#f8e85e" d="M272.7 82.9 273.2 82.7 274.3 75.2 273.8 75.4Z"/>
<path color="#bac4f7" d="M28.4 138.3 30.2 138.6 30.4 137.7 28.7 137.4Z"/>
<path color="#e3e7fa" d="M259.5 120.2 260.7 119.7 261.7 116.0 260.6 116.9Z"/>
<path color="#d1d9f8" d="M32.8 130.6 35.4 131.5 36.1 130.0 33.5 129.0Z"/>
<path color="#f8e85e" d="M273.2 82.7 273.6 82.7 274.7 75.1 274.3 75.2Z"/>
<path color="#96a8f4" d="M28.5 150.4 31.1 150.8 31.2 149.5 28.7 149.1Z"/>
<path color="#fbf479" d="M270.7 91.3 271.2 90.8 272.3 83.3 271.8 84.0Z"/>
<path color="#788bf1" d="M30.5 160.3 34.0 160.9 34.1 159.1 30.6 158.5Z"/>
<path color="#faf9b8" d="M268.5 99.7 269.1 99.0 270.2 92.0 269.6 92.9Z"/>
<path color="#f7f7e5" d="M266.2 107.6 266.8 106.8 267.9 100.6 267.2 101.7Z"/>
<path color="#d8def9" d="M48.4 125.8 51.8 127.3 53.5 125.7 50.1 124.0Z"/>
<path color="#f1f2f7" d="M263.6 114.4 264.4 113.7 265.4 108.5 264.6 109.5Z"/>
<path color="#9aabf4" d="M28.7 149.1 31.2 149.5 31.4 148.2 28.8 147.8Z"/>
<path color="#d7def9" d="M44.4 126.8 46.7 127.7 48.4 125.8 46.1 124.6Z"/>
<path color="#576ced" d="M33.6 171.6 38.8 172.7 38.9 170.3 33.7 169.3Z"/>
<path color="#fbf475" d="M271.2 90.8 271.7 90.4 272.7 82.9 272.3 83.3Z"/>
<path color="#cdd6f8" d="M32.2 132.0 34.8 132.7 35.4 131.5 32.8 130.6Z"/>
<path color="#d5dcf9" d="M240.3 125.2 245.2 125.9 246.5 124.6 241.6 124.1Z"/>
<path class="bl" d="M284.2 36.2 285.0 38.0"/>
<path color="#dbe1f9" d="M255.7 123.5 257.2 123.3 258.2 120.7 256.7 121.3Z"/>
<path color="#9eaef4" d="M28.8 147.8 31.4 148.2 31.5 147.0 28.9 146.6Z"/>
<path color="#e6e9fa" d="M260.7 119.7 261.7 119.2 262.7 115.2 261.7 116.0Z"/>
<path color="#faf9b2" d="M269.1 99.0 269.6 98.4 270.7 91.3 270.2 92.0Z"/>
<path color="#7e91f2" d="M30.6 158.5 34.1 159.1 34.2 157.4 30.7 156.8Z"/>
<path color="#fbf372" d="M271.7 90.4 272.1 90.3 273.2 82.7 272.7 82.9Z"/>
<path color="#f8f8e1" d="M266.8 106.8 267.5 106.1 268.5 99.7 267.9 100.6Z"/>
<path color="#a2b1f4" d="M28.9 146.6 31.5 147.0 31.6 145.9 29.0 145.5Z"/>
<path color="#cad3f8" d="M31.8 133.1 34.4 133.7 34.8 132.7 32.2 132.0Z"/>
<path color="#f2f3f6" d="M264.4 113.7 265.1 113.1 266.2 107.6 265.4 108.5Z"/>
<path color="#fbf371" d="M272.1 90.3 272.5 90.3 273.6 82.7 273.2 82.7Z"/>
<path color="#a5b4f5" d="M29.0 145.5 31.6 145.9 31.8 144.8 29.2 144.4Z"/>
<path color="#faf9ad" d="M269.6 98.4 270.1 98.0 271.2 90.8 270.7 91.3Z"/>
<path color="#d7def9" d="M250.1 125.1 252.7 125.3 253.7 123.7 251.1 123.8Z"/>
<path color="#c7d0f8" d="M31.4 134.1 34.0 134.6 34.4 133.7 31.8 133.1Z"/>
<path color="#8396f2" d="M30.7 156.8 34.2 157.4 34.3 155.8 30.8 155.2Z"/>
<path color="#a8b6f5" d="M29.2 144.4 31.8 144.8 31.9 143.7 29.3 143.3Z"/>
<path color="#5e72ee" d="M33.7 169.3 38.9 170.3 39.0 168.1 33.8 167.0Z"/>
<path color="#f8f8dd" d="M267.5 106.1 268.0 105.6 269.1 99.0 268.5 99.7Z"/>
<path color="#e7eafa" d="M261.7 119.2 262.5 118.7 263.6 114.4 262.7 115.2Z"/>
<path color="#dce2f9" d="M257.2 123.3 258.5 123.1 259.5 120.2 258.2 120.7Z"/>
<path color="#c4cdf8" d="M31.1 135.0 33.7 135.5 34.0 134.6 31.4 134.1Z"/>
<path color="#acb9f5" d="M29.3 143.3 31.9 143.7 32.1 142.7 29.5 142.3Z"/>
<path color="#faf9aa" d="M270.1 98.0 270.6 97.8 271.7 90.4 271.2 90.8Z"/>
<path color="#d2daf8" d="M36.1 130.0 39.6 131.1 40.8 129.3 37.3 127.9Z"/>
<path color="#afbbf6" d="M29.5 142.3 32.1 142.7 32.2 141.7 29.6 141.3Z"/>
<path color="#c1cbf8" d="M30.8 135.9 33.4 136.4 33.7 135.5 31.1 135.0Z"/>
<path color="#f3f3f4" d="M265.1 113.1 265.8 112.5 266.8 106.8 266.2 107.6Z"/>
<path color="#b2bef6" d="M29.6 141.3 32.2 141.7 32.4 140.8 29.8 140.4Z"/>
<path color="#bfc8f8" d="M30.6 136.8 33.2 137.3 33.4 136.4 30.8 135.9Z"/>
<path color="#b4c0f6" d="M29.8 140.4 32.4 140.8 32.6 139.9 30.0 139.5Z"/>
<path color="#899bf2" d="M30.8 155.2 34.3 155.8 34.4 154.2 30.9 153.6Z"/>
<path color="#bcc6f7" d="M30.4 137.7 33.0 138.1 33.2 137.3 30.6 136.8Z"/>
<path color="#b7c2f7" d="M30.0 139.5 32.6 139.9 32.8 139.0 30.2 138.6Z"/>
<path color="#bac4f7" d="M30.2 138.6 32.8 139.0 33.0 138.1 30.4 137.7Z"/>
<path color="#faf9a8" d="M270.6 97.8 271.0 97.7 272.1 90.3 271.7 90.4Z"/>
<path color="#f8f8da" d="M268.0 105.6 268.6 105.2 269.6 98.4 269.1 99.0Z"/>
<path color="#faf9a6" d="M271.0 97.7 271.5 97.7 272.5 90.3 272.1 90.3Z"/>
<path color="#e9ecfa" d="M262.5 118.7 263.3 118.3 264.4 113.7 263.6 114.4Z"/>
<path color="#6578ef" d="M33.8 167.0 39.0 168.1 39.1 165.9 33.8 164.9Z"/>
<path color="#f4f4f3" d="M265.8 112.5 266.4 112.1 267.5 106.1 266.8 106.8Z"/>
<path color="#d5dcf9" d="M234.1 125.4 239.0 126.2 240.3 125.2 235.4 124.4Z"/>
<path color="#8da0f3" d="M30.9 153.6 34.4 154.2 34.5 152.8 31.0 152.2Z"/>
<path color="#dde3fa" d="M258.5 123.1 259.7 122.9 260.7 119.7 259.5 120.2Z"/>
<path color="#f8f8d8" d="M268.6 105.2 269.1 104.9 270.1 98.0 269.6 98.4Z"/>
<path color="#d8dff9" d="M91.0 113.4 220.2 133.7 221.7 132.8 92.9 112.7Z"/>
<path color="#d7def9" d="M252.7 125.3 254.6 125.4 255.7 123.5 253.7 123.7Z"/>
<path color="#d6ddf9" d="M52.2 126.9 56.6 128.3 58.7 126.7 54.3 125.0Z"/>
<path color="#f8f8d6" d="M269.1 104.9 269.5 104.7 270.6 97.8 270.1 98.0Z"/>
<path color="#92a4f3" d="M31.0 152.2 34.5 152.8 34.6 151.4 31.1 150.8Z"/>
<path color="#d0d8f8" d="M35.4 131.5 38.8 132.4 39.6 131.1 36.1 130.0Z"/>
<path color="#f5f5f2" d="M266.4 112.1 267.0 111.7 268.0 105.6 267.5 106.1Z"/>
<path color="#ebedfa" d="M263.3 118.3 264.1 117.9 265.1 113.1 264.4 113.7Z"/>
<path color="#d5ddf9" d="M245.3 125.8 249.1 126.3 250.1 125.1 246.3 124.8Z"/>
<path class="bl" d="M55.2 34.7 56.9 34.7"/>
<path color="#d6ddf9" d="M46.7 127.7 50.0 128.9 51.8 127.3 48.4 125.8Z"/>
<path color="#d6ddf9" d="M58.7 126.7 63.1 128.0 65.2 126.6 60.8 125.1Z"/>
<path color="#f8f8d5" d="M269.5 104.7 270.0 104.7 271.0 97.7 270.6 97.8Z"/>
<path color="#dfe4fa" d="M259.7 122.9 260.6 122.7 261.7 119.2 260.7 119.7Z"/>
<path color="#6c7ff0" d="M33.8 164.9 39.1 165.9 39.1 163.9 33.9 162.9Z"/>
<path color="#96a8f4" d="M31.1 150.8 34.6 151.4 34.7 150.0 31.2 149.5Z"/>
<path color="#f5f5f1" d="M267.0 111.7 267.5 111.4 268.6 105.2 268.0 105.6Z"/>
<path color="#f8f8d5" d="M270.0 104.7 270.4 104.7 271.5 97.7 271.0 97.7Z"/>
<path color="#eceefb" d="M264.1 117.9 264.7 117.6 265.8 112.5 265.1 113.1Z"/>
<path color="#d4dcf8" d="M40.8 129.3 46.0 130.9 48.3 128.3 43.1 126.1Z"/>
<path color="#d8dff9" d="M254.6 125.4 256.2 125.5 257.2 123.3 255.7 123.5Z"/>
<path color="#9aabf4" d="M31.2 149.5 34.7 150.0 34.8 148.8 31.4 148.2Z"/>
<path color="#ccd5f8" d="M34.8 132.7 38.3 133.5 38.8 132.4 35.4 131.5Z"/>
<path color="#f6f6f1" d="M267.5 111.4 268.0 111.3 269.1 104.9 268.6 105.2Z"/>
<path color="#e0e5fa" d="M260.6 122.7 261.5 122.4 262.5 118.7 261.7 119.2Z"/>
<path color="#9eaef4" d="M31.4 148.2 34.8 148.8 35.0 147.6 31.5 147.0Z"/>
<path color="#7385f0" d="M33.9 162.9 39.1 163.9 39.2 162.0 34.0 160.9Z"/>
<path color="#edeffb" d="M264.7 117.6 265.4 117.3 266.4 112.1 265.8 112.5Z"/>
<path color="#f6f6f0" d="M268.0 111.3 268.5 111.1 269.5 104.7 269.1 104.9Z"/>
<path color="#c9d2f8" d="M34.4 133.7 37.8 134.5 38.3 133.5 34.8 132.7Z"/>
<path color="#a2b1f5" d="M31.5 147.0 35.0 147.6 35.1 146.4 31.6 145.9Z"/>
<path color="#f6f6f0" d="M268.5 111.1 268.9 111.1 270.0 104.7 269.5 104.7Z"/>
<path color="#a5b4f5" d="M31.6 145.9 35.1 146.4 35.2 145.3 31.8 144.8Z"/>
<path color="#c7d0f8" d="M34.0 134.6 37.5 135.4 37.8 134.5 34.4 133.7Z"/>
<path color="#d9dff9" d="M256.2 125.5 257.5 125.5 258.5 123.1 257.2 123.3Z"/>
<path color="#e1e6fa" d="M261.5 122.4 262.3 122.2 263.3 118.3 262.5 118.7Z"/>
<path color="#eeeffb" d="M265.4 117.3 265.9 117.1 267.0 111.7 266.4 112.1Z"/>
<path color="#f6f6f0" d="M268.9 111.1 269.3 111.1 270.4 104.7 270.0 104.7Z"/>
<path color="#d5ddf9" d="M249.1 126.3 251.7 126.7 252.7 125.3 250.1 125.1Z"/>
<path color="#a9b7f5" d="M31.8 144.8 35.2 145.3 35.4 144.3 31.9 143.7Z"/>
<path color="#798bf1" d="M34.0 160.9 39.2 162.0 39.3 160.1 34.1 159.1Z"/>
<path color="#c4cdf8" d="M33.7 135.5 37.2 136.2 37.5 135.4 34.0 134.6Z"/>
<path color="#acb9f5" d="M31.9 143.7 35.4 144.3 35.5 143.3 32.1 142.7Z"/>
<path color="#eff0fa" d="M265.9 117.1 266.5 117.0 267.5 111.4 267.0 111.7Z"/>
<path color="#3f55ea" d="M38.6 180.7 49.2 183.0 49.3 180.2 38.7 177.9Z"/>
<path class="bl" d="M283.4 35.4 284.2 36.2"/>
<path color="#c1cbf8" d="M33.4 136.4 36.9 137.1 37.2 136.2 33.7 135.5Z"/>
<path color="#afbcf6" d="M32.1 142.7 35.5 143.3 35.7 142.3 32.2 141.7Z"/>
<path color="#e2e6fa" d="M262.3 122.2 263.0 122.1 264.1 117.9 263.3 118.3Z"/>
<path color="#bfc8f8" d="M33.2 137.3 36.6 137.9 36.9 137.1 33.4 136.4Z"/>
<path color="#b2bef6" d="M32.2 141.7 35.7 142.3 35.8 141.4 32.4 140.8Z"/>
<path color="#d5dcf9" d="M239.0 126.2 243.9 127.0 245.2 125.9 240.3 125.2Z"/>
<path color="#bcc6f7" d="M33.0 138.1 36.4 138.7 36.6 137.9 33.2 137.3Z"/>
<path color="#b5c0f6" d="M32.4 140.8 35.8 141.4 36.0 140.5 32.6 139.9Z"/>
<path color="#bac4f7" d="M32.8 139.0 36.2 139.6 36.4 138.7 33.0 138.1Z"/>
<path color="#b7c2f7" d="M32.6 139.9 36.0 140.5 36.2 139.6 32.8 139.0Z"/>
<path color="#d9e0f9" d="M257.5 125.5 258.6 125.5 259.7 122.9 258.5 123.1Z"/>
<path color="#eff0fa" d="M266.5 117.0 267.0 116.9 268.0 111.3 267.5 111.4Z"/>
<path color="#7e91f2" d="M34.1 159.1 39.3 160.1 39.4 158.4 34.2 157.4Z"/>
<path color="#e3e7fa" d="M263.0 122.1 263.7 121.9 264.7 117.6 264.1 117.9Z"/>
<path color="#eff0f9" d="M267.0 116.9 267.4 116.8 268.5 111.1 268.0 111.3Z"/>
<path color="#f0f0f9" d="M267.4 116.8 267.9 116.8 268.9 111.1 268.5 111.1Z"/>
<path color="#dae0f9" d="M258.6 125.5 259.6 125.5 260.6 122.7 259.7 122.9Z"/>
<path color="#d6ddf9" d="M251.7 126.7 253.6 126.9 254.6 125.4 252.7 125.3Z"/>
<path color="#8496f2" d="M34.2 157.4 39.4 158.4 39.5 156.8 34.3 155.8Z"/>
<path color="#e3e7fa" d="M263.7 121.9 264.3 121.8 265.4 117.3 264.7 117.6Z"/>
<path color="#d1d9f8" d="M39.6 131.1 44.8 132.5 46.0 130.9 40.8 129.3Z"/>
<path color="#f0f0f9" d="M267.9 116.8 268.3 116.9 269.3 111.1 268.9 111.1Z"/>
<path class="bl" d="M53.6 35.8 55.2 34.7"/>
<path color="#475eeb" d="M38.7 177.9 49.3 180.2 49.3 177.5 38.8 175.2Z"/>
<path color="#d4dcf8" d="M50.0 128.9 54.4 130.1 56.6 128.3 52.2 126.9Z"/>
<path color="#e4e8fa" d="M264.3 121.8 264.9 121.7 265.9 117.1 265.4 117.3Z"/>
<path color="#dae1f9" d="M259.6 125.5 260.5 125.5 261.5 122.4 260.6 122.7Z"/>
<path color="#899bf2" d="M34.3 155.8 39.5 156.8 39.6 155.2 34.4 154.2Z"/>
<path color="#d5dcf9" d="M244.3 126.7 248.1 127.3 249.1 126.3 245.3 125.8Z"/>
<path color="#e5e8fa" d="M264.9 121.7 265.4 121.7 266.5 117.0 265.9 117.1Z"/>
<path color="#d5dcf9" d="M56.6 128.3 61.0 129.5 63.1 128.0 58.7 126.7Z"/>
<path color="#d6ddf9" d="M253.6 126.9 255.2 127.1 256.2 125.5 254.6 125.4Z"/>
<path color="#d8dff9" d="M89.1 114.2 218.8 134.5 220.2 133.7 91.0 113.4Z"/>
<path color="#dbe1f9" d="M260.5 125.5 261.3 125.4 262.3 122.2 261.5 122.4Z"/>
<path color="#8ea0f3" d="M34.4 154.2 39.6 155.2 39.7 153.7 34.5 152.8Z"/>
<path color="#d5dcf9" d="M232.8 126.4 237.7 127.1 239.0 126.2 234.1 125.4Z"/>
<path color="#e5e9fa" d="M265.4 121.7 265.9 121.7 267.0 116.9 266.5 117.0Z"/>
<path color="#ced7f8" d="M38.8 132.4 44.1 133.6 44.8 132.5 39.6 131.1Z"/>
<path color="#e5e9fa" d="M265.9 121.7 266.4 121.7 267.4 116.8 267.0 116.9Z"/>
<path color="#4f65ec" d="M38.8 175.2 49.3 177.5 49.4 174.9 38.8 172.7Z"/>
<path color="#92a5f3" d="M34.5 152.8 39.7 153.7 39.8 152.3 34.6 151.4Z"/>
<path color="#dbe1f9" d="M261.3 125.4 262.0 125.4 263.0 122.1 262.3 122.2Z"/>
<path color="#e5e9fa" d="M266.4 121.7 266.8 121.7 267.9 116.8 267.4 116.8Z"/>
<path color="#d6ddf9" d="M255.2 127.1 256.5 127.3 257.5 125.5 256.2 125.5Z"/>
<path color="#e5e9fa" d="M266.8 121.7 267.3 121.8 268.3 116.9 267.9 116.8Z"/>
<path color="#97a8f4" d="M34.6 151.4 39.8 152.3 39.9 151.0 34.7 150.0Z"/>
<path color="#dce2f9" d="M262.0 125.4 262.7 125.4 263.7 121.9 263.0 122.1Z"/>
<path color="#cbd4f8" d="M38.3 133.5 43.5 134.6 44.1 133.6 38.8 132.4Z"/>
<path color="#d5dcf9" d="M248.1 127.3 250.7 127.7 251.7 126.7 249.1 126.3Z"/>
<path color="#9babf4" d="M34.7 150.0 39.9 151.0 40.1 149.7 34.8 148.8Z"/>
<path color="#dce2f9" d="M262.7 125.4 263.3 125.4 264.3 121.8 263.7 121.9Z"/>
<path color="#d6ddf9" d="M256.5 127.3 257.6 127.5 258.6 125.5 257.5 125.5Z"/>
<path color="#576ced" d="M38.8 172.7 49.4 174.9 49.5 172.5 38.9 170.3Z"/>
<path color="#9faff4" d="M34.8 148.8 40.1 149.7 40.2 148.5 35.0 147.6Z"/>
<path color="#c9d2f8" d="M37.8 134.5 43.1 135.5 43.5 134.6 38.3 133.5Z"/>
<path color="#dce2fa" d="M263.3 125.4 263.9 125.4 264.9 121.7 264.3 121.8Z"/>
<path color="#a2b1f5" d="M35.0 147.6 40.2 148.5 40.3 147.3 35.1 146.4Z"/>
<path color="#d7def9" d="M257.6 127.5 258.6 127.6 259.6 125.5 258.6 125.5Z"/>
<path color="#dce2fa" d="M263.9 125.4 264.4 125.5 265.4 121.7 264.9 121.7Z"/>
<path class="bl" d="M282.5 35.9 283.4 35.4"/>
<path color="#c6cff8" d="M37.5 135.4 42.7 136.4 43.1 135.5 37.8 134.5Z"/>
<path color="#a6b4f5" d="M35.1 146.4 40.3 147.3 40.5 146.2 35.2 145.3Z"/>
<path class="bl" d="M52.0 38.1 53.6 35.8"/>
<path color="#dde2fa" d="M264.4 125.5 264.9 125.5 265.9 121.7 265.4 121.7Z"/>
<path color="#a9b7f5" d="M35.2 145.3 40.5 146.2 40.6 145.2 35.4 144.3Z"/>
<path color="#c4cdf8" d="M37.2 136.2 42.4 137.2 42.7 136.4 37.5 135.4Z"/>
<path color="#d7def9" d="M258.6 127.6 259.5 127.7 260.5 125.5 259.6 125.5Z"/>
<path color="#d5dcf9" d="M250.7 127.7 252.6 128.0 253.6 126.9 251.7 126.7Z"/>
<path color="#acb9f5" d="M35.4 144.3 40.6 145.2 40.7 144.2 35.5 143.3Z"/>
<path color="#5e72ee" d="M38.9 170.3 49.5 172.5 49.6 170.2 39.0 168.1Z"/>
<path color="#c1caf8" d="M36.9 137.1 42.1 138.0 42.4 137.2 37.2 136.2Z"/>
<path color="#dde3fa" d="M264.9 125.5 265.4 125.5 266.4 121.7 265.9 121.7Z"/>
<path color="#afbcf6" d="M35.5 143.3 40.7 144.2 40.9 143.2 35.7 142.3Z"/>
<path color="#bfc8f8" d="M36.6 137.9 41.9 138.9 42.1 138.0 36.9 137.1Z"/>
<path color="#b2bef6" d="M35.7 142.3 40.9 143.2 41.1 142.3 35.8 141.4Z"/>
<path color="#bcc6f7" d="M36.4 138.7 41.7 139.7 41.9 138.9 36.6 137.9Z"/>
<path color="#d5dcf9" d="M237.7 127.1 242.6 127.8 243.9 127.0 239.0 126.2Z"/>
<path color="#dde3fa" d="M265.4 125.5 265.8 125.6 266.8 121.7 266.4 121.7Z"/>
<path color="#b5c0f7" d="M35.8 141.4 41.1 142.3 41.3 141.4 36.0 140.5Z"/>
<path color="#bac5f7" d="M36.2 139.6 41.4 140.5 41.7 139.7 36.4 138.7Z"/>
<path color="#b7c2f7" d="M36.0 140.5 41.3 141.4 41.4 140.5 36.2 139.6Z"/>
<path color="#d7def9" d="M259.5 127.7 260.3 127.8 261.3 125.4 260.5 125.5Z"/>
<path color="#dde3fa" d="M265.8 125.6 266.2 125.6 267.3 121.8 266.8 121.7Z"/>
<path color="#d5dcf8" d="M243.3 127.4 247.1 128.0 248.1 127.3 244.3 126.7Z"/>
<path color="#d7def9" d="M260.3 127.8 261.0 127.9 262.0 125.4 261.3 125.4Z"/>
<path color="#d5dcf9" d="M252.6 128.0 254.2 128.3 255.2 127.1 253.6 126.9Z"/>
<path color="#6578ef" d="M39.0 168.1 49.6 170.2 49.6 168.1 39.1 165.9Z"/>
<path color="#d4dbf8" d="M54.4 130.1 58.8 131.1 61.0 129.5 56.6 128.3Z"/>
<path color="#d7def9" d="M261.0 127.9 261.7 128.0 262.7 125.4 262.0 125.4Z"/>
<path color="#d7def9" d="M261.7 128.0 262.3 128.0 263.3 125.4 262.7 125.4Z"/>
<path color="#d5dcf9" d="M254.2 128.3 255.5 128.5 256.5 127.3 255.2 127.1Z"/>
<path color="#d2daf8" d="M46.0 130.9 56.5 133.3 58.8 131.1 48.3 128.3Z"/>
<path color="#6c7ff0" d="M39.1 165.9 49.6 168.1 49.7 166.0 39.1 163.9Z"/>
<path color="#d7def9" d="M262.3 128.0 262.9 128.1 263.9 125.4 263.3 125.4Z"/>
<path color="#d9dff9" d="M87.2 114.9 217.3 135.4 218.8 134.5 89.1 114.2Z"/>
<path color="#d8def9" d="M262.9 128.1 263.4 128.2 264.4 125.5 263.9 125.4Z"/>
<path color="#d5dcf9" d="M255.5 128.5 256.6 128.8 257.6 127.5 256.5 127.3Z"/>
<path color="#d5dcf9" d="M231.4 127.3 236.3 127.9 237.7 127.1 232.8 126.4Z"/>
<path class="bl" d="M50.3 41.5 52.0 38.1"/>
<path color="#d8def9" d="M263.4 128.2 263.9 128.2 264.9 125.5 264.4 125.5Z"/>
<path color="#d5dcf8" d="M247.1 128.0 249.7 128.4 250.7 127.7 248.1 127.3Z"/>
<path color="#7385f0" d="M39.1 163.9 49.7 166.0 49.8 164.1 39.2 162.0Z"/>
<path color="#d8def9" d="M263.9 128.2 264.4 128.3 265.4 125.5 264.9 125.5Z"/>
<path color="#d5dcf9" d="M256.6 128.8 257.6 128.9 258.6 127.6 257.6 127.5Z"/>
<path color="#d8def9" d="M264.4 128.3 264.8 128.4 265.8 125.6 265.4 125.5Z"/>
<path color="#d8def9" d="M264.8 128.4 265.2 128.4 266.2 125.6 265.8 125.6Z"/>
<path color="#d5dcf9" d="M257.6 128.9 258.5 129.1 259.5 127.7 258.6 127.6Z"/>
<path class="bl" d="M281.7 37.4 282.5 35.9"/>
<path color="#798bf1" d="M39.2 162.0 49.8 164.1 49.9 162.2 39.3 160.1Z"/>
<path color="#d5dcf8" d="M249.7 128.4 251.6 128.7 252.6 128.0 250.7 127.7Z"/>
<path color="#d5dcf9" d="M258.5 129.1 259.3 129.2 260.3 127.8 259.5 127.7Z"/>
<path color="#d5dcf9" d="M259.3 129.2 260.0 129.4 261.0 127.9 260.3 127.8Z"/>
<path color="#7e91f2" d="M39.3 160.1 49.9 162.2 50.0 160.5 39.4 158.4Z"/>
<path color="#d5dcf9" d="M260.0 129.4 260.7 129.5 261.7 128.0 261.0 127.9Z"/>
<path color="#d0d8f8" d="M44.8 132.5 55.4 134.6 56.5 133.3 46.0 130.9Z"/>
<path class="bl" d="M48.7 46.0 50.3 41.5"/>
<path color="#d5dcf8" d="M251.6 128.7 253.2 129.0 254.2 128.3 252.6 128.0Z"/>
<path color="#d5dcf9" d="M242.2 128.0 246.1 128.5 247.1 128.0 243.3 127.4Z"/>
<path color="#8496f2" d="M39.4 158.4 50.0 160.5 50.1 158.8 39.5 156.8Z"/>
<path color="#d5dcf9" d="M260.7 129.5 261.3 129.6 262.3 128.0 261.7 128.0Z"/>
<path class="bl" d="M23.1 177.3 23.2 174.6M23.1 177.3 24.3 177.6"/>
<path color="#d5dcf9" d="M261.3 129.6 261.9 129.7 262.9 128.1 262.3 128.0Z"/>
<path color="#d5dcf9" d="M236.3 127.9 241.3 128.5 242.6 127.8 237.7 127.1Z"/>
<path color="#899cf3" d="M39.5 156.8 50.1 158.8 50.2 157.2 39.6 155.2Z"/>
<path color="#d5dcf9" d="M261.9 129.7 262.4 129.8 263.4 128.2 262.9 128.1Z"/>
<path color="#d5dcf8" d="M253.2 129.0 254.5 129.2 255.5 128.5 254.2 128.3Z"/>
<path color="#d5dcf9" d="M262.4 129.8 262.9 129.9 263.9 128.2 263.4 128.2Z"/>
<path color="#8ea0f3" d="M39.6 155.2 50.2 157.2 50.3 155.8 39.7 153.7Z"/>
<path color="#d5dcf9" d="M262.9 129.9 263.4 130.0 264.4 128.3 263.9 128.2Z"/>
<path color="#cdd6f8" d="M44.1 133.6 54.6 135.7 55.4 134.6 44.8 132.5Z"/>
<path color="#d4dcf8" d="M254.5 129.2 255.6 129.4 256.6 128.8 255.5 128.5Z"/>
<path color="#d5dcf9" d="M263.4 130.0 263.8 130.0 264.8 128.4 264.4 128.3Z"/>
<path class="bl" d="M23.2 174.6 23.2 172.0"/>
<path color="#92a5f3" d="M39.7 153.7 50.3 155.8 50.4 154.3 39.8 152.3Z"/>
<path color="#d5dcf9" d="M263.8 130.0 264.3 130.1 265.2 128.4 264.8 128.4Z"/>
<path color="#d5dcf9" d="M246.1 128.5 248.7 128.8 249.7 128.4 247.1 128.0Z"/>
<path color="#d9e0f9" d="M85.3 115.7 215.8 136.4 217.3 135.4 87.2 114.9Z"/>
<path class="bl" d="M24.3 177.6 25.7 177.9"/>
<path color="#d4dcf8" d="M255.6 129.4 256.6 129.5 257.6 128.9 256.6 128.8Z"/>
<path class="bl" d="M47.1 51.4 48.7 46.0"/>
<path color="#97a8f4" d="M39.8 152.3 50.4 154.3 50.5 153.0 39.9 151.0Z"/>
<path color="#cbd3f8" d="M43.5 134.6 54.1 136.7 54.6 135.7 44.1 133.6Z"/>
<path class="bl" d="M280.7 40.1 281.7 37.4"/>
<path color="#d4dcf8" d="M256.6 129.5 257.5 129.7 258.5 129.1 257.6 128.9Z"/>
<path color="#d5ddf9" d="M230.1 128.1 235.0 128.6 236.3 127.9 231.4 127.3Z"/>
<path color="#9bacf4" d="M39.9 151.0 50.5 153.0 50.7 151.7 40.1 149.7Z"/>
<path color="#c8d1f8" d="M43.1 135.5 53.6 137.5 54.1 136.7 43.5 134.6Z"/>
<path color="#9faff4" d="M40.1 149.7 50.7 151.7 50.8 150.5 40.2 148.5Z"/>
<path color="#d4dcf8" d="M257.5 129.7 258.3 129.8 259.3 129.2 258.5 129.1Z"/>
<path class="bl" d="M23.2 172.0 23.3 169.6"/>
<path color="#d5ddf9" d="M248.7 128.8 250.6 129.0 251.6 128.7 249.7 128.4Z"/>
<path color="#a2b2f5" d="M40.2 148.5 50.8 150.5 50.9 149.3 40.3 147.3Z"/>
<path color="#d4dcf8" d="M258.3 129.8 259.1 129.9 260.0 129.4 259.3 129.2Z"/>
<path color="#c6cff8" d="M42.7 136.4 53.3 138.4 53.6 137.5 43.1 135.5Z"/>
<path color="#a6b4f5" d="M40.3 147.3 50.9 149.3 51.0 148.2 40.5 146.2Z"/>
<path color="#c4cdf8" d="M42.4 137.2 53.0 139.2 53.3 138.4 42.7 136.4Z"/>
<path class="bl" d="M25.7 177.9 27.4 178.3"/>
<path color="#d4dcf8" d="M259.1 129.9 259.7 130.0 260.7 129.5 260.0 129.4Z"/>
<path color="#a9b7f5" d="M40.5 146.2 51.0 148.2 51.2 147.2 40.6 145.2Z"/>
<path class="bl" d="M45.5 57.5 47.1 51.4"/>
<path color="#acbaf5" d="M40.6 145.2 51.2 147.2 51.3 146.1 40.7 144.2Z"/>
<path color="#c1caf8" d="M42.1 138.0 52.7 140.0 53.0 139.2 42.4 137.2Z"/>
<path color="#d4dcf8" d="M259.7 130.0 260.3 130.1 261.3 129.6 260.7 129.5Z"/>
<path color="#afbcf6" d="M40.7 144.2 51.3 146.1 51.5 145.2 40.9 143.2Z"/>
<path class="bl" d="M23.3 169.6 23.4 167.3"/>
<path color="#bfc8f8" d="M41.9 138.9 52.5 140.8 52.7 140.0 42.1 138.0Z"/>
<path color="#d6ddf9" d="M241.2 128.5 245.0 128.8 246.1 128.5 242.2 128.0Z"/>
<path color="#d5ddf9" d="M250.6 129.0 252.2 129.1 253.2 129.0 251.6 128.7Z"/>
<path color="#b2bef6" d="M40.9 143.2 51.5 145.2 51.7 144.2 41.1 142.3Z"/>
<path color="#bdc7f7" d="M41.7 139.7 52.2 141.6 52.5 140.8 41.9 138.9Z"/>
<path color="#b5c1f7" d="M41.1 142.3 51.7 144.2 51.8 143.3 41.3 141.4Z"/>
<path color="#bac5f7" d="M41.4 140.5 52.0 142.5 52.2 141.6 41.7 139.7Z"/>
<path color="#b8c3f7" d="M41.3 141.4 51.8 143.3 52.0 142.5 41.4 140.5Z"/>
<path color="#d4dcf8" d="M260.3 130.1 260.9 130.2 261.9 129.7 261.3 129.6Z"/>
<path color="#d4dcf8" d="M260.9 130.2 261.4 130.3 262.4 129.8 261.9 129.7Z"/>
<path color="#d4dcf8" d="M261.4 130.3 262.0 130.4 262.9 129.9 262.4 129.8Z"/>
<path color="#d5ddf9" d="M252.2 129.1 253.5 129.2 254.5 129.2 253.2 129.0Z"/>
<path class="bl" d="M23.4 167.3 23.4 165.1M43.9 64.4 45.5 57.5"/>
<path color="#d4dcf8" d="M262.0 130.4 262.4 130.4 263.4 130.0 262.9 129.9Z"/>
<path color="#d4dcf8" d="M262.4 130.4 262.9 130.5 263.8 130.0 263.4 130.0Z"/>
<path class="bl" d="M279.8 43.9 280.7 40.1"/>
<path color="#d4dcf8" d="M262.9 130.5 263.3 130.6 264.3 130.1 263.8 130.0Z"/>
<path color="#d6ddf9" d="M235.0 128.6 240.0 128.9 241.3 128.5 236.3 127.9Z"/>
<path color="#d6ddf9" d="M253.5 129.2 254.7 129.3 255.6 129.4 254.5 129.2Z"/>
<path class="bl" d="M23.4 165.1 23.5 163.0"/>
<path color="#d6ddf9" d="M245.0 128.8 247.6 128.8 248.7 128.8 246.1 128.5Z"/>
<path class="bl" d="M27.4 178.3 30.0 178.8M42.4 71.7 43.9 64.4"/>
<path color="#61646e" d="M254.7 129.3 255.7 129.3 256.6 129.5 255.6 129.4Z"/>
<path color="#d9e0f9" d="M83.4 116.6 214.3 137.4 215.8 136.4 85.3 115.7Z"/>
<path color="#61646f" d="M255.7 129.3 256.6 129.4 257.5 129.7 256.6 129.5Z"/>
<path class="bl" d="M23.5 163.0 23.6 161.0M40.8 79.3 42.4 71.7"/>
<path color="#61646f" d="M256.6 129.4 257.4 129.4 258.3 129.8 257.5 129.7Z"/>
<path color="#61646f" d="M247.6 128.8 249.6 128.8 250.6 129.0 248.7 128.8Z"/>
<path color="#d6ddf9" d="M228.7 129.0 233.7 129.3 235.0 128.6 230.1 128.1Z"/>
<path color="#61646f" d="M257.4 129.4 258.1 129.4 259.1 129.9 258.3 129.8Z"/>
<path class="bl" d="M39.2 87.0 40.8 79.3M23.6 161.0 23.7 159.2"/>
<path color="#61646f" d="M258.1 129.4 258.8 129.5 259.7 130.0 259.1 129.9Z"/>
<path class="bl" d="M37.5 94.6 39.2 87.0"/>
<path color="#d7def9" d="M240.1 128.9 244.0 128.8 245.0 128.8 241.2 128.5Z"/>
<path color="#61646f" d="M258.8 129.5 259.4 129.5 260.3 130.1 259.7 130.0Z"/>
<path class="bl" d="M23.7 159.2 23.8 157.4M278.8 48.7 279.8 43.9"/>
<path color="#62646f" d="M249.6 128.8 251.2 128.7 252.2 129.1 250.6 129.0Z"/>
<path class="bl" d="M35.9 102.0 37.5 94.6"/>
<path color="#61646f" d="M259.4 129.5 260.0 129.6 260.9 130.2 260.3 130.1Z"/>
<path color="#61646f" d="M260.0 129.6 260.5 129.6 261.4 130.3 260.9 130.2Z"/>
<path class="bl" d="M23.8 157.4 23.8 155.7M34.3 109.0 35.9 102.0"/>
<path color="#61646f" d="M260.5 129.6 261.0 129.7 262.0 130.4 261.4 130.3Z"/>
<path color="#62646f" d="M251.2 128.7 252.5 128.6 253.5 129.2 252.2 129.1Z"/>
<path class="bl" d="M30.0 178.8 33.4 179.6"/>
<path color="#61646f" d="M261.0 129.7 261.5 129.7 262.4 130.4 262.0 130.4Z"/>
<path class="bl" d="M23.8 155.7 23.9 154.1"/>
<path color="#61646f" d="M261.5 129.7 261.9 129.8 262.9 130.5 262.4 130.4Z"/>
<path class="bl" d="M32.6 115.4 34.3 109.0"/>
<path color="#61646f" d="M261.9 129.8 262.4 129.9 263.3 130.6 262.9 130.5Z"/>
<path color="#62646f" d="M252.5 128.6 253.7 128.5 254.7 129.3 253.5 129.2Z"/>
<path class="bl" d="M23.9 154.1 24.0 152.6"/>
<path color="#62646f" d="M244.0 128.8 246.6 128.6 247.6 128.8 245.0 128.8Z"/>
<path color="#d7def9" d="M233.7 129.3 238.7 129.2 240.0 128.9 235.0 128.6Z"/>
<path class="bl" d="M24.0 152.6 24.1 151.2M30.4 123.1 32.6 115.4"/>
<path color="#62656f" d="M253.7 128.5 254.7 128.4 255.7 129.3 254.7 129.3Z"/>
<path class="bl" d="M277.8 54.4 278.8 48.7"/>
<path color="#d9e0f9" d="M81.4 117.5 212.8 138.5 214.3 137.4 83.4 116.6Z"/>
<path class="bl" d="M24.1 151.2 24.3 149.8"/>
<path color="#62656f" d="M254.7 128.4 255.6 128.2 256.6 129.4 255.7 129.3Z"/>
<path class="bl" d="M24.3 149.8 24.4 148.5M29.2 126.6 30.4 123.1"/>
<path color="#62656f" d="M246.6 128.6 248.6 128.2 249.6 128.8 247.6 128.8Z"/>
<path color="#62656f" d="M255.6 128.2 256.4 128.1 257.4 129.4 256.6 129.4Z"/>
<path class="bl" d="M24.4 148.5 24.5 147.3M24.5 147.3 24.6 146.1"/>
<path color="#62656f" d="M256.4 128.1 257.1 128.0 258.1 129.4 257.4 129.4Z"/>
<path class="bl" d="M28.5 128.9 29.2 126.6"/>
<path color="#62656f" d="M239.1 129.1 243.0 128.7 244.0 128.8 240.1 128.9Z"/>
<path color="#d6ddf9" d="M227.3 129.7 232.3 129.9 233.7 129.3 228.7 129.0Z"/>
<path class="bl" d="M24.6 146.1 24.8 145.0"/>
<path color="#62656f" d="M257.1 128.0 257.8 128.0 258.8 129.5 258.1 129.4Z"/>
<path class="bl" d="M27.9 130.5 28.5 128.9M24.8 145.0 24.9 143.9"/>
<path color="#63656f" d="M248.6 128.2 250.2 127.9 251.2 128.7 249.6 128.8Z"/>
<path class="bl" d="M24.9 143.9 25.0 142.8M27.5 131.9 27.9 130.5"/>
<path color="#63656f" d="M257.8 128.0 258.4 127.9 259.4 129.5 258.8 129.5Z"/>
<path class="bl" d="M276.8 60.8 277.8 54.4M25.0 142.8 25.2 141.8M27.1 133.0 27.5 131.9M25.2 141.8 25.3 140.8"/>
<path color="#63656f" d="M258.4 127.9 259.0 127.9 260.0 129.6 259.4 129.5Z"/>
<path class="bl" d="M26.8 134.1 27.1 133.0M25.3 140.8 25.5 139.8M26.6 135.1 26.8 134.1M25.5 139.8 25.7 138.9M25.7 138.9 25.9 137.9M26.3 136.1 26.6 135.1M25.9 137.9 26.1 137.0M26.1 137.0 26.3 136.1"/>
<path color="#63656f" d="M259.0 127.9 259.6 127.9 260.5 129.6 260.0 129.6Z"/>
<path color="#63656f" d="M250.2 127.9 251.6 127.5 252.5 128.6 251.2 128.7Z"/>
<path color="#63656f" d="M259.6 127.9 260.1 127.9 261.0 129.7 260.5 129.6Z"/>
<path class="bl" d="M33.4 179.6 38.6 180.7"/>
<path color="#63656f" d="M260.1 127.9 260.5 127.9 261.5 129.7 261.0 129.7Z"/>
<path color="#63656f" d="M243.0 128.7 245.6 128.0 246.6 128.6 244.0 128.8Z"/>
<path color="#63656f" d="M260.5 127.9 261.0 127.9 261.9 129.8 261.5 129.7Z"/>
<path color="#63666f" d="M251.6 127.5 252.7 127.1 253.7 128.5 252.5 128.6Z"/>
<path color="#63656f" d="M261.0 127.9 261.4 128.0 262.4 129.9 261.9 129.8Z"/>
<path class="bl" d="M275.7 67.7 276.8 60.8"/>
<path color="#d9e0f9" d="M79.4 118.5 211.3 139.6 212.8 138.5 81.4 117.5Z"/>
<path color="#64666f" d="M252.7 127.1 253.7 126.7 254.7 128.4 253.7 128.5Z"/>
<path color="#d8dff9" d="M232.3 129.9 237.3 129.3 238.7 129.2 233.7 129.3Z"/>
<path color="#64666f" d="M253.7 126.7 254.6 126.3 255.6 128.2 254.7 128.4Z"/>
<path color="#63666f" d="M245.6 128.0 247.6 127.3 248.6 128.2 246.6 128.6Z"/>
<path color="#63656f" d="M238.0 129.3 241.9 128.4 243.0 128.7 239.1 129.1Z"/>
<path class="bl" d="M274.7 75.1 275.7 67.7"/>
<path color="#64666f" d="M254.6 126.3 255.4 126.0 256.4 128.1 255.6 128.2Z"/>
<path color="#64666f" d="M255.4 126.0 256.2 125.7 257.1 128.0 256.4 128.1Z"/>
<path color="#d7def9" d="M225.9 130.5 230.9 130.4 232.3 129.9 227.3 129.7Z"/>
<path color="#64666f" d="M247.6 127.3 249.2 126.6 250.2 127.9 248.6 128.2Z"/>
<path color="#65676f" d="M256.2 125.7 256.9 125.5 257.8 128.0 257.1 128.0Z"/>
<path class="bl" d="M273.6 82.7 274.7 75.1"/>
<path color="#65676f" d="M256.9 125.5 257.5 125.3 258.4 127.9 257.8 128.0Z"/>
<path color="#65676f" d="M257.5 125.3 258.1 125.1 259.0 127.9 258.4 127.9Z"/>
<path color="#65676f" d="M249.2 126.6 250.6 125.8 251.6 127.5 250.2 127.9Z"/>
<path color="#64666f" d="M241.9 128.4 244.6 127.3 245.6 128.0 243.0 128.7Z"/>
<path color="#65676f" d="M258.1 125.1 258.6 125.0 259.6 127.9 259.0 127.9Z"/>
<path class="bl" d="M272.5 90.3 273.6 82.7"/>
<path color="#65676f" d="M258.6 125.0 259.1 125.0 260.1 127.9 259.6 127.9Z"/>
<path color="#65676f" d="M259.1 125.0 259.6 124.9 260.5 127.9 260.1 127.9Z"/>
<path color="#65676f" d="M250.6 125.8 251.7 125.1 252.7 127.1 251.6 127.5Z"/>
<path color="#65676f" d="M259.6 124.9 260.1 125.0 261.0 127.9 260.5 127.9Z"/>
<path color="#d9e0f9" d="M77.5 119.5 209.7 140.9 211.3 139.6 79.4 118.5Z"/>
<path color="#65676f" d="M260.1 125.0 260.5 125.0 261.4 128.0 261.0 127.9Z"/>
<path class="bl" d="M271.5 97.7 272.5 90.3"/>
<path color="#66686f" d="M251.7 125.1 252.8 124.4 253.7 126.7 252.7 127.1Z"/>
<path color="#dae0f9" d="M230.9 130.4 236.0 129.3 237.3 129.3 232.3 129.9Z"/>
<path color="#65676f" d="M244.6 127.3 246.6 126.1 247.6 127.3 245.6 128.0Z"/>
<path color="#63666f" d="M237.0 129.3 240.9 127.9 241.9 128.4 238.0 129.3Z"/>
<path color="#67686f" d="M252.8 124.4 253.7 123.7 254.6 126.3 253.7 126.7Z"/>
<path class="bl" d="M270.4 104.7 271.5 97.7"/>
<path color="#67686f" d="M253.7 123.7 254.5 123.1 255.4 126.0 254.6 126.3Z"/>
<path color="#d8dff9" d="M224.5 131.3 229.5 130.9 230.9 130.4 225.9 130.5Z"/>
<path color="#66676f" d="M246.6 126.1 248.2 124.9 249.2 126.6 247.6 127.3Z"/>
<path class="bl" d="M38.6 180.7 49.2 183.0"/>
<path color="#68696f" d="M254.5 123.1 255.2 122.6 256.2 125.7 255.4 126.0Z"/>
<path class="bl" d="M269.3 111.1 270.4 104.7"/>
<path color="#68696f" d="M255.2 122.6 255.9 122.1 256.9 125.5 256.2 125.7Z"/>
<path color="#65676f" d="M240.9 127.9 243.6 126.3 244.6 127.3 241.9 128.4Z"/>
<path color="#67686f" d="M248.2 124.9 249.6 123.7 250.6 125.8 249.2 126.6Z"/>
<path color="#68696f" d="M255.9 122.1 256.6 121.8 257.5 125.3 256.9 125.5Z"/>
<path color="#d9dff9" d="M75.5 120.5 208.1 142.2 209.7 140.9 77.5 119.5Z"/>
<path color="#696a6f" d="M256.6 121.8 257.2 121.5 258.1 125.1 257.5 125.3Z"/>
<path class="bl" d="M268.3 116.9 269.3 111.1"/>
<path color="#696a6f" d="M257.2 121.5 257.7 121.2 258.6 125.0 258.1 125.1Z"/>
<path color="#68696f" d="M249.6 123.7 250.8 122.5 251.7 125.1 250.6 125.8Z"/>
<path color="#64666f" d="M235.9 129.3 239.8 127.4 240.9 127.9 237.0 129.3Z"/>
<path color="#696a6f" d="M257.7 121.2 258.2 121.1 259.1 125.0 258.6 125.0Z"/>
<path color="#696a6f" d="M258.2 121.1 258.7 121.0 259.6 124.9 259.1 125.0Z"/>
<path color="#66686f" d="M243.6 126.3 245.6 124.6 246.6 126.1 244.6 127.3Z"/>
<path color="#696a6f" d="M258.7 121.0 259.2 121.0 260.1 125.0 259.6 124.9Z"/>
<path color="#63656f" d="M229.5 130.9 234.6 129.3 236.0 129.3 230.9 130.4Z"/>
<path color="#696a6f" d="M250.8 122.5 251.8 121.5 252.8 124.4 251.7 125.1Z"/>
<path color="#696a6f" d="M259.2 121.0 259.6 121.0 260.5 125.0 260.1 125.0Z"/>
<path class="bl" d="M267.3 121.8 268.3 116.9"/>
<path color="#6a6a6f" d="M251.8 121.5 252.7 120.4 253.7 123.7 252.8 124.4Z"/>
<path color="#d9dff9" d="M223.1 132.1 228.1 131.4 229.5 130.9 224.5 131.3Z"/>
<path color="#68696f" d="M245.6 124.6 247.2 122.9 248.2 124.9 246.6 126.1Z"/>
<path color="#6b6b6f" d="M252.7 120.4 253.6 119.5 254.5 123.1 253.7 123.7Z"/>
<path color="#66686f" d="M239.8 127.4 242.5 125.2 243.6 126.3 240.9 127.9Z"/>
<path class="bl" d="M266.2 125.6 267.3 121.8"/>
<path color="#6b6b6f" d="M253.6 119.5 254.3 118.7 255.2 122.6 254.5 123.1Z"/>
<path color="#d9dff9" d="M73.4 121.6 206.6 143.6 208.1 142.2 75.5 120.5Z"/>
<path color="#696a6f" d="M247.2 122.9 248.6 121.2 249.6 123.7 248.2 124.9Z"/>
<path color="#6b6c6e" d="M254.3 118.7 255.0 118.0 255.9 122.1 255.2 122.6Z"/>
<path color="#65676f" d="M234.8 129.3 238.8 126.7 239.8 127.4 235.9 129.3Z"/>
<path color="#6c6c6e" d="M255.0 118.0 255.6 117.4 256.6 121.8 255.9 122.1Z"/>
<path color="#6b6b6f" d="M248.6 121.2 249.8 119.6 250.8 122.5 249.6 123.7Z"/>
<path color="#68696f" d="M242.5 125.2 244.6 122.9 245.6 124.6 243.6 126.3Z"/>
<path color="#6c6c6d" d="M255.6 117.4 256.2 117.0 257.2 121.5 256.6 121.8Z"/>
<path color="#6c6c6d" d="M256.2 117.0 256.8 116.6 257.7 121.2 257.2 121.5Z"/>
<path class="bl" d="M265.2 128.4 266.2 125.6"/>
<path color="#64666f" d="M228.1 131.4 233.3 129.3 234.6 129.3 229.5 130.9Z"/>
<path color="#6c6c6d" d="M256.8 116.6 257.3 116.4 258.2 121.1 257.7 121.2Z"/>
<path color="#6b6c6e" d="M249.8 119.6 250.8 118.1 251.8 121.5 250.8 122.5Z"/>
<path color="#6c6c6d" d="M257.3 116.4 257.8 116.2 258.7 121.0 258.2 121.1Z"/>
<path color="#6c6d6d" d="M257.8 116.2 258.3 116.1 259.2 121.0 258.7 121.0Z"/>
<path color="#dae0f9" d="M221.7 132.8 226.7 131.9 228.1 131.4 223.1 132.1Z"/>
<path color="#6c6d6d" d="M258.3 116.1 258.7 116.2 259.6 121.0 259.2 121.0Z"/>
<path color="#6a6b6f" d="M244.6 122.9 246.2 120.6 247.2 122.9 245.6 124.6Z"/>
<path color="#6c6c6d" d="M250.8 118.1 251.8 116.7 252.7 120.4 251.8 121.5Z"/>
<path color="#68696f" d="M238.8 126.7 241.5 123.9 242.5 125.2 239.8 127.4Z"/>
<path color="#d8dff9" d="M71.4 122.8 205.0 145.0 206.6 143.6 73.4 121.6Z"/>
<path color="#6d6d6c" d="M251.8 116.7 252.6 115.4 253.6 119.5 252.7 120.4Z"/>
<path color="#66686f" d="M233.7 129.3 237.7 126.1 238.8 126.7 234.8 129.3Z"/>
<path color="#6b6c6e" d="M246.2 120.6 247.6 118.4 248.6 121.2 247.2 122.9Z"/>
<path class="bl" d="M264.3 130.1 265.2 128.4"/>
<path color="#6d6d6c" d="M252.6 115.4 253.4 114.2 254.3 118.7 253.6 119.5Z"/>
<path color="#6a6b6f" d="M241.5 123.9 243.5 121.1 244.6 122.9 242.5 125.2Z"/>
<path color="#6e6e6b" d="M253.4 114.2 254.1 113.3 255.0 118.0 254.3 118.7Z"/>
<path color="#6c6d6d" d="M247.6 118.4 248.8 116.3 249.8 119.6 248.6 121.2Z"/>
<path color="#6e6e6a" d="M254.1 113.3 254.7 112.4 255.6 117.4 255.0 118.0Z"/>
<path color="#64666f" d="M226.7 131.9 231.9 129.2 233.3 129.3 228.1 131.4Z"/>
<path color="#6e6e68" d="M254.7 112.4 255.3 111.8 256.2 117.0 255.6 117.4Z"/>
<path color="#dae1f9" d="M220.2 133.7 225.3 132.5 226.7 131.9 221.7 132.8Z"/>
<path color="#6d6d6b" d="M248.8 116.3 249.9 114.3 250.8 118.1 249.8 119.6Z"/>
<path color="#696a6f" d="M237.7 126.1 240.4 122.7 241.5 123.9 238.8 126.7Z"/>
<path color="#6e6e67" d="M255.3 111.8 255.9 111.3 256.8 116.6 256.2 117.0Z"/>
<path color="#d8def9" d="M69.3 124.0 203.4 146.5 205.0 145.0 71.4 122.8Z"/>
<path color="#6c6c6e" d="M243.5 121.1 245.2 118.2 246.2 120.6 244.6 122.9Z"/>
<path color="#6e6e67" d="M255.9 111.3 256.4 110.9 257.3 116.4 256.8 116.6Z"/>
<path class="bl" d="M263.3 130.6 264.3 130.1"/>
<path color="#6e6e66" d="M256.4 110.9 256.9 110.7 257.8 116.2 257.3 116.4Z"/>
<path color="#67696f" d="M232.6 129.2 236.6 125.5 237.7 126.1 233.7 129.3Z"/>
<path color="#6e6e66" d="M256.9 110.7 257.4 110.6 258.3 116.1 257.8 116.2Z"/>
<path color="#6e6e69" d="M249.9 114.3 250.8 112.5 251.8 116.7 250.8 118.1Z"/>
<path color="#6e6e66" d="M257.4 110.6 257.8 110.6 258.7 116.2 258.3 116.1Z"/>
<path color="#6d6d6c" d="M245.2 118.2 246.6 115.5 247.6 118.4 246.2 120.6Z"/>
<path color="#6e6e66" d="M250.8 112.5 251.7 110.8 252.6 115.4 251.8 116.7Z"/>
<path color="#6c6c6e" d="M240.4 122.7 242.5 119.2 243.5 121.1 241.5 123.9Z"/>
<path color="#6e6e64" d="M251.7 110.8 252.4 109.3 253.4 114.2 252.6 115.4Z"/>
<path color="#65676f" d="M225.3 132.5 230.5 129.3 231.9 129.2 226.7 131.9Z"/>
<path color="#6e6e69" d="M246.6 115.5 247.8 112.8 248.8 116.3 247.6 118.4Z"/>
<path color="#d7def9" d="M67.3 125.3 201.7 148.0 203.4 146.5 69.3 124.0Z"/>
<path color="#6e6e61" d="M252.4 109.3 253.2 108.0 254.1 113.3 253.4 114.2Z"/>
<path color="#6b6b6f" d="M236.6 125.5 239.4 121.4 240.4 122.7 237.7 126.1Z"/>
<path color="#dbe1f9" d="M218.8 134.5 223.9 133.1 225.3 132.5 220.2 133.7Z"/>
<path class="bl" d="M262.4 129.9 263.3 130.6"/>
<path color="#68696f" d="M231.5 129.2 235.6 124.9 236.6 125.5 232.6 129.2Z"/>
<path color="#6e6e5f" d="M253.2 108.0 253.8 106.9 254.7 112.4 254.1 113.3Z"/>
<path color="#6d6d6c" d="M242.5 119.2 244.2 115.7 245.2 118.2 243.5 121.1Z"/>
<path color="#6e6e65" d="M247.8 112.8 248.9 110.3 249.9 114.3 248.8 116.3Z"/>
<path color="#6f6f5d" d="M253.8 106.9 254.4 106.0 255.3 111.8 254.7 112.4Z"/>
<path color="#6f6f5b" d="M254.4 106.0 255.0 105.4 255.9 111.3 255.3 111.8Z"/>
<path color="#6f6f5a" d="M255.0 105.4 255.5 104.9 256.4 110.9 255.9 111.3Z"/>
<path color="#6e6e61" d="M248.9 110.3 249.9 108.0 250.8 112.5 249.9 114.3Z"/>
<path color="#6f6f58" d="M255.5 104.9 256.0 104.6 256.9 110.7 256.4 110.9Z"/>
<path color="#6e6e68" d="M244.2 115.7 245.6 112.4 246.6 115.5 245.2 118.2Z"/>
<path color="#6d6d6c" d="M239.4 121.4 241.5 117.3 242.5 119.2 240.4 122.7Z"/>
<path color="#6f6f58" d="M256.0 104.6 256.5 104.4 257.4 110.6 256.9 110.7Z"/>
<path color="#6f6f57" d="M256.5 104.4 256.9 104.4 257.8 110.6 257.4 110.6Z"/>
<path color="#6f6f5c" d="M249.9 108.0 250.7 105.9 251.7 110.8 250.8 112.5Z"/>
<path color="#d6ddf9" d="M65.2 126.6 200.1 149.7 201.7 148.0 67.3 125.3Z"/>
<path color="#66676f" d="M223.9 133.1 229.1 129.5 230.5 129.3 225.3 132.5Z"/>
<path color="#6c6c6e" d="M235.6 124.9 238.3 120.2 239.4 121.4 236.6 125.5Z"/>
<path color="#696a6f" d="M230.4 129.3 234.5 124.4 235.6 124.9 231.5 129.2Z"/>
<path color="#dce2f9" d="M217.3 135.4 222.4 133.8 223.9 133.1 218.8 134.5Z"/>
<path color="#6e6e62" d="M245.6 112.4 246.8 109.2 247.8 112.8 246.6 115.5Z"/>
<path color="#6f6f57" d="M250.7 105.9 251.5 104.0 252.4 109.3 251.7 110.8Z"/>
<path class="bl" d="M261.4 128.0 262.4 129.9"/>
<path color="#6e6e68" d="M241.5 117.3 243.2 113.3 244.2 115.7 242.5 119.2Z"/>
<path color="#6f6f52" d="M251.5 104.0 252.2 102.4 253.2 108.0 252.4 109.3Z"/>
<path color="#6f6f5c" d="M246.8 109.2 247.9 106.2 248.9 110.3 247.8 112.8Z"/>
<path color="#6f6f4e" d="M252.2 102.4 252.9 101.1 253.8 106.9 253.2 108.0Z"/>
<path color="#6f6e4b" d="M252.9 101.1 253.5 100.0 254.4 106.0 253.8 106.9Z"/>
<path color="#6e6e6b" d="M238.3 120.2 240.4 115.6 241.5 117.3 239.4 121.4Z"/>
<path color="#d6ddf9" d="M63.1 128.0 198.4 151.4 200.1 149.7 65.2 126.6Z"/>
<path color="#6e6e61" d="M243.2 113.3 244.6 109.4 245.6 112.4 244.2 115.7Z"/>
<path color="#6f6f54" d="M247.9 106.2 248.9 103.4 249.9 108.0 248.9 110.3Z"/>
<path color="#6f6e48" d="M253.5 100.0 254.1 99.1 255.0 105.4 254.4 106.0Z"/>
<path color="#6c6c6d" d="M234.5 124.4 237.2 119.2 238.3 120.2 235.6 124.9Z"/>
<path color="#6a6b6f" d="M229.3 129.5 233.4 124.0 234.5 124.4 230.4 129.3Z"/>
<path color="#6f6e46" d="M254.1 99.1 254.6 98.5 255.5 104.9 255.0 105.4Z"/>
<path color="#66686f" d="M222.4 133.8 227.6 129.8 229.1 129.5 223.9 133.1Z"/>
<path color="#6f6e44" d="M254.6 98.5 255.1 98.1 256.0 104.6 255.5 104.9Z"/>
<path color="#dce2f9" d="M215.8 136.4 221.0 134.6 222.4 133.8 217.3 135.4Z"/>
<path color="#6f6e43" d="M255.1 98.1 255.6 97.9 256.5 104.4 256.0 104.6Z"/>
<path color="#6f6f4d" d="M248.9 103.4 249.8 100.9 250.7 105.9 249.9 108.0Z"/>
<path color="#6f6d43" d="M255.6 97.9 256.0 97.8 256.9 104.4 256.5 104.4Z"/>
<path class="bl" d="M260.5 125.0 261.4 128.0"/>
<path color="#6f6f59" d="M244.6 109.4 245.8 105.6 246.8 109.2 245.6 112.4Z"/>
<path color="#6e6e63" d="M240.4 115.6 242.1 110.9 243.2 113.3 241.5 117.3Z"/>
<path color="#6f6e46" d="M249.8 100.9 250.6 98.6 251.5 104.0 250.7 105.9Z"/>
<path color="#d5dcf8" d="M61.0 129.5 196.8 153.2 198.4 151.4 63.1 128.0Z"/>
<path color="#6f6d40" d="M250.6 98.6 251.3 96.7 252.2 102.4 251.5 104.0Z"/>
<path color="#6f6f4f" d="M245.8 105.6 246.9 102.1 247.9 106.2 246.8 109.2Z"/>
<path color="#6e6e67" d="M237.2 119.2 239.4 114.0 240.4 115.6 238.3 120.2Z"/>
<path color="#6b6b6f" d="M228.1 129.7 232.2 123.8 233.4 124.0 229.3 129.5Z"/>
<path color="#6d6d6c" d="M233.4 124.0 236.1 118.3 237.2 119.2 234.5 124.4Z"/>
<path color="#6f6d3b" d="M251.3 96.7 252.0 95.0 252.9 101.1 252.2 102.4Z"/>
<path color="#6f6f5a" d="M242.1 110.9 243.6 106.5 244.6 109.4 243.2 113.3Z"/>
<path color="#3f55ea" d="M49.2 183.0 186.5 212.9 186.6 209.8 49.3 180.2Z"/>
<path color="#67686f" d="M221.0 134.6 226.2 130.4 227.6 129.8 222.4 133.8Z"/>
<path color="#dce2f9" d="M214.3 137.4 219.5 135.6 221.0 134.6 215.8 136.4Z"/>
<path color="#6f6e45" d="M246.9 102.1 247.9 98.8 248.9 103.4 247.9 106.2Z"/>
<path color="#6f6c39" d="M252.0 95.0 252.6 93.7 253.5 100.0 252.9 101.1Z"/>
<path color="#475eeb" d="M49.3 180.2 186.6 209.8 186.7 206.8 49.3 177.5Z"/>
<path color="#6f6b38" d="M252.6 93.7 253.2 92.7 254.1 99.1 253.5 100.0Z"/>
<path color="#6f6b37" d="M253.2 92.7 253.7 91.9 254.6 98.5 254.1 99.1Z"/>
<path color="#6f6f5e" d="M239.4 114.0 241.1 108.8 242.1 110.9 240.4 115.6Z"/>
<path color="#6f6f4e" d="M243.6 106.5 244.8 102.2 245.8 105.6 244.6 109.4Z"/>
<path color="#6f6d3d" d="M247.9 98.8 248.8 95.9 249.8 100.9 248.9 103.4Z"/>
<path color="#d3dbf8" d="M58.8 131.1 195.1 155.2 196.8 153.2 61.0 129.5Z"/>
<path color="#4f65ec" d="M49.3 177.5 186.7 206.8 186.8 204.0 49.4 174.9Z"/>
<path color="#6f6a36" d="M253.7 91.9 254.2 91.4 255.1 98.1 254.6 98.5Z"/>
<path class="bl" d="M259.6 121.0 260.5 125.0"/>
<path color="#6f6a36" d="M254.2 91.4 254.7 91.1 255.6 97.9 255.1 98.1Z"/>
<path color="#6f6a36" d="M254.7 91.1 255.1 91.1 256.0 97.8 255.6 97.9Z"/>
<path color="#6b6b6f" d="M227.0 130.1 231.1 123.9 232.2 123.8 228.1 129.7Z"/>
<path color="#6e6e64" d="M236.1 118.3 238.3 112.6 239.4 114.0 237.2 119.2Z"/>
<path color="#576ced" d="M49.4 174.9 186.8 204.0 186.9 201.3 49.5 172.5Z"/>
<path color="#6f6b38" d="M248.8 95.9 249.6 93.3 250.6 98.6 249.8 100.9Z"/>
<path color="#6e6e6b" d="M232.2 123.8 235.0 117.7 236.1 118.3 233.4 124.0Z"/>
<path color="#6f6d42" d="M244.8 102.2 245.9 98.2 246.9 102.1 245.8 105.6Z"/>
<path color="#5e72ee" d="M49.5 172.5 186.9 201.3 187.0 198.8 49.6 170.2Z"/>
<path color="#6f6f50" d="M241.1 108.8 242.5 103.8 243.6 106.5 242.1 110.9Z"/>
<path color="#6f6a36" d="M249.6 93.3 250.3 91.0 251.3 96.7 250.6 98.6Z"/>
<path color="#dce2fa" d="M212.8 138.5 218.0 136.7 219.5 135.6 214.3 137.4Z"/>
<path color="#67686f" d="M219.5 135.6 224.7 131.2 226.2 130.4 221.0 134.6Z"/>
<path color="#6678ef" d="M49.6 170.2 187.0 198.8 187.1 196.4 49.6 168.1Z"/>
<path color="#6f6934" d="M250.3 91.0 251.0 89.0 252.0 95.0 251.3 96.7Z"/>
<path color="#6f6c39" d="M245.9 98.2 246.9 94.5 247.9 98.8 246.9 102.1Z"/>
<path color="#d2daf8" d="M56.5 133.3 193.2 157.7 195.1 155.2 58.8 131.1Z"/>
<path color="#6c7ff0" d="M49.6 168.1 187.1 196.4 187.2 194.2 49.7 166.0Z"/>
<path color="#6f6f57" d="M238.3 112.6 240.0 106.9 241.1 108.8 239.4 114.0Z"/>
<path color="#6e6832" d="M251.0 89.0 251.6 87.5 252.6 93.7 252.0 95.0Z"/>
<path color="#6b6c6e" d="M225.8 130.6 230.0 124.1 231.1 123.9 227.0 130.1Z"/>
<path color="#6f6d43" d="M242.5 103.8 243.8 99.0 244.8 102.2 243.6 106.5Z"/>
<path color="#7385f0" d="M49.7 166.0 187.2 194.2 187.3 192.0 49.8 164.1Z"/>
<path color="#6e6731" d="M251.6 87.5 252.2 86.2 253.2 92.7 252.6 93.7Z"/>
<path color="#6e6e61" d="M235.0 117.7 237.2 111.5 238.3 112.6 236.1 118.3Z"/>
<path color="#6f6a36" d="M246.9 94.5 247.8 91.1 248.8 95.9 247.9 98.8Z"/>
<path color="#6e6e6a" d="M231.1 123.9 233.9 117.4 235.0 117.7 232.2 123.8Z"/>
<path color="#798bf1" d="M49.8 164.1 187.3 192.0 187.5 190.0 49.9 162.2Z"/>
<path color="#6e6530" d="M252.2 86.2 252.8 85.3 253.7 91.9 253.2 92.7Z"/>
<path class="bl" d="M258.7 116.2 259.6 121.0"/>
<path color="#7e91f2" d="M49.9 162.2 187.5 190.0 187.6 188.1 50.0 160.5Z"/>
<path color="#6e6430" d="M252.8 85.3 253.3 84.7 254.2 91.4 253.7 91.9Z"/>
<path color="#d0d8f8" d="M55.4 134.6 192.3 159.3 193.2 157.7 56.5 133.3Z"/>
<path color="#6e6430" d="M253.3 84.7 253.8 84.4 254.7 91.1 254.2 91.4Z"/>
<path color="#8497f2" d="M50.0 160.5 187.6 188.1 187.7 186.2 50.1 158.8Z"/>
<path color="#6e6833" d="M247.8 91.1 248.6 88.1 249.6 93.3 248.8 95.9Z"/>
<path color="#6e6330" d="M253.8 84.4 254.2 84.4 255.1 91.1 254.7 91.1Z"/>
<path color="#dce2fa" d="M211.3 139.6 216.5 137.9 218.0 136.7 212.8 138.5Z"/>
<path color="#6f6c39" d="M243.8 99.0 244.9 94.5 245.9 98.2 244.8 102.2Z"/>
<path color="#6f6e48" d="M240.0 106.9 241.5 101.5 242.5 103.8 241.1 108.8Z"/>
<path color="#67686f" d="M218.0 136.7 223.3 132.2 224.7 131.2 219.5 135.6Z"/>
<path color="#899cf3" d="M50.1 158.8 187.7 186.2 187.8 184.5 50.2 157.2Z"/>
<path color="#8ea0f3" d="M50.2 157.2 187.8 184.5 187.9 182.8 50.3 155.8Z"/>
<path color="#cdd6f8" d="M54.6 135.7 191.7 160.5 192.3 159.3 55.4 134.6Z"/>
<path color="#6e6530" d="M248.6 88.1 249.4 85.5 250.3 91.0 249.6 93.3Z"/>
<path color="#6b6c6e" d="M224.7 131.2 228.8 124.6 230.0 124.1 225.8 130.6Z"/>
<path color="#92a5f3" d="M50.3 155.8 187.9 182.8 188.0 181.3 50.4 154.3Z"/>
<path color="#6f6f51" d="M237.2 111.5 238.9 105.4 240.0 106.9 238.3 112.6Z"/>
<path color="#97a8f4" d="M50.4 154.3 188.0 181.3 188.1 179.8 50.5 153.0Z"/>
<path color="#cbd3f8" d="M54.1 136.7 191.3 161.6 191.7 160.5 54.6 135.7Z"/>
<path color="#6f6934" d="M244.9 94.5 245.9 90.4 246.9 94.5 245.9 98.2Z"/>
<path color="#9bacf4" d="M50.5 153.0 188.1 179.8 188.3 178.4 50.7 151.7Z"/>
<path color="#6e622f" d="M249.4 85.5 250.1 83.3 251.0 89.0 250.3 91.0Z"/>
<path color="#6e6e68" d="M230.0 124.1 232.8 117.3 233.9 117.4 231.1 123.9Z"/>
<path color="#6f6f5e" d="M233.9 117.4 236.1 110.8 237.2 111.5 235.0 117.7Z"/>
<path color="#c8d1f8" d="M53.6 137.5 190.9 162.6 191.3 161.6 54.1 136.7Z"/>
<path color="#9faff4" d="M50.7 151.7 188.3 178.4 188.4 177.0 50.8 150.5Z"/>
<path color="#6f6c3a" d="M241.5 101.5 242.8 96.2 243.8 99.0 242.5 103.8Z"/>
<path color="#a3b2f5" d="M50.8 150.5 188.4 177.0 188.5 175.7 50.9 149.3Z"/>
<path color="#c6cff8" d="M53.3 138.4 190.6 163.5 190.9 162.6 53.6 137.5Z"/>
<path color="#a6b5f5" d="M50.9 149.3 188.5 175.7 188.6 174.5 51.0 148.2Z"/>
<path color="#c4cdf8" d="M53.0 139.2 190.3 164.4 190.6 163.5 53.3 138.4Z"/>
<path color="#a9b7f5" d="M51.0 148.2 188.6 174.5 188.8 173.3 51.2 147.2Z"/>
<path color="#6d5f2e" d="M250.1 83.3 250.7 81.5 251.6 87.5 251.0 89.0Z"/>
<path color="#c1caf8" d="M52.7 140.0 190.1 165.3 190.3 164.4 53.0 139.2Z"/>
<path color="#acbaf6" d="M51.2 147.2 188.8 173.3 188.9 172.2 51.3 146.1Z"/>
<path color="#afbcf6" d="M51.3 146.1 188.9 172.2 189.1 171.1 51.5 145.2Z"/>
<path color="#bfc8f8" d="M52.5 140.8 189.9 166.3 190.1 165.3 52.7 140.0Z"/>
<path color="#b2bef6" d="M51.5 145.2 189.1 171.1 189.2 170.1 51.7 144.2Z"/>
<path color="#bdc7f7" d="M52.2 141.6 189.7 167.2 189.9 166.3 52.5 140.8Z"/>
<path color="#b5c1f7" d="M51.7 144.2 189.2 170.1 189.4 169.1 51.8 143.3Z"/>
<path color="#bac5f7" d="M52.0 142.5 189.5 168.1 189.7 167.2 52.2 141.6Z"/>
<path color="#b8c3f7" d="M51.8 143.3 189.4 169.1 189.5 168.1 52.0 142.5Z"/>
<path color="#6e6631" d="M245.9 90.4 246.8 86.6 247.8 91.1 246.9 94.5Z"/>
<path color="#6d5d2e" d="M250.7 81.5 251.3 80.0 252.2 86.2 251.6 87.5Z"/>
<path color="#dce2f9" d="M209.7 140.9 214.9 139.2 216.5 137.9 211.3 139.6Z"/>
<path color="#67686f" d="M216.5 137.9 221.8 133.5 223.3 132.2 218.0 136.7Z"/>
<path color="#6f6d40" d="M238.9 105.4 240.4 99.6 241.5 101.5 240.0 106.9Z"/>
<path color="#6d5b2d" d="M251.3 80.0 251.8 79.0 252.8 85.3 252.2 86.2Z"/>
<path class="bl" d="M257.8 110.6 258.7 116.2"/>
<path color="#6c6c6e" d="M223.5 132.0 227.7 125.3 228.8 124.6 224.7 131.2Z"/>
<path color="#6f6935" d="M242.8 96.2 243.9 91.3 244.9 94.5 243.8 99.0Z"/>
<path color="#6d592d" d="M251.8 79.0 252.3 78.3 253.3 84.7 252.8 85.3Z"/>
<path color="#6e612f" d="M246.8 86.6 247.7 83.3 248.6 88.1 247.8 91.1Z"/>
<path color="#6d582d" d="M252.3 78.3 252.8 78.0 253.8 84.4 253.3 84.7Z"/>
<path color="#6f6f4c" d="M236.1 110.8 237.8 104.4 238.9 105.4 237.2 111.5Z"/>
<path color="#6d582d" d="M252.8 78.0 253.3 77.9 254.2 84.4 253.8 84.4Z"/>
<path color="#6e6e67" d="M228.8 124.6 231.7 117.6 232.8 117.3 230.0 124.1Z"/>
<path color="#6f6f5b" d="M232.8 117.3 235.0 110.5 236.1 110.8 233.9 117.4Z"/>
<path color="#6d5d2e" d="M247.7 83.3 248.4 80.3 249.4 85.5 248.6 88.1Z"/>
<path color="#6e6631" d="M243.9 91.3 244.9 86.8 245.9 90.4 244.9 94.5Z"/>
<path color="#6f6a37" d="M240.4 99.6 241.7 93.9 242.8 96.2 241.5 101.5Z"/>
<path color="#6d592d" d="M248.4 80.3 249.1 77.9 250.1 83.3 249.4 85.5Z"/>
<path color="#6c6c6e" d="M222.3 133.0 226.5 126.3 227.7 125.3 223.5 132.0Z"/>
<path color="#dce2f9" d="M208.1 142.2 213.4 140.7 214.9 139.2 209.7 140.9Z"/>
<path color="#e5e8fa" d="M214.9 139.2 220.2 135.0 221.8 133.5 216.5 137.9Z"/>
<path color="#6f6c3a" d="M237.8 104.4 239.3 98.2 240.4 99.6 238.9 105.4Z"/>
<path color="#6c552c" d="M249.1 77.9 249.7 75.9 250.7 81.5 250.1 83.3Z"/>
<path color="#6d602f" d="M244.9 86.8 245.8 82.7 246.8 86.6 245.9 90.4Z"/>
<path color="#6e6e67" d="M227.7 125.3 230.5 118.3 231.7 117.6 228.8 124.6Z"/>
<path color="#6e6731" d="M241.7 93.9 242.8 88.7 243.9 91.3 242.8 96.2Z"/>
<path color="#6c522c" d="M249.7 75.9 250.3 74.3 251.3 80.0 250.7 81.5Z"/>
<path color="#6f6e48" d="M235.0 110.5 236.7 103.8 237.8 104.4 236.1 110.8Z"/>
<path color="#6f6f59" d="M231.7 117.6 233.8 110.7 235.0 110.5 232.8 117.3Z"/>
<path color="#6c4f2c" d="M250.3 74.3 250.9 73.1 251.8 79.0 251.3 80.0Z"/>
<path color="#6d5a2d" d="M245.8 82.7 246.6 79.0 247.7 83.3 246.8 86.6Z"/>
<path class="bl" d="M256.9 104.4 257.8 110.6"/>
<path color="#6b4e2b" d="M250.9 73.1 251.4 72.4 252.3 78.3 251.8 79.0Z"/>
<path color="#6b4d2b" d="M251.4 72.4 251.9 72.0 252.8 78.0 252.3 78.3Z"/>
<path color="#6f6934" d="M239.3 98.2 240.6 92.2 241.7 93.9 240.4 99.6Z"/>
<path color="#6b6c6e" d="M221.1 134.1 225.3 127.6 226.5 126.3 222.3 133.0Z"/>
<path color="#6b4c2b" d="M251.9 72.0 252.3 71.9 253.3 77.9 252.8 78.0Z"/>
<path color="#6e602f" d="M242.8 88.7 243.9 83.8 244.9 86.8 243.9 91.3Z"/>
<path color="#6c542c" d="M246.6 79.0 247.4 75.8 248.4 80.3 247.7 83.3Z"/>
<path color="#dbe1f9" d="M206.6 143.6 211.8 142.2 213.4 140.7 208.1 142.2Z"/>
<path color="#e4e8fa" d="M213.4 140.7 218.7 136.8 220.2 135.0 214.9 139.2Z"/>
<path color="#6f6b38" d="M236.7 103.8 238.2 97.3 239.3 98.2 237.8 104.4Z"/>
<path color="#6e6e67" d="M226.5 126.3 229.3 119.4 230.5 118.3 227.7 125.3Z"/>
<path color="#6c4f2c" d="M247.4 75.8 248.1 73.1 249.1 77.9 248.4 80.3Z"/>
<path color="#6f6e45" d="M233.8 110.7 235.6 103.8 236.7 103.8 235.0 110.5Z"/>
<path color="#6f6f58" d="M230.5 118.3 232.7 111.3 233.8 110.7 231.7 117.6Z"/>
<path color="#6d592d" d="M243.9 83.8 244.8 79.3 245.8 82.7 244.9 86.8Z"/>
<path color="#6e6330" d="M240.6 92.2 241.8 86.6 242.8 88.7 241.7 93.9Z"/>
<path color="#6b4b2b" d="M248.1 73.1 248.8 70.9 249.7 75.9 249.1 77.9Z"/>
<path color="#6b6c6e" d="M219.9 135.4 224.1 129.1 225.3 127.6 221.1 134.1Z"/>
<path color="#6a472a" d="M248.8 70.9 249.3 69.1 250.3 74.3 249.7 75.9Z"/>
<path color="#6c522c" d="M244.8 79.3 245.6 75.4 246.6 79.0 245.8 82.7Z"/>
<path color="#6e6832" d="M238.2 97.3 239.5 91.2 240.6 92.2 239.3 98.2Z"/>
<path color="#6a452a" d="M249.3 69.1 249.9 67.9 250.9 73.1 250.3 74.3Z"/>
<path color="#6e6e67" d="M225.3 127.6 228.1 120.8 229.3 119.4 226.5 126.3Z"/>
<path color="#6d5b2d" d="M241.8 86.6 242.8 81.5 243.9 83.8 242.8 88.7Z"/>
<path color="#6a432a" d="M249.9 67.9 250.4 67.0 251.4 72.4 250.9 73.1Z"/>
<path color="#dae1f9" d="M205.0 145.0 210.3 143.9 211.8 142.2 206.6 143.6Z"/>
<path color="#e2e7fa" d="M211.8 142.2 217.2 138.7 218.7 136.8 213.4 140.7Z"/>
<path color="#6f6b37" d="M235.6 103.8 237.1 97.2 238.2 97.3 236.7 103.8Z"/>
<path color="#69422a" d="M250.4 67.0 250.9 66.6 251.9 72.0 251.4 72.4Z"/>
<path color="#6b4c2b" d="M245.6 75.4 246.4 71.9 247.4 75.8 246.6 79.0Z"/>
<path class="bl" d="M256.0 97.8 256.9 104.4"/>
<path color="#6f6f58" d="M229.3 119.4 231.5 112.4 232.7 111.3 230.5 118.3Z"/>
<path color="#69412a" d="M250.9 66.6 251.4 66.5 252.3 71.9 251.9 72.0Z"/>
<path color="#6f6e44" d="M232.7 111.3 234.5 104.3 235.6 103.8 233.8 110.7Z"/>
<path color="#6b6b6f" d="M218.7 136.8 222.9 130.9 224.1 129.1 219.9 135.4Z"/>
<path color="#6a462a" d="M246.4 71.9 247.1 69.0 248.1 73.1 247.4 75.8Z"/>
<path color="#6e602f" d="M239.5 91.2 240.7 85.3 241.8 86.6 240.6 92.2Z"/>
<path color="#6c532c" d="M242.8 81.5 243.7 76.8 244.8 79.3 243.9 83.8Z"/>
<path class="bl" d="M49.2 183.0 186.5 212.9"/>
<path color="#69422a" d="M247.1 69.0 247.7 66.6 248.8 70.9 248.1 73.1Z"/>
<path color="#6e6e69" d="M224.1 129.1 226.9 122.5 228.1 120.8 225.3 127.6Z"/>
<path color="#6e6731" d="M237.1 97.2 238.4 90.8 239.5 91.2 238.2 97.3Z"/>
<path color="#6b4c2b" d="M243.7 76.8 244.6 72.6 245.6 75.4 244.8 79.3Z"/>
<path color="#683f29" d="M247.7 66.6 248.3 64.8 249.3 69.1 248.8 70.9Z"/>
<path color="#6f6f59" d="M228.1 120.8 230.3 113.9 231.5 112.4 229.3 119.4Z"/>
<path color="#6f6a37" d="M234.5 104.3 236.0 97.6 237.1 97.2 235.6 103.8Z"/>
<path color="#dae0f9" d="M203.4 146.5 208.7 145.7 210.3 143.9 205.0 145.0Z"/>
<path color="#e1e6fa" d="M210.3 143.9 215.6 140.9 217.2 138.7 211.8 142.2Z"/>
<path color="#6f6e44" d="M231.5 112.4 233.3 105.5 234.5 104.3 232.7 111.3Z"/>
<path color="#6d572d" d="M240.7 85.3 241.7 80.0 242.8 81.5 241.8 86.6Z"/>
<path color="#683c29" d="M248.3 64.8 248.9 63.4 249.9 67.9 249.3 69.1Z"/>
<path color="#eff0fa" d="M217.4 138.4 221.6 132.9 222.9 130.9 218.7 136.8Z"/>
<path color="#673a28" d="M248.9 63.4 249.4 62.5 250.4 67.0 249.9 67.9Z"/>
<path color="#6a452a" d="M244.6 72.6 245.3 69.0 246.4 71.9 245.6 75.4Z"/>
<path color="#673928" d="M249.4 62.5 249.9 62.0 250.9 66.6 250.4 67.0Z"/>
<path color="#673828" d="M249.9 62.0 250.4 61.9 251.4 66.5 250.9 66.6Z"/>
<path color="#6d5e2e" d="M238.4 90.8 239.6 84.9 240.7 85.3 239.5 91.2Z"/>
<path color="#6e6e6a" d="M222.9 130.9 225.7 124.6 226.9 122.5 224.1 129.1Z"/>
<path color="#6c4f2b" d="M241.7 80.0 242.6 75.1 243.7 76.8 242.8 81.5Z"/>
<path color="#694029" d="M245.3 69.0 246.0 65.9 247.1 69.0 246.4 71.9Z"/>
<path class="bl" d="M255.1 91.1 256.0 97.8"/>
<path color="#6f6f5c" d="M226.9 122.5 229.1 115.9 230.3 113.9 228.1 120.8Z"/>
<path color="#6e6631" d="M236.0 97.6 237.3 91.2 238.4 90.8 237.1 97.2Z"/>
<path color="#6f6e46" d="M230.3 113.9 232.1 107.2 233.3 105.5 231.5 112.4Z"/>
<path color="#6f6a37" d="M233.3 105.5 234.8 98.8 236.0 97.6 234.5 104.3Z"/>
<path color="#edeefb" d="M216.2 140.0 220.4 135.0 221.6 132.9 217.4 138.4Z"/>
<path color="#683b28" d="M246.0 65.9 246.7 63.4 247.7 66.6 247.1 69.0Z"/>
<path color="#dfe4fa" d="M208.7 145.7 214.0 143.2 215.6 140.9 210.3 143.9Z"/>
<path color="#d9dff9" d="M201.7 148.0 207.0 147.5 208.7 145.7 203.4 146.5Z"/>
<path color="#6a472a" d="M242.6 75.1 243.5 70.7 244.6 72.6 243.7 76.8Z"/>
<path color="#6c552c" d="M239.6 84.9 240.6 79.3 241.7 80.0 240.7 85.3Z"/>
<path color="#673728" d="M246.7 63.4 247.3 61.4 248.3 64.8 247.7 66.6Z"/>
<path color="#6d6d6b" d="M221.6 132.9 224.5 127.1 225.7 124.6 222.9 130.9Z"/>
<path color="#663427" d="M247.3 61.4 247.9 59.9 248.9 63.4 248.3 64.8Z"/>
<path color="#6d5d2e" d="M237.3 91.2 238.4 85.2 239.6 84.9 238.4 90.8Z"/>
<path color="#694029" d="M243.5 70.7 244.3 66.9 245.3 69.0 244.6 72.6Z"/>
<path color="#6f6f5f" d="M225.7 124.6 227.9 118.4 229.1 115.9 226.9 122.5Z"/>
<path color="#653227" d="M247.9 59.9 248.4 59.0 249.4 62.5 248.9 63.4Z"/>
<path color="#6b4c2b" d="M240.6 79.3 241.5 74.3 242.6 75.1 241.7 80.0Z"/>
<path color="#653127" d="M248.4 59.0 248.9 58.4 249.9 62.0 249.4 62.5Z"/>
<path color="#6e6631" d="M234.8 98.8 236.1 92.4 237.3 91.2 236.0 97.6Z"/>
<path color="#6f6e49" d="M229.1 115.9 230.9 109.4 232.1 107.2 230.3 113.9Z"/>
<path color="#eaecfa" d="M214.9 141.8 219.1 137.4 220.4 135.0 216.2 140.0Z"/>
<path color="#6f6b37" d="M232.1 107.2 233.6 100.6 234.8 98.8 233.3 105.5Z"/>
<path color="#643027" d="M248.9 58.4 249.3 58.3 250.4 61.9 249.9 62.0Z"/>
<path color="#673a28" d="M244.3 66.9 245.0 63.7 246.0 65.9 245.3 69.0Z"/>
<path color="#f4f5f2" d="M220.4 135.0 223.3 129.7 224.5 127.1 221.6 132.9Z"/>
<path color="#dde3fa" d="M207.0 147.5 212.4 145.6 214.0 143.2 208.7 145.7Z"/>
<path color="#d8dff9" d="M200.1 149.7 205.4 149.4 207.0 147.5 201.7 148.0Z"/>
<path color="#6c532c" d="M238.4 85.2 239.5 79.7 240.6 79.3 239.6 84.9Z"/>
<path color="#663528" d="M245.0 63.7 245.6 61.1 246.7 63.4 246.0 65.9Z"/>
<path color="#6a442a" d="M241.5 74.3 242.4 69.9 243.5 70.7 242.6 75.1Z"/>
<path color="#6e6e61" d="M224.5 127.1 226.7 121.2 227.9 118.4 225.7 124.6Z"/>
<path class="bl" d="M254.2 84.4 255.1 91.1"/>
<path color="#6d5d2e" d="M236.1 92.4 237.3 86.4 238.4 85.2 237.3 91.2Z"/>
<path color="#653227" d="M245.6 61.1 246.2 59.1 247.3 61.4 246.7 63.4Z"/>
<path color="#6f6f4d" d="M227.9 118.4 229.7 112.2 230.9 109.4 229.1 115.9Z"/>
<path color="#e8eafa" d="M213.7 143.7 217.9 139.8 219.1 137.4 214.9 141.8Z"/>
<path color="#6e6731" d="M233.6 100.6 234.9 94.4 236.1 92.4 234.8 98.8Z"/>
<path color="#6f6c39" d="M230.9 109.4 232.4 103.1 233.6 100.6 232.1 107.2Z"/>
<path color="#683d29" d="M242.4 69.9 243.2 66.0 244.3 66.9 243.5 70.7Z"/>
<path color="#642f26" d="M246.2 59.1 246.8 57.5 247.9 59.9 247.3 61.4Z"/>
<path color="#6b4a2b" d="M239.5 79.7 240.4 74.6 241.5 74.3 240.6 79.3Z"/>
<path color="#632d26" d="M246.8 57.5 247.3 56.5 248.4 59.0 247.9 59.9Z"/>
<path color="#f2f3f5" d="M219.1 137.4 222.0 132.6 223.3 129.7 220.4 135.0Z"/>
<path color="#622c27" d="M247.3 56.5 247.8 56.0 248.9 58.4 248.4 59.0Z"/>
<path color="#663728" d="M243.2 66.0 243.9 62.7 245.0 63.7 244.3 66.9Z"/>
<path color="#622b27" d="M247.8 56.0 248.3 55.9 249.3 58.3 248.9 58.4Z"/>
<path color="#6e6e65" d="M223.3 129.7 225.4 124.4 226.7 121.2 224.5 127.1Z"/>
<path color="#6c532c" d="M237.3 86.4 238.3 80.9 239.5 79.7 238.4 85.2Z"/>
<path color="#dbe1f9" d="M205.4 149.4 210.8 148.1 212.4 145.6 207.0 147.5Z"/>
<path color="#d7def9" d="M198.4 151.4 203.8 151.4 205.4 149.4 200.1 149.7Z"/>
<path color="#69422a" d="M240.4 74.6 241.3 70.1 242.4 69.9 241.5 74.3Z"/>
<path color="#6f6f53" d="M226.7 121.2 228.5 115.4 229.7 112.2 227.9 118.4Z"/>
<path color="#e5e8fa" d="M212.4 145.6 216.6 142.4 217.9 139.8 213.7 143.7Z"/>
<path color="#6d5e2e" d="M234.9 94.4 236.1 88.5 237.3 86.4 236.1 92.4Z"/>
<path color="#653227" d="M243.9 62.7 244.5 60.0 245.6 61.1 245.0 63.7Z"/>
<path color="#6f6d3b" d="M229.7 112.2 231.2 106.2 232.4 103.1 230.9 109.4Z"/>
<path color="#6e6832" d="M232.4 103.1 233.7 97.1 234.9 94.4 233.6 100.6Z"/>
<path color="#f0f1f8" d="M217.9 139.8 220.7 135.7 222.0 132.6 219.1 137.4Z"/>
<path color="#642e26" d="M244.5 60.0 245.2 57.9 246.2 59.1 245.6 61.1Z"/>
<path color="#6b4a2b" d="M238.3 80.9 239.2 75.9 240.4 74.6 239.5 79.7Z"/>
<path color="#683b28" d="M241.3 70.1 242.0 66.2 243.2 66.0 242.4 69.9Z"/>
<path color="#f7f7e9" d="M222.0 132.6 224.2 127.8 225.4 124.4 223.3 129.7Z"/>
<path color="#622c27" d="M245.2 57.9 245.7 56.4 246.8 57.5 246.2 59.1Z"/>
<path color="#6f6f59" d="M225.4 124.4 227.2 119.1 228.5 115.4 226.7 121.2Z"/>
<path color="#6c552c" d="M236.1 88.5 237.1 83.1 238.3 80.9 237.3 86.4Z"/>
<path color="#612a27" d="M245.7 56.4 246.2 55.3 247.3 56.5 246.8 57.5Z"/>
<path class="bl" d="M253.3 77.9 254.2 84.4"/>
<path color="#663527" d="M242.0 66.2 242.8 62.8 243.9 62.7 243.2 66.0Z"/>
<path color="#e2e6fa" d="M211.1 147.6 215.3 145.0 216.6 142.4 212.4 145.6Z"/>
<path color="#6f6d42" d="M228.5 115.4 230.0 109.9 231.2 106.2 229.7 112.2Z"/>
<path color="#612927" d="M246.2 55.3 246.7 54.8 247.8 56.0 247.3 56.5Z"/>
<path color="#6e612f" d="M233.7 97.1 234.9 91.4 236.1 88.5 234.9 94.4Z"/>
<path color="#6f6935" d="M231.2 106.2 232.5 100.5 233.7 97.1 232.4 103.1Z"/>
<path color="#d9e0f9" d="M203.8 151.4 209.2 150.6 210.8 148.1 205.4 149.4Z"/>
<path color="#602827" d="M246.7 54.8 247.2 54.6 248.3 55.9 247.8 56.0Z"/>
<path color="#69422a" d="M239.2 75.9 240.1 71.4 241.3 70.1 240.4 74.6Z"/>
<path color="#d5ddf9" d="M196.8 153.2 202.1 153.5 203.8 151.4 198.4 151.4Z"/>
<path color="#eeeffb" d="M216.6 142.4 219.5 138.9 220.7 135.7 217.9 139.8Z"/>
<path color="#643027" d="M242.8 62.8 243.4 60.1 244.5 60.0 243.9 62.7Z"/>
<path color="#f6f6f0" d="M220.7 135.7 222.9 131.5 224.2 127.8 222.0 132.6Z"/>
<path color="#6b4c2b" d="M237.1 83.1 238.1 78.2 239.2 75.9 238.3 80.9Z"/>
<path color="#f9f9d2" d="M224.2 127.8 226.0 123.1 227.2 119.1 225.4 124.4Z"/>
<path color="#683b28" d="M240.1 71.4 240.9 67.5 242.0 66.2 241.3 70.1Z"/>
<path color="#632c26" d="M243.4 60.1 244.0 58.0 245.2 57.9 244.5 60.0Z"/>
<path color="#6f6e4a" d="M227.2 119.1 228.7 114.0 230.0 109.9 228.5 115.4Z"/>
<path color="#6d582d" d="M234.9 91.4 235.9 86.2 237.1 83.1 236.1 88.5Z"/>
<path color="#6f6b37" d="M230.0 109.9 231.3 104.5 232.5 100.5 231.2 106.2Z"/>
<path color="#dfe4fa" d="M209.8 149.6 214.0 147.7 215.3 145.0 211.1 147.6Z"/>
<path color="#6e6430" d="M232.5 100.5 233.7 95.1 234.9 91.4 233.7 97.1Z"/>
<path color="#612a27" d="M244.0 58.0 244.6 56.4 245.7 56.4 245.2 57.9Z"/>
<path color="#eaecfa" d="M215.3 145.0 218.2 142.2 219.5 138.9 216.6 142.4Z"/>
<path color="#663527" d="M240.9 67.5 241.6 64.2 242.8 62.8 242.0 66.2Z"/>
<path color="#602927" d="M244.6 56.4 245.1 55.4 246.2 55.3 245.7 56.4Z"/>
<path color="#6a442a" d="M238.1 78.2 238.9 73.8 240.1 71.4 239.2 75.9Z"/>
<path color="#f3f3f4" d="M219.5 138.9 221.6 135.3 222.9 131.5 220.7 135.7Z"/>
<path color="#3f55ea" d="M186.5 212.9 199.6 215.7 199.7 212.6 186.6 209.8Z"/>
<path color="#602827" d="M245.1 55.4 245.6 54.8 246.7 54.8 246.2 55.3Z"/>
<path color="#d7def9" d="M202.1 153.5 207.5 153.3 209.2 150.6 203.8 151.4Z"/>
<path color="#f8f8de" d="M222.9 131.5 224.7 127.4 226.0 123.1 224.2 127.8Z"/>
<path color="#602727" d="M245.6 54.8 246.1 54.7 247.2 54.6 246.7 54.8Z"/>
<path color="#d4dcf8" d="M195.1 155.2 200.4 155.7 202.1 153.5 196.8 153.2Z"/>
<path color="#faf9b0" d="M226.0 123.1 227.5 118.5 228.7 114.0 227.2 119.1Z"/>
<path color="#6c4f2c" d="M235.9 86.2 236.9 81.4 238.1 78.2 237.1 83.1Z"/>
<path color="#643027" d="M241.6 64.2 242.3 61.5 243.4 60.1 242.8 62.8Z"/>
<path color="#6f6d3b" d="M228.7 114.0 230.0 109.1 231.3 104.5 230.0 109.9Z"/>
<path color="#6d5c2d" d="M233.7 95.1 234.7 90.1 235.9 86.2 234.9 91.4Z"/>
<path color="#475eeb" d="M186.6 209.8 199.7 212.6 199.8 209.6 186.7 206.8Z"/>
<path color="#6e6832" d="M231.3 104.5 232.4 99.5 233.7 95.1 232.5 100.5Z"/>
<path color="#683d29" d="M238.9 73.8 239.7 69.9 240.9 67.5 240.1 71.4Z"/>
<path class="bl" d="M252.3 71.9 253.3 77.9"/>
<path color="#dce2f9" d="M208.5 151.7 212.7 150.3 214.0 147.7 209.8 149.6Z"/>
<path color="#632d26" d="M242.3 61.5 242.9 59.4 244.0 58.0 243.4 60.1Z"/>
<path color="#e5e9fa" d="M214.0 147.7 216.9 145.5 218.2 142.2 215.3 145.0Z"/>
<path color="#f0f1f8" d="M218.2 142.2 220.4 139.2 221.6 135.3 219.5 138.9Z"/>
<path color="#f7f7ec" d="M221.6 135.3 223.4 131.8 224.7 127.4 222.9 131.5Z"/>
<path color="#622a27" d="M242.9 59.4 243.5 57.8 244.6 56.4 244.0 58.0Z"/>
<path color="#4f65ec" d="M186.7 206.8 199.8 209.6 199.9 206.8 186.8 204.0Z"/>
<path color="#6a482a" d="M236.9 81.4 237.7 77.2 238.9 73.8 238.1 78.2Z"/>
<path color="#673728" d="M239.7 69.9 240.4 66.7 241.6 64.2 240.9 67.5Z"/>
<path color="#f9f9c9" d="M224.7 127.4 226.2 123.3 227.5 118.5 226.0 123.1Z"/>
<path color="#612927" d="M243.5 57.8 244.0 56.8 245.1 55.4 244.6 56.4Z"/>
<path color="#fbf78e" d="M227.5 118.5 228.7 114.1 230.0 109.1 228.7 114.0Z"/>
<path color="#6c542c" d="M234.7 90.1 235.6 85.6 236.9 81.4 235.9 86.2Z"/>
<path color="#6f6a35" d="M230.0 109.1 231.2 104.5 232.4 99.5 231.3 104.5Z"/>
<path color="#6e612f" d="M232.4 99.5 233.5 94.9 234.7 90.1 233.7 95.1Z"/>
<path color="#d34241" d="M244.0 56.8 244.5 56.2 245.6 54.8 245.1 55.4Z"/>
<path color="#576ced" d="M186.8 204.0 199.9 206.8 200.0 204.1 186.9 201.3Z"/>
<path color="#d5ddf9" d="M200.4 155.7 205.9 155.9 207.5 153.3 202.1 153.5Z"/>
<path color="#653227" d="M240.4 66.7 241.1 64.1 242.3 61.5 241.6 64.2Z"/>
<path color="#d24141" d="M244.5 56.2 244.9 56.1 246.1 54.7 245.6 54.8Z"/>
<path color="#694129" d="M237.7 77.2 238.5 73.5 239.7 69.9 238.9 73.8Z"/>
<path color="#eceefa" d="M216.9 145.5 219.1 143.1 220.4 139.2 218.2 142.2Z"/>
<path color="#dae0f9" d="M207.2 153.8 211.4 153.0 212.7 150.3 208.5 151.7Z"/>
<path color="#e1e6fa" d="M212.7 150.3 215.6 148.7 216.9 145.5 214.0 147.7Z"/>
<path color="#f4f4f3" d="M220.4 139.2 222.1 136.3 223.4 131.8 221.6 135.3Z"/>
<path color="#5e72ee" d="M186.9 201.3 200.0 204.1 200.1 201.6 187.0 198.8Z"/>
<path color="#f8f8db" d="M223.4 131.8 224.9 128.4 226.2 123.3 224.7 127.4Z"/>
<path color="#642e26" d="M241.1 64.1 241.7 62.0 242.9 59.4 242.3 61.5Z"/>
<path color="#3f55ea" d="M199.6 215.7 206.2 217.2 206.3 214.0 199.7 212.6Z"/>
<path color="#6b4d2b" d="M235.6 85.6 236.5 81.6 237.7 77.2 236.9 81.4Z"/>
<path color="#faf9aa" d="M226.2 123.3 227.5 119.5 228.7 114.1 227.5 118.5Z"/>
<path color="#faf270" d="M228.7 114.1 229.9 110.0 231.2 104.5 230.0 109.1Z"/>
<path color="#683b28" d="M238.5 73.5 239.2 70.4 240.4 66.7 239.7 69.9Z"/>
<path color="#6d5a2d" d="M233.5 94.9 234.4 90.6 235.6 85.6 234.7 90.1Z"/>
<path color="#6e6731" d="M231.2 104.5 232.2 100.2 233.5 94.9 232.4 99.5Z"/>
<path color="#632c26" d="M241.7 62.0 242.3 60.5 243.5 57.8 242.9 59.4Z"/>
<path color="#6578ef" d="M187.0 198.8 200.1 201.6 200.3 199.2 187.1 196.4Z"/>
<path color="#d7493f" d="M242.3 60.5 242.8 59.4 244.0 56.8 243.5 57.8Z"/>
<path color="#475eeb" d="M199.7 212.6 206.3 214.0 206.4 211.1 199.8 209.6Z"/>
<path color="#f0f1f8" d="M219.1 143.1 220.8 140.8 222.1 136.3 220.4 139.2Z"/>
<path color="#6c7ff0" d="M187.1 196.4 200.3 199.2 200.4 196.9 187.2 194.2Z"/>
<path color="#f7f7eb" d="M222.1 136.3 223.6 133.5 224.9 128.4 223.4 131.8Z"/>
<path color="#d3dbf8" d="M193.2 157.7 206.3 159.2 208.1 155.9 195.1 155.2Z"/>
<path color="#e6e9fa" d="M215.6 148.7 217.8 147.0 219.1 143.1 216.9 145.5Z"/>
<path color="#6a462a" d="M236.5 81.6 237.3 78.1 238.5 73.5 237.7 77.2Z"/>
<path color="#663628" d="M239.2 70.4 239.9 67.8 241.1 64.1 240.4 66.7Z"/>
<path color="#d64640" d="M242.8 59.4 243.3 58.9 244.5 56.2 244.0 56.8Z"/>
<path color="#f9f9c8" d="M224.9 128.4 226.2 125.1 227.5 119.5 226.2 123.3Z"/>
<path color="#dde3fa" d="M211.4 153.0 214.3 151.9 215.6 148.7 212.7 150.3Z"/>
<path class="bl" d="M251.4 66.5 252.3 71.9"/>
<path color="#d54540" d="M243.3 58.9 243.8 58.8 244.9 56.1 244.5 56.2Z"/>
<path color="#d7def9" d="M205.9 155.9 210.1 155.6 211.4 153.0 207.2 153.8Z"/>
<path color="#fbf78d" d="M227.5 119.5 228.6 115.9 229.9 110.0 228.7 114.1Z"/>
<path color="#6c532c" d="M234.4 90.6 235.2 86.9 236.5 81.6 235.6 85.6Z"/>
<path color="#7385f0" d="M187.2 194.2 200.4 196.9 200.5 194.7 187.3 192.0Z"/>
<path color="#f9ec65" d="M229.9 110.0 230.9 106.2 232.2 100.2 231.2 104.5Z"/>
<path color="#4f65ec" d="M199.8 209.6 206.4 211.1 206.6 208.2 199.9 206.8Z"/>
<path color="#f6d655" d="M232.2 100.2 233.1 96.4 234.4 90.6 233.5 94.9Z"/>
<path color="#3f55ea" d="M206.2 217.2 210.7 218.2 210.8 215.0 206.3 214.0Z"/>
<path color="#653327" d="M239.9 67.8 240.5 65.8 241.7 62.0 241.1 64.1Z"/>
<path color="#694129" d="M237.3 78.1 238.0 75.1 239.2 70.4 238.5 73.5Z"/>
<path color="#798bf1" d="M187.3 192.0 200.5 194.7 200.6 192.7 187.5 190.0Z"/>
<path color="#de563f" d="M240.5 65.8 241.1 64.4 242.3 60.5 241.7 62.0Z"/>
<path color="#f4f4f3" d="M220.8 140.8 222.3 138.6 223.6 133.5 222.1 136.3Z"/>
<path color="#f8f8dd" d="M223.6 133.5 224.9 130.7 226.2 125.1 224.9 128.4Z"/>
<path color="#ebedfa" d="M217.8 147.0 219.5 145.3 220.8 140.8 219.1 143.1Z"/>
<path color="#576ced" d="M199.9 206.8 206.6 208.2 206.7 205.6 200.0 204.1Z"/>
<path color="#faf9af" d="M226.2 125.1 227.3 122.0 228.6 115.9 227.5 119.5Z"/>
<path color="#6b4d2b" d="M235.2 86.9 236.0 83.6 237.3 78.1 236.5 81.6Z"/>
<path color="#7e91f2" d="M187.5 190.0 200.6 192.7 200.7 190.8 187.6 188.1Z"/>
<path color="#e1e5fa" d="M214.3 151.9 216.5 150.8 217.8 147.0 215.6 148.7Z"/>
<path color="#475deb" d="M206.3 214.0 210.8 215.0 210.9 212.0 206.4 211.1Z"/>
<path color="#dc513e" d="M241.1 64.4 241.6 63.4 242.8 59.4 242.3 60.5Z"/>
<path color="#fbf372" d="M228.6 115.9 229.6 112.5 230.9 106.2 229.9 110.0Z"/>
<path color="#e87744" d="M238.0 75.1 238.6 72.7 239.9 67.8 239.2 70.4Z"/>
<path color="#f5c750" d="M233.1 96.4 234.0 92.9 235.2 86.9 234.4 90.6Z"/>
<path color="#f8e65b" d="M230.9 106.2 231.8 102.7 233.1 96.4 232.2 100.2Z"/>
<path color="#d0d9f8" d="M192.3 159.3 205.4 161.1 206.3 159.2 193.2 157.7Z"/>
<path color="#d9e0f9" d="M210.1 155.6 213.0 155.1 214.3 151.9 211.4 153.0Z"/>
<path color="#3f55ea" d="M210.7 218.2 214.0 218.9 214.2 215.8 210.8 215.0Z"/>
<path color="#8496f2" d="M187.6 188.1 200.7 190.8 200.8 188.9 187.7 186.2Z"/>
<path color="#db4e3e" d="M241.6 63.4 242.1 62.9 243.3 58.9 242.8 59.4Z"/>
<path color="#5e72ee" d="M200.0 204.1 206.7 205.6 206.8 203.0 200.1 201.6Z"/>
<path color="#da4d3f" d="M242.1 62.9 242.6 62.7 243.8 58.8 243.3 58.9Z"/>
<path color="#899cf3" d="M187.7 186.2 200.8 188.9 200.9 187.2 187.8 184.5Z"/>
<path color="#e56d43" d="M238.6 72.7 239.3 70.8 240.5 65.8 239.9 67.8Z"/>
<path color="#ee9549" d="M236.0 83.6 236.7 80.9 238.0 75.1 237.3 78.1Z"/>
<path color="#4e65ec" d="M206.4 211.1 210.9 212.0 211.0 209.2 206.6 208.2Z"/>
<path color="#f7f7ef" d="M222.3 138.6 223.6 136.4 224.9 130.7 223.6 133.5Z"/>
<path color="#eff0f9" d="M219.5 145.3 221.0 143.6 222.3 138.6 220.8 140.8Z"/>
<path color="#f9f9d0" d="M224.9 130.7 226.0 128.2 227.3 122.0 226.2 125.1Z"/>
<path color="#fbf898" d="M227.3 122.0 228.3 119.1 229.6 112.5 228.6 115.9Z"/>
<path color="#8ea0f3" d="M187.8 184.5 200.9 187.2 201.0 185.5 187.9 182.8Z"/>
<path color="#e5e8fa" d="M216.5 150.8 218.2 149.6 219.5 145.3 217.8 147.0Z"/>
<path color="#6578ef" d="M200.1 201.6 206.8 203.0 206.9 200.6 200.3 199.2Z"/>
<path color="#f3b94e" d="M234.0 92.9 234.7 90.0 236.0 83.6 235.2 86.9Z"/>
<path color="#ced6f8" d="M191.7 160.5 204.8 162.6 205.4 161.1 192.3 159.3Z"/>
<path color="#3f55ea" d="M214.0 218.9 216.3 219.4 216.4 216.2 214.2 215.8Z"/>
<path color="#475deb" d="M210.8 215.0 214.2 215.8 214.3 212.8 210.9 212.0Z"/>
<path color="#faee69" d="M229.6 112.5 230.5 109.5 231.8 102.7 230.9 106.2Z"/>
<path color="#e36641" d="M239.3 70.8 239.8 69.4 241.1 64.4 240.5 65.8Z"/>
<path color="#f7db56" d="M231.8 102.7 232.7 99.6 234.0 92.9 233.1 96.4Z"/>
<path color="#92a5f3" d="M187.9 182.8 201.0 185.5 201.2 183.9 188.0 181.3Z"/>
<path color="#dce2f9" d="M213.0 155.1 215.1 154.4 216.5 150.8 214.3 151.9Z"/>
<path color="#ec8a47" d="M236.7 80.9 237.4 78.6 238.6 72.7 238.0 75.1Z"/>
<path color="#566ced" d="M206.6 208.2 211.0 209.2 211.1 206.6 206.7 205.6Z"/>
<path color="#e16141" d="M239.8 69.4 240.4 68.5 241.6 63.4 241.1 64.4Z"/>
<path color="#97a8f4" d="M188.0 181.3 201.2 183.9 201.3 182.4 188.1 179.8Z"/>
<path color="#6c7ff0" d="M200.3 199.2 206.9 200.6 207.0 198.3 200.4 196.9Z"/>
<path color="#cbd4f8" d="M191.3 161.6 204.3 163.8 204.8 162.6 191.7 160.5Z"/>
<path color="#3f55ea" d="M216.3 219.4 218.1 219.8 218.2 216.6 216.4 216.2Z"/>
<path color="#f7f7e5" d="M223.6 136.4 224.7 134.4 226.0 128.2 224.9 130.7Z"/>
<path color="#f2f2f6" d="M221.0 143.6 222.3 141.9 223.6 136.4 222.3 138.6Z"/>
<path color="#9bacf4" d="M188.1 179.8 201.3 182.4 201.4 181.0 188.3 178.4Z"/>
<path color="#f9f9be" d="M226.0 128.2 227.0 125.8 228.3 119.1 227.3 122.0Z"/>
<path color="#e05e40" d="M240.4 68.5 240.9 68.0 242.1 62.9 241.6 63.4Z"/>
<path color="#f2ac4c" d="M234.7 90.0 235.4 87.4 236.7 80.9 236.0 83.6Z"/>
<path color="#4e65ec" d="M210.9 212.0 214.3 212.8 214.4 210.0 211.0 209.2Z"/>
<path color="#475deb" d="M214.2 215.8 216.4 216.2 216.5 213.3 214.3 212.8Z"/>
<path class="bl" d="M250.4 61.9 251.4 66.5"/>
<path color="#e8ebfa" d="M218.2 149.6 219.7 148.4 221.0 143.6 219.5 145.3Z"/>
<path color="#fbf582" d="M228.3 119.1 229.2 116.5 230.5 109.5 229.6 112.5Z"/>
<path color="#ea8146" d="M237.4 78.6 238.0 76.8 239.3 70.8 238.6 72.7Z"/>
<path color="#9faff4" d="M188.3 178.4 201.4 181.0 201.5 179.6 188.4 177.0Z"/>
<path color="#c8d1f8" d="M190.9 162.6 204.0 164.8 204.3 163.8 191.3 161.6Z"/>
<path color="#e05c40" d="M240.9 68.0 241.3 67.9 242.6 62.7 242.1 62.9Z"/>
<path color="#f6d053" d="M232.7 99.6 233.4 96.9 234.7 90.0 234.0 92.9Z"/>
<path color="#f9ea61" d="M230.5 109.5 231.4 106.7 232.7 99.6 231.8 102.7Z"/>
<path color="#d6ddf9" d="M206.3 159.2 212.9 159.2 214.7 154.6 208.1 155.9Z"/>
<path color="#5e72ee" d="M206.7 205.6 211.1 206.6 211.3 204.0 206.8 203.0Z"/>
<path color="#7285f0" d="M200.4 196.9 207.0 198.3 207.1 196.2 200.5 194.7Z"/>
<path color="#3f55ea" d="M218.1 219.8 219.7 220.1 219.8 217.0 218.2 216.6Z"/>
<path color="#a2b2f5" d="M188.4 177.0 201.5 179.6 201.7 178.3 188.5 175.7Z"/>
<path color="#c6cff8" d="M190.6 163.5 203.7 165.8 204.0 164.8 190.9 162.6Z"/>
<path color="#dee4fa" d="M215.1 154.4 216.9 153.7 218.2 149.6 216.5 150.8Z"/>
<path color="#a6b4f5" d="M188.5 175.7 201.7 178.3 201.8 177.1 188.6 174.5Z"/>
<path color="#e87a45" d="M238.0 76.8 238.6 75.5 239.8 69.4 239.3 70.8Z"/>
<path color="#c4cdf8" d="M190.3 164.4 203.5 166.8 203.7 165.8 190.6 163.5Z"/>
<path color="#a9b7f5" d="M188.6 174.5 201.8 177.1 201.9 175.9 188.8 173.3Z"/>
<path color="#475deb" d="M216.4 216.2 218.2 216.6 218.3 213.7 216.5 213.3Z"/>
<path color="#f0a14b" d="M235.4 87.4 236.1 85.4 237.4 78.6 236.7 80.9Z"/>
<path color="#788bf1" d="M200.5 194.7 207.1 196.2 207.2 194.1 200.6 192.7Z"/>
<path color="#566bed" d="M211.0 209.2 214.4 210.0 214.5 207.3 211.1 206.6Z"/>
<path color="#f8f8db" d="M224.7 134.4 225.7 132.5 227.0 125.8 226.0 128.2Z"/>
<path color="#acbaf5" d="M188.8 173.3 201.9 175.9 202.1 174.8 188.9 172.2Z"/>
<path color="#f4f4f3" d="M222.3 141.9 223.4 140.4 224.7 134.4 223.6 136.4Z"/>
<path color="#c1caf8" d="M190.1 165.3 203.2 167.8 203.5 166.8 190.3 164.4Z"/>
<path color="#4e65ec" d="M214.3 212.8 216.5 213.3 216.6 210.5 214.4 210.0Z"/>
<path color="#afbcf6" d="M188.9 172.2 202.1 174.8 202.2 173.7 189.1 171.1Z"/>
<path color="#faf9ac" d="M227.0 125.8 227.9 123.6 229.2 116.5 228.3 119.1Z"/>
<path color="#6578ef" d="M206.8 203.0 211.3 204.0 211.4 201.6 206.9 200.6Z"/>
<path color="#bfc8f8" d="M189.9 166.3 203.0 168.7 203.2 167.8 190.1 165.3Z"/>
<path color="#b2bef6" d="M189.1 171.1 202.2 173.7 202.3 172.6 189.2 170.1Z"/>
<path color="#eceefa" d="M219.7 148.4 220.9 147.2 222.3 141.9 221.0 143.6Z"/>
<path color="#bdc7f7" d="M189.7 167.2 202.8 169.7 203.0 168.7 189.9 166.3Z"/>
<path color="#b5c0f7" d="M189.2 170.1 202.3 172.6 202.5 171.6 189.4 169.1Z"/>
<path color="#bac5f7" d="M189.5 168.1 202.7 170.6 202.8 169.7 189.7 167.2Z"/>
<path color="#f5c550" d="M233.4 96.9 234.2 94.7 235.4 87.4 234.7 90.0Z"/>
<path color="#b8c3f7" d="M189.4 169.1 202.5 171.6 202.7 170.6 189.5 168.1Z"/>
<path color="#fbf370" d="M229.2 116.5 230.1 114.2 231.4 106.7 230.5 109.5Z"/>
<path color="#e77544" d="M238.6 75.5 239.1 74.7 240.4 68.5 239.8 69.4Z"/>
<path color="#f8e65a" d="M231.4 106.7 232.1 104.4 233.4 96.9 232.7 99.6Z"/>
<path color="#475deb" d="M218.2 216.6 219.8 217.0 219.9 214.0 218.3 213.7Z"/>
<path color="#7e91f2" d="M200.6 192.7 207.2 194.1 207.4 192.2 200.7 190.8Z"/>
<path color="#ef994a" d="M236.1 85.4 236.7 83.7 238.0 76.8 237.4 78.6Z"/>
<path color="#e77243" d="M239.1 74.7 239.6 74.2 240.9 68.0 240.4 68.5Z"/>
<path color="#e1e6fa" d="M216.9 153.7 218.4 153.0 219.7 148.4 218.2 149.6Z"/>
<path color="#5e71ee" d="M211.1 206.6 214.5 207.3 214.6 204.8 211.3 204.0Z"/>
<path color="#6c7ef0" d="M206.9 200.6 211.4 201.6 211.5 199.4 207.0 198.3Z"/>
<path color="#4e65ec" d="M216.5 213.3 218.3 213.7 218.5 210.9 216.6 210.5Z"/>
<path color="#e67143" d="M239.6 74.2 240.1 74.1 241.3 67.9 240.9 68.0Z"/>
<path color="#f6f6f0" d="M223.4 140.4 224.4 138.9 225.7 132.5 224.7 134.4Z"/>
<path color="#566bed" d="M214.4 210.0 216.6 210.5 216.8 207.8 214.5 207.3Z"/>
<path color="#f9f9d2" d="M225.7 132.5 226.6 130.7 227.9 123.6 227.0 125.8Z"/>
<path color="#8496f2" d="M200.7 190.8 207.4 192.2 207.5 190.4 200.8 188.9Z"/>
<path color="#f4bc4f" d="M234.2 94.7 234.8 92.8 236.1 85.4 235.4 87.4Z"/>
<path color="#fbf89b" d="M227.9 123.6 228.7 121.7 230.1 114.2 229.2 116.5Z"/>
<path color="#eff0fa" d="M220.9 147.2 222.0 146.1 223.4 140.4 222.3 141.9Z"/>
<path color="#ee9349" d="M236.7 83.7 237.3 82.6 238.6 75.5 238.0 76.8Z"/>
<path color="#d2daf8" d="M205.4 161.1 212.0 161.6 212.9 159.2 206.3 159.2Z"/>
<path color="#faef6a" d="M230.1 114.2 230.8 112.2 232.1 104.4 231.4 106.7Z"/>
<path color="#f7dd57" d="M232.1 104.4 232.8 102.4 234.2 94.7 233.4 96.9Z"/>
<path color="#4e65ec" d="M218.3 213.7 219.9 214.0 220.0 211.2 218.5 210.9Z"/>
<path color="#7285f0" d="M207.0 198.3 211.5 199.4 211.6 197.2 207.1 196.2Z"/>
<path color="#899bf2" d="M200.8 188.9 207.5 190.4 207.6 188.6 200.9 187.2Z"/>
<path color="#6577ef" d="M211.3 204.0 214.6 204.8 214.7 202.4 211.4 201.6Z"/>
<path color="#e3e7fa" d="M218.4 153.0 219.6 152.2 220.9 147.2 219.7 148.4Z"/>
<path color="#ed8e48" d="M237.3 82.6 237.8 81.8 239.1 74.7 238.6 75.5Z"/>
<path color="#566bed" d="M216.6 210.5 218.5 210.9 218.6 208.2 216.8 207.8Z"/>
<path color="#f3b44d" d="M234.8 92.8 235.4 91.4 236.7 83.7 236.1 85.4Z"/>
<path color="#5e71ee" d="M214.5 207.3 216.8 207.8 216.9 205.3 214.6 204.8Z"/>
<path color="#f7f7eb" d="M224.4 138.9 225.3 137.6 226.6 130.7 225.7 132.5Z"/>
<path color="#8da0f3" d="M200.9 187.2 207.6 188.6 207.7 187.0 201.0 185.5Z"/>
<path color="#f9f9c7" d="M226.6 130.7 227.4 129.2 228.7 121.7 227.9 123.6Z"/>
<path color="#ec8b48" d="M237.8 81.8 238.3 81.4 239.6 74.2 239.1 74.7Z"/>
<path color="#f0f1f8" d="M222.0 146.1 223.0 145.1 224.4 138.9 223.4 140.4Z"/>
<path color="#fbf78d" d="M228.7 121.7 229.5 120.1 230.8 112.2 230.1 114.2Z"/>
<path color="#f6d655" d="M232.8 102.4 233.5 100.8 234.8 92.8 234.2 94.7Z"/>
<path color="#788bf1" d="M207.1 196.2 211.6 197.2 211.7 195.2 207.2 194.1Z"/>
<path color="#f9ec65" d="M230.8 112.2 231.5 110.5 232.8 102.4 232.1 104.4Z"/>
<path color="#d9e0f9" d="M212.9 159.2 217.4 158.5 219.1 152.5 214.7 154.6Z"/>
<path color="#cfd8f8" d="M204.8 162.6 211.4 163.3 212.0 161.6 205.4 161.1Z"/>
<path color="#ec8a47" d="M238.3 81.4 238.8 81.3 240.1 74.1 239.6 74.2Z"/>
<path color="#6b7ef0" d="M211.4 201.6 214.7 202.4 214.9 200.1 211.5 199.4Z"/>
<path color="#92a5f3" d="M201.0 185.5 207.7 187.0 207.8 185.4 201.2 183.9Z"/>
<path color="#f2ae4d" d="M235.4 91.4 236.0 90.3 237.3 82.6 236.7 83.7Z"/>
<path color="#566bed" d="M218.5 210.9 220.0 211.2 220.2 208.6 218.6 208.2Z"/>
<path color="#e6e9fa" d="M219.6 152.2 220.7 151.6 222.0 146.1 220.9 147.2Z"/>
<path color="#5e71ee" d="M216.8 207.8 218.6 208.2 218.7 205.7 216.9 205.3Z"/>
<path color="#6577ef" d="M214.6 204.8 216.9 205.3 217.0 202.9 214.7 202.4Z"/>
<path color="#96a8f4" d="M201.2 183.9 207.8 185.4 207.9 183.9 201.3 182.4Z"/>
<path color="#7e90f2" d="M207.2 194.1 211.7 195.2 211.8 193.2 207.4 192.2Z"/>
<path color="#f8f8e4" d="M225.3 137.6 226.1 136.5 227.4 129.2 226.6 130.7Z"/>
<path color="#f6d153" d="M233.5 100.8 234.1 99.5 235.4 91.4 234.8 92.8Z"/>
<path color="#faf9bb" d="M227.4 129.2 228.2 127.9 229.5 120.1 228.7 121.7Z"/>
<path color="#f2aa4c" d="M236.0 90.3 236.5 89.6 237.8 81.8 237.3 82.6Z"/>
<path color="#f2f2f6" d="M223.0 145.1 223.9 144.2 225.3 137.6 224.4 138.9Z"/>
<path color="#fbf580" d="M229.5 120.1 230.2 118.6 231.5 110.5 230.8 112.2Z"/>
<path color="#f9ea61" d="M231.5 110.5 232.2 109.1 233.5 100.8 232.8 102.4Z"/>
<path color="#ccd5f8" d="M204.3 163.8 211.0 164.7 211.4 163.3 204.8 162.6Z"/>
<path color="#9aabf4" d="M201.3 182.4 207.9 183.9 208.1 182.4 201.4 181.0Z"/>
<path color="#7284f0" d="M211.5 199.4 214.9 200.1 215.0 198.0 211.6 197.2Z"/>
<path class="bl" d="M249.3 58.3 250.4 61.9"/>
<path color="#f1a84c" d="M236.5 89.6 237.0 89.2 238.3 81.4 237.8 81.8Z"/>
<path color="#e8ebfa" d="M220.7 151.6 221.7 150.9 223.0 145.1 222.0 146.1Z"/>
<path color="#8396f2" d="M207.4 192.2 211.8 193.2 211.9 191.4 207.5 190.4Z"/>
<path color="#5d71ee" d="M218.6 208.2 220.2 208.6 220.3 206.0 218.7 205.7Z"/>
<path color="#9eaef4" d="M201.4 181.0 208.1 182.4 208.2 181.1 201.5 179.6Z"/>
<path color="#f5cc51" d="M234.1 99.5 234.7 98.6 236.0 90.3 235.4 91.4Z"/>
<path color="#6b7ef0" d="M214.7 202.4 217.0 202.9 217.1 200.7 214.9 200.1Z"/>
<path color="#c9d2f8" d="M204.0 164.8 210.6 165.9 211.0 164.7 204.3 163.8Z"/>
<path color="#6577ef" d="M216.9 205.3 218.7 205.7 218.8 203.3 217.0 202.9Z"/>
<path color="#f1a64b" d="M237.0 89.2 237.5 89.2 238.8 81.3 238.3 81.4Z"/>
<path color="#f8f8de" d="M226.1 136.5 226.8 135.5 228.2 127.9 227.4 129.2Z"/>
<path color="#faf9b1" d="M228.2 127.9 228.9 126.8 230.2 118.6 229.5 120.1Z"/>
<path color="#a2b1f5" d="M201.5 179.6 208.2 181.1 208.3 179.8 201.7 178.3Z"/>
<path color="#f8e85e" d="M232.2 109.1 232.8 108.0 234.1 99.5 233.5 100.8Z"/>
<path color="#fbf476" d="M230.2 118.6 230.8 117.5 232.2 109.1 231.5 110.5Z"/>
<path color="#f3f4f4" d="M223.9 144.2 224.8 143.4 226.1 136.5 225.3 137.6Z"/>
<path color="#788af1" d="M211.6 197.2 215.0 198.0 215.1 196.0 211.7 195.2Z"/>
<path color="#889bf2" d="M207.5 190.4 211.9 191.4 212.1 189.6 207.6 188.6Z"/>
<path color="#c6cff8" d="M203.7 165.8 210.4 166.9 210.6 165.9 204.0 164.8Z"/>
<path color="#a6b4f5" d="M201.7 178.3 208.3 179.8 208.4 178.5 201.8 177.1Z"/>
<path color="#f5c950" d="M234.7 98.6 235.2 98.0 236.5 89.6 236.0 90.3Z"/>
<path color="#d4dbf8" d="M212.0 161.6 216.5 161.6 217.4 158.5 212.9 159.2Z"/>
<path color="#eaecfa" d="M221.7 150.9 222.6 150.3 223.9 144.2 223.0 145.1Z"/>
<path color="#a9b7f5" d="M201.8 177.1 208.4 178.5 208.6 177.3 201.9 175.9Z"/>
<path color="#c4cdf8" d="M203.5 166.8 210.1 168.0 210.4 166.9 203.7 165.8Z"/>
<path color="#6477ef" d="M218.7 205.7 220.3 206.0 220.4 203.7 218.8 203.3Z"/>
<path color="#7284f0" d="M214.9 200.1 217.1 200.7 217.2 198.5 215.0 198.0Z"/>
<path color="#f8e65b" d="M232.8 108.0 233.3 107.2 234.7 98.6 234.1 99.5Z"/>
<path color="#acb9f5" d="M201.9 175.9 208.6 177.3 208.7 176.2 202.1 174.8Z"/>
<path color="#f5c750" d="M235.2 98.0 235.7 97.7 237.0 89.2 236.5 89.6Z"/>
<path color="#8da0f3" d="M207.6 188.6 212.1 189.6 212.2 188.0 207.7 187.0Z"/>
<path color="#c1cbf8" d="M203.2 167.8 209.9 169.0 210.1 168.0 203.5 166.8Z"/>
<path color="#6b7ef0" d="M217.0 202.9 218.8 203.3 218.9 201.1 217.1 200.7Z"/>
<path color="#f8f8d9" d="M226.8 135.5 227.5 134.6 228.9 126.8 228.2 127.9Z"/>
<path color="#faf9a9" d="M228.9 126.8 229.5 125.9 230.8 117.5 230.2 118.6Z"/>
<path color="#faf270" d="M230.8 117.5 231.5 116.6 232.8 108.0 232.2 109.1Z"/>
<path color="#7d90f2" d="M211.7 195.2 215.1 196.0 215.2 194.0 211.8 193.2Z"/>
<path color="#afbcf6" d="M202.1 174.8 208.7 176.2 208.9 175.1 202.2 173.7Z"/>
<path color="#f4f5f2" d="M224.8 143.4 225.5 142.7 226.8 135.5 226.1 136.5Z"/>
<path color="#bfc8f8" d="M203.0 168.7 209.7 170.0 209.9 169.0 203.2 167.8Z"/>
<path color="#b2bef6" d="M202.2 173.7 208.9 175.1 209.0 174.0 202.3 172.6Z"/>
<path color="#bcc6f7" d="M202.8 169.7 209.5 170.9 209.7 170.0 203.0 168.7Z"/>
<path color="#b5c0f6" d="M202.3 172.6 209.0 174.0 209.2 173.0 202.5 171.6Z"/>
<path color="#f5c550" d="M235.7 97.7 236.2 97.6 237.5 89.2 237.0 89.2Z"/>
<path color="#bac4f7" d="M202.7 170.6 209.3 171.9 209.5 170.9 202.8 169.7Z"/>
<path color="#b7c2f7" d="M202.5 171.6 209.2 173.0 209.3 171.9 202.7 170.6Z"/>
<path color="#dde3fa" d="M217.4 158.5 220.7 157.8 222.5 150.4 219.1 152.5Z"/>
<path color="#f8e459" d="M233.3 107.2 233.9 106.7 235.2 98.0 234.7 98.6Z"/>
<path color="#eceefa" d="M222.6 150.3 223.4 149.8 224.8 143.4 223.9 144.2Z"/>
<path color="#92a4f3" d="M207.7 187.0 212.2 188.0 212.3 186.4 207.8 185.4Z"/>
<path color="#faf16e" d="M231.5 116.6 232.0 116.0 233.3 107.2 232.8 108.0Z"/>
<path color="#788af1" d="M215.0 198.0 217.2 198.5 217.3 196.5 215.1 196.0Z"/>
<path color="#fbf9a2" d="M229.5 125.9 230.1 125.2 231.5 116.6 230.8 117.5Z"/>
<path color="#8395f2" d="M211.8 193.2 215.2 194.0 215.3 192.2 211.9 191.4Z"/>
<path color="#f8f8d5" d="M227.5 134.6 228.2 134.0 229.5 125.9 228.9 126.8Z"/>
<path color="#d1d9f8" d="M211.4 163.3 215.9 163.6 216.5 161.6 212.0 161.6Z"/>
<path color="#6b7ef0" d="M218.8 203.3 220.4 203.7 220.5 201.4 218.9 201.1Z"/>
<path color="#f5f5f1" d="M225.5 142.7 226.2 142.1 227.5 134.6 226.8 135.5Z"/>
<path color="#7184f0" d="M217.1 200.7 218.9 201.1 219.0 198.9 217.2 198.5Z"/>
<path color="#f8e359" d="M233.9 106.7 234.4 106.5 235.7 97.7 235.2 98.0Z"/>
<path color="#96a8f4" d="M207.8 185.4 212.3 186.4 212.4 184.9 207.9 183.9Z"/>
<path color="#edeffb" d="M223.4 149.8 224.2 149.4 225.5 142.7 224.8 143.4Z"/>
<path color="#faf06c" d="M232.0 116.0 232.5 115.6 233.9 106.7 233.3 107.2Z"/>
<path color="#f7e259" d="M234.4 106.5 234.8 106.4 236.2 97.6 235.7 97.7Z"/>
<path color="#fbf89d" d="M230.1 125.2 230.7 124.7 232.0 116.0 231.5 116.6Z"/>
<path color="#889af2" d="M211.9 191.4 215.3 192.2 215.4 190.5 212.1 189.6Z"/>
<path color="#9aabf4" d="M207.9 183.9 212.4 184.9 212.5 183.5 208.1 182.4Z"/>
<path color="#f9f9d2" d="M228.2 134.0 228.8 133.4 230.1 125.2 229.5 125.9Z"/>
<path color="#7d90f2" d="M215.1 196.0 217.3 196.5 217.5 194.6 215.2 194.0Z"/>
<path color="#f6f6f0" d="M226.2 142.1 226.8 141.6 228.2 134.0 227.5 134.6Z"/>
<path color="#cdd6f8" d="M211.0 164.7 215.4 165.1 215.9 163.6 211.4 163.3Z"/>
<path color="#faf06b" d="M232.5 115.6 233.0 115.4 234.4 106.5 233.9 106.7Z"/>
<path color="#778af1" d="M217.2 198.5 219.0 198.9 219.2 196.9 217.3 196.5Z"/>
<path color="#7184f0" d="M218.9 201.1 220.5 201.4 220.6 199.3 219.0 198.9Z"/>
<path color="#9eaef4" d="M208.1 182.4 212.5 183.5 212.7 182.1 208.2 181.1Z"/>
<path color="#fbf899" d="M230.7 124.7 231.2 124.4 232.5 115.6 232.0 116.0Z"/>
<path color="#eff0fa" d="M224.2 149.4 224.9 149.0 226.2 142.1 225.5 142.7Z"/>
<path color="#f9f9cf" d="M228.8 133.4 229.3 133.1 230.7 124.7 230.1 125.2Z"/>
<path color="#faef6b" d="M233.0 115.4 233.5 115.4 234.8 106.4 234.4 106.5Z"/>
<path color="#8d9ff3" d="M212.1 189.6 215.4 190.5 215.5 188.8 212.2 188.0Z"/>
<path color="#a2b1f4" d="M208.2 181.1 212.7 182.1 212.8 180.8 208.3 179.8Z"/>
<path color="#f7f7ef" d="M226.8 141.6 227.4 141.3 228.8 133.4 228.2 134.0Z"/>
<path color="#cad3f8" d="M210.6 165.9 215.1 166.4 215.4 165.1 211.0 164.7Z"/>
<path color="#8295f2" d="M215.2 194.0 217.5 194.6 217.6 192.7 215.3 192.2Z"/>
<path color="#d6ddf9" d="M216.5 161.6 219.8 161.3 220.7 157.8 217.4 158.5Z"/>
<path color="#fbf897" d="M231.2 124.4 231.7 124.2 233.0 115.4 232.5 115.6Z"/>
<path color="#a5b4f5" d="M208.3 179.8 212.8 180.8 212.9 179.5 208.4 178.5Z"/>
<path color="#f9f9cd" d="M229.3 133.1 229.9 132.9 231.2 124.4 230.7 124.7Z"/>
<path color="#eff0fa" d="M224.9 149.0 225.5 148.8 226.8 141.6 226.2 142.1Z"/>
<path color="#7d90f2" d="M217.3 196.5 219.2 196.9 219.3 195.0 217.5 194.6Z"/>
<path color="#91a4f3" d="M212.2 188.0 215.5 188.8 215.7 187.2 212.3 186.4Z"/>
<path color="#c7d0f8" d="M210.4 166.9 214.8 167.6 215.1 166.4 210.6 165.9Z"/>
<path color="#fbf896" d="M231.7 124.2 232.2 124.2 233.5 115.4 233.0 115.4Z"/>
<path color="#778af1" d="M219.0 198.9 220.6 199.3 220.7 197.2 219.2 196.9Z"/>
<path color="#e0e5fa" d="M220.7 157.8 223.0 157.3 224.8 149.1 222.5 150.4Z"/>
<path color="#f7f7ed" d="M227.4 141.3 228.0 141.0 229.3 133.1 228.8 133.4Z"/>
<path color="#a8b6f5" d="M208.4 178.5 212.9 179.5 213.0 178.3 208.6 177.3Z"/>
<path color="#879af2" d="M215.3 192.2 217.6 192.7 217.7 191.0 215.4 190.5Z"/>
<path color="#f9f9cc" d="M229.9 132.9 230.4 132.8 231.7 124.2 231.2 124.4Z"/>
<path color="#c4cdf8" d="M210.1 168.0 214.6 168.7 214.8 167.6 210.4 166.9Z"/>
<path color="#acb9f5" d="M208.6 177.3 213.0 178.3 213.2 177.2 208.7 176.2Z"/>
<path color="#95a7f4" d="M212.3 186.4 215.7 187.2 215.8 185.7 212.4 184.9Z"/>
<path color="#f0f1f9" d="M225.5 148.8 226.1 148.5 227.4 141.3 226.8 141.6Z"/>
<path color="#afbbf6" d="M208.7 176.2 213.2 177.2 213.3 176.0 208.9 175.1Z"/>
<path color="#c1cbf8" d="M209.9 169.0 214.3 169.8 214.6 168.7 210.1 168.0Z"/>
<path color="#f7f7ec" d="M228.0 141.0 228.5 140.9 229.9 132.9 229.3 133.1Z"/>
<path color="#f9f9cb" d="M230.4 132.8 230.8 132.8 232.2 124.2 231.7 124.2Z"/>
<path color="#b2bef6" d="M208.9 175.1 213.3 176.0 213.5 175.0 209.0 174.0Z"/>
<path color="#bfc8f8" d="M209.7 170.0 214.1 170.8 214.3 169.8 209.9 169.0Z"/>
<path color="#8295f2" d="M217.5 194.6 219.3 195.0 219.4 193.1 217.6 192.7Z"/>
<path color="#b4c0f6" d="M209.0 174.0 213.5 175.0 213.6 173.9 209.2 173.0Z"/>
<path color="#d2daf8" d="M215.9 163.6 219.2 163.6 219.8 161.3 216.5 161.6Z"/>
<path color="#bcc6f7" d="M209.5 170.9 214.0 171.8 214.1 170.8 209.7 170.0Z"/>
<path color="#b7c2f7" d="M209.2 173.0 213.6 173.9 213.8 172.9 209.3 171.9Z"/>
<path color="#bac4f7" d="M209.3 171.9 213.8 172.9 214.0 171.8 209.5 170.9Z"/>
<path color="#7d8ff2" d="M219.2 196.9 220.7 197.2 220.9 195.3 219.3 195.0Z"/>
<path color="#8c9ff3" d="M215.4 190.5 217.7 191.0 217.8 189.3 215.5 188.8Z"/>
<path color="#9aabf4" d="M212.4 184.9 215.8 185.7 215.9 184.3 212.5 183.5Z"/>
<path color="#f7f7eb" d="M228.5 140.9 229.0 140.9 230.4 132.8 229.9 132.9Z"/>
<path color="#f0f1f8" d="M226.1 148.5 226.7 148.4 228.0 141.0 227.4 141.3Z"/>
<path class="bl" d="M248.3 55.9 249.3 58.3"/>
<path color="#f7f7eb" d="M229.0 140.9 229.5 140.9 230.8 132.8 230.4 132.8Z"/>
<path color="#9daef4" d="M212.5 183.5 215.9 184.3 216.0 182.9 212.7 182.1Z"/>
<path color="#f0f1f8" d="M226.7 148.4 227.2 148.3 228.5 140.9 228.0 141.0Z"/>
<path color="#879af2" d="M217.6 192.7 219.4 193.1 219.5 191.4 217.7 191.0Z"/>
<path color="#91a3f3" d="M215.5 188.8 217.8 189.3 217.9 187.8 215.7 187.2Z"/>
<path color="#cfd7f8" d="M215.4 165.1 218.8 165.4 219.2 163.6 215.9 163.6Z"/>
<path color="#8295f2" d="M219.3 195.0 220.9 195.3 221.0 193.5 219.4 193.1Z"/>
<path color="#d7def9" d="M219.8 161.3 222.1 161.2 223.0 157.3 220.7 157.8Z"/>
<path color="#a1b1f4" d="M212.7 182.1 216.0 182.9 216.2 181.6 212.8 180.8Z"/>
<path color="#e2e7fa" d="M223.0 157.3 224.8 157.2 226.6 148.4 224.8 149.1Z"/>
<path color="#f0f1f8" d="M227.2 148.3 227.7 148.3 229.0 140.9 228.5 140.9Z"/>
<path color="#95a7f3" d="M215.7 187.2 217.9 187.8 218.0 186.3 215.8 185.7Z"/>
<path color="#cbd4f8" d="M215.1 166.4 218.5 166.8 218.8 165.4 215.4 165.1Z"/>
<path color="#8c9ff3" d="M217.7 191.0 219.5 191.4 219.6 189.7 217.8 189.3Z"/>
<path color="#a5b3f5" d="M212.8 180.8 216.2 181.6 216.3 180.3 212.9 179.5Z"/>
<path color="#f1f1f8" d="M227.7 148.3 228.1 148.4 229.5 140.9 229.0 140.9Z"/>
<path color="#a8b6f5" d="M212.9 179.5 216.3 180.3 216.4 179.1 213.0 178.3Z"/>
<path color="#879af2" d="M219.4 193.1 221.0 193.5 221.1 191.7 219.5 191.4Z"/>
<path color="#c8d0f8" d="M214.8 167.6 218.2 168.1 218.5 166.8 215.1 166.4Z"/>
<path color="#99aaf4" d="M215.8 185.7 218.0 186.3 218.2 184.8 215.9 184.3Z"/>
<path color="#abb9f5" d="M213.0 178.3 216.4 179.1 216.6 178.0 213.2 177.2Z"/>
<path color="#91a3f3" d="M217.8 189.3 219.6 189.7 219.7 188.2 217.9 187.8Z"/>
<path color="#c5cef8" d="M214.6 168.7 217.9 169.3 218.2 168.1 214.8 167.6Z"/>
<path color="#d3dbf8" d="M219.2 163.6 221.5 163.7 222.1 161.2 219.8 161.3Z"/>
<path color="#aebbf6" d="M213.2 177.2 216.6 178.0 216.7 176.8 213.3 176.0Z"/>
<path color="#c2cbf8" d="M214.3 169.8 217.7 170.4 217.9 169.3 214.6 168.7Z"/>
<path color="#b1bdf6" d="M213.3 176.0 216.7 176.8 216.8 175.7 213.5 175.0Z"/>
<path color="#9dadf4" d="M215.9 184.3 218.2 184.8 218.3 183.4 216.0 182.9Z"/>
<path color="#e3e7fa" d="M224.8 157.2 226.4 157.3 228.1 148.4 226.6 148.4Z"/>
<path color="#8c9ff3" d="M219.5 191.4 221.1 191.7 221.2 190.1 219.6 189.7Z"/>
<path color="#bfc8f8" d="M214.1 170.8 217.5 171.5 217.7 170.4 214.3 169.8Z"/>
<path color="#b4c0f6" d="M213.5 175.0 216.8 175.7 217.0 174.6 213.6 173.9Z"/>
<path color="#bcc6f7" d="M214.0 171.8 217.3 172.5 217.5 171.5 214.1 170.8Z"/>
<path color="#b7c2f7" d="M213.6 173.9 217.0 174.6 217.2 173.6 213.8 172.9Z"/>
<path color="#b9c4f7" d="M213.8 172.9 217.2 173.6 217.3 172.5 214.0 171.8Z"/>
<path color="#95a7f3" d="M217.9 187.8 219.7 188.2 219.9 186.7 218.0 186.3Z"/>
<path color="#d8dff9" d="M222.1 161.2 223.9 161.3 224.8 157.2 223.0 157.3Z"/>
<path color="#a1b0f4" d="M216.0 182.9 218.3 183.4 218.4 182.1 216.2 181.6Z"/>
<path color="#d0d8f8" d="M218.8 165.4 221.1 165.6 221.5 163.7 219.2 163.6Z"/>
<path color="#90a3f3" d="M219.6 189.7 221.2 190.1 221.3 188.5 219.7 188.2Z"/>
<path color="#a4b3f5" d="M216.2 181.6 218.4 182.1 218.5 180.9 216.3 180.3Z"/>
<path color="#99aaf4" d="M218.0 186.3 219.9 186.7 220.0 185.2 218.2 184.8Z"/>
<path color="#ccd4f8" d="M218.5 166.8 220.7 167.1 221.1 165.6 218.8 165.4Z"/>
<path color="#a8b6f5" d="M216.3 180.3 218.5 180.9 218.7 179.6 216.4 179.1Z"/>
<path color="#d3dbf8" d="M221.5 163.7 223.3 163.9 223.9 161.3 222.1 161.2Z"/>
<path color="#9dadf4" d="M218.2 184.8 220.0 185.2 220.1 183.8 218.3 183.4Z"/>
<path color="#95a7f3" d="M219.7 188.2 221.3 188.5 221.4 187.0 219.9 186.7Z"/>
<path color="#c8d1f8" d="M218.2 168.1 220.4 168.4 220.7 167.1 218.5 166.8Z"/>
<path color="#abb8f5" d="M216.4 179.1 218.7 179.6 218.8 178.5 216.6 178.0Z"/>
<path color="#d9dff9" d="M223.9 161.3 225.5 161.5 226.4 157.3 224.8 157.2Z"/>
<path color="#aebbf6" d="M216.6 178.0 218.8 178.5 219.0 177.3 216.7 176.8Z"/>
<path color="#c5cef8" d="M217.9 169.3 220.2 169.6 220.4 168.4 218.2 168.1Z"/>
<path color="#a0b0f4" d="M218.3 183.4 220.1 183.8 220.2 182.5 218.4 182.1Z"/>
<path color="#b1bdf6" d="M216.7 176.8 219.0 177.3 219.1 176.2 216.8 175.7Z"/>
<path color="#c2cbf8" d="M217.7 170.4 220.0 170.8 220.2 169.6 217.9 169.3Z"/>
<path color="#99aaf4" d="M219.9 186.7 221.4 187.0 221.6 185.5 220.0 185.2Z"/>
<path color="#b4c0f6" d="M216.8 175.7 219.1 176.2 219.3 175.1 217.0 174.6Z"/>
<path color="#d0d9f8" d="M221.1 165.6 222.9 165.8 223.3 163.9 221.5 163.7Z"/>
<path color="#bfc8f8" d="M217.5 171.5 219.8 171.9 220.0 170.8 217.7 170.4Z"/>
<path color="#b7c2f7" d="M217.0 174.6 219.3 175.1 219.4 174.0 217.2 173.6Z"/>
<path color="#bcc6f7" d="M217.3 172.5 219.6 173.0 219.8 171.9 217.5 171.5Z"/>
<path color="#b9c4f7" d="M217.2 173.6 219.4 174.0 219.6 173.0 217.3 172.5Z"/>
<path color="#a4b3f5" d="M218.4 182.1 220.2 182.5 220.4 181.3 218.5 180.9Z"/>
<path color="#9dadf4" d="M220.0 185.2 221.6 185.5 221.7 184.2 220.1 183.8Z"/>
<path color="#a7b6f5" d="M218.5 180.9 220.4 181.3 220.5 180.0 218.7 179.6Z"/>
<path color="#ccd5f8" d="M220.7 167.1 222.5 167.3 222.9 165.8 221.1 165.6Z"/>
<path color="#d4dbf8" d="M223.3 163.9 224.9 164.1 225.5 161.5 223.9 161.3Z"/>
<path color="#abb8f5" d="M218.7 179.6 220.5 180.0 220.6 178.9 218.8 178.5Z"/>
<path color="#c8d1f8" d="M220.4 168.4 222.2 168.7 222.5 167.3 220.7 167.1Z"/>
<path color="#a0b0f4" d="M220.1 183.8 221.7 184.2 221.8 182.9 220.2 182.5Z"/>
<path color="#aebbf6" d="M218.8 178.5 220.6 178.9 220.8 177.7 219.0 177.3Z"/>
<path color="#c5cef8" d="M220.2 169.6 222.0 170.0 222.2 168.7 220.4 168.4Z"/>
<path color="#b1bdf6" d="M219.0 177.3 220.8 177.7 220.9 176.6 219.1 176.2Z"/>
<path color="#d0d9f8" d="M222.9 165.8 224.5 166.0 224.9 164.1 223.3 163.9Z"/>
<path color="#a4b3f5" d="M220.2 182.5 221.8 182.9 221.9 181.6 220.4 181.3Z"/>
<path color="#c2cbf8" d="M220.0 170.8 221.8 171.1 222.0 170.0 220.2 169.6Z"/>
<path color="#b4bff6" d="M219.1 176.2 220.9 176.6 221.1 175.5 219.3 175.1Z"/>
<path color="#bfc8f8" d="M219.8 171.9 221.6 172.2 221.8 171.1 220.0 170.8Z"/>
<path color="#b6c2f7" d="M219.3 175.1 221.1 175.5 221.2 174.4 219.4 174.0Z"/>
<path color="#bcc6f7" d="M219.6 173.0 221.4 173.3 221.6 172.2 219.8 171.9Z"/>
<path color="#b9c4f7" d="M219.4 174.0 221.2 174.4 221.4 173.3 219.6 173.0Z"/>
<path color="#a7b5f5" d="M220.4 181.3 221.9 181.6 222.1 180.4 220.5 180.0Z"/>
<path color="#ccd5f8" d="M222.5 167.3 224.1 167.6 224.5 166.0 222.9 165.8Z"/>
<path color="#aab8f5" d="M220.5 180.0 222.1 180.4 222.2 179.2 220.6 178.9Z"/>
<path class="bl" d="M247.2 54.6 248.3 55.9"/>
<path color="#c8d1f8" d="M222.2 168.7 223.8 169.0 224.1 167.6 222.5 167.3Z"/>
<path color="#aebbf6" d="M220.6 178.9 222.2 179.2 222.3 178.0 220.8 177.7Z"/>
<path color="#c5cef8" d="M222.0 170.0 223.6 170.2 223.8 169.0 222.2 168.7Z"/>
<path color="#b1bdf6" d="M220.8 177.7 222.3 178.0 222.5 176.9 220.9 176.6Z"/>
<path color="#c2cbf8" d="M221.8 171.1 223.4 171.4 223.6 170.2 222.0 170.0Z"/>
<path color="#b4bff6" d="M220.9 176.6 222.5 176.9 222.6 175.8 221.1 175.5Z"/>
<path color="#bfc8f8" d="M221.6 172.2 223.2 172.5 223.4 171.4 221.8 171.1Z"/>
<path color="#b6c2f7" d="M221.1 175.5 222.6 175.8 222.8 174.7 221.2 174.4Z"/>
<path color="#b9c4f7" d="M221.2 174.4 222.8 174.7 223.0 173.6 221.4 173.3Z"/>
<path color="#bcc6f7" d="M221.4 173.3 223.0 173.6 223.2 172.5 221.6 172.2Z"/>
<path class="bl" d="M186.5 212.9 199.6 215.7M246.1 54.7 247.2 54.6M244.9 56.1 246.1 54.7M199.6 215.7 206.2 217.2M206.2 217.2 210.7 218.2M243.8 58.8 244.9 56.1M210.7 218.2 214.0 218.9M242.6 62.7 243.8 58.8M214.0 218.9 216.3 219.4M216.3 219.4 218.1 219.8M218.1 219.8 219.7 220.1M241.3 67.9 242.6 62.7M219.7 220.1 219.8 217.0M219.8 217.0 219.9 214.0M240.1 74.1 241.3 67.9M219.9 214.0 220.0 211.2M238.8 81.3 240.1 74.1M220.0 211.2 220.2 208.6M220.2 208.6 220.3 206.0M237.5 89.2 238.8 81.3M220.3 206.0 220.4 203.7M236.2 97.6 237.5 89.2M220.4 203.7 220.5 201.4M234.8 106.4 236.2 97.6M233.5 115.4 234.8 106.4M220.5 201.4 220.6 199.3M232.2 124.2 233.5 115.4M220.6 199.3 220.7 197.2M230.8 132.8 232.2 124.2M220.7 197.2 220.9 195.3M229.5 140.9 230.8 132.8M220.9 195.3 221.0 193.5M228.1 148.4 229.5 140.9M221.0 193.5 221.1 191.7M221.1 191.7 221.2 190.1M226.4 157.3 228.1 148.4M221.2 190.1 221.3 188.5M221.3 188.5 221.4 187.0M225.5 161.5 226.4 157.3M221.4 187.0 221.6 185.5M221.6 185.5 221.7 184.2M224.9 164.1 225.5 161.5M221.7 184.2 221.8 182.9M224.5 166.0 224.9 164.1M221.8 182.9 221.9 181.6M221.9 181.6 222.1 180.4M224.1 167.6 224.5 166.0M222.1 180.4 222.2 179.2M223.8 169.0 224.1 167.6M222.2 179.2 222.3 178.0M223.6 170.2 223.8 169.0M222.3 178.0 222.5 176.9M223.4 171.4 223.6 170.2M222.5 176.9 222.6 175.8M222.6 175.8 222.8 174.7M223.2 172.5 223.4 171.4M222.8 174.7 223.0 173.6M223.0 173.6 223.2 172.5"/>
</g>
<path d="M131.2,12.8L131.6,119.6M131.6,119.6L294.1,145.5M23.1,177.3L131.6,119.6" stroke="#8890b0" stroke-width="0.5" fill="none" opacity="0.4"/>
<path d="M20.0,42.4L131.2,12.8M131.2,12.8L297.2,26.6M297.2,26.6L221.7,65.3M221.7,65.3L20.0,42.4M297.2,26.6L294.1,145.5M221.7,65.3L219.7,220.1M219.7,220.1L294.1,145.5M20.0,42.4L23.1,177.3" stroke="#bdbdbd" stroke-width="0.7" fill="none"/>
<path d="M23.1,177.3h-3.0M22.9,169.6h-1.7M22.8,161.9h-1.7M22.6,154.1h-1.7M22.4,146.3h-3.0M22.2,138.6h-1.7M22.0,130.7h-1.7M21.9,122.9h-1.7M21.7,115.0h-3.0M21.5,107.1h-1.7M21.3,99.2h-1.7M21.1,91.3h-1.7M20.9,83.3h-3.0M20.8,75.4h-1.7M20.6,67.3h-1.7M20.4,59.3h-1.7M20.2,51.3h-3.0M20.0,43.2h-1.7M20.0,42.4l0.4,3.0M31.0,39.5l0.3,1.7M41.6,36.6l0.3,1.7M51.7,33.9l0.3,1.7M61.4,31.4l0.3,1.7M70.8,28.9l0.4,3.0M79.7,26.5l0.3,1.7M88.4,24.2l0.3,1.7M96.7,22.0l0.3,1.7M104.7,19.8l0.3,1.7M112.4,17.8l0.4,3.0M119.8,15.8l0.3,1.7M127.0,13.9l0.3,1.7M23.1,177.3l0,3.0M40.4,181.1l0,1.7M58.2,185.0l0,3.0M76.4,188.9l0,1.7M95.2,193.0l0,3.0M114.4,197.2l0,1.7M134.3,201.5l0,3.0M154.7,206.0l0,1.7M175.7,210.5l0,3.0M197.4,215.3l0,1.7M219.7,220.1l0,3.0" stroke="#999" stroke-width="0.6" fill="none"/>
<g font-family="Liberation Serif" fill="#222">
<text x="18.6" y="176.5" font-size="8.5" text-anchor="end">4.20</text>
<text x="18.6" y="145.6" font-size="8.5" text-anchor="end">4.22</text>
<text x="18.6" y="115.2" font-size="8.5" text-anchor="end">4.24</text>
<text x="18.6" y="84.3" font-size="8.5" text-anchor="end">4.26</text>
<text x="18.6" y="53" font-size="8.5" text-anchor="end">4.28</text>
<text x="19.9" y="34.9" font-size="8.5" text-anchor="middle">0</text>
<text x="70.3" y="20.8" font-size="8.5" text-anchor="middle">5</text>
<text x="112.7" y="10.8" font-size="8.5" text-anchor="middle">10</text>
<text x="57.3" y="198.1" font-size="8.5" text-anchor="middle">20</text>
<text x="94.2" y="206.5" font-size="8.5" text-anchor="middle">40</text>
<text x="133" y="215.3" font-size="8.5" text-anchor="middle">60</text>
<text x="174.8" y="224.4" font-size="8.5" text-anchor="middle">80</text>
<text x="220.3" y="235" font-size="8.5" text-anchor="middle">100</text>
<text x="47.8" y="12" font-size="12.5"><tspan font-style="italic">t</tspan><tspan dx="8">(ns)</tspan></text>
<text x="96" y="236.3" font-size="13.2"><tspan font-style="italic">x</tspan><tspan dx="7">(</tspan><tspan font-style="italic">μ</tspan><tspan>m)</tspan></text>
<text x="230" y="201.8" font-size="14.4"><tspan font-style="italic">H</tspan><tspan font-size="10.5" dy="2.4" font-style="italic">max</tspan><tspan dy="-2.4"> = 2</tspan></text>
<text x="230" y="219.4" font-size="14.4"><tspan font-style="italic">ω</tspan><tspan font-size="9.8" dy="2.6">dr</tspan><tspan dy="-2.6"> = 0.5 GHz</tspan></text>
</g>
<text x="0.5" y="15.9" font-family="Liberation Sans" font-weight="bold" font-size="20.5">a</text>
<defs><linearGradient id="gca" x1="0" y1="0" x2="0" y2="1"><stop offset="0.000" stop-color="#c82832"/><stop offset="0.052" stop-color="#d7412d"/><stop offset="0.098" stop-color="#e15f32"/><stop offset="0.143" stop-color="#e87d37"/><stop offset="0.195" stop-color="#eea03c"/><stop offset="0.247" stop-color="#f2c341"/><stop offset="0.300" stop-color="#f5e14b"/><stop offset="0.365" stop-color="#f8f064"/><stop offset="0.410" stop-color="#f8f696"/><stop offset="0.456" stop-color="#f6f6c8"/><stop offset="0.508" stop-color="#f4f4eb"/><stop offset="0.560" stop-color="#ebecf8"/><stop offset="0.612" stop-color="#d9dff7"/><stop offset="0.664" stop-color="#cad3f5"/><stop offset="0.697" stop-color="#b9c3f5"/><stop offset="0.749" stop-color="#a0aff2"/><stop offset="0.801" stop-color="#879bf0"/><stop offset="0.853" stop-color="#6e82ee"/><stop offset="0.905" stop-color="#5569eb"/><stop offset="0.957" stop-color="#3c55e8"/><stop offset="1.000" stop-color="#2a41e6"/></linearGradient></defs>
<rect x="300.6" y="17.3" width="33.7" height="187.7" rx="3" fill="#fff" stroke="#9a9a9a" stroke-width="0.9"/>
<text x="303.8" y="30.9" font-size="12" font-family="Liberation Serif" fill="#222"><tspan font-style="italic">T</tspan><tspan font-size="8.4" dy="3">2</tspan><tspan dy="-3"> (K)</tspan></text>
<rect x="307.3" y="40" width="5.3" height="153.6" fill="url(#gca)"/>
<g font-family="Liberation Serif" fill="#222">
<text x="315" y="51.95" font-size="8.5">4.28</text>
<text x="315" y="88.35" font-size="8.5">4.26</text>
<text x="315" y="124.05" font-size="8.5">4.24</text>
<text x="315" y="161.45" font-size="8.5">4.22</text>
<text x="315" y="197.15" font-size="8.5">4.20</text>
</g>
<defs><linearGradient id="gb" gradientUnits="userSpaceOnUse" x1="0" y1="259.07" x2="0" y2="447.8"><stop offset="0.000" stop-color="#821432"/><stop offset="0.056" stop-color="#a02d41"/><stop offset="0.108" stop-color="#b4414b"/><stop offset="0.160" stop-color="#c35a5a"/><stop offset="0.212" stop-color="#d07d6e"/><stop offset="0.264" stop-color="#dca08a"/><stop offset="0.294" stop-color="#e2b298"/><stop offset="0.342" stop-color="#e6c0a5"/><stop offset="0.394" stop-color="#e8cdb4"/><stop offset="0.446" stop-color="#e7d8c4"/><stop offset="0.498" stop-color="#e2e2d4"/><stop offset="0.550" stop-color="#d2e2de"/><stop offset="0.602" stop-color="#b9dce4"/><stop offset="0.640" stop-color="#aad2eb"/><stop offset="0.690" stop-color="#96beeb"/><stop offset="0.742" stop-color="#7da5e8"/><stop offset="0.794" stop-color="#6487e4"/><stop offset="0.846" stop-color="#5069de"/><stop offset="0.898" stop-color="#3c4bd7"/><stop offset="0.950" stop-color="#2d32cd"/><stop offset="1.000" stop-color="#201ebe"/></linearGradient>
<linearGradient id="gbd" gradientUnits="userSpaceOnUse" x1="0" y1="259.07" x2="0" y2="447.8"><stop offset="0.000" stop-color="#39101b"/><stop offset="0.056" stop-color="#451921"/><stop offset="0.108" stop-color="#4c2124"/><stop offset="0.160" stop-color="#522a2a"/><stop offset="0.212" stop-color="#573832"/><stop offset="0.264" stop-color="#5c453c"/><stop offset="0.294" stop-color="#5e4c42"/><stop offset="0.342" stop-color="#5f5147"/><stop offset="0.394" stop-color="#60564c"/><stop offset="0.446" stop-color="#605a52"/><stop offset="0.498" stop-color="#5e5e59"/><stop offset="0.550" stop-color="#585e5c"/><stop offset="0.602" stop-color="#4e5c5f"/><stop offset="0.640" stop-color="#495861"/><stop offset="0.690" stop-color="#415061"/><stop offset="0.742" stop-color="#384760"/><stop offset="0.794" stop-color="#2e3b5f"/><stop offset="0.846" stop-color="#26305c"/><stop offset="0.898" stop-color="#1f245a"/><stop offset="0.950" stop-color="#191b56"/><stop offset="1.000" stop-color="#141350"/></linearGradient>
<linearGradient id="garrow" x1="0" y1="1" x2="0" y2="0"><stop offset="0" stop-color="#7b8ee0"/><stop offset="1" stop-color="#b04a6a"/></linearGradient></defs>
<g fill="none" stroke-linejoin="round" stroke-linecap="butt">
<path d="M39.2 447.8L39.6 439.5L40.4 426.4L41.3 416.9L42.2 409.5L43.2 403.7L44.2 399.3L45 396.8L45.9 394.8L46.7 393.2L47.5 392L49.2 390L51.3 388.2L53.3 386.7L59.2 382.7L62.5 380.4L65.9 377.8L68.8 375.3L71.8 372.6L74.8 369.8L77.7 366.7L81.7 362.3L84.7 358.8L87.6 355.2L94.5 346.2L101.4 336.6L117.3 314.2L121.2 308.8L125.2 303.6L129.1 298.5L132.1 294.9L136 290.4L139 287.2L142.9 283.2L145.9 280.6L149.9 277.4L152.8 275.3L154.8 274L156.8 272.9L159.7 271.5L162.7 270.3L165.7 269.5L167.6 269.1L169.6 268.8L171.6 268.7L173.6 268.7L175.6 268.8L177.5 269.1L179.5 269.5L182.5 270.4L184.4 271.1L186.4 272L188.4 273L191.4 274.7L195.3 277.5L197.3 279L200.3 281.5L204.2 285.3L209.1 290.5L213.1 295L218 301.1L222 306.3L226.9 313L244.7 338.2L251.6 347.6L255.6 352.8L258.6 356.5L262.5 361.2L265.5 364.5L269.4 368.6L273.4 372.3L277.3 375.6L280.3 377.8L282.3 379.1L284.2 380.3L286.2 381.4L288.2 382.3L290.2 383.1L292.1 383.8L295.1 384.5" stroke="url(#gbd)" stroke-width="4.4"/>
<path d="M39.2 447.8L39.6 439.5L40.4 426.4L41.3 416.9L42.2 409.5L43.2 403.7L44.2 399.3L45 396.8L45.9 394.8L46.7 393.2L47.5 392L49.2 390L51.3 388.2L53.3 386.7L59.2 382.7L62.5 380.4L65.9 377.8L68.8 375.3L71.8 372.6L74.8 369.8L77.7 366.7L81.7 362.3L84.7 358.8L87.6 355.2L94.5 346.2L101.4 336.6L117.3 314.2L121.2 308.8L125.2 303.6L129.1 298.5L132.1 294.9L136 290.4L139 287.2L142.9 283.2L145.9 280.6L149.9 277.4L152.8 275.3L154.8 274L156.8 272.9L159.7 271.5L162.7 270.3L165.7 269.5L167.6 269.1L169.6 268.8L171.6 268.7L173.6 268.7L175.6 268.8L177.5 269.1L179.5 269.5L182.5 270.4L184.4 271.1L186.4 272L188.4 273L191.4 274.7L195.3 277.5L197.3 279L200.3 281.5L204.2 285.3L209.1 290.5L213.1 295L218 301.1L222 306.3L226.9 313L244.7 338.2L251.6 347.6L255.6 352.8L258.6 356.5L262.5 361.2L265.5 364.5L269.4 368.6L273.4 372.3L277.3 375.6L280.3 377.8L282.3 379.1L284.2 380.3L286.2 381.4L288.2 382.3L290.2 383.1L292.1 383.8L295.1 384.5" stroke="url(#gb)" stroke-width="3.15"/>
<path d="M39.2 447.8L40 432.5L40.9 421.3L41.7 413.1L42.5 407.1L43.4 402.7L43.8 400.9L44.6 398L45.4 395.7L46.1 394.3L47.1 392.6L47.9 391.5L49.6 389.7L50.8 388.7L52.1 387.8L54.6 386.2L60.4 382.7L63.9 380.6L67.9 378L70.8 375.8L73.8 373.5L76.7 371.1L79.7 368.5L82.7 365.7L88.6 359.9L95.5 352.5L101.4 345.8L116.3 328.8L124.2 320.1L128.1 316L131.1 313L135 309.3L138 306.6L142 303.4L144.9 301.1L147.9 299.1L150.9 297.3L154.8 295.1L157.8 293.8L160.7 292.7L163.7 291.9L166.7 291.3L168.6 291L170.6 290.8L172.6 290.8L174.6 290.8L176.5 291L178.5 291.3L181.5 291.9L183.5 292.4L185.4 293.1L187.4 293.9L190.4 295.2L194.3 297.3L196.3 298.5L199.3 300.5L203.2 303.4L208.2 307.6L212.1 311.2L217.1 316.1L222 321.3L226.9 326.7L244.7 347.1L251.6 354.7L255.6 358.9L258.6 361.9L262.5 365.7L265.5 368.4L269.4 371.7L273.4 374.8L277.3 377.4L280.3 379.2L284.2 381.2L288.2 382.8L290.2 383.5L292.1 384L295.1 384.6" stroke="url(#gbd)" stroke-width="4.23"/>
<path d="M39.2 447.8L40 432.5L40.9 421.3L41.7 413.1L42.5 407.1L43.4 402.7L43.8 400.9L44.6 398L45.4 395.7L46.1 394.3L47.1 392.6L47.9 391.5L49.6 389.7L50.8 388.7L52.1 387.8L54.6 386.2L60.4 382.7L63.9 380.6L67.9 378L70.8 375.8L73.8 373.5L76.7 371.1L79.7 368.5L82.7 365.7L88.6 359.9L95.5 352.5L101.4 345.8L116.3 328.8L124.2 320.1L128.1 316L131.1 313L135 309.3L138 306.6L142 303.4L144.9 301.1L147.9 299.1L150.9 297.3L154.8 295.1L157.8 293.8L160.7 292.7L163.7 291.9L166.7 291.3L168.6 291L170.6 290.8L172.6 290.8L174.6 290.8L176.5 291L178.5 291.3L181.5 291.9L183.5 292.4L185.4 293.1L187.4 293.9L190.4 295.2L194.3 297.3L196.3 298.5L199.3 300.5L203.2 303.4L208.2 307.6L212.1 311.2L217.1 316.1L222 321.3L226.9 326.7L244.7 347.1L251.6 354.7L255.6 358.9L258.6 361.9L262.5 365.7L265.5 368.4L269.4 371.7L273.4 374.8L277.3 377.4L280.3 379.2L284.2 381.2L288.2 382.8L290.2 383.5L292.1 384L295.1 384.6" stroke="url(#gb)" stroke-width="2.98"/>
<path d="M39.2 447.8L40 432.5L40.9 421.3L41.7 413.1L42.5 407.1L43.2 403.7L43.8 400.9L44.2 399.3L45 396.8L45.9 394.8L46.7 393.3L47.5 392.1L48.3 391L49.2 390.2L50.4 389.1L53 387.4L55.8 385.8L65.9 380.7L69.8 378.4L72.8 376.6L77.7 373.4L83.7 369.1L89.6 364.4L95.5 359.3L101.4 354.1L116.3 340.6L123.2 334.6L130.1 328.9L134.1 325.9L137 323.8L141 321.1L143.9 319.3L146.9 317.7L149.9 316.2L152.8 314.8L155.8 313.7L158.8 312.7L161.7 311.9L164.7 311.3L166.7 311L169.6 310.7L171.6 310.6L175.6 310.7L177.5 310.8L180.5 311.3L184.4 312.1L186.4 312.7L189.4 313.7L191.4 314.5L194.3 315.7L199.3 318.3L203.2 320.6L208.2 323.8L212.1 326.7L217.1 330.6L222 334.7L226.9 339L244.7 355.1L251.6 361.1L258.6 366.8L262.5 369.8L265.5 371.9L269.4 374.5L273.4 376.9L277.3 379L280.3 380.4L284.2 382L288.2 383.3L292.1 384.2L295.1 384.7" stroke="url(#gbd)" stroke-width="4.06"/>
<path d="M39.2 447.8L40 432.5L40.9 421.3L41.7 413.1L42.5 407.1L43.2 403.7L43.8 400.9L44.2 399.3L45 396.8L45.9 394.8L46.7 393.3L47.5 392.1L48.3 391L49.2 390.2L50.4 389.1L53 387.4L55.8 385.8L65.9 380.7L69.8 378.4L72.8 376.6L77.7 373.4L83.7 369.1L89.6 364.4L95.5 359.3L101.4 354.1L116.3 340.6L123.2 334.6L130.1 328.9L134.1 325.9L137 323.8L141 321.1L143.9 319.3L146.9 317.7L149.9 316.2L152.8 314.8L155.8 313.7L158.8 312.7L161.7 311.9L164.7 311.3L166.7 311L169.6 310.7L171.6 310.6L175.6 310.7L177.5 310.8L180.5 311.3L184.4 312.1L186.4 312.7L189.4 313.7L191.4 314.5L194.3 315.7L199.3 318.3L203.2 320.6L208.2 323.8L212.1 326.7L217.1 330.6L222 334.7L226.9 339L244.7 355.1L251.6 361.1L258.6 366.8L262.5 369.8L265.5 371.9L269.4 374.5L273.4 376.9L277.3 379L280.3 380.4L284.2 382L288.2 383.3L292.1 384.2L295.1 384.7" stroke="url(#gb)" stroke-width="2.81"/>
<path d="M39.2 447.8L40 432.5L40.9 421.3L41.7 413.1L42.5 407.1L43.2 403.7L43.8 400.9L44.2 399.3L45 396.8L45.9 394.8L46.7 393.3L47.5 392.1L48.8 390.6L49.6 389.9L50.8 388.9L52.1 388.1L53.8 387.2L56.7 385.8L65.9 381.9L71.8 379.2L77.7 376.2L84.7 372.3L90.6 368.6L96.5 364.7L115.3 351.7L122.2 347.1L129.1 342.7L135 339.2L141 336.1L143.9 334.7L146.9 333.5L149.9 332.3L152.8 331.3L157.8 329.9L162.7 328.9L167.6 328.2L172.6 328L177.5 328.2L182.5 328.9L187.4 329.9L192.4 331.3L197.3 333.1L201.2 334.8L206.2 337.2L211.1 339.8L216.1 342.7L221 345.8L225.9 349.1L244.7 362.1L251.6 366.7L258.6 371.1L262.5 373.4L265.5 375L269.4 377L273.4 378.8L277.3 380.5L280.3 381.5L284.2 382.7L288.2 383.7L292.1 384.4L295.1 384.8" stroke="url(#gbd)" stroke-width="3.89"/>
<path d="M39.2 447.8L40 432.5L40.9 421.3L41.7 413.1L42.5 407.1L43.2 403.7L43.8 400.9L44.2 399.3L45 396.8L45.9 394.8L46.7 393.3L47.5 392.1L48.8 390.6L49.6 389.9L50.8 388.9L52.1 388.1L53.8 387.2L56.7 385.8L65.9 381.9L71.8 379.2L77.7 376.2L84.7 372.3L90.6 368.6L96.5 364.7L115.3 351.7L122.2 347.1L129.1 342.7L135 339.2L141 336.1L143.9 334.7L146.9 333.5L149.9 332.3L152.8 331.3L157.8 329.9L162.7 328.9L167.6 328.2L172.6 328L177.5 328.2L182.5 328.9L187.4 329.9L192.4 331.3L197.3 333.1L201.2 334.8L206.2 337.2L211.1 339.8L216.1 342.7L221 345.8L225.9 349.1L244.7 362.1L251.6 366.7L258.6 371.1L262.5 373.4L265.5 375L269.4 377L273.4 378.8L277.3 380.5L280.3 381.5L284.2 382.7L288.2 383.7L292.1 384.4L295.1 384.8" stroke="url(#gb)" stroke-width="2.64"/>
<path d="M39.2 447.8L40 432.5L40.9 421.3L41.7 413.1L42.5 407.1L43.2 403.7L43.8 400.9L44.6 398L45.1 396.5L46.1 394.3L47.1 392.7L48.1 391.4L49.2 390.3L50.4 389.3L51.7 388.5L53.3 387.6L55.4 386.7L59.2 385.2L68.8 381.9L74.8 379.8L80.7 377.4L87.6 374.4L97.5 369.6L120.2 358.1L126.1 355.3L131.1 353.1L137 350.6L142 348.8L146.9 347.2L151.8 345.8L157.8 344.5L162.7 343.8L165.7 343.5L168.6 343.3L173.6 343.2L178.5 343.4L181.5 343.7L184.4 344.1L189.4 344.9L195.3 346.3L200.3 347.8L205.2 349.5L210.1 351.4L216.1 354L221 356.3L225.9 358.7L244.7 368.2L251.6 371.6L259.5 375.2L266.5 378.1L270.4 379.5L274.4 380.8L278.3 382L281.3 382.7L285.2 383.6L288.2 384.1L292.1 384.6L295.1 384.9" stroke="url(#gbd)" stroke-width="3.72"/>
<path d="M39.2 447.8L40 432.5L40.9 421.3L41.7 413.1L42.5 407.1L43.2 403.7L43.8 400.9L44.6 398L45.1 396.5L46.1 394.3L47.1 392.7L48.1 391.4L49.2 390.3L50.4 389.3L51.7 388.5L53.3 387.6L55.4 386.7L59.2 385.2L68.8 381.9L74.8 379.8L80.7 377.4L87.6 374.4L97.5 369.6L120.2 358.1L126.1 355.3L131.1 353.1L137 350.6L142 348.8L146.9 347.2L151.8 345.8L157.8 344.5L162.7 343.8L165.7 343.5L168.6 343.3L173.6 343.2L178.5 343.4L181.5 343.7L184.4 344.1L189.4 344.9L195.3 346.3L200.3 347.8L205.2 349.5L210.1 351.4L216.1 354L221 356.3L225.9 358.7L244.7 368.2L251.6 371.6L259.5 375.2L266.5 378.1L270.4 379.5L274.4 380.8L278.3 382L281.3 382.7L285.2 383.6L288.2 384.1L292.1 384.6L295.1 384.9" stroke="url(#gb)" stroke-width="2.47"/>
<path d="M39.2 447.8L40 432.5L40.9 421.3L41.7 413.1L42.5 407.1L43.2 403.7L43.8 400.9L44.6 398L45.1 396.5L46.1 394.3L47.1 392.7L48.1 391.4L49.2 390.4L50.8 389.1L52.5 388.2L54.6 387.2L57.1 386.3L62.1 384.8L76.7 380.9L85.6 378.3L96.5 374.7L116.3 367.7L124.2 365L133.1 362.3L141 360.1L147.9 358.6L153.8 357.5L160.7 356.6L166.7 356.1L172.6 356L178.5 356.1L184.4 356.6L191.4 357.5L196.3 358.4L202.2 359.7L208.2 361.2L214.1 362.9L219 364.4L225 366.4L244.7 373.4L252.6 376.1L259.5 378.2L266.5 380.2L274.4 382.1L281.3 383.4L288.2 384.4L295.1 385" stroke="url(#gbd)" stroke-width="3.55"/>
<path d="M39.2 447.8L40 432.5L40.9 421.3L41.7 413.1L42.5 407.1L43.2 403.7L43.8 400.9L44.6 398L45.1 396.5L46.1 394.3L47.1 392.7L48.1 391.4L49.2 390.4L50.8 389.1L52.5 388.2L54.6 387.2L57.1 386.3L62.1 384.8L76.7 380.9L85.6 378.3L96.5 374.7L116.3 367.7L124.2 365L133.1 362.3L141 360.1L147.9 358.6L153.8 357.5L160.7 356.6L166.7 356.1L172.6 356L178.5 356.1L184.4 356.6L191.4 357.5L196.3 358.4L202.2 359.7L208.2 361.2L214.1 362.9L219 364.4L225 366.4L244.7 373.4L252.6 376.1L259.5 378.2L266.5 380.2L274.4 382.1L281.3 383.4L288.2 384.4L295.1 385" stroke="url(#gb)" stroke-width="2.3"/>
<path d="M39.2 447.8L40.2 430.1L40.9 421.3L41.3 416.9L42.1 409.9L42.9 404.7L43.8 400.9L44.6 398L45.4 395.8L46.1 394.3L46.7 393.3L48.1 391.5L49.6 390L50.4 389.4L51.7 388.7L53.8 387.7L56.2 386.8L59.6 385.9L65.9 384.5L79.7 381.9L88.6 380.2L97.5 378.2L122.2 372.7L130.1 371.1L137 369.8L145.9 368.4L154.8 367.3L159.7 366.9L163.7 366.7L171.6 366.5L178.5 366.6L186.4 367L194.3 367.8L202.2 368.8L210.1 370.1L218 371.7L226.9 373.6L251.6 379.1L258.6 380.5L265.5 381.8L273.4 383.1L280.3 383.9L288.2 384.6L295.1 385" stroke="url(#gbd)" stroke-width="3.38"/>
<path d="M39.2 447.8L40.2 430.1L40.9 421.3L41.3 416.9L42.1 409.9L42.9 404.7L43.8 400.9L44.6 398L45.4 395.8L46.1 394.3L46.7 393.3L48.1 391.5L49.6 390L50.4 389.4L51.7 388.7L53.8 387.7L56.2 386.8L59.6 385.9L65.9 384.5L79.7 381.9L88.6 380.2L97.5 378.2L122.2 372.7L130.1 371.1L137 369.8L145.9 368.4L154.8 367.3L159.7 366.9L163.7 366.7L171.6 366.5L178.5 366.6L186.4 367L194.3 367.8L202.2 368.8L210.1 370.1L218 371.7L226.9 373.6L251.6 379.1L258.6 380.5L265.5 381.8L273.4 383.1L280.3 383.9L288.2 384.6L295.1 385" stroke="url(#gb)" stroke-width="2.13"/>
<path d="M39.2 447.8L40.2 430.1L40.9 421.3L41.3 416.9L41.7 413.1L42.5 407.1L43.4 402.7L44.2 399.3L45.1 396.5L46.1 394.3L46.7 393.4L47.5 392.2L48.8 390.8L50.4 389.5L52.5 388.4L55 387.4L57.9 386.6L62.9 385.6L69.8 384.6L92.6 381.9L121.2 378.2L133.1 376.9L142.9 375.9L152.8 375.2L161.7 374.8L170.6 374.6L177.5 374.7L185.4 374.9L193.3 375.3L201.2 375.9L209.1 376.6L218 377.5L251.6 381.7L265.5 383.2L273.4 384L280.3 384.4L288.2 384.8L295.1 385" stroke="url(#gbd)" stroke-width="3.21"/>
<path d="M39.2 447.8L40.2 430.1L40.9 421.3L41.3 416.9L41.7 413.1L42.5 407.1L43.4 402.7L44.2 399.3L45.1 396.5L46.1 394.3L46.7 393.4L47.5 392.2L48.8 390.8L50.4 389.5L52.5 388.4L55 387.4L57.9 386.6L62.9 385.6L69.8 384.6L92.6 381.9L121.2 378.2L133.1 376.9L142.9 375.9L152.8 375.2L161.7 374.8L170.6 374.6L177.5 374.7L185.4 374.9L193.3 375.3L201.2 375.9L209.1 376.6L218 377.5L251.6 381.7L265.5 383.2L273.4 384L280.3 384.4L288.2 384.8L295.1 385" stroke="url(#gb)" stroke-width="1.96"/>
<path d="M39.2 447.8L40.2 430.1L40.9 421.3L41.3 416.9L41.7 413.1L42.5 407.1L43.4 402.7L44.2 399.3L45.1 396.5L46.1 394.3L46.7 393.4L47.5 392.2L48.8 390.8L50.4 389.5L52.1 388.6L54.2 387.8L57 387L61.2 386.1L66.9 385.4L73.8 384.8L82.7 384.3L118.2 382.2L135 381.4L151.8 380.7L166.7 380.5L183.5 380.5L200.3 381L218 381.7L251.6 383.6L265.5 384.3L280.3 384.8L295.1 385.1" stroke="url(#gbd)" stroke-width="3.04"/>
<path d="M39.2 447.8L40.2 430.1L40.9 421.3L41.3 416.9L41.7 413.1L42.5 407.1L43.4 402.7L44.2 399.3L45.1 396.5L46.1 394.3L46.7 393.4L47.5 392.2L48.8 390.8L50.4 389.5L52.1 388.6L54.2 387.8L57 387L61.2 386.1L66.9 385.4L73.8 384.8L82.7 384.3L118.2 382.2L135 381.4L151.8 380.7L166.7 380.5L183.5 380.5L200.3 381L218 381.7L251.6 383.6L265.5 384.3L280.3 384.8L295.1 385.1" stroke="url(#gb)" stroke-width="1.79"/>
<path d="M39.2 447.8L40.2 430.1L40.9 421.3L41.3 416.9L41.7 413.1L42.5 407.1L43.4 402.7L44.1 399.5L45 396.8L45.9 394.9L47.1 392.7L48.3 391.2L49.2 390.5L50 389.8L51.7 388.8L53.8 388L56.2 387.2L60 386.5L64.9 385.8L69.8 385.5L76.7 385.1L99.5 384.7L144.9 384.1L169.6 383.9L193.3 384L215.1 384.2L266.5 384.9L295.1 385.1" stroke="url(#gbd)" stroke-width="2.87"/>
<path d="M39.2 447.8L40.2 430.1L40.9 421.3L41.3 416.9L41.7 413.1L42.5 407.1L43.4 402.7L44.1 399.5L45 396.8L45.9 394.9L47.1 392.7L48.3 391.2L49.2 390.5L50 389.8L51.7 388.8L53.8 388L56.2 387.2L60 386.5L64.9 385.8L69.8 385.5L76.7 385.1L99.5 384.7L144.9 384.1L169.6 383.9L193.3 384L215.1 384.2L266.5 384.9L295.1 385.1" stroke="url(#gb)" stroke-width="1.62"/>
</g>
<rect x="39.2" y="259.5" width="256.1" height="192" fill="none" stroke="#000" stroke-width="1.1"/>
<path d="M39.2,451.5v-3M39.2,259.5v3M49.42,451.5v-1.8M49.42,259.5v1.8M59.64,451.5v-1.8M59.64,259.5v1.8M69.86,451.5v-1.8M69.86,259.5v1.8M80.08,451.5v-3M80.08,259.5v3M90.3,451.5v-1.8M90.3,259.5v1.8M100.52,451.5v-1.8M100.52,259.5v1.8M110.74,451.5v-1.8M110.74,259.5v1.8M120.96,451.5v-3M120.96,259.5v3M131.18,451.5v-1.8M131.18,259.5v1.8M141.4,451.5v-1.8M141.4,259.5v1.8M151.62,451.5v-1.8M151.62,259.5v1.8M161.84,451.5v-3M161.84,259.5v3M172.06,451.5v-1.8M172.06,259.5v1.8M182.28,451.5v-1.8M182.28,259.5v1.8M192.5,451.5v-1.8M192.5,259.5v1.8M202.72,451.5v-3M202.72,259.5v3M212.94,451.5v-1.8M212.94,259.5v1.8M223.16,451.5v-1.8M223.16,259.5v1.8M233.38,451.5v-1.8M233.38,259.5v1.8M243.6,451.5v-3M243.6,259.5v3M253.82,451.5v-1.8M253.82,259.5v1.8M264.04,451.5v-1.8M264.04,259.5v1.8M274.26,451.5v-1.8M274.26,259.5v1.8M284.48,451.5v-3M284.48,259.5v3M294.7,451.5v-1.8M294.7,259.5v1.8M39.2,447.8h3M295.3,447.8h-3M39.2,437.35h1.8M295.3,437.35h-1.8M39.2,426.9h1.8M295.3,426.9h-1.8M39.2,416.45h1.8M295.3,416.45h-1.8M39.2,406h3M295.3,406h-3M39.2,395.55h1.8M295.3,395.55h-1.8M39.2,385.1h1.8M295.3,385.1h-1.8M39.2,374.65h1.8M295.3,374.65h-1.8M39.2,364.2h3M295.3,364.2h-3M39.2,353.75h1.8M295.3,353.75h-1.8M39.2,343.3h1.8M295.3,343.3h-1.8M39.2,332.85h1.8M295.3,332.85h-1.8M39.2,322.4h3M295.3,322.4h-3M39.2,311.95h1.8M295.3,311.95h-1.8M39.2,301.5h1.8M295.3,301.5h-1.8M39.2,291.05h1.8M295.3,291.05h-1.8M39.2,280.6h3M295.3,280.6h-3M39.2,270.15h1.8M295.3,270.15h-1.8M39.2,259.7h1.8M295.3,259.7h-1.8" stroke="#000" stroke-width="0.8" fill="none"/>
<g font-family="Liberation Serif" fill="#222">
<text x="37.6" y="451.2" font-size="10" text-anchor="end">4.20</text>
<text x="37.6" y="409.4" font-size="10" text-anchor="end">4.22</text>
<text x="37.6" y="367.6" font-size="10" text-anchor="end">4.24</text>
<text x="37.6" y="325.8" font-size="10" text-anchor="end">4.26</text>
<text x="37.6" y="284" font-size="10" text-anchor="end">4.28</text>
<text x="39.2" y="461.8" font-size="9.5" text-anchor="middle">0</text>
<text x="80.08" y="461.8" font-size="9.5" text-anchor="middle">2</text>
<text x="120.96" y="461.8" font-size="9.5" text-anchor="middle">4</text>
<text x="161.84" y="461.8" font-size="9.5" text-anchor="middle">6</text>
<text x="202.72" y="461.8" font-size="9.5" text-anchor="middle">8</text>
<text x="243.6" y="461.8" font-size="9.5" text-anchor="middle">10</text>
<text x="284.48" y="461.8" font-size="9.5" text-anchor="middle">12</text>
</g>
<rect x="113.6" y="304" width="2" height="84.6" fill="url(#garrow)"/>
<path d="M111.3,306.5L114.6,297.6L117.9,306.5Z" fill="#b04a6a"/>
<g font-family="Liberation Serif" fill="#222">
<text x="85" y="297.7" font-size="12"><tspan font-style="italic">H</tspan><tspan font-size="8.3" dy="1.8" font-style="italic">max</tspan><tspan dy="-1.8"> = 2</tspan></text>
<text x="85" y="396.3" font-size="12"><tspan font-style="italic">H</tspan><tspan font-size="8.3" dy="1.8" font-style="italic">max</tspan><tspan dy="-1.8"> = 0.2</tspan></text>
<text x="290" y="447.3" font-size="14.6" text-anchor="end"><tspan font-style="italic">ω</tspan><tspan font-size="9.5" dy="2.2">dr</tspan><tspan dy="-2.2"> = 0.25 GHz</tspan></text>
<text x="146.2" y="481" font-size="15"><tspan font-style="italic">t</tspan><tspan dx="14">(ns)</tspan></text>
<text transform="translate(13.3,356.2) rotate(-90)" font-size="16" text-anchor="middle"><tspan font-style="italic">T</tspan><tspan font-size="11" dy="3">2</tspan><tspan dy="-3">(</tspan><tspan font-style="italic">L</tspan><tspan>,</tspan><tspan font-style="italic">t</tspan><tspan>)</tspan><tspan dx="10.5">(K)</tspan></text>
</g>
<text x="2" y="265" font-family="Liberation Sans" font-weight="bold" font-size="20.5">b</text>
<defs><linearGradient id="gcb" x1="0" y1="0" x2="0" y2="1"><stop offset="0.000" stop-color="#821432"/><stop offset="0.056" stop-color="#a02d41"/><stop offset="0.108" stop-color="#b4414b"/><stop offset="0.160" stop-color="#c35a5a"/><stop offset="0.212" stop-color="#d07d6e"/><stop offset="0.264" stop-color="#dca08a"/><stop offset="0.294" stop-color="#e2b298"/><stop offset="0.342" stop-color="#e6c0a5"/><stop offset="0.394" stop-color="#e8cdb4"/><stop offset="0.446" stop-color="#e7d8c4"/><stop offset="0.498" stop-color="#e2e2d4"/><stop offset="0.550" stop-color="#d2e2de"/><stop offset="0.602" stop-color="#b9dce4"/><stop offset="0.640" stop-color="#aad2eb"/><stop offset="0.690" stop-color="#96beeb"/><stop offset="0.742" stop-color="#7da5e8"/><stop offset="0.794" stop-color="#6487e4"/><stop offset="0.846" stop-color="#5069de"/><stop offset="0.898" stop-color="#3c4bd7"/><stop offset="0.950" stop-color="#2d32cd"/><stop offset="1.000" stop-color="#201ebe"/></linearGradient></defs>
<rect x="300.4" y="258.7" width="35.3" height="240" rx="3" fill="#fff" stroke="#9a9a9a" stroke-width="0.9"/>
<text x="303.6" y="268.8" font-size="11" font-family="Liberation Serif" fill="#222"><tspan font-style="italic">T</tspan><tspan font-size="7.7" dy="2.75">2</tspan><tspan dy="-2.75"> (K)</tspan></text>
<rect x="306" y="279.3" width="5.8" height="192.3" fill="url(#gcb)"/>
<g font-family="Liberation Serif" fill="#222">
<text x="314.6" y="304.15" font-size="10">4.28</text>
<text x="314.6" y="348.25" font-size="10">4.26</text>
<text x="314.6" y="390.75" font-size="10">4.24</text>
<text x="314.6" y="433.15" font-size="10">4.22</text>
<text x="314.6" y="475.55" font-size="10">4.20</text>
</g>
<defs>
<linearGradient id="gc0" gradientUnits="userSpaceOnUse" x1="0" y1="35.63" x2="0" y2="115.5"><stop offset="0.000" stop-color="#821432"/><stop offset="0.056" stop-color="#a02d41"/><stop offset="0.108" stop-color="#b4414b"/><stop offset="0.160" stop-color="#c35a5a"/><stop offset="0.212" stop-color="#d07d6e"/><stop offset="0.264" stop-color="#dca08a"/><stop offset="0.294" stop-color="#e2b298"/><stop offset="0.342" stop-color="#e6c0a5"/><stop offset="0.394" stop-color="#e8cdb4"/><stop offset="0.446" stop-color="#e7d8c4"/><stop offset="0.498" stop-color="#e2e2d4"/><stop offset="0.550" stop-color="#d2e2de"/><stop offset="0.602" stop-color="#b9dce4"/><stop offset="0.640" stop-color="#aad2eb"/><stop offset="0.690" stop-color="#96beeb"/><stop offset="0.742" stop-color="#7da5e8"/><stop offset="0.794" stop-color="#6487e4"/><stop offset="0.846" stop-color="#5069de"/><stop offset="0.898" stop-color="#3c4bd7"/><stop offset="0.950" stop-color="#2d32cd"/><stop offset="1.000" stop-color="#201ebe"/></linearGradient>
<linearGradient id="gcd0" gradientUnits="userSpaceOnUse" x1="0" y1="35.63" x2="0" y2="115.5"><stop offset="0.000" stop-color="#230a11"/><stop offset="0.056" stop-color="#291014"/><stop offset="0.108" stop-color="#2e1416"/><stop offset="0.160" stop-color="#311a1a"/><stop offset="0.212" stop-color="#34221e"/><stop offset="0.264" stop-color="#362924"/><stop offset="0.294" stop-color="#382d27"/><stop offset="0.342" stop-color="#39302a"/><stop offset="0.394" stop-color="#39332e"/><stop offset="0.446" stop-color="#393631"/><stop offset="0.498" stop-color="#383835"/><stop offset="0.550" stop-color="#343837"/><stop offset="0.602" stop-color="#2f3638"/><stop offset="0.640" stop-color="#2b343a"/><stop offset="0.690" stop-color="#27303a"/><stop offset="0.742" stop-color="#222a39"/><stop offset="0.794" stop-color="#1c2438"/><stop offset="0.846" stop-color="#181d37"/><stop offset="0.898" stop-color="#131635"/><stop offset="0.950" stop-color="#101133"/><stop offset="1.000" stop-color="#0d0d30"/></linearGradient>
<linearGradient id="gc1" gradientUnits="userSpaceOnUse" x1="0" y1="120.63" x2="0" y2="200.5"><stop offset="0.000" stop-color="#821432"/><stop offset="0.056" stop-color="#a02d41"/><stop offset="0.108" stop-color="#b4414b"/><stop offset="0.160" stop-color="#c35a5a"/><stop offset="0.212" stop-color="#d07d6e"/><stop offset="0.264" stop-color="#dca08a"/><stop offset="0.294" stop-color="#e2b298"/><stop offset="0.342" stop-color="#e6c0a5"/><stop offset="0.394" stop-color="#e8cdb4"/><stop offset="0.446" stop-color="#e7d8c4"/><stop offset="0.498" stop-color="#e2e2d4"/><stop offset="0.550" stop-color="#d2e2de"/><stop offset="0.602" stop-color="#b9dce4"/><stop offset="0.640" stop-color="#aad2eb"/><stop offset="0.690" stop-color="#96beeb"/><stop offset="0.742" stop-color="#7da5e8"/><stop offset="0.794" stop-color="#6487e4"/><stop offset="0.846" stop-color="#5069de"/><stop offset="0.898" stop-color="#3c4bd7"/><stop offset="0.950" stop-color="#2d32cd"/><stop offset="1.000" stop-color="#201ebe"/></linearGradient>
<linearGradient id="gcd1" gradientUnits="userSpaceOnUse" x1="0" y1="120.63" x2="0" y2="200.5"><stop offset="0.000" stop-color="#230a11"/><stop offset="0.056" stop-color="#291014"/><stop offset="0.108" stop-color="#2e1416"/><stop offset="0.160" stop-color="#311a1a"/><stop offset="0.212" stop-color="#34221e"/><stop offset="0.264" stop-color="#362924"/><stop offset="0.294" stop-color="#382d27"/><stop offset="0.342" stop-color="#39302a"/><stop offset="0.394" stop-color="#39332e"/><stop offset="0.446" stop-color="#393631"/><stop offset="0.498" stop-color="#383835"/><stop offset="0.550" stop-color="#343837"/><stop offset="0.602" stop-color="#2f3638"/><stop offset="0.640" stop-color="#2b343a"/><stop offset="0.690" stop-color="#27303a"/><stop offset="0.742" stop-color="#222a39"/><stop offset="0.794" stop-color="#1c2438"/><stop offset="0.846" stop-color="#181d37"/><stop offset="0.898" stop-color="#131635"/><stop offset="0.950" stop-color="#101133"/><stop offset="1.000" stop-color="#0d0d30"/></linearGradient>
<linearGradient id="gc2" gradientUnits="userSpaceOnUse" x1="0" y1="205.63" x2="0" y2="285.5"><stop offset="0.000" stop-color="#821432"/><stop offset="0.056" stop-color="#a02d41"/><stop offset="0.108" stop-color="#b4414b"/><stop offset="0.160" stop-color="#c35a5a"/><stop offset="0.212" stop-color="#d07d6e"/><stop offset="0.264" stop-color="#dca08a"/><stop offset="0.294" stop-color="#e2b298"/><stop offset="0.342" stop-color="#e6c0a5"/><stop offset="0.394" stop-color="#e8cdb4"/><stop offset="0.446" stop-color="#e7d8c4"/><stop offset="0.498" stop-color="#e2e2d4"/><stop offset="0.550" stop-color="#d2e2de"/><stop offset="0.602" stop-color="#b9dce4"/><stop offset="0.640" stop-color="#aad2eb"/><stop offset="0.690" stop-color="#96beeb"/><stop offset="0.742" stop-color="#7da5e8"/><stop offset="0.794" stop-color="#6487e4"/><stop offset="0.846" stop-color="#5069de"/><stop offset="0.898" stop-color="#3c4bd7"/><stop offset="0.950" stop-color="#2d32cd"/><stop offset="1.000" stop-color="#201ebe"/></linearGradient>
<linearGradient id="gcd2" gradientUnits="userSpaceOnUse" x1="0" y1="205.63" x2="0" y2="285.5"><stop offset="0.000" stop-color="#230a11"/><stop offset="0.056" stop-color="#291014"/><stop offset="0.108" stop-color="#2e1416"/><stop offset="0.160" stop-color="#311a1a"/><stop offset="0.212" stop-color="#34221e"/><stop offset="0.264" stop-color="#362924"/><stop offset="0.294" stop-color="#382d27"/><stop offset="0.342" stop-color="#39302a"/><stop offset="0.394" stop-color="#39332e"/><stop offset="0.446" stop-color="#393631"/><stop offset="0.498" stop-color="#383835"/><stop offset="0.550" stop-color="#343837"/><stop offset="0.602" stop-color="#2f3638"/><stop offset="0.640" stop-color="#2b343a"/><stop offset="0.690" stop-color="#27303a"/><stop offset="0.742" stop-color="#222a39"/><stop offset="0.794" stop-color="#1c2438"/><stop offset="0.846" stop-color="#181d37"/><stop offset="0.898" stop-color="#131635"/><stop offset="0.950" stop-color="#101133"/><stop offset="1.000" stop-color="#0d0d30"/></linearGradient>
<linearGradient id="gc3" gradientUnits="userSpaceOnUse" x1="0" y1="290.73" x2="0" y2="370.6"><stop offset="0.000" stop-color="#821432"/><stop offset="0.056" stop-color="#a02d41"/><stop offset="0.108" stop-color="#b4414b"/><stop offset="0.160" stop-color="#c35a5a"/><stop offset="0.212" stop-color="#d07d6e"/><stop offset="0.264" stop-color="#dca08a"/><stop offset="0.294" stop-color="#e2b298"/><stop offset="0.342" stop-color="#e6c0a5"/><stop offset="0.394" stop-color="#e8cdb4"/><stop offset="0.446" stop-color="#e7d8c4"/><stop offset="0.498" stop-color="#e2e2d4"/><stop offset="0.550" stop-color="#d2e2de"/><stop offset="0.602" stop-color="#b9dce4"/><stop offset="0.640" stop-color="#aad2eb"/><stop offset="0.690" stop-color="#96beeb"/><stop offset="0.742" stop-color="#7da5e8"/><stop offset="0.794" stop-color="#6487e4"/><stop offset="0.846" stop-color="#5069de"/><stop offset="0.898" stop-color="#3c4bd7"/><stop offset="0.950" stop-color="#2d32cd"/><stop offset="1.000" stop-color="#201ebe"/></linearGradient>
<linearGradient id="gcd3" gradientUnits="userSpaceOnUse" x1="0" y1="290.73" x2="0" y2="370.6"><stop offset="0.000" stop-color="#230a11"/><stop offset="0.056" stop-color="#291014"/><stop offset="0.108" stop-color="#2e1416"/><stop offset="0.160" stop-color="#311a1a"/><stop offset="0.212" stop-color="#34221e"/><stop offset="0.264" stop-color="#362924"/><stop offset="0.294" stop-color="#382d27"/><stop offset="0.342" stop-color="#39302a"/><stop offset="0.394" stop-color="#39332e"/><stop offset="0.446" stop-color="#393631"/><stop offset="0.498" stop-color="#383835"/><stop offset="0.550" stop-color="#343837"/><stop offset="0.602" stop-color="#2f3638"/><stop offset="0.640" stop-color="#2b343a"/><stop offset="0.690" stop-color="#27303a"/><stop offset="0.742" stop-color="#222a39"/><stop offset="0.794" stop-color="#1c2438"/><stop offset="0.846" stop-color="#181d37"/><stop offset="0.898" stop-color="#131635"/><stop offset="0.950" stop-color="#101133"/><stop offset="1.000" stop-color="#0d0d30"/></linearGradient>
<linearGradient id="gc4" gradientUnits="userSpaceOnUse" x1="0" y1="375.33" x2="0" y2="455.2"><stop offset="0.000" stop-color="#821432"/><stop offset="0.056" stop-color="#a02d41"/><stop offset="0.108" stop-color="#b4414b"/><stop offset="0.160" stop-color="#c35a5a"/><stop offset="0.212" stop-color="#d07d6e"/><stop offset="0.264" stop-color="#dca08a"/><stop offset="0.294" stop-color="#e2b298"/><stop offset="0.342" stop-color="#e6c0a5"/><stop offset="0.394" stop-color="#e8cdb4"/><stop offset="0.446" stop-color="#e7d8c4"/><stop offset="0.498" stop-color="#e2e2d4"/><stop offset="0.550" stop-color="#d2e2de"/><stop offset="0.602" stop-color="#b9dce4"/><stop offset="0.640" stop-color="#aad2eb"/><stop offset="0.690" stop-color="#96beeb"/><stop offset="0.742" stop-color="#7da5e8"/><stop offset="0.794" stop-color="#6487e4"/><stop offset="0.846" stop-color="#5069de"/><stop offset="0.898" stop-color="#3c4bd7"/><stop offset="0.950" stop-color="#2d32cd"/><stop offset="1.000" stop-color="#201ebe"/></linearGradient>
<linearGradient id="gcd4" gradientUnits="userSpaceOnUse" x1="0" y1="375.33" x2="0" y2="455.2"><stop offset="0.000" stop-color="#230a11"/><stop offset="0.056" stop-color="#291014"/><stop offset="0.108" stop-color="#2e1416"/><stop offset="0.160" stop-color="#311a1a"/><stop offset="0.212" stop-color="#34221e"/><stop offset="0.264" stop-color="#362924"/><stop offset="0.294" stop-color="#382d27"/><stop offset="0.342" stop-color="#39302a"/><stop offset="0.394" stop-color="#39332e"/><stop offset="0.446" stop-color="#393631"/><stop offset="0.498" stop-color="#383835"/><stop offset="0.550" stop-color="#343837"/><stop offset="0.602" stop-color="#2f3638"/><stop offset="0.640" stop-color="#2b343a"/><stop offset="0.690" stop-color="#27303a"/><stop offset="0.742" stop-color="#222a39"/><stop offset="0.794" stop-color="#1c2438"/><stop offset="0.846" stop-color="#181d37"/><stop offset="0.898" stop-color="#131635"/><stop offset="0.950" stop-color="#101133"/><stop offset="1.000" stop-color="#0d0d30"/></linearGradient>
</defs>
<g fill="none" stroke-linejoin="round">
<path d="M375 115.5L375.4 112.7L376.3 108.1L377.1 104.4L378 101.5L378.8 99.1L380.1 96.5L381.4 94.5L382.7 93L383.9 91.7L385.6 90.3L392 85.9L395 83.7L398 81.2L401 78.5L404.3 75.2L407.8 71.6L419.4 58.6L423.2 54.5L427.9 49.8L431.7 46.4L434.5 44.2L436.4 42.9L438.3 41.7L440.2 40.7L443 39.4L444.9 38.8L446.8 38.4L448.7 38.1L450.6 38L452.4 38.1L454.3 38.4L457.2 39.1L459.1 39.8L460.9 40.7L462.8 41.7L465.7 43.5L467.6 44.9L470.4 47.2L472.3 48.9L475.1 51.6L479.8 56.5L490.2 67.9L494.9 72.9L499.7 77.5L503.4 80.7L506.3 82.8L508.2 84L511 85.5L512.9 86.3L515.7 87.3L517.6 87.7L519.5 87.9L521.4 88L523.3 87.8L525.2 87.5L527.1 87L529.9 86L531.8 85.1L534.6 83.5L536.5 82.2L539.3 80.1L543.1 76.8L547.8 72.1L551.6 68.1L562 56.6L566.7 51.7L569.6 49L572.4 46.5L575.2 44.3L577.1 42.9L580 41.2L581.8 40.3L584.7 39.1L586.6 38.6L589.4 38.1L591.3 38L593.2 38.1L596 38.5L597.9 39.1L599.8 39.7L601.7 40.6L603.6 41.6L605.5 42.8L607.3 44.1L609.2 45.5L612.1 47.9L615.8 51.4L619.6 55.3L631 67.8L635.7 72.8L640.4 77.4L644.2 80.6L646.1 82L648 83.3L650.8 85L652.7 85.9L654.6 86.7L657.4 87.5" stroke="url(#gcd0)" stroke-width="3.4"/>
<path d="M375 115.5L375.4 112.7L376.3 108.1L377.1 104.4L378 101.5L378.8 99.1L380.1 96.5L381.4 94.5L382.7 93L383.9 91.7L385.6 90.3L392 85.9L395 83.7L398 81.2L401 78.5L404.3 75.2L407.8 71.6L419.4 58.6L423.2 54.5L427.9 49.8L431.7 46.4L434.5 44.2L436.4 42.9L438.3 41.7L440.2 40.7L443 39.4L444.9 38.8L446.8 38.4L448.7 38.1L450.6 38L452.4 38.1L454.3 38.4L457.2 39.1L459.1 39.8L460.9 40.7L462.8 41.7L465.7 43.5L467.6 44.9L470.4 47.2L472.3 48.9L475.1 51.6L479.8 56.5L490.2 67.9L494.9 72.9L499.7 77.5L503.4 80.7L506.3 82.8L508.2 84L511 85.5L512.9 86.3L515.7 87.3L517.6 87.7L519.5 87.9L521.4 88L523.3 87.8L525.2 87.5L527.1 87L529.9 86L531.8 85.1L534.6 83.5L536.5 82.2L539.3 80.1L543.1 76.8L547.8 72.1L551.6 68.1L562 56.6L566.7 51.7L569.6 49L572.4 46.5L575.2 44.3L577.1 42.9L580 41.2L581.8 40.3L584.7 39.1L586.6 38.6L589.4 38.1L591.3 38L593.2 38.1L596 38.5L597.9 39.1L599.8 39.7L601.7 40.6L603.6 41.6L605.5 42.8L607.3 44.1L609.2 45.5L612.1 47.9L615.8 51.4L619.6 55.3L631 67.8L635.7 72.8L640.4 77.4L644.2 80.6L646.1 82L648 83.3L650.8 85L652.7 85.9L654.6 86.7L657.4 87.5" stroke="url(#gc0)" stroke-width="1.9"/>
<path d="M375 200.5L375.9 194.6L376.9 189.5L378 185.8L378.8 183.8L379.7 182L380.5 180.6L381.4 179.5L384.8 175.3L386.5 173L388.2 170.4L390.1 167.3L392 163.8L393.9 160L400.5 145.8L402.7 141.3L404.8 137.3L406.9 133.7L409 130.8L410.9 128.7L411.8 127.8L412.8 127.1L413.7 126.6L414.7 126.3L415.6 126.1L416.6 126L417.5 126.2L418.4 126.5L419.4 126.9L420.3 127.5L421.3 128.3L422.2 129.2L424.1 131.4L426 134.1L428.8 138.9L430.7 142.5L436.4 153.8L438.3 157.4L440.2 160.8L442.1 163.8L443.9 166.3L444.9 167.4L445.8 168.4L446.8 169.2L447.7 169.8L448.7 170.3L449.6 170.7L450.6 170.9L451.5 170.9L452.4 170.8L453.4 170.5L454.3 170.1L455.3 169.4L456.2 168.7L457.2 167.8L459.1 165.6L460.9 162.9L463.8 158.1L465.7 154.5L473.2 139.4L475.1 136L477 133L478.9 130.3L479.8 129.2L480.8 128.2L481.7 127.3L482.7 126.6L483.6 126.1L484.6 125.7L485.5 125.4L486.4 125.3L487.4 125.4L488.3 125.6L489.3 126L490.2 126.6L491.2 127.3L492.1 128.2L493.1 129.2L494.9 131.5L496.8 134.4L498.7 137.6L501.6 143L508.2 156.2L510.1 159.7L511.9 162.8L513.8 165.5L514.8 166.7L516.7 168.6L517.6 169.4L518.6 170L519.5 170.4L520.5 170.7L521.4 170.8L522.3 170.8L523.3 170.6L524.2 170.3L525.2 169.8L526.1 169.1L527.1 168.3L529 166.2L530.8 163.7L531.8 162.2L533.7 159L536.5 153.7L541.2 144.2L544.1 138.7L546 135.3L547.8 132.4L549.7 129.8L550.7 128.7L551.6 127.8L552.6 127L553.5 126.3L554.5 125.9L555.4 125.5L556.3 125.3L557.3 125.3L558.2 125.5L559.2 125.8L560.1 126.2L561.1 126.9L562 127.6L563 128.6L564.8 130.8L566.7 133.5L569.6 138.4L571.5 142L577.1 153.3L579 157L580.9 160.4L582.8 163.4L584.7 166L585.6 167.1L586.6 168.1L587.5 169L588.5 169.6L589.4 170.2L590.3 170.6L591.3 170.8L592.2 170.8L593.2 170.7L594.1 170.5L595.1 170.1L596 169.5L597 168.8L597.9 167.9L598.8 166.9L600.7 164.4L602.6 161.6L605.5 156.5L613 141.5L615.8 136.3L617.7 133.2L618.7 131.8L620.6 129.3L622.5 127.4L623.4 126.7L624.3 126.1L625.3 125.7L626.2 125.4L627.2 125.3L628.1 125.4L629.1 125.6L630 126L631 126.5L631.9 127.2L632.8 128L634.7 130.1L636.6 132.7L638.5 135.7L640.4 139.1L642.3 142.7L648 154.1L650.8 159.4L652.7 162.6L654.6 165.3L656.5 167.6L657.4 168.5" stroke="url(#gcd1)" stroke-width="3.4"/>
<path d="M375 200.5L375.9 194.6L376.9 189.5L378 185.8L378.8 183.8L379.7 182L380.5 180.6L381.4 179.5L384.8 175.3L386.5 173L388.2 170.4L390.1 167.3L392 163.8L393.9 160L400.5 145.8L402.7 141.3L404.8 137.3L406.9 133.7L409 130.8L410.9 128.7L411.8 127.8L412.8 127.1L413.7 126.6L414.7 126.3L415.6 126.1L416.6 126L417.5 126.2L418.4 126.5L419.4 126.9L420.3 127.5L421.3 128.3L422.2 129.2L424.1 131.4L426 134.1L428.8 138.9L430.7 142.5L436.4 153.8L438.3 157.4L440.2 160.8L442.1 163.8L443.9 166.3L444.9 167.4L445.8 168.4L446.8 169.2L447.7 169.8L448.7 170.3L449.6 170.7L450.6 170.9L451.5 170.9L452.4 170.8L453.4 170.5L454.3 170.1L455.3 169.4L456.2 168.7L457.2 167.8L459.1 165.6L460.9 162.9L463.8 158.1L465.7 154.5L473.2 139.4L475.1 136L477 133L478.9 130.3L479.8 129.2L480.8 128.2L481.7 127.3L482.7 126.6L483.6 126.1L484.6 125.7L485.5 125.4L486.4 125.3L487.4 125.4L488.3 125.6L489.3 126L490.2 126.6L491.2 127.3L492.1 128.2L493.1 129.2L494.9 131.5L496.8 134.4L498.7 137.6L501.6 143L508.2 156.2L510.1 159.7L511.9 162.8L513.8 165.5L514.8 166.7L516.7 168.6L517.6 169.4L518.6 170L519.5 170.4L520.5 170.7L521.4 170.8L522.3 170.8L523.3 170.6L524.2 170.3L525.2 169.8L526.1 169.1L527.1 168.3L529 166.2L530.8 163.7L531.8 162.2L533.7 159L536.5 153.7L541.2 144.2L544.1 138.7L546 135.3L547.8 132.4L549.7 129.8L550.7 128.7L551.6 127.8L552.6 127L553.5 126.3L554.5 125.9L555.4 125.5L556.3 125.3L557.3 125.3L558.2 125.5L559.2 125.8L560.1 126.2L561.1 126.9L562 127.6L563 128.6L564.8 130.8L566.7 133.5L569.6 138.4L571.5 142L577.1 153.3L579 157L580.9 160.4L582.8 163.4L584.7 166L585.6 167.1L586.6 168.1L587.5 169L588.5 169.6L589.4 170.2L590.3 170.6L591.3 170.8L592.2 170.8L593.2 170.7L594.1 170.5L595.1 170.1L596 169.5L597 168.8L597.9 167.9L598.8 166.9L600.7 164.4L602.6 161.6L605.5 156.5L613 141.5L615.8 136.3L617.7 133.2L618.7 131.8L620.6 129.3L622.5 127.4L623.4 126.7L624.3 126.1L625.3 125.7L626.2 125.4L627.2 125.3L628.1 125.4L629.1 125.6L630 126L631 126.5L631.9 127.2L632.8 128L634.7 130.1L636.6 132.7L638.5 135.7L640.4 139.1L642.3 142.7L648 154.1L650.8 159.4L652.7 162.6L654.6 165.3L656.5 167.6L657.4 168.5" stroke="url(#gc1)" stroke-width="1.9"/>
<path d="M375 285.5L375.7 280.8L376.6 275.8L380.7 257.4L384.1 239.5L385.4 233.3L386.5 228.9L387.5 226.2L387.9 225.3L388.4 224.6L388.8 224.1L389.3 223.9L389.7 224L390.2 224.3L390.7 225L391.3 226.2L392 227.7L392.7 229.8L395.2 238.4L396.4 242.1L397 243.6L397.6 244.7L398.2 245.4L398.6 245.6L398.9 245.7L399.2 245.7L399.8 245.3L400.4 244.5L401.1 243.2L401.7 241.6L402.3 239.7L405.5 228.2L406.7 224.4L407.4 222.9L408 221.9L408.6 221.2L408.9 221.1L409.2 221.1L409.6 221.2L410.2 221.7L410.8 222.7L411.4 224L412.7 227.7L415.2 236.8L416.5 240.9L417.1 242.5L417.7 243.7L418.3 244.5L419 244.8L419.3 244.9L419.6 244.8L419.9 244.5L420.5 243.8L421.2 242.6L421.8 241L422.4 239.1L425.6 227.8L426.8 224L427.5 222.5L428.1 221.5L428.7 220.9L429 220.7L429.3 220.7L429.7 220.8L430.3 221.3L430.9 222.3L431.5 223.7L432.8 227.4L435.3 236.5L436.6 240.6L437.2 242.2L437.8 243.5L438.5 244.3L439.1 244.7L439.4 244.7L439.7 244.6L440 244.4L440.7 243.6L441.3 242.5L441.9 240.9L442.9 238L445.7 227.7L446.9 223.9L447.6 222.5L448.2 221.4L448.8 220.8L449.1 220.7L449.4 220.6L449.8 220.7L450.1 220.9L450.7 221.7L451.3 222.8L452 224.4L453.2 228.3L456 238.6L456.7 240.5L457.3 242.1L457.9 243.4L458.6 244.2L459.2 244.6L459.5 244.7L459.8 244.6L460.1 244.4L460.8 243.6L461.4 242.5L462 240.9L463.3 237L466.1 226.7L467.4 223.2L468 221.9L468.6 221.1L469.2 220.6L469.6 220.6L469.9 220.7L470.2 220.9L470.8 221.6L471.4 222.8L472.1 224.3L473.3 228.2L476.1 238.5L477.4 242.1L478 243.3L478.7 244.2L479.3 244.6L479.6 244.6L479.9 244.6L480.2 244.4L480.9 243.7L481.5 242.5L482.1 241L483.4 237L486.2 226.8L487.5 223.2L488.1 221.9L488.7 221.1L489.3 220.6L489.7 220.6L490 220.7L490.3 220.9L490.9 221.6L491.5 222.7L492.2 224.2L493.4 228.2L496.3 238.4L497.5 242L498.1 243.3L498.8 244.2L499.4 244.6L499.7 244.6L500 244.6L500.3 244.4L501 243.7L501.6 242.6L502.2 241L503.5 237.1L506.3 226.9L507.6 223.3L508.2 222L508.8 221.1L509.4 220.6L509.8 220.6L510.1 220.7L510.4 220.8L511 221.5L511.6 222.7L512.3 224.2L513.5 228.1L516.4 238.4L517.6 242L518.2 243.3L518.9 244.1L519.5 244.6L519.8 244.6L520.1 244.6L520.4 244.4L521.1 243.7L521.7 242.6L522.3 241.1L523.6 237.2L526.4 226.9L527.7 223.3L528.3 222L528.9 221.1L529.6 220.7L529.9 220.6L530.2 220.7L530.5 220.8L531.1 221.5L531.7 222.6L532.4 224.1L533.6 228L536.5 238.3L537.7 241.9L538.3 243.2L539 244.1L539.6 244.6L539.9 244.6L540.2 244.6L540.9 244.1L541.5 243.2L542.1 241.9L543.4 238.3L546.2 228.1L547.5 224.2L548.1 222.7L548.7 221.5L549.3 220.8L549.7 220.7L550 220.6L550.3 220.6L550.9 221.1L551.5 222L552.2 223.3L553.4 226.9L556.3 237.2L557.5 241.1L558.1 242.6L558.8 243.7L559.4 244.4L559.7 244.6L560 244.6L560.3 244.6L561 244.2L561.6 243.3L562.2 242L563.5 238.4L566.3 228.1L567.6 224.2L568.2 222.7L568.8 221.6L569.4 220.9L569.8 220.7L570.1 220.6L570.4 220.6L571 221.1L571.6 222L572.3 223.2L573.5 226.8L576.4 237.1L577.6 241L578.2 242.5L578.9 243.7L579.5 244.4L579.8 244.6L580.1 244.6L580.4 244.6L581.1 244.2L581.7 243.3L582.3 242L583.6 238.5L586.4 228.2L587.7 224.3L588.3 222.7L588.9 221.6L589.5 220.9L589.9 220.7L590.2 220.6L590.5 220.6L591.1 221.1L591.7 221.9L592.4 223.2L593.6 226.8L596.5 237L597.4 240.1L598 241.8L598.7 243.1L599.3 244.1L599.9 244.6L600.2 244.6L600.5 244.6L601.2 244.2L601.8 243.3L602.4 242.1L603.7 238.5L606.5 228.3L607.8 224.3L608.4 222.8L609 221.6L609.7 220.9L610 220.7L610.3 220.6L610.6 220.6L610.9 220.8L611.5 221.4L612.2 222.5L612.8 223.9L614.1 227.8L616.6 236.9L617.5 240L618.1 241.7L618.8 243.1L619.4 244L620 244.6L620.3 244.6L620.6 244.6L621.3 244.2L621.9 243.4L622.5 242.1L623.2 240.5L623.8 238.6L626.6 228.3L627.9 224.4L628.5 222.8L629.1 221.7L629.8 220.9L630.1 220.7L630.4 220.6L630.7 220.6L631 220.8L631.6 221.4L632.3 222.4L632.9 223.9L634.2 227.7L636.7 236.9L637.6 240L638.2 241.7L638.9 243L639.5 244L639.8 244.3L640.1 244.5L640.4 244.6L640.8 244.6L641.1 244.5L641.7 243.9L642.6 242.2L643.3 240.6L643.9 238.6L646.7 228.4L648 224.4L648.6 222.9L649.2 221.7L649.9 220.9L650.2 220.7L650.5 220.6L650.8 220.6L651.1 220.8L651.7 221.4L652.4 222.4L653 223.8L654.3 227.6L657.4 238.9" stroke="url(#gcd2)" stroke-width="3.4"/>
<path d="M375 285.5L375.7 280.8L376.6 275.8L380.7 257.4L384.1 239.5L385.4 233.3L386.5 228.9L387.5 226.2L387.9 225.3L388.4 224.6L388.8 224.1L389.3 223.9L389.7 224L390.2 224.3L390.7 225L391.3 226.2L392 227.7L392.7 229.8L395.2 238.4L396.4 242.1L397 243.6L397.6 244.7L398.2 245.4L398.6 245.6L398.9 245.7L399.2 245.7L399.8 245.3L400.4 244.5L401.1 243.2L401.7 241.6L402.3 239.7L405.5 228.2L406.7 224.4L407.4 222.9L408 221.9L408.6 221.2L408.9 221.1L409.2 221.1L409.6 221.2L410.2 221.7L410.8 222.7L411.4 224L412.7 227.7L415.2 236.8L416.5 240.9L417.1 242.5L417.7 243.7L418.3 244.5L419 244.8L419.3 244.9L419.6 244.8L419.9 244.5L420.5 243.8L421.2 242.6L421.8 241L422.4 239.1L425.6 227.8L426.8 224L427.5 222.5L428.1 221.5L428.7 220.9L429 220.7L429.3 220.7L429.7 220.8L430.3 221.3L430.9 222.3L431.5 223.7L432.8 227.4L435.3 236.5L436.6 240.6L437.2 242.2L437.8 243.5L438.5 244.3L439.1 244.7L439.4 244.7L439.7 244.6L440 244.4L440.7 243.6L441.3 242.5L441.9 240.9L442.9 238L445.7 227.7L446.9 223.9L447.6 222.5L448.2 221.4L448.8 220.8L449.1 220.7L449.4 220.6L449.8 220.7L450.1 220.9L450.7 221.7L451.3 222.8L452 224.4L453.2 228.3L456 238.6L456.7 240.5L457.3 242.1L457.9 243.4L458.6 244.2L459.2 244.6L459.5 244.7L459.8 244.6L460.1 244.4L460.8 243.6L461.4 242.5L462 240.9L463.3 237L466.1 226.7L467.4 223.2L468 221.9L468.6 221.1L469.2 220.6L469.6 220.6L469.9 220.7L470.2 220.9L470.8 221.6L471.4 222.8L472.1 224.3L473.3 228.2L476.1 238.5L477.4 242.1L478 243.3L478.7 244.2L479.3 244.6L479.6 244.6L479.9 244.6L480.2 244.4L480.9 243.7L481.5 242.5L482.1 241L483.4 237L486.2 226.8L487.5 223.2L488.1 221.9L488.7 221.1L489.3 220.6L489.7 220.6L490 220.7L490.3 220.9L490.9 221.6L491.5 222.7L492.2 224.2L493.4 228.2L496.3 238.4L497.5 242L498.1 243.3L498.8 244.2L499.4 244.6L499.7 244.6L500 244.6L500.3 244.4L501 243.7L501.6 242.6L502.2 241L503.5 237.1L506.3 226.9L507.6 223.3L508.2 222L508.8 221.1L509.4 220.6L509.8 220.6L510.1 220.7L510.4 220.8L511 221.5L511.6 222.7L512.3 224.2L513.5 228.1L516.4 238.4L517.6 242L518.2 243.3L518.9 244.1L519.5 244.6L519.8 244.6L520.1 244.6L520.4 244.4L521.1 243.7L521.7 242.6L522.3 241.1L523.6 237.2L526.4 226.9L527.7 223.3L528.3 222L528.9 221.1L529.6 220.7L529.9 220.6L530.2 220.7L530.5 220.8L531.1 221.5L531.7 222.6L532.4 224.1L533.6 228L536.5 238.3L537.7 241.9L538.3 243.2L539 244.1L539.6 244.6L539.9 244.6L540.2 244.6L540.9 244.1L541.5 243.2L542.1 241.9L543.4 238.3L546.2 228.1L547.5 224.2L548.1 222.7L548.7 221.5L549.3 220.8L549.7 220.7L550 220.6L550.3 220.6L550.9 221.1L551.5 222L552.2 223.3L553.4 226.9L556.3 237.2L557.5 241.1L558.1 242.6L558.8 243.7L559.4 244.4L559.7 244.6L560 244.6L560.3 244.6L561 244.2L561.6 243.3L562.2 242L563.5 238.4L566.3 228.1L567.6 224.2L568.2 222.7L568.8 221.6L569.4 220.9L569.8 220.7L570.1 220.6L570.4 220.6L571 221.1L571.6 222L572.3 223.2L573.5 226.8L576.4 237.1L577.6 241L578.2 242.5L578.9 243.7L579.5 244.4L579.8 244.6L580.1 244.6L580.4 244.6L581.1 244.2L581.7 243.3L582.3 242L583.6 238.5L586.4 228.2L587.7 224.3L588.3 222.7L588.9 221.6L589.5 220.9L589.9 220.7L590.2 220.6L590.5 220.6L591.1 221.1L591.7 221.9L592.4 223.2L593.6 226.8L596.5 237L597.4 240.1L598 241.8L598.7 243.1L599.3 244.1L599.9 244.6L600.2 244.6L600.5 244.6L601.2 244.2L601.8 243.3L602.4 242.1L603.7 238.5L606.5 228.3L607.8 224.3L608.4 222.8L609 221.6L609.7 220.9L610 220.7L610.3 220.6L610.6 220.6L610.9 220.8L611.5 221.4L612.2 222.5L612.8 223.9L614.1 227.8L616.6 236.9L617.5 240L618.1 241.7L618.8 243.1L619.4 244L620 244.6L620.3 244.6L620.6 244.6L621.3 244.2L621.9 243.4L622.5 242.1L623.2 240.5L623.8 238.6L626.6 228.3L627.9 224.4L628.5 222.8L629.1 221.7L629.8 220.9L630.1 220.7L630.4 220.6L630.7 220.6L631 220.8L631.6 221.4L632.3 222.4L632.9 223.9L634.2 227.7L636.7 236.9L637.6 240L638.2 241.7L638.9 243L639.5 244L639.8 244.3L640.1 244.5L640.4 244.6L640.8 244.6L641.1 244.5L641.7 243.9L642.6 242.2L643.3 240.6L643.9 238.6L646.7 228.4L648 224.4L648.6 222.9L649.2 221.7L649.9 220.9L650.2 220.7L650.5 220.6L650.8 220.6L651.1 220.8L651.7 221.4L652.4 222.4L653 223.8L654.3 227.6L657.4 238.9" stroke="url(#gc2)" stroke-width="1.9"/>
<path d="M375 370.6L375.8 363.9L377.9 349.5L380.3 331L381.1 326.3L381.5 324.7L381.9 323.4L382.2 322.8L382.5 322.6L382.8 322.6L383.1 322.9L383.8 324.4L385 328.2L385.6 329.6L385.9 330.1L386.2 330.3L386.5 330.4L386.7 330.3L387.1 329.8L387.3 329.3L387.9 327.3L389.7 318.9L390.3 316.6L390.9 315L391.2 314.7L391.6 314.6L391.8 314.7L392.1 315.1L392.7 316.4L394.5 323.2L395.1 324.9L395.6 326L396 326.2L396.2 326.1L396.5 325.8L396.7 325.4L397.3 323.8L399 316.6L399.6 314.3L400.2 312.8L400.6 312.4L400.8 312.3L401 312.4L401.4 312.9L402 314.4L403.9 321.6L404.5 323.5L404.9 324.4L405.1 324.7L405.3 324.8L405.5 324.9L405.9 324.6L406.5 323.3L407.1 321.3L408.9 313.8L409.5 312.2L409.9 311.6L410.1 311.5L410.3 311.6L410.5 311.7L410.7 312L411.1 312.8L411.7 314.7L413.2 320.6L413.8 322.7L414.4 324L414.8 324.4L415 324.4L415.2 324.3L415.6 323.7L416.2 322L418 314.6L418.6 312.6L419 311.7L419.2 311.5L419.4 311.3L419.6 311.3L419.8 311.3L420.2 311.9L420.8 313.4L422.6 320.8L423.2 322.8L423.8 324L424.1 324.2L424.3 324.2L424.5 324.2L424.7 324L425.3 322.8L425.9 320.8L427.7 313.4L428.3 311.8L428.7 311.3L428.9 311.2L429.1 311.2L429.3 311.3L429.5 311.6L429.9 312.4L430.5 314.4L432.3 321.8L432.9 323.4L433.3 324L433.5 324.2L433.7 324.2L433.9 324.1L434.1 323.8L434.5 323L435.2 321.1L436.6 315.2L437.2 313L437.8 311.6L438.2 311.2L438.4 311.1L438.6 311.2L439 311.7L439.6 313.3L441.4 320.7L442 322.7L442.6 323.9L443 324.2L443.2 324.1L443.4 323.9L444 322.8L444.6 320.8L446.5 313.4L447.1 311.8L447.5 311.2L447.7 311.1L447.9 311.1L448.3 311.5L448.9 312.9L449.5 315.1L450.9 321L451.5 322.9L451.9 323.8L452.1 324L452.3 324.1L452.5 324.1L452.7 324L453.1 323.5L453.7 321.9L455.5 314.5L456.1 312.5L456.6 311.6L456.8 311.3L457 311.2L457.2 311.1L457.4 311.2L457.8 311.7L458.4 313.2L460.2 320.6L460.8 322.7L461.4 323.9L461.8 324.1L462 324.1L462.2 323.9L462.8 322.8L463.4 320.8L465.2 313.4L465.8 311.8L466.2 311.2L466.4 311.1L466.6 311.1L466.8 311.3L467 311.5L467.5 312.3L468.1 314.3L469.5 320.2L470.1 322.3L470.7 323.7L471.1 324.1L471.3 324.1L471.5 324L471.9 323.5L472.5 321.9L474.3 314.5L474.9 312.5L475.5 311.3L475.7 311.2L475.9 311.1L476.3 311.4L476.9 312.6L477.5 314.6L479.4 322L480 323.6L480.4 324.1L480.6 324.1L480.8 324.1L481 324L481.2 323.7L481.6 322.8L482.2 320.8L484 313.4L484.6 311.8L485 311.2L485.2 311.1L485.4 311.1L485.6 311.3L485.8 311.5L486.2 312.3L486.8 314.2L488.2 320.2L488.8 322.3L489.5 323.7L489.9 324.1L490.1 324.1L490.3 324L490.7 323.5L491.3 321.9L493.1 314.5L493.7 312.5L494.3 311.3L494.5 311.2L494.7 311.1L494.9 311.2L495.1 311.4L495.7 312.6L496.3 314.6L498.1 322L498.7 323.5L499.1 324.1L499.3 324.1L499.5 324.1L499.7 324L500 323.7L500.4 322.8L501 320.9L502.8 313.5L503.4 311.8L503.8 311.2L504 311.1L504.2 311.1L504.4 311.3L504.6 311.5L505 312.3L505.6 314.2L507 320.1L507.6 322.3L508.2 323.7L508.6 324.1L508.8 324.1L509 324.1L509.4 323.5L510 322L511.9 314.6L512.5 312.5L513.1 311.4L513.3 311.2L513.5 311.1L513.7 311.2L513.9 311.3L514.5 312.5L515.1 314.6L516.9 322L517.5 323.5L517.9 324.1L518.1 324.1L518.3 324.1L518.5 324L518.7 323.7L519.1 322.9L519.7 320.9L521.5 313.5L522.2 311.8L522.6 311.3L522.8 311.1L523 311.1L523.2 311.2L523.4 311.5L523.8 312.3L524.4 314.2L525.8 320.1L526.4 322.3L527 323.7L527.4 324.1L527.6 324.1L527.8 324.1L528.2 323.5L528.8 322L530.6 314.6L531.2 312.6L531.8 311.4L532 311.2L532.2 311.1L532.4 311.2L532.7 311.3L533.3 312.5L533.9 314.5L535.7 321.9L536.3 323.5L536.7 324L536.9 324.1L537.1 324.1L537.5 323.7L538.1 322.3L538.7 320.2L540.1 314.2L540.7 312.3L541.1 311.5L541.3 311.3L541.5 311.1L541.7 311.1L541.9 311.2L542.3 311.8L542.9 313.4L544.8 320.8L545.4 322.8L545.8 323.7L546 323.9L546.2 324.1L546.4 324.1L546.6 324.1L547 323.6L547.6 322L549.4 314.6L550 312.6L550.6 311.4L551 311.1L551.2 311.2L551.4 311.3L552 312.5L552.6 314.5L554.5 321.9L555.1 323.5L555.5 324L555.7 324.1L555.9 324.1L556.3 323.7L556.9 322.3L557.5 320.2L558.9 314.3L559.5 312.3L559.9 311.5L560.1 311.3L560.3 311.1L560.5 311.1L560.7 311.2L561.1 311.8L561.7 313.4L563.5 320.8L564.1 322.8L564.7 323.9L564.9 324.1L565.2 324.1L565.6 323.9L566.2 322.7L566.8 320.6L568.6 313.2L569.2 311.7L569.6 311.2L569.8 311.1L570 311.2L570.2 311.3L570.4 311.6L570.8 312.5L571.4 314.4L573.2 321.9L573.8 323.5L574.2 324L574.4 324.1L574.6 324.1L574.8 324L575 323.8L575.4 322.9L576.1 321L577.5 315.1L578.1 312.9L578.7 311.5L579.1 311.1L579.3 311.1L579.5 311.2L579.9 311.8L580.5 313.4L582.3 320.8L582.9 322.8L583.5 323.9L583.7 324.1L583.9 324.1L584.3 323.9L584.9 322.7L585.5 320.6L587.4 313.3L588 311.7L588.4 311.2L588.6 311.1L588.8 311.2L589 311.3L589.2 311.6L589.6 312.4L590.2 314.4L592 321.8L592.6 323.5L593 324L593.2 324.1L593.4 324.1L593.6 324L593.8 323.8L594.2 323L594.8 321L596.2 315.1L596.8 313L597.4 311.5L597.9 311.1L598.1 311.1L598.3 311.2L598.7 311.7L599.3 313.3L601.1 320.7L601.7 322.7L602.3 323.9L602.5 324.1L602.7 324.1L602.9 324.1L603.1 323.9L603.7 322.7L604.3 320.7L606.1 313.3L606.7 311.7L607.1 311.2L607.3 311.1L607.5 311.1L607.7 311.3L607.9 311.6L608.3 312.4L609 314.4L610.8 321.8L611.4 323.4L611.8 324L612 324.1L612.2 324.1L612.4 324L612.6 323.8L613 323L613.6 321.1L615 315.2L615.6 313L616.2 311.6L616.6 311.1L616.8 311.1L617 311.2L617.4 311.7L618 313.3L619.9 320.7L620.5 322.7L621.1 323.9L621.3 324.1L621.5 324.1L621.7 324.1L621.9 323.9L622.5 322.7L623.1 320.7L624.9 313.3L625.5 311.7L625.9 311.2L626.1 311.1L626.3 311.1L626.5 311.3L626.7 311.5L627.1 312.4L627.7 314.3L629.5 321.8L630.1 323.4L630.6 324L630.8 324.1L631 324.1L631.2 324L631.4 323.8L631.8 323L632.4 321.1L633.8 315.2L634.4 313L635 311.6L635.4 311.2L635.6 311.1L636 311.4L636.6 312.6L637.2 314.7L638.4 319.8L639 322.1L639.6 323.6L640 324.1L640.2 324.1L640.4 324.1L640.6 323.9L641.3 322.8L641.9 320.8L643.7 313.4L644.3 311.8L644.7 311.2L644.9 311.1L645.1 311.1L645.5 311.5L646.1 312.9L646.7 315.1L648.3 321.7L648.9 323.4L649.3 324L649.5 324.1L649.7 324.1L649.9 324L650.1 323.8L650.5 323L651.1 321.2L652.6 315.3L653.2 313.1L653.8 311.6L654.2 311.2L654.4 311.1L654.8 311.4L655.4 312.6L656 314.7L657.4 320.6" stroke="url(#gcd3)" stroke-width="3.4"/>
<path d="M375 370.6L375.8 363.9L377.9 349.5L380.3 331L381.1 326.3L381.5 324.7L381.9 323.4L382.2 322.8L382.5 322.6L382.8 322.6L383.1 322.9L383.8 324.4L385 328.2L385.6 329.6L385.9 330.1L386.2 330.3L386.5 330.4L386.7 330.3L387.1 329.8L387.3 329.3L387.9 327.3L389.7 318.9L390.3 316.6L390.9 315L391.2 314.7L391.6 314.6L391.8 314.7L392.1 315.1L392.7 316.4L394.5 323.2L395.1 324.9L395.6 326L396 326.2L396.2 326.1L396.5 325.8L396.7 325.4L397.3 323.8L399 316.6L399.6 314.3L400.2 312.8L400.6 312.4L400.8 312.3L401 312.4L401.4 312.9L402 314.4L403.9 321.6L404.5 323.5L404.9 324.4L405.1 324.7L405.3 324.8L405.5 324.9L405.9 324.6L406.5 323.3L407.1 321.3L408.9 313.8L409.5 312.2L409.9 311.6L410.1 311.5L410.3 311.6L410.5 311.7L410.7 312L411.1 312.8L411.7 314.7L413.2 320.6L413.8 322.7L414.4 324L414.8 324.4L415 324.4L415.2 324.3L415.6 323.7L416.2 322L418 314.6L418.6 312.6L419 311.7L419.2 311.5L419.4 311.3L419.6 311.3L419.8 311.3L420.2 311.9L420.8 313.4L422.6 320.8L423.2 322.8L423.8 324L424.1 324.2L424.3 324.2L424.5 324.2L424.7 324L425.3 322.8L425.9 320.8L427.7 313.4L428.3 311.8L428.7 311.3L428.9 311.2L429.1 311.2L429.3 311.3L429.5 311.6L429.9 312.4L430.5 314.4L432.3 321.8L432.9 323.4L433.3 324L433.5 324.2L433.7 324.2L433.9 324.1L434.1 323.8L434.5 323L435.2 321.1L436.6 315.2L437.2 313L437.8 311.6L438.2 311.2L438.4 311.1L438.6 311.2L439 311.7L439.6 313.3L441.4 320.7L442 322.7L442.6 323.9L443 324.2L443.2 324.1L443.4 323.9L444 322.8L444.6 320.8L446.5 313.4L447.1 311.8L447.5 311.2L447.7 311.1L447.9 311.1L448.3 311.5L448.9 312.9L449.5 315.1L450.9 321L451.5 322.9L451.9 323.8L452.1 324L452.3 324.1L452.5 324.1L452.7 324L453.1 323.5L453.7 321.9L455.5 314.5L456.1 312.5L456.6 311.6L456.8 311.3L457 311.2L457.2 311.1L457.4 311.2L457.8 311.7L458.4 313.2L460.2 320.6L460.8 322.7L461.4 323.9L461.8 324.1L462 324.1L462.2 323.9L462.8 322.8L463.4 320.8L465.2 313.4L465.8 311.8L466.2 311.2L466.4 311.1L466.6 311.1L466.8 311.3L467 311.5L467.5 312.3L468.1 314.3L469.5 320.2L470.1 322.3L470.7 323.7L471.1 324.1L471.3 324.1L471.5 324L471.9 323.5L472.5 321.9L474.3 314.5L474.9 312.5L475.5 311.3L475.7 311.2L475.9 311.1L476.3 311.4L476.9 312.6L477.5 314.6L479.4 322L480 323.6L480.4 324.1L480.6 324.1L480.8 324.1L481 324L481.2 323.7L481.6 322.8L482.2 320.8L484 313.4L484.6 311.8L485 311.2L485.2 311.1L485.4 311.1L485.6 311.3L485.8 311.5L486.2 312.3L486.8 314.2L488.2 320.2L488.8 322.3L489.5 323.7L489.9 324.1L490.1 324.1L490.3 324L490.7 323.5L491.3 321.9L493.1 314.5L493.7 312.5L494.3 311.3L494.5 311.2L494.7 311.1L494.9 311.2L495.1 311.4L495.7 312.6L496.3 314.6L498.1 322L498.7 323.5L499.1 324.1L499.3 324.1L499.5 324.1L499.7 324L500 323.7L500.4 322.8L501 320.9L502.8 313.5L503.4 311.8L503.8 311.2L504 311.1L504.2 311.1L504.4 311.3L504.6 311.5L505 312.3L505.6 314.2L507 320.1L507.6 322.3L508.2 323.7L508.6 324.1L508.8 324.1L509 324.1L509.4 323.5L510 322L511.9 314.6L512.5 312.5L513.1 311.4L513.3 311.2L513.5 311.1L513.7 311.2L513.9 311.3L514.5 312.5L515.1 314.6L516.9 322L517.5 323.5L517.9 324.1L518.1 324.1L518.3 324.1L518.5 324L518.7 323.7L519.1 322.9L519.7 320.9L521.5 313.5L522.2 311.8L522.6 311.3L522.8 311.1L523 311.1L523.2 311.2L523.4 311.5L523.8 312.3L524.4 314.2L525.8 320.1L526.4 322.3L527 323.7L527.4 324.1L527.6 324.1L527.8 324.1L528.2 323.5L528.8 322L530.6 314.6L531.2 312.6L531.8 311.4L532 311.2L532.2 311.1L532.4 311.2L532.7 311.3L533.3 312.5L533.9 314.5L535.7 321.9L536.3 323.5L536.7 324L536.9 324.1L537.1 324.1L537.5 323.7L538.1 322.3L538.7 320.2L540.1 314.2L540.7 312.3L541.1 311.5L541.3 311.3L541.5 311.1L541.7 311.1L541.9 311.2L542.3 311.8L542.9 313.4L544.8 320.8L545.4 322.8L545.8 323.7L546 323.9L546.2 324.1L546.4 324.1L546.6 324.1L547 323.6L547.6 322L549.4 314.6L550 312.6L550.6 311.4L551 311.1L551.2 311.2L551.4 311.3L552 312.5L552.6 314.5L554.5 321.9L555.1 323.5L555.5 324L555.7 324.1L555.9 324.1L556.3 323.7L556.9 322.3L557.5 320.2L558.9 314.3L559.5 312.3L559.9 311.5L560.1 311.3L560.3 311.1L560.5 311.1L560.7 311.2L561.1 311.8L561.7 313.4L563.5 320.8L564.1 322.8L564.7 323.9L564.9 324.1L565.2 324.1L565.6 323.9L566.2 322.7L566.8 320.6L568.6 313.2L569.2 311.7L569.6 311.2L569.8 311.1L570 311.2L570.2 311.3L570.4 311.6L570.8 312.5L571.4 314.4L573.2 321.9L573.8 323.5L574.2 324L574.4 324.1L574.6 324.1L574.8 324L575 323.8L575.4 322.9L576.1 321L577.5 315.1L578.1 312.9L578.7 311.5L579.1 311.1L579.3 311.1L579.5 311.2L579.9 311.8L580.5 313.4L582.3 320.8L582.9 322.8L583.5 323.9L583.7 324.1L583.9 324.1L584.3 323.9L584.9 322.7L585.5 320.6L587.4 313.3L588 311.7L588.4 311.2L588.6 311.1L588.8 311.2L589 311.3L589.2 311.6L589.6 312.4L590.2 314.4L592 321.8L592.6 323.5L593 324L593.2 324.1L593.4 324.1L593.6 324L593.8 323.8L594.2 323L594.8 321L596.2 315.1L596.8 313L597.4 311.5L597.9 311.1L598.1 311.1L598.3 311.2L598.7 311.7L599.3 313.3L601.1 320.7L601.7 322.7L602.3 323.9L602.5 324.1L602.7 324.1L602.9 324.1L603.1 323.9L603.7 322.7L604.3 320.7L606.1 313.3L606.7 311.7L607.1 311.2L607.3 311.1L607.5 311.1L607.7 311.3L607.9 311.6L608.3 312.4L609 314.4L610.8 321.8L611.4 323.4L611.8 324L612 324.1L612.2 324.1L612.4 324L612.6 323.8L613 323L613.6 321.1L615 315.2L615.6 313L616.2 311.6L616.6 311.1L616.8 311.1L617 311.2L617.4 311.7L618 313.3L619.9 320.7L620.5 322.7L621.1 323.9L621.3 324.1L621.5 324.1L621.7 324.1L621.9 323.9L622.5 322.7L623.1 320.7L624.9 313.3L625.5 311.7L625.9 311.2L626.1 311.1L626.3 311.1L626.5 311.3L626.7 311.5L627.1 312.4L627.7 314.3L629.5 321.8L630.1 323.4L630.6 324L630.8 324.1L631 324.1L631.2 324L631.4 323.8L631.8 323L632.4 321.1L633.8 315.2L634.4 313L635 311.6L635.4 311.2L635.6 311.1L636 311.4L636.6 312.6L637.2 314.7L638.4 319.8L639 322.1L639.6 323.6L640 324.1L640.2 324.1L640.4 324.1L640.6 323.9L641.3 322.8L641.9 320.8L643.7 313.4L644.3 311.8L644.7 311.2L644.9 311.1L645.1 311.1L645.5 311.5L646.1 312.9L646.7 315.1L648.3 321.7L648.9 323.4L649.3 324L649.5 324.1L649.7 324.1L649.9 324L650.1 323.8L650.5 323L651.1 321.2L652.6 315.3L653.2 313.1L653.8 311.6L654.2 311.2L654.4 311.1L654.8 311.4L655.4 312.6L656 314.7L657.4 320.6" stroke="url(#gc3)" stroke-width="1.9"/>
<path d="M375 455.2L375.2 451.3L375.5 447.6L376.4 442.8L376.7 440L378 421.9L378.4 418.8L378.6 417.6L378.7 417.3L378.8 417.1L378.9 417.1L379.1 417.5L379.8 419.3L380 419.5L380.2 419.2L380.7 417.2L381.6 409.5L381.8 408.5L382.1 407.9L382.2 407.8L382.3 407.9L382.5 408.2L383.3 411.1L383.5 411.7L383.7 411.8L383.9 411.5L384.1 410.8L385.1 405.3L385.3 404.5L385.5 404L385.6 404L385.8 404L386 404.4L386.8 407.7L387.1 408.2L387.3 408.3L387.5 408.1L387.7 407.5L388.6 403.3L388.8 402.6L389 402.2L389.2 402.2L389.5 402.5L390.4 406.1L390.6 406.5L390.9 406.6L391.1 406.3L391.3 405.7L392.2 402L392.4 401.4L392.6 401.1L392.8 401.3L393 401.7L393.9 405L394.1 405.5L394.3 405.7L394.6 405.5L394.8 405L395.6 401.5L395.9 400.9L396.1 400.6L396.3 400.7L396.5 401.1L397.5 404.6L397.7 405.1L397.9 405.2L398.1 404.9L398.4 404.4L399.1 401.3L399.3 400.7L399.6 400.4L399.8 400.4L400 400.7L401 404.2L401.2 404.7L401.4 404.9L401.6 404.7L401.8 404.3L402.7 401L403 400.3L403.3 400.2L403.5 400.5L404.6 404.3L404.8 404.7L405 404.8L405.2 404.5L405.4 403.9L406.3 400.7L406.5 400.2L406.7 400.1L406.9 400.3L407.2 400.9L408 404.1L408.2 404.6L408.5 404.7L408.7 404.5L408.9 404L409.8 400.8L410 400.3L410.2 400.1L410.4 400.2L410.6 400.7L411.5 403.9L411.7 404.4L411.9 404.7L412.2 404.5L412.4 404.1L413.4 400.6L413.6 400.2L413.8 400.1L414 400.3L414.2 400.9L415.1 404.1L415.3 404.5L415.5 404.6L415.7 404.4L416 403.9L416.8 400.7L417.1 400.2L417.3 400L417.5 400.2L417.7 400.7L418.6 403.9L418.8 404.4L419 404.6L419.2 404.5L419.4 404L420.3 400.8L420.5 400.3L420.7 400L421 400.2L421.2 400.6L422.2 404.1L422.4 404.5L422.6 404.6L422.8 404.4L423 403.8L423.9 400.6L424.1 400.2L424.3 400L424.5 400.2L424.8 400.8L425.6 404L425.9 404.5L426.1 404.6L426.3 404.4L426.5 404L427.4 400.7L427.6 400.2L427.8 400L428 400.2L428.2 400.6L429.1 403.8L429.3 404.4L429.5 404.6L429.8 404.5L430 404.1L431 400.6L431.2 400.1L431.4 400L431.6 400.3L431.8 400.8L432.7 404L432.9 404.5L433.1 404.6L433.3 404.4L433.6 403.9L434.4 400.7L434.7 400.2L434.9 400L435.1 400.2L435.3 400.7L436.2 403.9L436.4 404.4L436.6 404.6L436.8 404.5L437 404L437.9 400.8L438.1 400.3L438.3 400L438.6 400.1L438.8 400.6L439.8 404.1L440 404.5L440.2 404.6L440.4 404.4L440.6 403.8L441.5 400.6L441.7 400.2L441.9 400L442.2 400.2L442.4 400.7L443.2 404L443.5 404.4L443.7 404.6L443.9 404.5L444.1 404L445 400.8L445.2 400.2L445.4 400L445.6 400.2L445.8 400.6L446.7 403.8L446.9 404.4L447.1 404.6L447.4 404.5L447.6 404.1L448.6 400.6L448.8 400.1L449 400L449.2 400.3L449.4 400.8L450.3 404L450.5 404.5L450.7 404.6L451 404.4L451.2 403.9L452 400.7L452.3 400.2L452.5 400L452.7 400.2L452.9 400.7L453.8 403.9L454 404.4L454.2 404.6L454.4 404.5L454.6 404L455.5 400.8L455.7 400.3L455.9 400L456.2 400.1L456.4 400.5L457.4 404.1L457.6 404.5L457.8 404.6L458 404.4L458.2 403.9L459.1 400.6L459.3 400.2L459.5 400L459.8 400.2L460 400.7L460.8 403.9L461.1 404.4L461.3 404.6L461.5 404.5L461.7 404L462.6 400.8L462.8 400.2L463 400L463.2 400.2L463.4 400.6L464.3 403.8L464.5 404.4L464.8 404.6L465 404.5L465.2 404.1L466.2 400.6L466.4 400.2L466.6 400L466.8 400.3L467 400.8L467.9 404L468.1 404.5L468.3 404.6L468.6 404.4L468.8 403.9L469.6 400.7L469.9 400.2L470.1 400L470.3 400.2L470.5 400.7L471.4 403.9L471.6 404.4L471.8 404.6L472 404.5L472.2 404.1L473.1 400.9L473.3 400.3L473.6 400L473.8 400.1L474 400.5L475 404L475.2 404.5L475.4 404.6L475.6 404.4L475.8 403.9L476.7 400.7L476.9 400.2L477.1 400L477.4 400.2L477.6 400.7L478.4 403.9L478.7 404.4L478.9 404.6L479.1 404.5L479.3 404L480.2 400.8L480.4 400.3L480.6 400L480.8 400.1L481 400.6L482 404.1L482.2 404.5L482.5 404.6L482.7 404.4L482.9 403.8L483.8 400.6L484 400.2L484.2 400L484.4 400.2L484.6 400.8L485.5 404L485.7 404.5L485.9 404.6L486.2 404.4L486.4 403.9L487.2 400.7L487.5 400.2L487.7 400L487.9 400.2L488.1 400.6L489 403.8L489.2 404.4L489.4 404.6L489.6 404.5L489.9 404.1L490.8 400.6L491 400.1L491.3 400L491.5 400.3L491.7 400.8L492.6 404L492.8 404.5L493 404.6L493.2 404.4L493.4 403.9L494.3 400.7L494.5 400.2L494.7 400L495 400.2L495.2 400.7L496 403.9L496.3 404.4L496.5 404.6L496.7 404.5L496.9 404L497.8 400.8L498 400.3L498.2 400L498.4 400.1L498.7 400.6L499.6 404.1L499.8 404.5L500.1 404.6L500.3 404.4L500.5 403.8L501.4 400.6L501.6 400.2L501.8 400L502 400.2L502.2 400.7L503.1 404L503.3 404.4L503.5 404.6L503.8 404.5L504 404L504.8 400.8L505.1 400.2L505.3 400L505.5 400.2L505.7 400.6L506.6 403.8L506.8 404.4L507 404.6L507.2 404.5L507.5 404.1L508.4 400.6L508.6 400.1L508.9 400L509.1 400.3L509.3 400.8L510.2 404L510.4 404.5L510.6 404.6L510.8 404.4L511 403.9L511.9 400.7L512.1 400.2L512.3 400L512.6 400.2L512.8 400.7L513.6 403.9L513.9 404.4L514.1 404.6L514.3 404.5L514.5 404L515.4 400.8L515.6 400.3L515.8 400L516 400.1L516.3 400.5L517.2 404.1L517.4 404.5L517.7 404.6L517.9 404.4L518.1 403.9L519 400.6L519.2 400.2L519.4 400L519.6 400.2L519.8 400.7L520.7 403.9L520.9 404.4L521.1 404.6L521.4 404.5L521.6 404L522.4 400.8L522.7 400.2L522.9 400L523.1 400.2L523.3 400.6L524.2 403.8L524.4 404.4L524.6 404.6L524.8 404.5L525.1 404.1L526 400.6L526.3 400.1L526.5 400L526.7 400.3L526.9 400.8L527.8 404L528 404.5L528.2 404.6L528.4 404.4L528.6 403.9L529.5 400.7L529.7 400.2L529.9 400L530.2 400.2L530.4 400.7L531.2 403.9L531.5 404.4L531.7 404.6L531.9 404.5L532.1 404.1L533 400.9L533.2 400.3L533.4 400L533.6 400.1L533.9 400.5L534.8 404L535.1 404.5L535.3 404.6L535.5 404.4L535.7 403.9L536.6 400.7L536.8 400.2L537 400L537.2 400.2L537.4 400.7L538.3 403.9L538.5 404.4L538.7 404.6L539 404.5L539.2 404L540.1 400.8L540.3 400.3L540.5 400L540.7 400.1L540.9 400.6L541.9 404.1L542.1 404.5L542.3 404.6L542.5 404.4L542.8 403.8L543.6 400.6L543.9 400.2L544.1 400L544.3 400.2L544.5 400.8L545.4 404L545.6 404.5L545.8 404.6L546 404.4L546.2 403.9L547.1 400.7L547.3 400.2L547.5 400L547.8 400.2L548 400.6L548.9 403.8L549.1 404.4L549.3 404.6L549.5 404.5L549.7 404.1L550.7 400.6L550.9 400.1L551.1 400L551.4 400.3L551.6 400.8L552.4 404L552.7 404.5L552.9 404.6L553.1 404.4L553.3 403.9L554.2 400.7L554.4 400.2L554.6 400L554.8 400.2L555 400.7L555.9 403.9L556.1 404.4L556.3 404.6L556.6 404.5L556.8 404L557.7 400.8L557.9 400.3L558.1 400L558.3 400.1L558.5 400.6L559.5 404.1L559.7 404.5L559.9 404.6L560.2 404.4L560.4 403.8L561.2 400.6L561.5 400.2L561.7 400L561.9 400.2L562.1 400.7L563 404L563.2 404.4L563.4 404.6L563.6 404.4L563.8 404L564.7 400.8L564.9 400.2L565.2 400L565.4 400.2L565.6 400.6L566.5 403.8L566.7 404.4L566.9 404.6L567.1 404.5L567.3 404.1L568.3 400.6L568.5 400.1L568.7 400L569 400.3L569.2 400.8L570 404L570.3 404.5L570.5 404.6L570.7 404.4L570.9 403.9L571.8 400.7L572 400.2L572.2 400L572.4 400.2L572.6 400.7L573.5 403.9L573.7 404.4L574 404.6L574.2 404.5L574.4 404L575.3 400.8L575.5 400.3L575.7 400L575.9 400.1L576.1 400.6L577.1 404.1L577.3 404.5L577.5 404.6L577.8 404.4L578 403.9L578.8 400.6L579.1 400.2L579.3 400L579.5 400.2L579.7 400.7L580.6 403.9L580.8 404.4L581 404.6L581.2 404.5L581.4 404L582.3 400.8L582.5 400.2L582.8 400L583 400.2L583.2 400.6L584.1 403.8L584.3 404.4L584.5 404.6L584.7 404.5L584.9 404.1L585.9 400.6L586.1 400.1L586.3 400L586.6 400.3L586.8 400.8L587.6 404L587.9 404.5L588.1 404.6L588.3 404.4L588.5 403.9L589.4 400.7L589.6 400.2L589.8 400L590 400.2L590.2 400.7L591.1 403.9L591.3 404.4L591.6 404.6L591.8 404.5L592 404.1L592.9 400.8L593.1 400.3L593.3 400L593.5 400.1L593.7 400.5L594.7 404.1L594.9 404.5L595.1 404.6L595.4 404.4L595.6 403.9L596.4 400.7L596.7 400.2L596.9 400L597.1 400.2L597.3 400.7L598.2 403.9L598.4 404.4L598.6 404.6L598.8 404.5L599.1 404L599.9 400.8L600.1 400.3L600.4 400L600.6 400.1L600.8 400.6L601.8 404.1L602 404.5L602.2 404.6L602.4 404.4L602.6 403.8L603.5 400.6L603.7 400.2L603.9 400L604.2 400.2L604.4 400.8L605.2 404L605.5 404.5L605.7 404.6L605.9 404.4L606.1 403.9L607 400.7L607.2 400.2L607.4 400L607.6 400.2L607.9 400.6L608.7 403.8L608.9 404.4L609.2 404.6L609.4 404.5L609.6 404.1L610.5 400.9L610.7 400.3L610.9 400L611.1 400.1L611.3 400.5L612.3 404L612.5 404.5L612.7 404.6L613 404.4L613.2 403.9L614 400.7L614.3 400.2L614.5 400L614.7 400.2L614.9 400.7L615.8 403.9L616 404.4L616.2 404.6L616.4 404.5L616.7 404L617.5 400.8L617.7 400.3L618 400L618.2 400.1L618.4 400.6L619.4 404.1L619.6 404.5L619.8 404.6L620 404.4L620.2 403.8L621.1 400.6L621.3 400.2L621.5 400L621.8 400.2L622 400.7L622.8 404L623.1 404.4L623.3 404.6L623.5 404.4L623.7 404L624.6 400.7L624.8 400.2L625 400L625.2 400.2L625.5 400.6L626.3 403.8L626.5 404.4L626.8 404.6L627 404.5L627.2 404.1L628.1 400.9L628.3 400.3L628.5 400L628.7 400.1L628.9 400.5L629.9 404L630.1 404.5L630.3 404.6L630.6 404.4L630.8 403.9L631.6 400.7L631.9 400.2L632.1 400L632.3 400.2L632.5 400.7L633.4 403.9L633.6 404.4L633.8 404.6L634 404.5L634.3 404L635.1 400.8L635.3 400.3L635.6 400L635.8 400.1L636 400.6L637 404.1L637.2 404.5L637.4 404.6L637.6 404.4L637.8 403.8L638.7 400.6L638.9 400.2L639.1 400L639.4 400.2L639.6 400.7L640.4 403.9L640.7 404.4L640.9 404.6L641.1 404.5L641.3 404L642.2 400.8L642.4 400.2L642.6 400L642.8 400.2L643.1 400.6L643.9 403.8L644.1 404.4L644.4 404.6L644.6 404.5L644.8 404.1L645.7 400.9L645.9 400.3L646.1 400L646.3 400.1L646.5 400.5L647.5 404L647.7 404.5L647.9 404.6L648.2 404.4L648.4 403.9L649.3 400.7L649.5 400.2L649.7 400L649.9 400.2L650.1 400.7L651 403.9L651.2 404.4L651.4 404.6L651.6 404.5L651.9 404L652.7 400.8L652.9 400.3L653.2 400L653.4 400.1L653.6 400.5L654.5 403.7L654.7 404.3L654.9 404.6L655.1 404.5L655.3 404.2L656.2 401L656.5 400.2L656.7 400L657 400.2L657.4 401.5" stroke="url(#gcd4)" stroke-width="3.4"/>
<path d="M375 455.2L375.2 451.3L375.5 447.6L376.4 442.8L376.7 440L378 421.9L378.4 418.8L378.6 417.6L378.7 417.3L378.8 417.1L378.9 417.1L379.1 417.5L379.8 419.3L380 419.5L380.2 419.2L380.7 417.2L381.6 409.5L381.8 408.5L382.1 407.9L382.2 407.8L382.3 407.9L382.5 408.2L383.3 411.1L383.5 411.7L383.7 411.8L383.9 411.5L384.1 410.8L385.1 405.3L385.3 404.5L385.5 404L385.6 404L385.8 404L386 404.4L386.8 407.7L387.1 408.2L387.3 408.3L387.5 408.1L387.7 407.5L388.6 403.3L388.8 402.6L389 402.2L389.2 402.2L389.5 402.5L390.4 406.1L390.6 406.5L390.9 406.6L391.1 406.3L391.3 405.7L392.2 402L392.4 401.4L392.6 401.1L392.8 401.3L393 401.7L393.9 405L394.1 405.5L394.3 405.7L394.6 405.5L394.8 405L395.6 401.5L395.9 400.9L396.1 400.6L396.3 400.7L396.5 401.1L397.5 404.6L397.7 405.1L397.9 405.2L398.1 404.9L398.4 404.4L399.1 401.3L399.3 400.7L399.6 400.4L399.8 400.4L400 400.7L401 404.2L401.2 404.7L401.4 404.9L401.6 404.7L401.8 404.3L402.7 401L403 400.3L403.3 400.2L403.5 400.5L404.6 404.3L404.8 404.7L405 404.8L405.2 404.5L405.4 403.9L406.3 400.7L406.5 400.2L406.7 400.1L406.9 400.3L407.2 400.9L408 404.1L408.2 404.6L408.5 404.7L408.7 404.5L408.9 404L409.8 400.8L410 400.3L410.2 400.1L410.4 400.2L410.6 400.7L411.5 403.9L411.7 404.4L411.9 404.7L412.2 404.5L412.4 404.1L413.4 400.6L413.6 400.2L413.8 400.1L414 400.3L414.2 400.9L415.1 404.1L415.3 404.5L415.5 404.6L415.7 404.4L416 403.9L416.8 400.7L417.1 400.2L417.3 400L417.5 400.2L417.7 400.7L418.6 403.9L418.8 404.4L419 404.6L419.2 404.5L419.4 404L420.3 400.8L420.5 400.3L420.7 400L421 400.2L421.2 400.6L422.2 404.1L422.4 404.5L422.6 404.6L422.8 404.4L423 403.8L423.9 400.6L424.1 400.2L424.3 400L424.5 400.2L424.8 400.8L425.6 404L425.9 404.5L426.1 404.6L426.3 404.4L426.5 404L427.4 400.7L427.6 400.2L427.8 400L428 400.2L428.2 400.6L429.1 403.8L429.3 404.4L429.5 404.6L429.8 404.5L430 404.1L431 400.6L431.2 400.1L431.4 400L431.6 400.3L431.8 400.8L432.7 404L432.9 404.5L433.1 404.6L433.3 404.4L433.6 403.9L434.4 400.7L434.7 400.2L434.9 400L435.1 400.2L435.3 400.7L436.2 403.9L436.4 404.4L436.6 404.6L436.8 404.5L437 404L437.9 400.8L438.1 400.3L438.3 400L438.6 400.1L438.8 400.6L439.8 404.1L440 404.5L440.2 404.6L440.4 404.4L440.6 403.8L441.5 400.6L441.7 400.2L441.9 400L442.2 400.2L442.4 400.7L443.2 404L443.5 404.4L443.7 404.6L443.9 404.5L444.1 404L445 400.8L445.2 400.2L445.4 400L445.6 400.2L445.8 400.6L446.7 403.8L446.9 404.4L447.1 404.6L447.4 404.5L447.6 404.1L448.6 400.6L448.8 400.1L449 400L449.2 400.3L449.4 400.8L450.3 404L450.5 404.5L450.7 404.6L451 404.4L451.2 403.9L452 400.7L452.3 400.2L452.5 400L452.7 400.2L452.9 400.7L453.8 403.9L454 404.4L454.2 404.6L454.4 404.5L454.6 404L455.5 400.8L455.7 400.3L455.9 400L456.2 400.1L456.4 400.5L457.4 404.1L457.6 404.5L457.8 404.6L458 404.4L458.2 403.9L459.1 400.6L459.3 400.2L459.5 400L459.8 400.2L460 400.7L460.8 403.9L461.1 404.4L461.3 404.6L461.5 404.5L461.7 404L462.6 400.8L462.8 400.2L463 400L463.2 400.2L463.4 400.6L464.3 403.8L464.5 404.4L464.8 404.6L465 404.5L465.2 404.1L466.2 400.6L466.4 400.2L466.6 400L466.8 400.3L467 400.8L467.9 404L468.1 404.5L468.3 404.6L468.6 404.4L468.8 403.9L469.6 400.7L469.9 400.2L470.1 400L470.3 400.2L470.5 400.7L471.4 403.9L471.6 404.4L471.8 404.6L472 404.5L472.2 404.1L473.1 400.9L473.3 400.3L473.6 400L473.8 400.1L474 400.5L475 404L475.2 404.5L475.4 404.6L475.6 404.4L475.8 403.9L476.7 400.7L476.9 400.2L477.1 400L477.4 400.2L477.6 400.7L478.4 403.9L478.7 404.4L478.9 404.6L479.1 404.5L479.3 404L480.2 400.8L480.4 400.3L480.6 400L480.8 400.1L481 400.6L482 404.1L482.2 404.5L482.5 404.6L482.7 404.4L482.9 403.8L483.8 400.6L484 400.2L484.2 400L484.4 400.2L484.6 400.8L485.5 404L485.7 404.5L485.9 404.6L486.2 404.4L486.4 403.9L487.2 400.7L487.5 400.2L487.7 400L487.9 400.2L488.1 400.6L489 403.8L489.2 404.4L489.4 404.6L489.6 404.5L489.9 404.1L490.8 400.6L491 400.1L491.3 400L491.5 400.3L491.7 400.8L492.6 404L492.8 404.5L493 404.6L493.2 404.4L493.4 403.9L494.3 400.7L494.5 400.2L494.7 400L495 400.2L495.2 400.7L496 403.9L496.3 404.4L496.5 404.6L496.7 404.5L496.9 404L497.8 400.8L498 400.3L498.2 400L498.4 400.1L498.7 400.6L499.6 404.1L499.8 404.5L500.1 404.6L500.3 404.4L500.5 403.8L501.4 400.6L501.6 400.2L501.8 400L502 400.2L502.2 400.7L503.1 404L503.3 404.4L503.5 404.6L503.8 404.5L504 404L504.8 400.8L505.1 400.2L505.3 400L505.5 400.2L505.7 400.6L506.6 403.8L506.8 404.4L507 404.6L507.2 404.5L507.5 404.1L508.4 400.6L508.6 400.1L508.9 400L509.1 400.3L509.3 400.8L510.2 404L510.4 404.5L510.6 404.6L510.8 404.4L511 403.9L511.9 400.7L512.1 400.2L512.3 400L512.6 400.2L512.8 400.7L513.6 403.9L513.9 404.4L514.1 404.6L514.3 404.5L514.5 404L515.4 400.8L515.6 400.3L515.8 400L516 400.1L516.3 400.5L517.2 404.1L517.4 404.5L517.7 404.6L517.9 404.4L518.1 403.9L519 400.6L519.2 400.2L519.4 400L519.6 400.2L519.8 400.7L520.7 403.9L520.9 404.4L521.1 404.6L521.4 404.5L521.6 404L522.4 400.8L522.7 400.2L522.9 400L523.1 400.2L523.3 400.6L524.2 403.8L524.4 404.4L524.6 404.6L524.8 404.5L525.1 404.1L526 400.6L526.3 400.1L526.5 400L526.7 400.3L526.9 400.8L527.8 404L528 404.5L528.2 404.6L528.4 404.4L528.6 403.9L529.5 400.7L529.7 400.2L529.9 400L530.2 400.2L530.4 400.7L531.2 403.9L531.5 404.4L531.7 404.6L531.9 404.5L532.1 404.1L533 400.9L533.2 400.3L533.4 400L533.6 400.1L533.9 400.5L534.8 404L535.1 404.5L535.3 404.6L535.5 404.4L535.7 403.9L536.6 400.7L536.8 400.2L537 400L537.2 400.2L537.4 400.7L538.3 403.9L538.5 404.4L538.7 404.6L539 404.5L539.2 404L540.1 400.8L540.3 400.3L540.5 400L540.7 400.1L540.9 400.6L541.9 404.1L542.1 404.5L542.3 404.6L542.5 404.4L542.8 403.8L543.6 400.6L543.9 400.2L544.1 400L544.3 400.2L544.5 400.8L545.4 404L545.6 404.5L545.8 404.6L546 404.4L546.2 403.9L547.1 400.7L547.3 400.2L547.5 400L547.8 400.2L548 400.6L548.9 403.8L549.1 404.4L549.3 404.6L549.5 404.5L549.7 404.1L550.7 400.6L550.9 400.1L551.1 400L551.4 400.3L551.6 400.8L552.4 404L552.7 404.5L552.9 404.6L553.1 404.4L553.3 403.9L554.2 400.7L554.4 400.2L554.6 400L554.8 400.2L555 400.7L555.9 403.9L556.1 404.4L556.3 404.6L556.6 404.5L556.8 404L557.7 400.8L557.9 400.3L558.1 400L558.3 400.1L558.5 400.6L559.5 404.1L559.7 404.5L559.9 404.6L560.2 404.4L560.4 403.8L561.2 400.6L561.5 400.2L561.7 400L561.9 400.2L562.1 400.7L563 404L563.2 404.4L563.4 404.6L563.6 404.4L563.8 404L564.7 400.8L564.9 400.2L565.2 400L565.4 400.2L565.6 400.6L566.5 403.8L566.7 404.4L566.9 404.6L567.1 404.5L567.3 404.1L568.3 400.6L568.5 400.1L568.7 400L569 400.3L569.2 400.8L570 404L570.3 404.5L570.5 404.6L570.7 404.4L570.9 403.9L571.8 400.7L572 400.2L572.2 400L572.4 400.2L572.6 400.7L573.5 403.9L573.7 404.4L574 404.6L574.2 404.5L574.4 404L575.3 400.8L575.5 400.3L575.7 400L575.9 400.1L576.1 400.6L577.1 404.1L577.3 404.5L577.5 404.6L577.8 404.4L578 403.9L578.8 400.6L579.1 400.2L579.3 400L579.5 400.2L579.7 400.7L580.6 403.9L580.8 404.4L581 404.6L581.2 404.5L581.4 404L582.3 400.8L582.5 400.2L582.8 400L583 400.2L583.2 400.6L584.1 403.8L584.3 404.4L584.5 404.6L584.7 404.5L584.9 404.1L585.9 400.6L586.1 400.1L586.3 400L586.6 400.3L586.8 400.8L587.6 404L587.9 404.5L588.1 404.6L588.3 404.4L588.5 403.9L589.4 400.7L589.6 400.2L589.8 400L590 400.2L590.2 400.7L591.1 403.9L591.3 404.4L591.6 404.6L591.8 404.5L592 404.1L592.9 400.8L593.1 400.3L593.3 400L593.5 400.1L593.7 400.5L594.7 404.1L594.9 404.5L595.1 404.6L595.4 404.4L595.6 403.9L596.4 400.7L596.7 400.2L596.9 400L597.1 400.2L597.3 400.7L598.2 403.9L598.4 404.4L598.6 404.6L598.8 404.5L599.1 404L599.9 400.8L600.1 400.3L600.4 400L600.6 400.1L600.8 400.6L601.8 404.1L602 404.5L602.2 404.6L602.4 404.4L602.6 403.8L603.5 400.6L603.7 400.2L603.9 400L604.2 400.2L604.4 400.8L605.2 404L605.5 404.5L605.7 404.6L605.9 404.4L606.1 403.9L607 400.7L607.2 400.2L607.4 400L607.6 400.2L607.9 400.6L608.7 403.8L608.9 404.4L609.2 404.6L609.4 404.5L609.6 404.1L610.5 400.9L610.7 400.3L610.9 400L611.1 400.1L611.3 400.5L612.3 404L612.5 404.5L612.7 404.6L613 404.4L613.2 403.9L614 400.7L614.3 400.2L614.5 400L614.7 400.2L614.9 400.7L615.8 403.9L616 404.4L616.2 404.6L616.4 404.5L616.7 404L617.5 400.8L617.7 400.3L618 400L618.2 400.1L618.4 400.6L619.4 404.1L619.6 404.5L619.8 404.6L620 404.4L620.2 403.8L621.1 400.6L621.3 400.2L621.5 400L621.8 400.2L622 400.7L622.8 404L623.1 404.4L623.3 404.6L623.5 404.4L623.7 404L624.6 400.7L624.8 400.2L625 400L625.2 400.2L625.5 400.6L626.3 403.8L626.5 404.4L626.8 404.6L627 404.5L627.2 404.1L628.1 400.9L628.3 400.3L628.5 400L628.7 400.1L628.9 400.5L629.9 404L630.1 404.5L630.3 404.6L630.6 404.4L630.8 403.9L631.6 400.7L631.9 400.2L632.1 400L632.3 400.2L632.5 400.7L633.4 403.9L633.6 404.4L633.8 404.6L634 404.5L634.3 404L635.1 400.8L635.3 400.3L635.6 400L635.8 400.1L636 400.6L637 404.1L637.2 404.5L637.4 404.6L637.6 404.4L637.8 403.8L638.7 400.6L638.9 400.2L639.1 400L639.4 400.2L639.6 400.7L640.4 403.9L640.7 404.4L640.9 404.6L641.1 404.5L641.3 404L642.2 400.8L642.4 400.2L642.6 400L642.8 400.2L643.1 400.6L643.9 403.8L644.1 404.4L644.4 404.6L644.6 404.5L644.8 404.1L645.7 400.9L645.9 400.3L646.1 400L646.3 400.1L646.5 400.5L647.5 404L647.7 404.5L647.9 404.6L648.2 404.4L648.4 403.9L649.3 400.7L649.5 400.2L649.7 400L649.9 400.2L650.1 400.7L651 403.9L651.2 404.4L651.4 404.6L651.6 404.5L651.9 404L652.7 400.8L652.9 400.3L653.2 400L653.4 400.1L653.6 400.5L654.5 403.7L654.7 404.3L654.9 404.6L655.1 404.5L655.3 404.2L656.2 401L656.5 400.2L656.7 400L657 400.2L657.4 401.5" stroke="url(#gc4)" stroke-width="1.9"/>
</g>
<path d="M374.7,32.5H657.4M374.7,117.4H657.4M374.7,202.1H657.4M374.7,287H657.4M374.7,371.6H657.4M374.7,456.7H657.4M374.7,32.5V456.7M657.4,32.5V456.7" stroke="#000" stroke-width="1.6" fill="none"/>
<path d="M375,456.7v-2.5M386.21,456.7v-1.5M397.42,456.7v-1.5M408.63,456.7v-1.5M419.84,456.7v-2.5M431.05,456.7v-1.5M442.26,456.7v-1.5M453.47,456.7v-1.5M464.68,456.7v-2.5M475.89,456.7v-1.5M487.1,456.7v-1.5M498.31,456.7v-1.5M509.52,456.7v-2.5M520.73,456.7v-1.5M531.94,456.7v-1.5M543.15,456.7v-1.5M554.36,456.7v-2.5M565.57,456.7v-1.5M576.78,456.7v-1.5M587.99,456.7v-1.5M599.2,456.7v-2.5M610.41,456.7v-1.5M621.62,456.7v-1.5M632.83,456.7v-1.5M644.04,456.7v-2.5M655.25,456.7v-1.5M374.7,78.78h2.5M374.7,42.06h2.5M374.7,163.78h2.5M374.7,127.06h2.5M374.7,248.78h2.5M374.7,212.06h2.5M374.7,333.88h2.5M374.7,297.16h2.5M374.7,418.48h2.5M374.7,381.76h2.5" stroke="#000" stroke-width="0.8" fill="none"/>
<g font-family="Liberation Serif" fill="#222">
<text x="373.3" y="45.06" font-size="9" text-anchor="end">4.28</text>
<text x="373.3" y="81.78" font-size="9" text-anchor="end">4.24</text>
<text x="373.3" y="118.5" font-size="9" text-anchor="end">4.2</text>
<text x="643.6" y="112.3" font-size="10" text-anchor="end"><tspan font-style="italic">ω</tspan><tspan font-size="6.8" dy="1.7">dr</tspan><tspan dy="-1.7"> = 0.5 GHz</tspan></text>
<text x="373.3" y="130.06" font-size="9" text-anchor="end">4.28</text>
<text x="373.3" y="166.78" font-size="9" text-anchor="end">4.24</text>
<text x="373.3" y="203.5" font-size="9" text-anchor="end">4.2</text>
<text x="643.6" y="197.3" font-size="10" text-anchor="end"><tspan font-style="italic">ω</tspan><tspan font-size="6.8" dy="1.7">dr</tspan><tspan dy="-1.7"> = 1. GHz</tspan></text>
<text x="373.3" y="215.06" font-size="9" text-anchor="end">4.28</text>
<text x="373.3" y="251.78" font-size="9" text-anchor="end">4.24</text>
<text x="373.3" y="288.5" font-size="9" text-anchor="end">4.2</text>
<text x="643.6" y="282.8" font-size="10" text-anchor="end"><tspan font-style="italic">ω</tspan><tspan font-size="6.8" dy="1.7">dr</tspan><tspan dy="-1.7"> = 3.5 GHz</tspan></text>
<text x="373.3" y="300.16" font-size="9" text-anchor="end">4.28</text>
<text x="373.3" y="336.88" font-size="9" text-anchor="end">4.24</text>
<text x="373.3" y="373.6" font-size="9" text-anchor="end">4.2</text>
<text x="643.6" y="367.3" font-size="10" text-anchor="end"><tspan font-style="italic">ω</tspan><tspan font-size="6.8" dy="1.7">dr</tspan><tspan dy="-1.7"> = 7.5 GHz</tspan></text>
<text x="373.3" y="384.76" font-size="9" text-anchor="end">4.28</text>
<text x="373.3" y="421.48" font-size="9" text-anchor="end">4.24</text>
<text x="373.3" y="458.2" font-size="9" text-anchor="end">4.2</text>
<text x="643.6" y="452.3" font-size="10" text-anchor="end"><tspan font-style="italic">ω</tspan><tspan font-size="6.8" dy="1.7">dr</tspan><tspan dy="-1.7"> = 20. GHz</tspan></text>
<text x="375" y="465.8" font-size="8.5" text-anchor="middle">0</text>
<text x="419.84" y="465.8" font-size="8.5" text-anchor="middle">2</text>
<text x="464.68" y="465.8" font-size="8.5" text-anchor="middle">4</text>
<text x="509.52" y="465.8" font-size="8.5" text-anchor="middle">6</text>
<text x="554.36" y="465.8" font-size="8.5" text-anchor="middle">8</text>
<text x="599.2" y="465.8" font-size="8.5" text-anchor="middle">10</text>
<text x="644.04" y="465.8" font-size="8.5" text-anchor="middle">12</text>
<text x="497.5" y="484.6" font-size="14.5"><tspan font-style="italic">t</tspan><tspan dx="10.5">(ns)</tspan></text>
<text x="358.8" y="27.5" font-size="18"><tspan font-style="italic">T</tspan><tspan font-size="12.5" dy="3.2">2</tspan><tspan dy="-3.2">(</tspan><tspan font-style="italic">L</tspan><tspan>,</tspan><tspan font-style="italic">t</tspan><tspan>)</tspan><tspan dx="18">(K)</tspan></text>
</g>
<g font-family="Liberation Sans" font-weight="bold" font-size="20.5" fill="#000">
<text x="376.6" y="46.3" font-size="20.5">c</text>
<text x="376.6" y="137.6" font-size="20.5">d</text>
<text x="376.6" y="217.6" font-size="20.5">e</text>
<text x="376.6" y="306.7" font-size="20.5">f</text>
<text x="376.6" y="385.2" font-size="20.5">g</text>
</g>
</svg></body></html>
